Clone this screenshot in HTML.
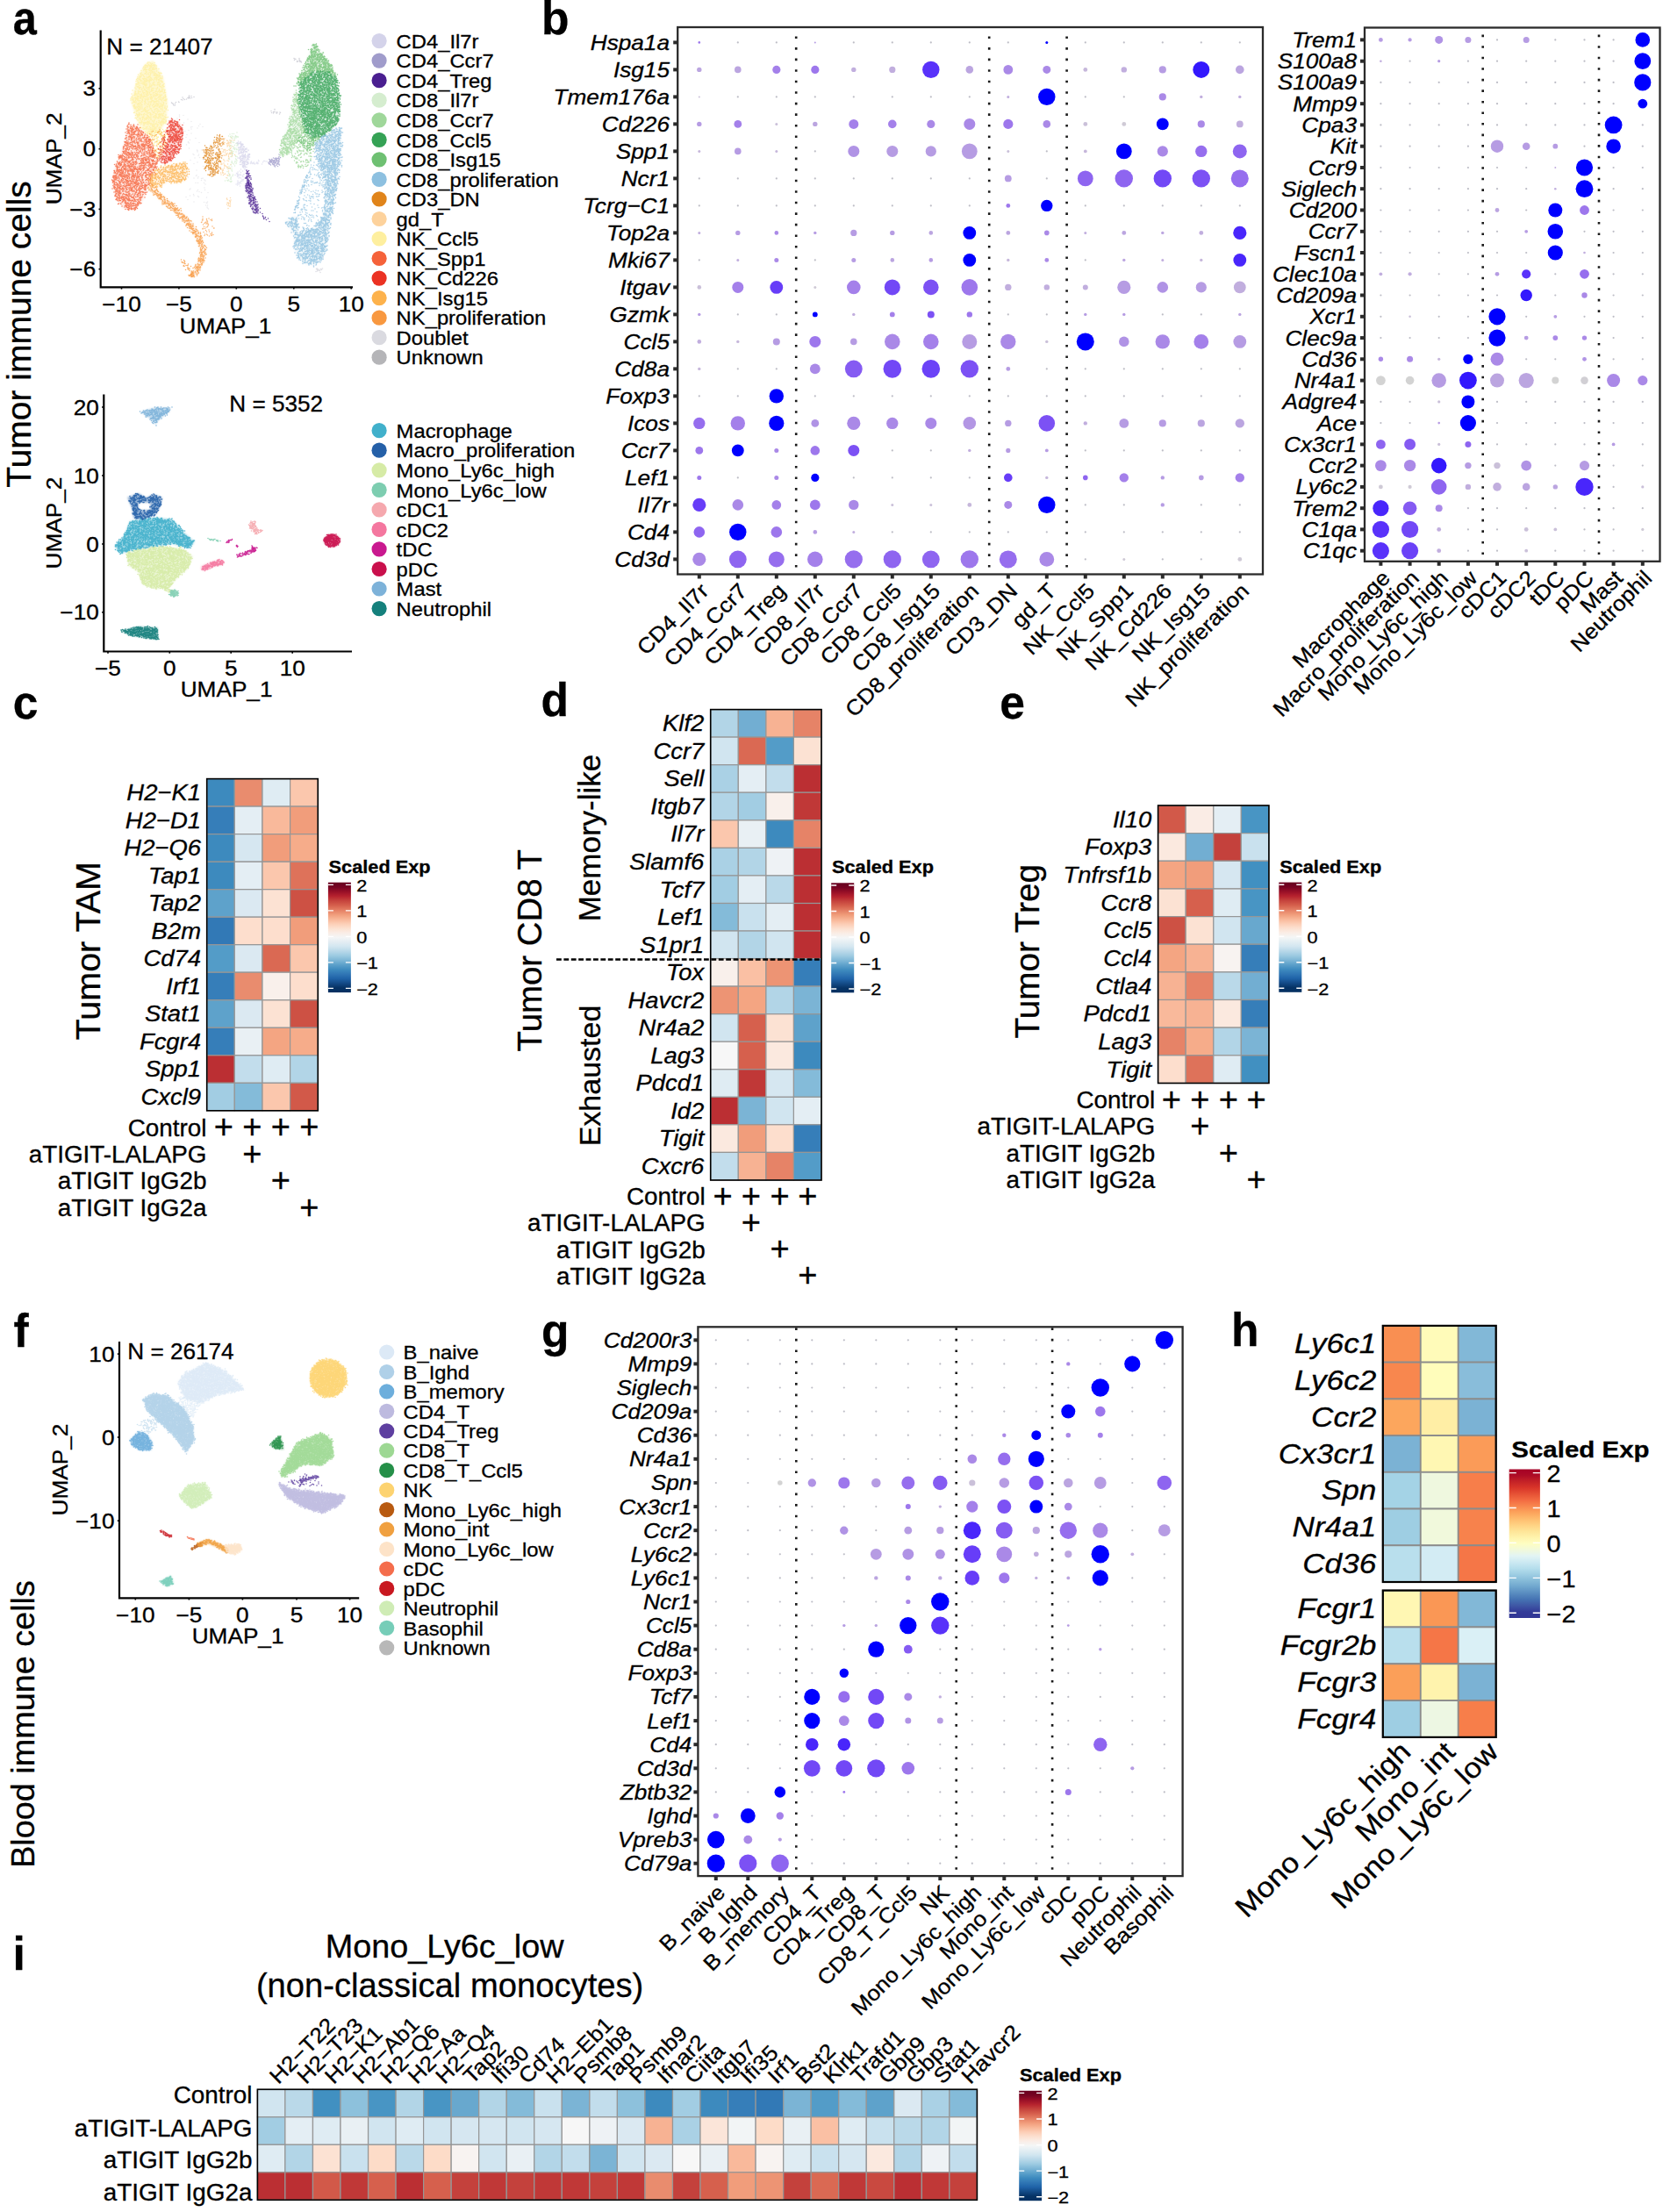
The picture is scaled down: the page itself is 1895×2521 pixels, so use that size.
<!DOCTYPE html>
<html><head><meta charset="utf-8"><title>Figure</title>
<style>html,body{margin:0;padding:0;background:#fff}svg{display:block}text{font-family:"Liberation Sans", sans-serif;fill:#000;stroke:#000;stroke-width:.3px}</style></head>
<body>
<svg width="1895" height="2521" viewBox="0 0 1895 2521">
<rect width="1895" height="2521" fill="#fff"/>
<text transform="translate(14.7 39) scale(0.9 1)" font-size="54" font-weight="bold">a</text>
<text transform="translate(617 38.5) scale(0.955 1)" font-size="54" font-weight="bold">b</text>
<text transform="translate(14.8 818.6) scale(0.955 1)" font-size="54" font-weight="bold">c</text>
<text transform="translate(616.6 816.3) scale(0.955 1)" font-size="54" font-weight="bold">d</text>
<text transform="translate(1139.3 818.7) scale(0.955 1)" font-size="54" font-weight="bold">e</text>
<text transform="translate(15.5 1534.5) scale(0.955 1)" font-size="54" font-weight="bold">f</text>
<text transform="translate(617 1534.7) scale(0.955 1)" font-size="54" font-weight="bold">g</text>
<text transform="translate(1403 1533.5) scale(0.955 1)" font-size="54" font-weight="bold">h</text>
<text transform="translate(14.5 2245) scale(0.955 1)" font-size="54" font-weight="bold">i</text>
<text transform="translate(34.5 381) rotate(-90)" font-size="39" text-anchor="middle">Tumor immune cells</text>
<text transform="translate(38.8 1965) rotate(-90)" font-size="37.8" text-anchor="middle">Blood immune cells</text>
<path d="M114.7 34.5V327.4H402" fill="none" stroke="#000" stroke-width="2.2"/><line x1="138.5" y1="327.4" x2="138.5" y2="329.6" stroke="#000" stroke-width="1.6"/><text transform="translate(138.5 354.9) scale(1.11 1)" font-size="23.6" text-anchor="middle">−10</text><line x1="203.9" y1="327.4" x2="203.9" y2="329.6" stroke="#000" stroke-width="1.6"/><text transform="translate(203.9 354.9) scale(1.11 1)" font-size="23.6" text-anchor="middle">−5</text><line x1="269.3" y1="327.4" x2="269.3" y2="329.6" stroke="#000" stroke-width="1.6"/><text transform="translate(269.3 354.9) scale(1.11 1)" font-size="23.6" text-anchor="middle">0</text><line x1="334.8" y1="327.4" x2="334.8" y2="329.6" stroke="#000" stroke-width="1.6"/><text transform="translate(334.8 354.9) scale(1.11 1)" font-size="23.6" text-anchor="middle">5</text><line x1="400.2" y1="327.4" x2="400.2" y2="329.6" stroke="#000" stroke-width="1.6"/><text transform="translate(400.2 354.9) scale(1.11 1)" font-size="23.6" text-anchor="middle">10</text><line x1="112.5" y1="100.8" x2="114.7" y2="100.8" stroke="#000" stroke-width="1.6"/><text transform="translate(109.2 109.3) scale(1.11 1)" font-size="23.6" text-anchor="end">3</text><line x1="112.5" y1="169.7" x2="114.7" y2="169.7" stroke="#000" stroke-width="1.6"/><text transform="translate(109.2 178.2) scale(1.11 1)" font-size="23.6" text-anchor="end">0</text><line x1="112.5" y1="238.4" x2="114.7" y2="238.4" stroke="#000" stroke-width="1.6"/><text transform="translate(109.2 246.9) scale(1.11 1)" font-size="23.6" text-anchor="end">−3</text><line x1="112.5" y1="306.7" x2="114.7" y2="306.7" stroke="#000" stroke-width="1.6"/><text transform="translate(109.2 315.2) scale(1.11 1)" font-size="23.6" text-anchor="end">−6</text><text transform="translate(256.9 380) scale(1.11 1)" font-size="23.6" text-anchor="middle">UMAP_1</text><text transform="translate(70 180.9) rotate(-90) scale(1.11 1)" font-size="23.6" text-anchor="middle">UMAP_2</text><text transform="translate(121.3 62.2) scale(1.025 1)" font-size="25.5">N = 21407</text>
<path d="M118.3 449.6V742.5H401" fill="none" stroke="#000" stroke-width="2.2"/><line x1="123" y1="742.5" x2="123" y2="744.7" stroke="#000" stroke-width="1.6"/><text transform="translate(123 770) scale(1.11 1)" font-size="23.6" text-anchor="middle">−5</text><line x1="193.3" y1="742.5" x2="193.3" y2="744.7" stroke="#000" stroke-width="1.6"/><text transform="translate(193.3 770) scale(1.11 1)" font-size="23.6" text-anchor="middle">0</text><line x1="263.2" y1="742.5" x2="263.2" y2="744.7" stroke="#000" stroke-width="1.6"/><text transform="translate(263.2 770) scale(1.11 1)" font-size="23.6" text-anchor="middle">5</text><line x1="333.2" y1="742.5" x2="333.2" y2="744.7" stroke="#000" stroke-width="1.6"/><text transform="translate(333.2 770) scale(1.11 1)" font-size="23.6" text-anchor="middle">10</text><line x1="116.1" y1="464" x2="118.3" y2="464" stroke="#000" stroke-width="1.6"/><text transform="translate(112.8 472.5) scale(1.11 1)" font-size="23.6" text-anchor="end">20</text><line x1="116.1" y1="542" x2="118.3" y2="542" stroke="#000" stroke-width="1.6"/><text transform="translate(112.8 550.5) scale(1.11 1)" font-size="23.6" text-anchor="end">10</text><line x1="116.1" y1="620" x2="118.3" y2="620" stroke="#000" stroke-width="1.6"/><text transform="translate(112.8 628.5) scale(1.11 1)" font-size="23.6" text-anchor="end">0</text><line x1="116.1" y1="697.8" x2="118.3" y2="697.8" stroke="#000" stroke-width="1.6"/><text transform="translate(112.8 706.3) scale(1.11 1)" font-size="23.6" text-anchor="end">−10</text><text transform="translate(258.1 794) scale(1.11 1)" font-size="23.6" text-anchor="middle">UMAP_1</text><text transform="translate(70 596) rotate(-90) scale(1.11 1)" font-size="23.6" text-anchor="middle">UMAP_2</text><text transform="translate(261.3 469.2) scale(1.025 1)" font-size="25.5">N = 5352</text>
<path d="M136 1528.9V1821.3H409.2" fill="none" stroke="#000" stroke-width="2.2"/><line x1="154.3" y1="1821.3" x2="154.3" y2="1823.5" stroke="#000" stroke-width="1.6"/><text transform="translate(154.3 1848.8) scale(1.11 1)" font-size="23.6" text-anchor="middle">−10</text><line x1="215.4" y1="1821.3" x2="215.4" y2="1823.5" stroke="#000" stroke-width="1.6"/><text transform="translate(215.4 1848.8) scale(1.11 1)" font-size="23.6" text-anchor="middle">−5</text><line x1="276.4" y1="1821.3" x2="276.4" y2="1823.5" stroke="#000" stroke-width="1.6"/><text transform="translate(276.4 1848.8) scale(1.11 1)" font-size="23.6" text-anchor="middle">0</text><line x1="338" y1="1821.3" x2="338" y2="1823.5" stroke="#000" stroke-width="1.6"/><text transform="translate(338 1848.8) scale(1.11 1)" font-size="23.6" text-anchor="middle">5</text><line x1="398.6" y1="1821.3" x2="398.6" y2="1823.5" stroke="#000" stroke-width="1.6"/><text transform="translate(398.6 1848.8) scale(1.11 1)" font-size="23.6" text-anchor="middle">10</text><line x1="133.8" y1="1543.1" x2="136" y2="1543.1" stroke="#000" stroke-width="1.6"/><text transform="translate(130.5 1551.6) scale(1.11 1)" font-size="23.6" text-anchor="end">10</text><line x1="133.8" y1="1638" x2="136" y2="1638" stroke="#000" stroke-width="1.6"/><text transform="translate(130.5 1646.5) scale(1.11 1)" font-size="23.6" text-anchor="end">0</text><line x1="133.8" y1="1733.2" x2="136" y2="1733.2" stroke="#000" stroke-width="1.6"/><text transform="translate(130.5 1741.7) scale(1.11 1)" font-size="23.6" text-anchor="end">−10</text><text transform="translate(271.1 1873) scale(1.11 1)" font-size="23.6" text-anchor="middle">UMAP_1</text><text transform="translate(77 1675.1) rotate(-90) scale(1.11 1)" font-size="23.6" text-anchor="middle">UMAP_2</text><text transform="translate(145.3 1548.5) scale(1.025 1)" font-size="25.5">N = 26174</text>
<defs><filter id="sblur" x="-5%" y="-5%" width="110%" height="110%"><feGaussianBlur stdDeviation="1.3"/></filter></defs><g filter="url(#sblur)"><path d="M149.2 115.8L156.8 138.6L168.2 153.8L180.8 151.3L189.7 138.6L190.9 115.8L185.9 88L174.5 69L165.6 72.8L156.8 87.9Z" fill="#FEEFA0" fill-opacity="0.5" fill-rule="evenodd"/><path d="M127.7 207L131.5 224.7L140.3 237.3L153 239.9L163.1 227.2L170.7 208.3L175.8 189.2L174.5 171.5L168.2 153.8L156.8 143.7L145.4 141.1L144.1 154L139 171.6L131.5 189.2Z" fill="#F5623A" fill-opacity="0.15" fill-rule="evenodd"/><path d="M182.1 179.1L185.9 186.7L193.5 184.2L202.3 174L207.4 161.4L208.7 148.7L203.6 138.6L193.5 136.1L191 146.2L192.1 156.7L188.4 168.9Z" fill="#EB3223" fill-opacity="0.15" fill-rule="evenodd"/><path d="M169.4 201.9L172 212L180.8 214.6L190.9 207.2L202.3 209.5L211.2 205.7L215 195.6L211.2 184.2L201 186.7L185.9 189.2L175.8 195.6Z" fill="#FDB24C" fill-opacity="0.15" fill-rule="evenodd"/><path d="M183.6 229.5L198.9 242.3L213.7 257.2L223.4 271.7L228.1 285.7L225.8 297L219.9 307.6L216.2 312.6L216.4 314.5L217.3 315.8L219.1 316.6L220.7 316.3L221.7 315.6L225.3 311.4L232 299.4L234.7 286.1L234.6 284.4L229.4 268.9L218.8 253L203.4 237.5L188.1 224.8L174 210.7L172.3 210L170.1 210.6L168.7 212.6L169.2 215.1Z" fill="#F89840" fill-opacity="0.15" fill-rule="evenodd"/><path d="M283.5 227.6L288.6 241.4L290.8 243L293.5 242.6L294.8 241L295 238.7L290.2 225.6L286.2 210.8L284.8 208.9L282.6 208.2L280.1 209.4L279.3 212Z" fill="#4A1F90" fill-opacity="0.15" fill-rule="evenodd"/><path d="M336.4 100.5L341.9 93.7L358.2 81.6L374.1 81.6L383.8 88.3L377 74.7L367.6 61.2L358.1 49L355.4 54.5L349.9 68.1L341.8 84.2Z" fill="#6EC072" fill-opacity="0.15" fill-rule="evenodd"/><path d="M339.1 114.1L343.2 133.1L347.2 149.4L355.4 157.5L366.2 156.1L377.1 148L385.2 138.5L387.2 124.9L386.6 106L383.9 89.7L374.4 81.5L358.1 81.5L341.8 93.7Z" fill="#35A255" fill-opacity="0.15" fill-rule="evenodd"/><path d="M318.7 172.4L321.5 179.2L331 173.8L339 160.3L347.2 149.4L343.2 133L336.4 100.5L332.3 124.9L328.3 145.1L321.5 160.2Z" fill="#9FD79A" fill-opacity="0.15" fill-rule="evenodd"/><path d="M335 268.7L335 280.9L339.1 293.2L348.6 301.3L358 302.6L366.2 295.8L371.6 285L377.1 246.9L385.2 206.3L387.9 186L389.3 165.7L388.6 145.3L377.1 148L366.2 156.1L358.1 165.6L363.5 185.9L370.3 206.4L371.6 226.7L367.5 247L358 260.4L343.2 263.3Z" fill="#8DC0E0" fill-opacity="0.15" fill-rule="evenodd"/><path d="M324.2 253.8L331 260.7L336.4 270.1L340.4 260.6L336.4 245.7Z" fill="#8DC0E0" fill-opacity="0.15" fill-rule="evenodd"/></g><g fill="none" stroke-linecap="round" stroke-linejoin="round" transform="scale(.5)"><path d="M301 235zm1-6zm-4-1zm4-1zm-1-1zm-3-1zm5-2zm-4-1zm2-1zm1-3zm-2-4zm2-8zm9-25zm-1 4zm0 6zm0 2zm0 3zm-2 4zm2 3zm-2 5zm1 1zm-1 2zm0 1zm-1 2zm1 0zm2 0zm-4 3zm2 0zm1 5zm-2 1zm3 0zm-6 3zm5 0zm1 0zm1 0zm-2 3zm-4 1zm1 1zm4 1zm-6 1zm1 0zm2 0zm3 2zm-3 4zm-1 1zm-2 1zm3 1zm-2 1zm4 1zm-3 1zm0 1zm3 0zm1 0zm-3 1zm1 0zm2 1zm1 6zm-4 2zm-2 1zm6 2zm-2 4zm1 5zm-2 1zm3 2zm8 15zm-1-4zm-1-3zm-3-5zm0-1zm5-1zm0-2zm-1-1zm-5-2zm1 0zm0-1zm2-2zm-3-1zm5 0zm0-1zm-6-1zm2 0zm2 0zm2 0zm0-1zm-1-1zm0-2zm-3-4zm-2-2zm3 0zm3 0zm-1-2zm-1-1zm-1-1zm-2-2zm5 0zm-6-2zm4 0zm-1-1zm3 0zm0-2zm-5-1zm2-1zm3-1zm-4-1zm2 0zm-1-1zm4-1zm0-1zm-3-3zm-2-1zm5 0zm-4-1zm-3-2zm1 0zm2-1zm-3-1zm7 0zm-5-2zm2-1zm-3-1zm2-1zm1 0zm-4-1zm7-3zm-7-1zm3 0zm1-1zm-1-2zm3-2zm-3-1zm0-1zm3-4zm-1-1zm0-1zm1 0zm-1-2zm-4-1zm2 0zm-1-1zm4-2zm-5-3zm3 0zm-4-1zm3-2zm3 0zm-3-1zm-1-1zm0-3zm-2-2zm6-1zm-2-1zm-3-1zm1-1zm5 0zm-1-2zm-4-1zm5 0zm-1-2zm-3-3zm12-17zm-1 3zm1 4zm-5 1zm0 5zm-2 1zm0 2zm1 1zm3 0zm2 1zm1 1zm-5 1zm-1 2zm4 4zm2 1zm0 1zm-7 1zm1 2zm1 0zm-2 1zm4 0zm3 2zm-3 2zm-2 1zm4 0zm0 1zm1 0zm-1 1zm1 5zm-7 2zm1 0zm6 0zm-3 3zm-1 1zm0 2zm3 2zm-1 1zm-5 1zm5 1zm2 1zm0 2zm-4 1zm-1 2zm1 0zm-3 1zm3 0zm-3 1zm3 0zm4 1zm-7 1zm1 0zm1 0zm3 0zm-5 2zm1 0zm5 1zm-4 1zm3 2zm-1 1zm1 0zm0 2zm-2 2zm1 2zm-3 2zm1 3zm2 1zm-2 1zm-1 4zm3 0zm-4 3zm4 1zm-4 1zm6 4zm1 0zm-3 1zm-2 1zm-2 5zm3 1zm4 0zm-4 1zm3 4zm-2 1zm1 1zm2 0zm-2 1zm-5 1zm0 1zm5 1zm0 1zm-3 2zm1 2zm1 1zm-4 1zm2 0zm5 1zm-5 2zm5 0zm-6 8zm5 1zm-6 1zm3 0zm3 2zm1 1zm8 8zm-4-2zm-2-7zm4 0zm-3-1zm4-1zm-1-2zm-5-4zm1-3zm6 0zm-5-2zm2 0zm1-1zm-5-1zm3 0zm4 0zm0-1zm-6-4zm4-1zm-1-1zm1 0zm0-1zm-4-1zm1 0zm5 0zm0-1zm-2-1zm-5-4zm0-2zm7 0zm-3-1zm-4-1zm1-1zm6-1zm0-2zm-4-1zm2-1zm-2-2zm4 0zm-6-1zm2 0zm-3-1zm4 0zm-4-1zm3 0zm-2-2zm1 0zm5-1zm-4-1zm3-3zm-4-4zm5-1zm-5-2zm2-1zm-1-2zm-2-1zm2-1zm0-2zm4-1zm-4-1zm3 0zm-4-1zm-2-4zm5 0zm-5-1zm1 0zm3 0zm-2-1zm-1-1zm6 0zm-2-2zm1 0zm-6-1zm4-1zm-4-2zm7 0zm-7-1zm2 0zm5 0zm-2-2zm1 0zm0-1zm-2-2zm3 0zm-6-1zm2 0zm-2-1zm1 0zm-2-3zm5 0zm-1-3zm-1-3zm2 0zm1 0zm-4-1zm-1-1zm2 0zm1 0zm3-1zm-7-1zm2 0zm3 0zm-3-2zm-1-2zm2 0zm4 0zm-3-2zm2 0zm-5-1zm2 0zm-2-1zm5 0zm-6-1zm4-1zm3 0zm-3-1zm3 0zm-7-1zm2 0zm2 0zm2-3zm-6-1zm1 0zm5-5zm-4-2zm2-1zm1-1zm2-2zm-3-1zm0-3zm-2-1zm4 0zm1 0zm-3-1zm-3-1zm2-2zm-1-2zm3 0zm-5-1zm3-2zm-1-1zm3 0zm1 0zm-3-1zm6-6zm3 0zm-4 2zm7 0zm-7 1zm3 2zm1 2zm3 0zm-7 1zm1 0zm4 0zm-5 1zm5 0zm2 0zm-7 1zm7 0zm-7 1zm5 2zm1 1zm-2 1zm-1 2zm1 1zm2 0zm1 0zm-2 1zm2 3zm-3 1zm-3 3zm6 0zm-4 1zm4 0zm0 1zm-3 3zm2 0zm-4 2zm3 0zm1 0zm-3 1zm-2 1zm6 0zm-3 3zm2 0zm1 2zm-7 1zm5 0zm2 0zm-5 1zm1 0zm1 2zm1 0zm-1 2zm2 3zm-1 3zm1 2zm-1 1zm0 1zm-5 1zm3 0zm-3 1zm4 1zm-3 2zm3 1zm0 2zm-4 3zm6 0zm-4 1zm3 1zm-5 2zm1 0zm-1 1zm5 0zm2 1zm-5 1zm0 1zm5 0zm-7 2zm6 2zm-4 2zm5 0zm-7 1zm7 1zm-4 1zm-2 2zm1 4zm4 0zm0 1zm-3 3zm4 1zm-5 1zm0 1zm4 1zm-1 1zm0 1zm-4 1zm4 1zm2 3zm-1 1zm-3 3zm-3 1zm0 2zm4 3zm1 0zm-3 1zm5 0zm-1 3zm-5 2zm1 2zm-2 1zm3 0zm-1 1zm2 0zm0 1zm2 1zm-6 1zm3 2zm4 0zm-6 4zm4 0zm-3 1zm1 2zm1 0zm-3 1zm4 1zm-3 1zm0 2zm5 0zm-7 5zm5 0zm2 2zm-5 3zm4 0zm0 1zm-3 4zm3 0zm1 2zm-6 1zm4 1zm-4 2zm4 1zm1 1zm-2 4zm6-8zm-2-1zm1 0zm2 0zm0-2zm3 0zm-2-3zm-4-1zm2 0zm3 0zm-5-1zm2 0zm1 0zm2-1zm1 0zm-4-2zm2-3zm2 0zm-3-2zm4 0zm-4-1zm2-1zm-3-2zm3-1zm-5-1zm6-3zm1 0zm-4-2zm0-1zm4 0zm-6-3zm-1-4zm5-1zm-5-1zm6-1zm-6-1zm0-3zm4 0zm-4-1zm5-3zm1 0zm-2-3zm-2-2zm-1-4zm4-4zm2 0zm0-1zm-4-2zm2-2zm0-1zm-5-1zm5 0zm-4-4zm6 0zm-7-1zm6 0zm-4-1zm5 0zm-5-1zm4 0zm-4-1zm2 0zm-2-1zm-2-2zm0-2zm1 0zm2 0zm0-2zm-2-1zm6 0zm-6-2zm4 0zm0-1zm-3-3zm5 0zm-2-3zm0-1zm-4-3zm0-1zm1 0zm2 0zm1-2zm-4-1zm1 0zm0-2zm1-1zm1 0zm3 0zm-7-3zm1-2zm0-2zm3 0zm1-1zm1 0zm0-2zm-2-1zm2-2zm-5-5zm5 0zm-3-2zm-1-1zm-1-2zm5-7zm-6-4zm4-1zm3 0zm-5-2zm2-1zm-3-2zm1-1zm4-1zm1 0zm-4-1zm2 0zm-2-2zm3 0zm-6-2zm5 0zm-3-2zm-1-1zm0-1zm6 0zm-3-1zm3 0zm0-1zm-6-1zm6 0zm-4-2zm5-2zm2 5zm0 1zm0 1zm3 0zm-5 3zm4 1zm0 1zm0 1zm-3 1zm3 0zm1 0zm0 5zm-5 2zm0 3zm3 0zm-3 2zm4 0zm-3 1zm5 0zm-1 1zm-5 1zm2 0zm4 1zm-2 1zm0 2zm-2 1zm2 0zm2 0zm-6 1zm4 0zm1 0zm-5 1zm6 0zm0 1zm-6 1zm4 0zm1 3zm-5 3zm7 2zm-6 4zm6 0zm-1 1zm-5 1zm6 4zm0 2zm-3 1zm1 2zm-3 4zm2 0zm0 1zm3 1zm-7 1zm3 2zm2 1zm1 0zm0 1zm-2 1zm-4 1zm7 0zm-6 1zm4 0zm-2 1zm-1 5zm-1 1zm4 0zm-4 1zm3 1zm1 3zm2 0zm-4 1zm2 0zm-4 1zm2 0zm2 3zm-5 1zm4 0zm3 0zm-3 2zm3 1zm-6 1zm5 0zm1 0zm-4 1zm-2 1zm0 1zm5 0zm-2 4zm2 1zm-6 1zm2 0zm-1 4zm4 0zm-5 3zm7 1zm-5 2zm2 1zm1 0zm-1 2zm-2 1zm-1 1zm2 2zm2 0zm0 1zm-5 1zm1 0zm6 1zm-4 1zm-3 3zm0 1zm5 4zm-3 4zm2 0zm-4 1zm6 0zm-6 3zm6 1zm1 1zm-7 2zm4 0zm-4 1zm2 1zm2 0zm-3 1zm-1 1zm0 2zm1 0zm2 1zm2 0zm1 0zm-3 2zm3 2zm-4 1zm2 0zm-2 5zm6-5zm2 0zm0-10zm5 0zm-2-1zm-1-1zm-4-5zm0-1zm7 0zm-2-2zm-1-2zm-3-1zm4 0zm2-1zm0-1zm-4-1zm-1-1zm0-5zm5 0zm-6-1zm0-1zm1-1zm4 0zm1 0zm-3-1zm-2-1zm0-1zm3-1zm0-1zm-4-1zm2 0zm0-1zm3 0zm-3-1zm-3-5zm5 0zm-4-1zm2 0zm-3-1zm0-2zm6-2zm1 0zm-4-3zm-1-1zm3 0zm-2-2zm2 0zm1 0zm-6-2zm7 0zm-6-1zm5-2zm-4-1zm5-1zm-5-3zm-2-2zm2-3zm4 0zm1-1zm-3-1zm-4-2zm2-1zm4 0zm-3-1zm3 0zm-4-1zm2-2zm2 0zm1-1zm-3-1zm-4-1zm4 0zm0-4zm0-1zm3-1zm-6-1zm4 0zm-2-2zm0-2zm0-1zm4-5zm-2-1zm1 0zm-3-1zm-1-3zm2 0zm1-2zm-4-2zm1 0zm-1-1zm2 0zm-1-4zm3 0zm-4-2zm0-1zm2 0zm1-2zm2-1zm-1-1zm-4-1zm2-2zm-3-1zm5 0zm-5-1zm4 0zm-4-1zm3-1zm0-3zm3 0zm0-1zm-5-1zm1 0zm0-8zm6 10zm2 7zm0 4zm-2 1zm0 5zm0 1zm1 1zm-1 1zm3 0zm3 4zm-2 2zm-2 2zm2 1zm2 1zm-2 1zm-3 2zm3 3zm-3 1zm6 1zm-5 1zm-2 2zm7 0zm-5 1zm5 2zm-2 1zm-4 4zm4 5zm-3 2zm3 1zm-1 1zm-1 1zm-3 2zm6 1zm-5 1zm3 3zm1 1zm-1 3zm1 0zm-4 2zm2 0zm-1 1zm2 0zm-1 1zm-2 2zm1 1zm0 2zm5 0zm-5 3zm0 2zm0 2zm4 1zm1 0zm-2 4zm-5 1zm4 0zm-4 3zm3 0zm-1 2zm2 0zm3 2zm-3 3zm0 1zm0 1zm2 0zm-4 1zm4 0zm1 0zm-3 2zm-3 1zm0 2zm1 0zm2 0zm-2 1zm4 0zm-6 2zm4 0zm2 0zm-6 1zm4 1zm-3 2zm-1 3zm10-5zm-2-2zm2-2zm1-1zm-2-1zm2-2zm-3-1zm1-4zm3-1zm-2-1zm5 0zm-7-1zm2-4zm-2-8zm7-3zm-4-1zm-1-1zm1-1zm0-1zm-3-1zm0-1zm5-1zm-5-2zm5 0zm-2-6zm-1-6zm-1-1zm-1-1zm3 0zm-1-2zm2 0zm-4-4zm2-1zm-2-1zm1-2zm-1-1zm1-1zm0-5zm-1-6z" stroke="#FEEFA0" stroke-width="3" stroke-opacity="0.8"/><path d="M343 307zm-1 9zm8 31zm0-9zm1-6zm-1-3zm1-3zm-5-7zm4-5zm1-2zm-7-3zm2 0zm5 0zm-7-1zm3-1zm1-1zm6-5zm1 1zm-3 2zm1 3zm0 2zm4 2zm-5 1zm6 0zm-2 3zm2 0zm-5 2zm5 0zm1 3zm-2 1zm-5 1zm7 0zm0 1zm-1 1zm-4 1zm4 3zm1 0zm-6 4zm6 1zm0 4zm-1 3zm0 1zm-2 3zm0 1zm-3 7zm3 1zm3 1zm-5 1zm5 1zm0 3zm-2 2zm4-2zm1-3zm2 0zm1-6zm-5-2zm2 0zm3-3zm-5-5zm4-8zm1-1zm-5-2zm1-2zm1-1zm4 0zm-1-3zm-2-2zm-3-1zm0-7zm1 0zm0-1zm6 0zm0-2zm-4-3zm3-1zm-5-2zm2 0zm4-1zm-7-1zm0-2zm7 0zm-1-1zm0-1zm-2-1zm7-2zm3 4zm-5 2zm-1 1zm1 2zm-1 1zm6 1zm-4 3zm-2 1zm5 0zm2 3zm-4 1zm1 0zm-1 2zm4 0zm-7 1zm2 0zm0 2zm4 0zm-6 1zm6 4zm1 0zm-6 3zm6 1zm-1 2zm1 0zm-3 1zm-4 1zm4 2zm-3 3zm1 0zm0 5zm1 0zm-2 3zm1 0zm6-13zm1-6zm2-2zm4-10zm-7-4zm1-1zm3-3zm-2-10zm1-1z" stroke="#FEEFA0" stroke-width="3" stroke-opacity="0.9"/><path d="M341 305zm0 7zm10 30zm-1-3zm-3-12zm-1-5zm-1-2zm4-1zm2-1zm-4-1zm-1-5zm2-3zm-4-3zm2-6zm3-1zm10 3zm-2 5zm-2 1zm-2 2zm3 13zm1 9zm-2 10zm-3 2zm4 2zm10 10zm0-7zm-6-1zm3-7zm2-2zm-4-10zm2-3zm2-1zm1-19zm-1-2zm-5-1zm0-2zm3-1zm-1-1zm2 0zm0-4zm10 5zm-5 2zm-1 6zm4 1zm3 1zm-3 1zm3 7zm-3 1zm1 6zm-4 11zm4 3zm-3 2zm-2 1zm1 10zm8-19zm1-8zm3-19zm3-8z" stroke="#FDB24C" stroke-width="3" stroke-opacity="0.8"/><path d="M255 410zm6-35zm-1 14zm1 0zm0 2zm2 2zm-3 1zm2 0zm-2 6zm3 0zm-5 1zm1 0zm3 0zm0 1zm-3 1zm-2 1zm4 0zm-2 1zm4 0zm-3 2zm3 0zm-3 1zm3 0zm-1 1zm-4 2zm-1 1zm1 0zm3 0zm-1 1zm-3 1zm3 0zm-1 1zm-2 1zm5 0zm-1 2zm-1 1zm1 0zm-1 1zm1 1zm1 1zm-4 1zm3 2zm-2 1zm2 1zm2 0zm-1 1zm-2 1zm2 0zm-6 1zm5 0zm2 3zm0 4zm-3 1zm3 6zm-1 2zm0 1zm7 18zm2-1zm-1-6zm-3-1zm-3-2zm3 0zm4-1zm-6-1zm3-1zm3-1zm-4-1zm1 0zm3 0zm-5-2zm-2-1zm0-1zm5 0zm1-2zm0-1zm-5-1zm1 0zm4 0zm-4-1zm-2-1zm5-1zm-2-2zm-2-1zm3 0zm3 0zm-6-1zm5 0zm-2-1zm-3-2zm2 0zm3-2zm-4-1zm1 0zm0-1zm4-1zm-2-1zm-2-2zm2 0zm-3-2zm5 0zm-7-1zm3 0zm2-1zm-2-1zm-1-2zm-1-1zm6-3zm0-1zm-3-1zm-4-1zm1-2zm2-1zm0-1zm4 0zm-5-1zm1 0zm4 0zm-7-2zm6 0zm-4-1zm4 0zm-5-3zm6 0zm-4-2zm-3-2zm3-1zm2 0zm1-2zm1-1zm-6-1zm2 0zm1 0zm-1-1zm2-1zm1 0zm-3-1zm-1-1zm2-1zm-1-2zm1-1zm-2-1zm3 0zm-3-1zm1 0zm1 0zm-4-1zm0-1zm4 0zm-3-2zm5-1zm-5-1zm6 0zm-2-1zm1 0zm1-2zm-3-1zm-1-2zm4-6zm-1-4zm0-5zm9-1zm-4 2zm-2 1zm4 0zm-5 1zm4 0zm1 0zm2 0zm-6 1zm1 0zm-2 1zm4 1zm2 0zm-6 1zm2 0zm5 0zm-1 1zm0 3zm0 1zm0 3zm-4 1zm5 0zm-6 1zm5 0zm-5 1zm4 0zm-3 2zm2 0zm-4 1zm3 1zm1 0zm1 0zm-2 1zm-2 1zm1 0zm2 0zm-2 1zm5 2zm-7 1zm7 0zm-2 2zm0 1zm-4 2zm4 0zm-5 1zm2 0zm4 0zm-3 1zm1 0zm-1 1zm3 0zm-6 1zm6 1zm-5 1zm4 0zm2 0zm-4 1zm4 1zm-3 1zm-3 1zm5 0zm-6 1zm2 0zm-1 1zm3 0zm-4 1zm3 1zm3 0zm-4 1zm3 0zm-2 1zm1 0zm2 2zm1 2zm0 1zm-7 1zm5 1zm-1 2zm1 0zm2 1zm-3 1zm-3 1zm-1 1zm1 0zm3 0zm-3 2zm1 0zm-2 1zm2 2zm2 2zm-3 2zm3 0zm-1 1zm1 0zm-3 1zm0 2zm6 0zm0 1zm-7 1zm1 0zm2 0zm2 1zm-1 1zm-3 2zm0 1zm-1 1zm2 0zm5 0zm-7 3zm1 0zm-1 1zm2 0zm2 0zm-4 1zm2 1zm5 2zm-7 1zm1 2zm0 1zm4 0zm2 0zm-2 1zm2 1zm-4 1zm-3 1zm1 0zm1 0zm3 0zm1 2zm-6 2zm1 1zm2 0zm4 3zm-1 1zm-3 3zm1 1zm2 5zm8 7zm-2-5zm3-2zm-2-1zm1-1zm1-4zm-2-1zm2-2zm-3-1zm-4-1zm0-1zm6 0zm1 0zm-5-1zm2-1zm-4-1zm1 0zm2 0zm2-1zm-3-1zm1 0zm3-1zm-5-1zm5 0zm1-1zm-4-1zm-2-1zm4 0zm2-3zm-5-2zm3 0zm-3-1zm-1-1zm6-3zm0-1zm-5-1zm-2-1zm6 0zm-6-1zm0-3zm1 0zm2 0zm3-2zm-5-1zm5-1zm-2-2zm-4-1zm6 0zm-4-1zm5 0zm-3-3zm-4-3zm2 0zm-2-2zm5 0zm-2-1zm4-3zm-6-1zm5 0zm-5-1zm4 0zm-4-2zm3-1zm1-2zm1 0zm-4-1zm-2-1zm4 0zm1 0zm1 0zm-6-1zm0-1zm2 0zm4 0zm-2-2zm-4-2zm1 0zm4 0zm-4-2zm4-1zm-4-2zm6 0zm0-2zm-6-1zm4-1zm-2-1zm4 0zm-3-1zm0-1zm1 0zm-4-1zm1 0zm3 0zm1 0zm1-2zm0-1zm-7-1zm2 0zm1 0zm1-1zm2 0zm1 0zm-5-2zm1 0zm3-1zm-2-1zm-1-2zm-1-2zm4 0zm0-2zm1 0zm-3-1zm-2-1zm5 0zm-6-2zm4 0zm-5-1zm1 0zm1 0zm1 0zm0-1zm4 0zm-4-1zm3-2zm-1-1zm-2-1zm-3-2zm1 0zm4-4zm-2-1zm4 0zm-5-1zm-1-1zm6 0zm-3-1zm-4-2zm2 0zm5 0zm-3-1zm3 0zm0-1zm0-2zm-6-1zm4-1zm-4-1zm0-1zm2-2zm-2-1zm2 0zm3-2zm1 0zm-2-1zm-1-1zm1-1zm0-4zm1-1zm-2-1zm3 0zm-2-7zm2 0zm0-7zm-1-7zm8-22zm-1 3zm1 0zm-3 3zm-1 2zm1 2zm2 0zm-5 4zm3 0zm3 2zm-2 1zm2 0zm-1 1zm-3 1zm3 1zm-1 2zm1 0zm2 0zm-3 1zm-2 1zm4 0zm1 1zm-7 4zm7 1zm-1 1zm-1 1zm1 0zm1 0zm-7 1zm0 2zm5 2zm2 0zm-6 3zm3 2zm-4 2zm2 1zm2 1zm2 0zm-6 1zm1 0zm2 0zm-1 2zm3 1zm-2 1zm-3 1zm2 0zm-1 1zm5 1zm0 1zm-4 1zm1 0zm-3 2zm2 1zm5 0zm-5 1zm1 0zm3 1zm-6 1zm5 0zm-5 3zm3 2zm2 0zm-3 1zm3 0zm1 0zm-3 1zm1 0zm1 1zm1 0zm-6 1zm7 0zm-7 1zm1 0zm-1 1zm1 0zm3 0zm3 0zm-7 1zm3 0zm2 2zm-4 2zm4 0zm2 0zm-3 2zm2 0zm-6 2zm2 1zm-2 1zm1 1zm1 0zm-1 1zm0 1zm5 0zm-3 1zm2 0zm2 0zm-3 1zm1 0zm0 1zm1 0zm1 1zm-5 1zm2 2zm0 2zm1 1zm-3 1zm5 0zm-4 1zm2 0zm1 1zm1 0zm0 1zm-1 2zm1 0zm-5 1zm0 3zm4 0zm0 1zm-3 1zm1 1zm1 0zm1 0zm-3 1zm0 3zm1 0zm0 1zm3 1zm-2 1zm1 0zm-5 1zm5 0zm-4 1zm-2 1zm3 0zm3 1zm-5 1zm4 0zm1 0zm-4 1zm4 0zm-3 2zm4 0zm-6 1zm2 1zm4 0zm-1 1zm-6 1zm1 2zm2 0zm-1 1zm5 0zm-5 1zm3 0zm-5 1zm3 0zm1 0zm1 0zm-5 1zm4 0zm-4 1zm4 0zm-1 1zm-3 1zm1 1zm4 0zm-1 2zm-3 1zm5 0zm1 0zm-6 1zm1 0zm3 0zm2 0zm-7 1zm2 3zm4 1zm0 1zm-5 1zm5 0zm-6 1zm1 0zm1 1zm-1 1zm6 0zm-1 3zm-1 1zm1 0zm-4 1zm1 0zm3 0zm-4 1zm4 2zm-1 1zm1 0zm-6 1zm1 0zm5 0zm-5 1zm-1 1zm3 0zm-1 1zm4 0zm0 1zm-4 1zm3 0zm0 2zm-5 1zm6 0zm-5 1zm0 1zm1 0zm4 0zm-4 1zm2 0zm2 0zm-4 1zm3 0zm2 1zm-3 1zm3 0zm-1 1zm-3 4zm-2 1zm1 0zm3 0zm-5 2zm4 0zm-4 1zm7 1zm-6 1zm2 0zm2 0zm1 0zm0 2zm-6 1zm1 0zm6 0zm-2 1zm1 0zm-5 1zm2 0zm3 0zm1 2zm-2 1zm-2 1zm2 0zm1 1zm-1 1zm6-2zm2 0zm-3-1zm1 0zm2-1zm-3-1zm1-2zm-1-2zm4 0zm-1-1zm1 0zm-5-1zm3-1zm-4-3zm2 0zm3 0zm1-1zm-4-1zm0-1zm2-3zm1 0zm-5-1zm2 0zm5 0zm-2-1zm-5-2zm6-3zm-2-1zm1 0zm0-1zm-2-1zm-2-1zm1 0zm-2-1zm4-2zm-4-2zm7 0zm-1-5zm0-1zm-4-1zm4 0zm-2-1zm-2-1zm2-1zm2 0zm-4-2zm1 0zm1 0zm-2-1zm2 0zm-4-1zm1 0zm2 0zm4 0zm-1-1zm-4-2zm0-1zm0-1zm0-1zm5 0zm-7-2zm6-1zm-6-1zm2 0zm2 0zm1 0zm-1-1zm-2-3zm3 0zm2 0zm-6-1zm1 0zm1 0zm3-1zm-5-1zm6-1zm-3-1zm3-1zm-3-1zm0-1zm0-1zm-1-1zm1 0zm0-1zm3 0zm0-1zm-2-1zm2-2zm-7-1zm4 0zm3 0zm0-3zm-2-1zm2-1zm-3-2zm3 0zm-6-1zm3 0zm2 0zm-5-1zm1 0zm2 0zm-3-1zm4 0zm1-1zm-4-1zm2 0zm2 0zm-5-1zm2 0zm-2-1zm2-3zm-3-1zm3 0zm4 0zm-5-1zm4 0zm-2-1zm-4-2zm4 0zm1 0zm0-1zm-4-1zm6 0zm-5-1zm1 0zm-3-3zm5 0zm1-1zm-5-2zm2-2zm3 0zm-1-1zm2-2zm-2-2zm-3-1zm5 0zm-3-2zm-1-1zm-3-2zm3 0zm3 0zm-5-2zm3 0zm-3-1zm4 0zm-5-1zm0-1zm7 0zm-4-1zm2 0zm1-1zm-3-3zm4-4zm-3-2zm3 0zm0-1zm-4-1zm-3-1zm2-2zm5 0zm-3-1zm2 0zm-1-2zm-3-1zm-2-1zm6 0zm-5-3zm3 0zm0-1zm1 0zm2-2zm-4-2zm1 0zm-1-2zm2-1zm-2-1zm0-1zm3 0zm-5-2zm3 0zm2 0zm-4-2zm-1-1zm2 0zm3-2zm-3-1zm1 0zm3 0zm-7-1zm4-1zm1-2zm-2-2zm3-1zm-6-2zm3 0zm2 0zm-1-1zm1-1zm1 0zm-1-1zm-2-1zm3 0zm-5-1zm2 0zm2-1zm2 0zm-6-2zm2-1zm1 0zm-2-4zm7-1zm-1 2zm0 2zm1 0zm1 0zm5 1zm0 2zm-3 1zm1 1zm2 1zm-6 1zm-1 1zm6 0zm-3 3zm2 0zm-1 1zm-4 1zm1 0zm3 0zm-3 1zm2 0zm-3 2zm2 1zm-1 1zm2 0zm3 1zm-6 4zm1 1zm2 0zm-1 3zm5 0zm-1 3zm-4 1zm5 1zm-5 2zm1 0zm-3 2zm2 0zm5 0zm-3 2zm0 1zm-4 5zm5 0zm-5 1zm1 0zm2 0zm2 0zm-4 1zm1 0zm2 0zm1 0zm-5 1zm5 0zm1 3zm-3 1zm2 0zm-1 1zm3 3zm-4 4zm4 0zm-2 3zm-2 2zm3 0zm-6 1zm0 1zm3 0zm4 1zm-6 2zm6 0zm-4 2zm2 1zm2 3zm-7 1zm7 3zm-2 1zm-5 1zm2 0zm3 0zm1 1zm-5 1zm4 0zm-3 2zm4 1zm-6 1zm5 0zm-5 1zm1 0zm3 3zm-2 1zm-2 1zm5 1zm-5 1zm3 0zm1 1zm2 0zm-5 1zm2 0zm4 0zm-1 1zm-3 1zm-3 1zm1 1zm-1 1zm2 1zm-2 4zm5 0zm0 2zm-4 1zm-1 1zm3 0zm1 1zm2 0zm-5 1zm0 1zm3 0zm-4 2zm3 0zm4 0zm-5 2zm5 2zm-5 1zm0 1zm4 0zm1 0zm-1 2zm0 1zm-5 1zm4 0zm-1 1zm3 0zm-6 1zm1 0zm1 1zm1 0zm1 0zm-3 2zm3 0zm2 1zm-1 1zm1 0zm-4 2zm2 0zm-2 1zm-3 1zm2 1zm1 0zm4 0zm-4 2zm4 0zm-3 2zm1 1zm2 1zm-5 2zm-1 1zm6 0zm-5 1zm5 0zm-5 1zm4 0zm-1 2zm2 0zm-3 2zm0 1zm0 1zm-2 2zm0 1zm-1 2zm-1 1zm5 0zm1 0zm-5 2zm0 2zm1 0zm0 2zm2 0zm-1 3zm2 0zm-4 1zm5 0zm-6 4zm1 0zm-1 1zm4 0zm-3 2zm4 1zm2 0zm-6 2zm3 0zm1 3zm2 0zm0 1zm-5 1zm1 0zm2 0zm-5 2zm2 0zm3 1zm-2 2zm6-4zm-1-5zm3-2zm-3-1zm2 0zm-2-1zm3-1zm1 0zm-3-2zm3 0zm2-1zm-4-1zm5 0zm-1-1zm-2-1zm-2-3zm1 0zm4 0zm-7-1zm4-1zm2-3zm1 0zm0-2zm-6-1zm2 0zm0-2zm4-1zm-7-1zm1 0zm1 0zm-1-1zm2-1zm0-1zm2 0zm-2-1zm3-1zm0-1zm1-2zm-2-1zm1 0zm-5-1zm2-2zm3 0zm-2-2zm1 0zm0-2zm1-1zm-5-2zm5-1zm-6-2zm3 0zm-3-1zm2 0zm-2-1zm1 0zm3 0zm-1-2zm3 0zm-6-1zm3-1zm-2-3zm1-2zm3 0zm-5-1zm5-1zm0-2zm-5-1zm1 0zm2-2zm1 0zm1 0zm-5-1zm1 0zm1-1zm1 0zm3 0zm-3-1zm4 0zm-5-1zm-1-2zm4-1zm1 0zm-5-1zm0-2zm2 0zm0-1zm2-1zm-5-1zm2 0zm3 0zm-3-2zm0-1zm-2-1zm6 0zm1 0zm-1-1zm-4-1zm2 0zm2 0zm1 0zm-2-2zm-4-2zm4-1zm1-1zm0-1zm-1-5zm2 0zm-7-1zm0-1zm5-8zm-3-1zm3 0zm1 0zm-4-1zm-1-3zm1 0zm1-2zm-1-1zm-2-2zm0-1zm2-2zm2 0zm1-2zm-3-1zm4-2zm-3-3zm-3-2zm1 0zm-1-2zm5 0zm-1-1zm3 0zm-7-2zm1 0zm6 0zm-4-1zm1 0zm3-1zm-3-1zm-2-1zm3 0zm-4-3zm3 0zm-3-2zm1 0zm-2-1zm0-1zm2 0zm2 0zm2-4zm-4-2zm3 0zm-1-3zm2 0zm-4-3zm5 0zm-5-1zm1 0zm4-1zm-7-2zm1 0zm1 0zm4 0zm-2-1zm1 0zm-3-2zm3 0zm-1-1zm-1-3zm1-1zm2-1zm-6-1zm5-1zm1 0zm-4-1zm2 0zm0-2zm-4-2zm2 0zm-2-1zm1 0zm6 0zm-6-1zm-1-1zm2-5zm8 14zm1 2zm-3 1zm5 0zm1 0zm1 1zm0 1zm-6 1zm1 0zm2 1zm-2 1zm2 0zm-2 1zm3 0zm-1 1zm-4 1zm4 0zm1 5zm2 0zm0 1zm-5 1zm-1 1zm0 1zm1 1zm-1 1zm-1 2zm3 0zm1 1zm0 5zm2 0zm1 0zm-5 1zm1 0zm4 0zm-2 1zm-2 1zm2 1zm1 0zm-3 1zm3 2zm-4 2zm1 1zm1 0zm-4 2zm4 0zm0 1zm1 0zm1 0zm-6 2zm5 1zm-5 2zm1 0zm2 3zm1 0zm0 4zm3 1zm-4 1zm-2 1zm1 5zm3 0zm1 0zm-3 1zm3 1zm-3 1zm4 0zm-6 1zm4 0zm1 0zm1 0zm-6 1zm4 0zm2 1zm-5 1zm1 1zm3 0zm-5 2zm1 0zm3 0zm1 0zm-5 1zm5 1zm1 0zm-4 1zm-2 3zm1 0zm4 0zm-2 1zm3 0zm-6 2zm0 1zm6 0zm0 1zm-7 1zm5 0zm-1 1zm3 0zm-7 1zm1 1zm1 0zm-1 1zm6 0zm-6 1zm5 1zm-3 3zm-2 3zm6 0zm-7 3zm4 0zm2 0zm-2 1zm2 0zm-6 1zm3 2zm1 0zm-1 3zm1 0zm0 1zm0 2zm2 1zm-6 1zm5 1zm1 0zm-2 1zm-4 1zm1 2zm1 0zm5 0zm-1 1zm-3 1zm1 2zm-3 1zm3 0zm0 3zm2 0zm-6 1zm1 0zm2 1zm2 2zm0 1zm-5 1zm3 0zm-1 1zm-2 2zm0 5zm3 0zm2 0zm2 1zm-7 1zm6 0zm-6 1zm0 3zm6 0zm-1 1zm-5 1zm4 3zm-4 1zm1 1zm2 0zm-3 3zm0 2zm1 1zm1 7zm-2 1zm10-14zm2-7zm-2-3zm0-1zm1 0zm1 0zm3-1zm-5-5zm2 0zm-1-1zm1 0zm-2-1zm-2-1zm3 0zm1-1zm-4-1zm4 0zm-2-2zm2-1zm-3-1zm1 0zm3 0zm-3-1zm2 0zm3 0zm-5-1zm1 0zm2 0zm1 0zm-4-1zm2 0zm-2-1zm-2-4zm5 0zm-1-5zm1-2zm2 0zm0-4zm-3-1zm0-2zm1 0zm-2-1zm1-2zm1 0zm1-1zm1 0zm-7-3zm5 0zm-5-1zm3 0zm-1-1zm3 0zm-2-3zm3-1zm1 0zm-6-4zm-1-1zm5-2zm-4-1zm1 0zm0-1zm-1-3zm6 0zm-4-1zm0-1zm-1-1zm1 0zm1 0zm-2-3zm3 0zm2 0zm-7-1zm6-3zm-3-1zm1 0zm1 0zm-2-1zm3 0zm-1-1zm2 0zm-5-1zm2 0zm1 0zm-1-2zm-4-1zm4 0zm-4-1zm2 0zm3-3zm-3-2zm-2-3zm1 0zm1 0zm-2-1zm6 0zm-6-2zm2-2zm3 0zm1 0zm1 0zm-5-4zm-1-2zm-1-1zm1 0zm3-1zm-3-2zm-1-2zm3 0zm-3-1zm2 0zm-1-2zm1 0zm5 0zm-7-1zm3 0zm1 0zm2 0zm-6-1zm3 0zm4-1zm-3-2zm3-1zm-7-1zm0-1zm4 0zm2 0zm-2-1zm3 0zm-3-2zm-3-1zm2 0zm3 0zm-1-1zm1 0zm-1-1zm-1-1zm3-1zm-6-1zm1-1zm4 0zm-5-1zm0-2zm1-1zm5-1zm-4-2zm5 3zm2 3zm-2 1zm1 1zm2 3zm3 0zm-3 2zm0 1zm3 1zm0 1zm-6 1zm3 0zm1 3zm-4 1zm3 0zm2 3zm-5 2zm1 0zm2 1zm1 1zm-2 1zm3 0zm-5 1zm3 0zm4 0zm-2 1zm-3 2zm5 1zm-4 1zm-1 2zm1 0zm3 0zm0 1zm-1 2zm-3 1zm3 0zm1 2zm-6 1zm5 0zm-3 1zm3 0zm1 0zm0 3zm-2 2zm-4 1zm6 0zm1 0zm-4 2zm-3 1zm0 1zm3 1zm3 0zm-4 1zm2 2zm1 1zm-2 2zm-3 1zm2 0zm-2 1zm3 0zm2 0zm-5 1zm2 0zm4 1zm-1 1zm-1 1zm0 1zm3 0zm-4 1zm3 1zm-3 1zm0 1zm3 2zm1 0zm-2 1zm-1 2zm-3 1zm3 0zm-4 1zm1 0zm0 1zm2 0zm0 1zm-3 1zm5 1zm2 1zm-5 2zm1 1zm3 2zm1 0zm-3 1zm-4 1zm1 0zm-1 1zm7 0zm-3 1zm1 0zm1 0zm-2 2zm3 2zm-4 2zm-2 1zm6 0zm0 1zm-3 1zm2 0zm-2 1zm-3 1zm6 0zm-4 3zm-1 2zm4 1zm-2 2zm-3 1zm2 0zm1 1zm7-19zm-1-2zm-2-3zm2-2zm-2-7zm5-2zm-5-4zm2-1zm4 0zm-6-2zm0-1zm2 0zm0-1zm2-1zm-4-1zm5-1zm-2-1zm2-1zm-1-3zm-2-3zm2 0zm2 0zm-5-2zm4 0zm1-5zm-4-1zm2 0zm-2-1zm0-1zm-1-1zm3 0zm0-1zm2 0zm-6-1zm5 0zm-3-1zm-1-3zm4-1zm-1-1zm-2-1zm1-1zm0-2zm1 0zm-2-1zm1-2zm-3-7zm4-2zm-2-3zm0-3zm6 25zm0 4zm2 44z" stroke="#F5623A" stroke-width="3" stroke-opacity="0.8"/><path d="M340 317zm1 2zm2 0zm-5 1zm4 3zm-1 2zm2 4zm-1 1zm-3 1zm4 81zm4-1zm2-14zm-2-4zm4 0zm-6-1zm4-3zm1-1zm-2-2zm3 0zm-3-6zm1-6zm1-1zm1-6zm-4-1zm1 0zm1-9zm2-2zm-1-2zm-2-4zm-1-3zm1 0zm-1-3zm1 0zm0-4zm0-1zm-4-1zm5 0zm-5-1zm2-1zm3-1zm5 9zm-2 3zm0 5zm1 1zm1 0zm1 0zm0 2zm-3 1zm0 2zm1 1zm1 0zm4 1zm-1 1zm1 0zm-5 1zm5 0zm0 1zm1 1zm0 2zm-3 1zm3 2zm-6 1zm5 0zm-2 1zm0 1zm2 0zm-1 1zm-4 1zm1 0zm4 0zm-3 1zm1 0zm1 0zm-4 2zm1 2zm-1 1zm2 1zm3 0zm-6 1zm2 1zm-2 1zm4 0zm1 1zm-3 11zm6-28zm3-1zm-3-2zm2-3z" stroke="#F5623A" stroke-width="3" stroke-opacity="0.8"/><path d="M367 370zm0-3zm-3-4zm2-2zm-4-11zm13-11zm-3 4zm1 2zm1 0zm1 0zm-3 2zm1 1zm-4 3zm3 4zm-3 2zm1 0zm4 0zm-6 1zm5 0zm-4 1zm1 2zm0 1zm1 0zm3 0zm-5 1zm5 0zm1 0zm0 1zm-5 1zm5 1zm0 3zm-1 1zm1 0zm-5 1zm4 0zm2 2zm1-1zm3-1zm-3-1zm-1-1zm4 0zm2 0zm-2-2zm-1-1zm-2-1zm6-1zm-4-2zm4 0zm-4-1zm-2-1zm3 0zm3-2zm-7-1zm3-1zm1 0zm0-2zm1 0zm-2-3zm-2-1zm3 0zm-4-2zm2-1zm3-1zm-1-1zm2 0zm-1-1zm-3-2zm2 0zm3-1zm-6-1zm-1-1zm2 0zm2-1zm2-1zm-1-1zm-4-1zm6 0zm-2-2zm-1-1zm2-3zm-1-1zm0-1zm-2-1zm4-2zm-1-5zm1-16zm-2-4zm2 0zm-1-1zm0-1zm-1-5zm1-1zm0-8zm9-13zm-1 5zm1 0zm-5 1zm3 0zm-2 1zm3 0zm-1 1zm2 0zm-6 2zm1 0zm1 0zm2 3zm1 0zm-1 1zm-2 2zm2 0zm-4 2zm6 0zm-5 1zm2 1zm2 1zm1 0zm-1 1zm-1 1zm-1 3zm1 0zm1 0zm-3 2zm1 0zm3 0zm-4 2zm1 0zm-1 2zm0 1zm0 3zm-3 1zm6 0zm-1 1zm-2 2zm1 0zm-3 1zm2 0zm2 0zm2 1zm-6 1zm3 1zm1 1zm1 0zm1 0zm-3 1zm1 0zm-4 1zm5 1zm-2 1zm-1 1zm4 0zm-4 1zm-1 1zm1 0zm2 0zm-3 1zm1 0zm0 2zm-3 4zm0 1zm6 0zm1 0zm-7 1zm0 2zm5 0zm-1 1zm2 3zm-6 3zm2 0zm1 0zm2 0zm-3 3zm4 2zm1 0zm-2 1zm2 0zm-7 1zm1 0zm1 0zm0 1zm1 1zm-2 1zm2 0zm1 0zm-1 2zm3 0zm-4 1zm3 3zm1 0zm-5 2zm1 0zm2 0zm-4 2zm2 0zm4 0zm-6 1zm2 1zm3 0zm-5 1zm3 0zm0 1zm2 0zm-5 1zm5 0zm-3 1zm3 0zm1 0zm1 0zm2-4zm1-1zm-2-1zm6-1zm-3-1zm0-1zm1-1zm-1-1zm0-1zm1 0zm-2-1zm3-2zm-3-1zm-1-1zm1 0zm5 0zm-3-2zm-4-1zm7 0zm-7-1zm5 0zm-5-1zm2-1zm2 0zm1 0zm2-1zm-5-1zm3-1zm-1-1zm2 0zm-6-1zm0-1zm0-3zm1 0zm5 0zm-2-1zm-2-1zm3 0zm-5-1zm5-4zm1 0zm-5-2zm3-1zm-3-1zm1 0zm0-1zm3-1zm1 0zm-6-2zm1 0zm3-1zm2 0zm0-1zm1 0zm-6-1zm6 0zm-7-1zm4 0zm-2-1zm-2-2zm3 0zm3 0zm-5-1zm5 0zm0-1zm-2-1zm-1-1zm1 0zm3 0zm0-1zm-3-2zm3-1zm-7-1zm1 0zm2 0zm-3-3zm7 0zm-2-2zm-5-1zm3 0zm3 0zm-1-1zm1 0zm1 0zm-5-1zm1 0zm1 0zm2 0zm-5-1zm1 0zm-1-1zm3 0zm0-3zm1 0zm0-1zm-3-1zm1 0zm4-1zm-1-1zm-6-1zm2 0zm0-3zm5 0zm-1-1zm-5-2zm3 0zm-4-1zm5 0zm-5-1zm6 0zm-6-1zm0-1zm6 0zm-5-3zm8 5zm2 1zm2 0zm0 2zm-3 1zm-2 1zm5 1zm-5 1zm2 0zm4 0zm-3 1zm-3 1zm3 0zm1 1zm1 0zm0 1zm0 1zm2 0zm-7 4zm1 1zm-1 1zm4 3zm-3 1zm6 0zm-6 1zm3 0zm-3 1zm4 0zm2 0zm-4 1zm3 0zm1 0zm-1 1zm-4 1zm1 1zm-3 2zm7 0zm-5 1zm1 0zm1 0zm3 1zm-7 1zm3 0zm-2 1zm5 0zm-6 2zm3 0zm1 0zm1 0zm-3 2zm3 0zm2 0zm-4 1zm1 0zm-4 2zm2 0zm3 0zm1 0zm-6 2zm3 0zm1 0zm1 0zm-4 1zm-1 1zm2 2zm4 1zm0 3zm1 0zm-1 1zm-6 2zm7 1zm-6 1zm-1 1zm1 0zm-1 1zm3 0zm-3 1zm5 0zm-5 1zm2 0zm1 0zm2 3zm2 0zm-6 1zm-1 4zm3 0zm3 0zm-6 2zm5 0zm-4 1zm6 1zm-4 2zm5-4zm0-5zm1-1zm0-2zm3 0zm-1-4zm2-2zm-4-1zm-1-1zm1 0zm1 0zm1-2zm1 0zm-4-5zm3 0zm2 0zm0-1zm-5-2zm6-1zm-4-1zm2 0zm1 0zm0-1zm-4-1zm2 0zm4 0zm-7-1zm3-1zm-1-2zm1-1zm1 0zm2 0zm-5-1zm6-1zm0-1zm-7-2zm2-1zm2-1zm3 0zm-3-1zm1-2zm2 0zm-5-1zm-1-2zm5 0zm0-1zm-5-2zm2 0zm3 0zm-1-1zm0-1zm2 0zm-4-1zm-3-1zm7 0zm-2-1zm2 0zm-3-1zm-1-1zm-3-1zm0-1zm1-1zm0-13zm7 12zm0 11zm1 5zm-1 2zm1 2zm-1 4zm0 7z" stroke="#EB3223" stroke-width="3" stroke-opacity="0.8"/><path d="M364 358zm-2-3zm4-2zm-1-1zm-2-4zm3-1zm-1-5zm2-1zm-6-1zm0-1zm4-4zm0-1zm1-10zm9-17zm0 5zm-3 1zm1 2zm-3 1zm3 0zm-4 1zm6 0zm-3 3zm3 0zm0 1zm-6 1zm4 1zm0 1zm0 1zm-1 1zm-1 3zm1 0zm1 0zm2 3zm-5 1zm3 4zm-1 1zm-4 6zm2 3zm9-12zm-1-4zm-1-6zm-1-4zm6-4zm-6-4zm6-8zm-4-3zm3-2zm1 0zm-3-1zm1 0zm-1-1zm3 0zm2 0zm0 9zm1 4zm-1 10z" stroke="#EB3223" stroke-width="3" stroke-opacity="0.8"/><path d="M336 399zm5 3zm1 8zm-4 1zm4 2zm1 0zm0 2zm0 2zm6 10zm-4-3zm2-1zm1 0zm3 0zm-2-1zm-4-2zm1 0zm3-1zm-1-1zm1 0zm-5-2zm4 0zm-3-1zm4 0zm-2-2zm0-2zm3 0zm-6-1zm3 0zm-2-1zm1-1zm0-1zm-1-1zm3 0zm2-1zm-4-1zm1 0zm-2-2zm6-1zm-3-1zm-3-1zm2 0zm-1-1zm2-1zm0-2zm7-8zm0 1zm3 0zm-6 1zm7 0zm-6 3zm4 4zm2 0zm-4 1zm-2 1zm3 0zm1 0zm-2 1zm0 1zm-3 1zm3 2zm1 0zm-2 1zm1 0zm4 0zm-6 1zm2 0zm-2 1zm-1 1zm1 0zm2 0zm1 1zm1 1zm0 1zm-2 4zm-2 2zm0 1zm3 1zm3 0zm-7 1zm1 1zm1 0zm1 0zm1 0zm3 0zm-7 1zm5 3zm-2 1zm3 0zm-3 1zm3 1zm-1 1zm8-3zm0-2zm-1-2zm-2-2zm0-1zm5-1zm-1-1zm-1-1zm-4-2zm5 0zm1 0zm-2-2zm-2-3zm-2-2zm-1-1zm3 0zm2 0zm0-1zm-5-1zm1-1zm-1-1zm1 0zm6-1zm0-1zm-2-1zm-2-3zm0-1zm3 0zm-4-1zm-1-1zm1 0zm3-1zm0-1zm2-2zm-7-1zm2 0zm1 0zm-1-1zm-1-2zm5-2zm1-1zm0-3zm6 3zm-1 1zm1 0zm-3 4zm3 0zm-5 1zm1 0zm4 3zm2 1zm-3 1zm-2 1zm1 0zm0 1zm-3 1zm0 2zm2 0zm1 0zm3 0zm1 2zm-1 1zm-2 1zm-1 1zm2 0zm0 1zm-2 3zm-3 2zm5 0zm-4 2zm3 0zm-2 1zm4 0zm0 1zm-2 1zm-3 3zm3 0zm1 0zm2 0zm-6 1zm4 0zm-4 3zm-1 3zm0 1zm0 3zm11-14zm2-1zm-3-1zm0-1zm3-2zm-4-1zm3-1zm1 0zm-5-2zm0-1zm6 0zm-4-1zm-1-3zm5-2zm-1-4zm-4-1zm6-1zm-7-1zm3 0zm3 0zm-3-1zm-2-2zm-1-1zm2-1zm-1-3zm5 0zm-3-1zm1-1zm3-2zm-7-2zm9 1zm5 1zm-6 2zm4 0zm2 0zm-6 1zm7 0zm-3 2zm2 1zm-4 2zm4 0zm-2 2zm-4 3zm4 0zm-1 1zm2 0zm1 0zm-6 1zm2 0zm0 1zm4 1zm-4 3zm1 1zm4 2zm-7 1zm3 3zm2 0zm2 0zm-4 1zm4 0zm-5 2zm4 0zm1 0zm-7 1zm4 3zm-4 1zm6 1zm-3 1zm4 0zm-1 3zm8-1zm0-2zm0-1zm-5-1zm2 0zm2-1zm-3-2zm1 0zm-3-5zm4 0zm-4-1zm7 0zm-4-1zm4 0zm-6-1zm3-1zm2 0zm-6-3zm5 0zm1 0zm-6-1zm4 0zm1 0zm-3-2zm2 0zm1 0zm1 0zm-5-1zm1 0zm-2-3zm3-1zm2-1zm-4-1zm6 0zm-2-1zm-3-1zm2 0zm-3-1zm1-1zm5 0zm-6-3zm4 0zm-5-2zm2 0zm5 0zm-7-3zm4-3zm5 1zm2 0zm-2 2zm1 0zm1 0zm-2 2zm1 0zm2 0zm3 0zm-5 1zm4 0zm-6 3zm6 0zm0 1zm-1 1zm1 0zm-6 2zm2 0zm0 2zm1 3zm-2 2zm3 0zm2 0zm-6 1zm6 1zm-3 1zm-2 1zm2 0zm4 1zm-5 3zm1 0zm2 0zm1 0zm0 2zm1 0zm0 2zm-7 1zm6 0zm-5 1zm1 0zm4 0zm-3 1zm3 0zm0 1zm0 2zm-4 1zm4 0zm-5 1zm5 0zm1 0zm-3 1zm-1 1zm0 2zm9-1zm-4-2zm2 0zm3-1zm-5-1zm2 0zm4 0zm-1-1zm1-1zm1 0zm-6-1zm3 0zm1 0zm-3-4zm0-1zm4-1zm-5-1zm5-1zm-2-1zm-4-2zm2-1zm5 0zm-4-1zm-1-1zm2 0zm2-2zm-2-1zm0-1zm3-3zm-6-2zm1-2zm1 0zm2 0zm-2-1zm3-1zm-3-1zm1-1zm-4-2zm6-1zm-1-2zm1 0zm-5-1zm4 0zm-3-1zm0-1zm8-2zm4 0zm-4 3zm-2 1zm5 0zm1 0zm0 1zm0 2zm1 0zm-5 1zm5 0zm-4 1zm3 0zm-6 1zm2 0zm-2 1zm6 0zm-5 2zm2 2zm-2 1zm4 0zm-4 3zm-1 1zm1 1zm0 1zm1 1zm2 0zm1 0zm-5 1zm1 0zm5 0zm1 0zm-5 3zm1 3zm2 0zm-3 4zm5 0zm-7 1zm1 1zm6 0zm-7 2zm3 0zm1 1zm1 0zm1 0zm-1 2zm3-3zm2-7zm-2-1zm3-3zm4 0zm-5-5zm0-1zm5 0zm-6-5zm5 0zm-3-2zm-3-1zm2 0zm1-1zm-3-3zm2-6z" stroke="#FDB24C" stroke-width="3" stroke-opacity="0.8"/><path d="M342 418zm0 5zm1 1zm-5 3zm-1 2zm3 2zm0 3zm10 11zm0-3zm-2-4zm-4-2zm7 0zm-3-1zm-4-2zm3 0zm-1-2zm-1-2zm-1-1zm3-2zm1-2zm-1-3zm-2-2zm9 8zm-2 1zm5 3zm-1 2zm2 0zm1 1zm-6 1zm1 0zm5 1zm-7 1zm1 0zm-1 1zm1 0zm1 0zm0 1zm1 1zm1 0zm1 1zm2 0zm-6 2zm1 0zm3 1zm1 2zm9 8zm-5-1zm1 0zm2 0zm2 0zm-4-1zm1 0zm2 0zm1 0zm0-1zm-7-1zm4 0zm1 0zm2-2zm-7-1zm6 0zm-4-2zm2 0zm2 0zm1 0zm-7-1zm4 0zm-2-1zm4 0zm-1-3zm-4-3zm7 6zm0 3zm0 1zm5 1zm-5 1zm1 0zm3 0zm3 1zm0 1zm-1 3zm-6 1zm7 0zm-4 2zm0 1zm-1 2zm4 0zm0 1zm1 0zm-1 1zm-4 1zm3 2zm1 0zm-4 1zm13 8zm-1-2zm-2-1zm-1-1zm-1-5zm5 0zm-7-2zm4 0zm2 0zm-5-2zm-1-1zm1 0zm5 0zm1-2zm-7-1zm5 0zm-5-2zm5-2zm5 7zm5 1zm-6 3zm3 0zm1 0zm-3 1zm5 0zm-4 1zm-2 1zm-1 2zm4 0zm1 2zm-1 2zm3 0zm-4 1zm-1 1zm2 0zm1 4zm10 6zm-2-3zm-1-2zm2 0zm-6-1zm5 0zm2-1zm-3-1zm1 0zm-4-2zm3 0zm3 0zm0-1zm0-1zm-4-2zm-2-2zm4 0zm-4-2zm1 0zm-2-1zm3-1zm3-1zm-5-1zm-1-1zm10 7zm3 5zm-3 1zm2 0zm-4 1zm2 0zm2 0zm-4 2zm1 0zm1 0zm-2 1zm1 0zm5 0zm-1 1zm2 0zm-6 2zm1 3zm1 0zm2 0zm0 1zm-3 1zm5 1zm-1 1zm-4 2zm3 0zm2 1zm0 2zm-1 1zm3 3zm2-1zm4 0zm-5-1zm3-1zm2-2zm-5-5zm2 0zm2 0zm-6-1zm6 0zm-6-1zm1-1zm4-5zm-5-1zm1-1zm3-3zm4 13zm3 2zm1 1zm-3 1zm2 0zm-2 1zm4 0zm-2 1zm2 0zm-3 1zm-1 1zm0 1zm4 1zm2 0zm-7 2zm0 1zm3 0zm1 2zm-4 1zm7 0zm-3 2zm1 1zm10 122zm-1-2zm1-107zm-4-1zm-3-4zm7 0zm-7-1zm6 0zm1 0zm-3-1zm-3-1zm3 0zm1 0zm-4-1zm1-1zm3 0zm1 0zm-3-1zm4 0zm0-3zm-5-2zm1 0zm-3-1zm4 0zm2 0zm-4-1zm4 0zm1 0zm-2-2zm0-2zm-4-1zm-1-1zm1 0zm1-2zm8 9zm2 1zm-1 6zm-3 1zm2 1zm0 2zm2 0zm3 0zm0 2zm-7 1zm2 0zm1 0zm2 1zm-2 1zm0 1zm-1 1zm2 0zm2 0zm1 0zm-1 2zm1 1zm-7 2zm4 3zm3 0zm0 3zm-1 89zm-2 2zm3 1zm-4 1zm2 0zm-2 2zm-1 2zm5 0zm-1 1zm-2 1zm6 0zm1 0zm-2-2zm0-2zm6-3zm-6-2zm1 0zm4-1zm-1-2zm-4-1zm4-6zm-5-1zm3-2zm4 0zm-1-2zm-1-1zm1 0zm0-3zm0-62zm-1-1zm1 0zm-1-1zm2-2zm-2-3zm2 0zm-7-1zm1-2zm2 0zm2-1zm-4-1zm3-1zm3 0zm-3-1zm1 0zm-4-2zm2 0zm3-3zm-5-1zm6-4zm-7-1zm0-2zm0-4zm8 13zm0 3zm3 0zm1 4zm1 0zm-1 2zm1 0zm-5 1zm0 2zm2 2zm1 1zm1 0zm-4 1zm6 1zm-4 3zm5 1zm-6 2zm4 1zm2 0zm-5 1zm4 0zm-6 1zm5 0zm-3 1zm2 0zm-2 1zm3 0zm2 0zm0 1zm-1 1zm-2 1zm0 1zm2 1zm1 0zm0 4zm-2 1zm2 16zm-2 11zm-1 2zm3 0zm-3 2zm1 1zm1 2zm-2 1zm-1 5zm0 2zm2 1zm1 0zm1 0zm-5 3zm1 0zm2 1zm-4 1zm6 0zm-6 1zm2 0zm4 0zm-7 1zm4 0zm-3 1zm1 2zm3 0zm0 1zm-5 1zm2 0zm1 1zm-2 1zm2 1zm0 3zm2 0zm-3 3zm-1 3zm7-12zm0-4zm1-3zm-1-1zm1 0zm2-4zm1 0zm-4-1zm5-1zm-2-1zm1-1zm1-1zm-4-1zm0-1zm0-2zm1 0zm2 0zm2 0zm-2-1zm-4-1zm6 0zm-5-1zm1-1zm3 0zm1 0zm-5-1zm3 0zm3 0zm-5-1zm1 0zm4-2zm-6-1zm6 0zm-4-2zm2 0zm-4-1zm6-1zm-6-1zm3 0zm-1-1zm2 0zm-3-1zm1 0zm1 0zm-1-1zm1 0zm1-2zm-5-1zm3 0zm3 0zm-5-3zm3 0zm-2-1zm-1-2zm2 0zm-2-1zm4-1zm-4-2zm5 0zm1-2zm-4-1zm2-1zm-2-3zm1 0zm1-2zm-5-1zm2-1zm5-1zm-5-1zm1 0zm-1-2zm1 0zm2 0zm1 0zm-5-2zm4 0zm-4-2zm1-1zm0-2zm0-1zm3 0zm-4-1zm-1-2zm2 0zm1-1zm-2-1zm0-4zm0-3zm8 29zm2 1zm2 2zm-5 1zm7 2zm-4 2zm2 2zm-2 1zm-1 2zm-2 1zm1 0zm-1 1zm1 0zm3 1zm-2 2zm1 2zm2 0zm1 0zm0 1zm-4 3zm-2 2zm4 3zm-4 2zm0 3zm0 1zm2 0zm-2 4z" stroke="#F89840" stroke-width="3" stroke-opacity="0.8"/><path d="M414 597zm-1-5zm6 1zm2 2zm0 2zm-5 1zm1 0zm-1 1zm4 0zm0 1zm1 1zm1 0zm-3 4zm-1 1zm2 1zm3 8zm6-1zm-1-1zm2 0zm-2-1zm2 0zm-2-3zm-4-4zm3 0zm1 0zm1-3zm6 5zm-3 5zm0 4zm0 1zm5 1zm-1 2zm3 0zm0 1zm-2 3zm-1 1zm-1 1zm2 0zm-4 1zm4 2zm1 2zm2-4zm2 0zm-2-3z" stroke="#F89840" stroke-width="3" stroke-opacity="0.8"/><path d="M462 522zm0-1zm1 0zm0-9zm-4-5zm1-1zm1-4zm1 0zm0-3zm0-5zm9 5zm0 3zm-1 4zm-2 1zm-2 2zm4 1zm-5 7zm5 1zm-3 3zm2 4zm2 3zm-7 1zm3 5zm4 0zm-5 3zm11 1zm-4-2zm4-8zm-1-4zm-3-7zm1-3zm1-2zm-1-2zm-2-1zm1-3zm0-2zm3-6zm7 2zm-3 1zm3 2zm1 13zm3 4zm-4 10zm0 2zm-3 1zm6 2zm-5 1zm2 0zm-1 1zm6-17z" stroke="#F89840" stroke-width="3" stroke-opacity="0.7"/><path d="M463 359zm0-17zm4-10zm3 4zm0 1zm-1 4zm-2 1zm1 0zm3 0zm0 2zm-1 1zm-5 1zm5 1zm-2 1zm0 1zm2 1zm1 0zm0 3zm-4 1zm3 0zm-2 1zm2 0zm-4 1zm4 1zm-5 2zm-1 3zm4 1zm3 2zm-2 1zm1 0zm1 1zm-4 2zm2 0zm-2 1zm2 0zm2 7zm0 1zm-1 1zm-2 2zm0 1zm1 0zm0 1zm-1 1zm-2 1zm3 4zm10 11zm-2-1zm-3-1zm5-1zm-3-10zm3-2zm-3-1zm-1-2zm3 0zm1 0zm-4-2zm-3-1zm0-1zm3-1zm1 0zm1 0zm0-1zm-5-4zm3 0zm1 0zm2 0zm-3-1zm-2-1zm1 0zm2 0zm0-1zm-1-1zm3 0zm-3-2zm1 0zm3-1zm-6-1zm1 0zm-1-2zm4 0zm0-1zm1 0zm-5-2zm1 0zm1 0zm1-4zm2 0zm-1-1zm0-2zm-3-1zm3-1zm-5-2zm3-1zm4-1zm-7-2zm5-1zm1 0zm-3-1zm-3-1zm2 0zm4-2zm-1-1zm-5-1zm15-12zm0 2zm-7 5zm2 2zm1 0zm-3 1zm2 1zm3 1zm-3 2zm-1 3zm5 0zm-2 1zm2 0zm-4 3zm5 2zm-2 1zm-5 1zm2 1zm3 3zm-4 2zm0 2zm4 2zm-3 1zm1 0zm2 0zm2 0zm-2 1zm-4 2zm0 1zm4 0zm-4 1zm-1 4zm0 2zm5 0zm-5 1zm7 1zm-7 2zm2 2zm5 1zm-6 1zm0 3zm2 0zm3 0zm-3 1zm-3 1zm6 0zm-3 1zm-2 1zm4 0zm1 1zm0 1zm-2 1zm1 0zm-5 1zm5 1zm1 0zm1 0zm-7 1zm5 0zm-1 1zm-3 2zm3 0zm1 1zm2 0zm-1 1zm0 3zm-3 1zm5-4zm2 0zm0-3zm4-1zm0-1zm-4-1zm1 0zm-1-2zm0-2zm-2-1zm4-1zm1 0zm-1-2zm3 0zm-3-1zm1-1zm-2-1zm3-2zm-2-1zm1 0zm-4-1zm5 0zm-5-2zm2-1zm1-1zm3-1zm0-1zm-6-1zm4 0zm0-2zm1-3zm1 0zm0-3zm-4-1zm0-1zm2 0zm-3-1zm1 0zm4-3zm-1-3zm-3-1zm1-2zm1-2zm0-11zm1 0zm-6-2zm0-1zm3-2zm-3-2zm3-4zm0-1zm-3-1zm2 0zm3 0zm2 0zm-7-4zm6 0zm-1-2zm1-1zm0-1zm1-2zm-6-1zm5 0zm1-5zm6-1zm-1 2zm1 1zm-1 2zm2 3zm-4 1zm1 0zm4 0zm-4 3zm2 0zm-1 1zm2 0zm-6 1zm4 2zm-1 1zm-3 1zm6 2zm-5 1zm3 0zm1 0zm1 1zm-1 1zm1 0zm-6 2zm1 3zm1 5zm1 0zm1 0zm-2 1zm1 2zm3 2zm-2 1zm-4 2zm6 0zm1 1zm-7 2zm4 0zm-4 1zm5 0zm1 0zm-6 1zm3 0zm3 0zm-5 3zm2 0zm2 1zm-4 1zm1 0zm2 0zm1 1zm-3 1zm1 0zm-1 3zm2 3zm2 1zm-4 1zm2 0zm3 0zm-5 1zm5 0zm-6 5zm0 4zm0 1zm1 3zm4 0zm1 3zm-5 3zm0 2zm-2 1zm1 3zm0 1zm8-35zm1-5zm-2-22zm4-4zm1-2zm-3-1zm2-2zm-2-7zm3 0zm1 0zm-4-6zm1 0z" stroke="#E0841A" stroke-width="3" stroke-opacity="0.8"/><path d="M502 352zm1 42zm6 5zm-5-1zm3-4zm2 0zm-2-2zm0-3zm2-1zm-1-1zm-4-1zm4 0zm3-3zm0-7zm-7-1zm2-1zm-2-2zm6 0zm-1-8zm1 0zm0-10zm-5-4zm3-4zm1 0zm1-3zm0-2zm-4-2zm1-8zm4-2zm-1-3zm0-1zm0-4zm-6-3zm5-2zm3 0zm5 4zm2 1zm-7 4zm7 1zm-2 1zm1 3zm1 2zm-1 2zm-5 7zm5 2zm-4 1zm-1 4zm5 1zm-2 2zm1 1zm-5 2zm3 0zm3 12zm-6 1zm7 7zm-6 3zm-1 2zm4 0zm3 2zm-2 1zm-4 14zm-1 1zm6 2zm1 1zm-3 5zm7-8zm-2-7zm-1-5zm5-1zm-3-1zm2 0zm2-8zm-5-8zm0-5zm1-2zm-1-3zm0-3zm1-3zm3 0zm1 0zm-3-2zm1 0zm3-1zm-3-5zm3 0zm-5-2zm3-2zm1-2zm-2-4zm1-1zm-3-1zm0-3zm-1-1zm5-1zm-2-1zm-3-1zm5-2zm-2-2zm3-6zm1 6zm5 0zm-3 14zm-1 12zm0 3zm0 3zm6 1zm-6 2zm-1 2z" stroke="#FDD29C" stroke-width="3" stroke-opacity="0.8"/><path d="M517 452zm0 1zm1 2zm0 7zm-1 4zm3 9zm3-5zm2 0zm-5-1zm1-3zm4 0zm-4-2zm-1-1zm2 0zm-2-1zm5 0zm-1-3zm1 0zm-2-2zm3-1zm-1-5z" stroke="#FDD29C" stroke-width="3" stroke-opacity="0.8"/><path d="M518 391zm0 15zm0 5zm-5 1zm6 0zm7 3zm1-1zm-3-1zm3 0zm-7-1zm1-2zm4-2zm2 0zm-1-3zm1-1zm-5-3zm2 0zm-2-1zm2 0zm0-2zm-3-3zm0-1zm-1-10zm4 0zm-2-5zm4-3zm-3-13zm-1-1zm4-5zm-1-8zm0-1zm1-5zm-3-3zm0-5zm3-4zm0-8zm1-1zm-3-3zm2-6zm-1-2zm-4-1zm3-4zm5-1zm4 0zm-5 5zm3 1zm-2 3zm5 0zm1 1zm-5 1zm5 3zm-5 5zm3 1zm2 6zm-7 2zm5 2zm0 3zm2 0zm-3 1zm3 2zm-7 2zm0 2zm4 0zm-3 4zm2 0zm-2 2zm1 0zm-1 4zm-1 13zm1 0zm6 2zm-7 1zm2 1zm3 2zm2 4zm-7 2zm0 5zm0 3zm1 2zm2 8zm-1 3zm-2 12zm10-40zm1-3zm-3-2zm0-1zm4-1zm-1-2zm-2-2zm0-5zm3 0zm-3-2zm1-9zm1-5zm1 0zm3-1zm-5-2zm2-6zm1-2zm1-2zm-4-1zm3-1zm-3-12zm3-2zm2 0zm-7-1zm2 0zm2 0zm-3-2zm3-7z" stroke="#D5EDCF" stroke-width="3" stroke-opacity="0.8"/><path d="M391 234zm5 6zm3 0zm-4-2zm-1-2zm5 0zm-7-1zm15-3zm-6 1zm7 0zm5-6zm3-5zm2 3zm3 2zm-5 1zm9-2zm4-2zm-1-1zm1 0zm1-1zm1-2zm0-2zm5 1zm-4 3zm0 1zm5 0zm-4 1zm9-3z" stroke="#C9C9D2" stroke-width="3" stroke-opacity="0.8"/><path d="M404 270zm11 21zm-6-25zm0-4zm9 1zm1 17zm3 19zm6 156zm-4-6zm5-45zm2-66zm-6-8zm6-4zm-2-1zm0-2zm-5-10zm2-6zm4-10zm-2-25zm8 5zm2 12zm-3 1zm1 4zm0 10zm-3 15zm1 46zm0 65zm-2 2zm1 14zm9 14zm0-14zm-1-3zm5-26zm-4-11zm5-5zm-5-28zm2-13zm-2-7zm-2-2zm6-36zm7-28zm-3 5zm4 33zm-5 17zm1 1zm0 1zm0 2zm3 6zm-1 3zm3 4zm-5 11zm-2 18zm0 11zm4 4zm-1 3zm0 11zm0 16zm-2 3zm5 1zm-3 10zm2 2zm6-10zm0-28zm0-4zm3 0zm0-1zm1-27zm0-16zm-4-21zm3-53zm-6-6zm8 66zm1 14zm1 47zm2 2zm-3 5zm3 3zm-2 8zm1 5zm4 17zm-6 11zm5 1zm-1 6zm6 8zm-2-2zm-1-2zm1-4zm-1-5zm1-3zm1-21z" stroke="#D8D8DE" stroke-width="3" stroke-opacity="0.5"/><path d="M542 360zm1-24zm0-6zm-3-4zm1 0zm2 0zm0-4zm4 2zm2 0zm-4 3zm3 0zm0 1zm2 0zm-1 2zm2 1zm-1 1zm-1 1zm1 1zm-2 1zm2 0zm-5 1zm4 0zm-2 2zm0 2zm1 0zm3 0zm-6 2zm3 0zm3 0zm-7 1zm5 2zm-5 1zm6 0zm-1 1zm1 1zm-4 1zm1 0zm3 0zm-6 1zm0 1zm7 4zm-4 1zm3 0zm-2 1zm0 1zm0 1zm-3 1zm2 0zm4 1zm-4 1zm2 1zm0 2zm1 0zm-2 1zm2 1zm-2 2zm-1 1zm0 5zm3 0zm8 11zm0-1zm-3-3zm-1-1zm1 0zm3 0zm1 0zm-6-1zm0-1zm2 0zm2-1zm2 0zm-4-1zm-2-1zm3-1zm1 0zm1-1zm-2-1zm2 0zm-6-1zm2 0zm2 0zm-4-1zm1-1zm5 0zm-5-1zm1 0zm1 0zm2 0zm2 0zm-5-1zm2 0zm1 0zm1 0zm1 0zm-5-2zm-2-1zm6-1zm-5-2zm2 0zm3 0zm-5-1zm1-2zm4 0zm-4-1zm1 0zm-2-1zm1 0zm2 0zm1 0zm2 0zm-5-2zm1 0zm2-1zm2 0zm-7-2zm2 0zm5 0zm0-1zm-5-3zm1 0zm-3-1zm4-1zm3 0zm-4-1zm2-2zm-4-1zm1 0zm5-1zm-3-1zm-2-1zm5 0zm-7-1zm2-3zm2 0zm1 0zm-2-1zm-3-3zm1 0zm-1-1zm2-1zm-2-1zm10 10zm-2 2zm2 0zm4 2zm0 1zm-6 2zm1 0zm-1 1zm1 0zm2 0zm3 5zm0 1zm-1 2zm2 0zm-3 1zm-4 1zm5 0zm-1 1zm1 0zm0 1zm1 0zm1 0zm-7 1zm4 1zm0 1zm2 1zm-3 1zm4 1zm-5 1zm1 0zm-1 1zm0 3zm2 0zm1 1zm1 0zm-3 1zm3 2zm-2 1zm-3 1zm1 0zm1 0zm-1 6zm6-23zm1 0zm0-5zm0-1zm0-1z" stroke="#D4D3EA" stroke-width="3" stroke-opacity="0.8"/><path d="M541 422zm-3-2zm3 0zm0-3zm2-1zm-1-3zm0-1zm-1-9zm0-1zm0-2zm-5-1zm7 0zm-2-1zm1-1zm-2-1zm-1-1zm2 0zm1-1zm0-2zm7-6zm-3 4zm3 3zm-1 4zm-3 1zm3 0zm-4 2zm5 0zm-5 2zm2 3zm-2 1zm5 0zm0 7zm2 0zm-4 2zm0 1zm-2 1zm4 1zm-5 2zm1 0zm2 4zm7-12zm-2-2zm0-1zm3 0zm-1-6zm-1-1zm1-3zm2-2zm-3-7z" stroke="#D4D3EA" stroke-width="3" stroke-opacity="0.6"/><path d="M571 373zm4 0zm-1-1zm-2-1zm-1-1zm2 0zm0-2zm6 2zm-2 1zm-1 1zm2 1zm2 0zm1 1zm5-1zm2 0zm-4-1zm1-1zm2 0zm-2-1zm3 0zm2-3zm-1-2zm10 5zm-2 4zm9-6zm-5-1zm2 0zm6 1zm4 6zm3-5z" stroke="#D4D3EA" stroke-width="3" stroke-opacity="0.6"/><path d="M559 406zm3-18zm0 1zm5 0zm-4 2zm2 0zm-2 1zm1 1zm-3 2zm2 0zm2 0zm-2 1zm4 1zm-1 1zm1 1zm-4 1zm4 0zm0 1zm-3 1zm-2 1zm3 0zm1 0zm-5 1zm3 0zm-3 2zm2 0zm0 1zm0 1zm3 0zm-1 1zm0 1zm2 1zm-4 1zm3 0zm-1 2zm1 1zm-1 1zm1 0zm1 1zm-1 1zm1 2zm-1 2zm4 4zm0-2zm-1-1zm3-3zm-1-1zm0-2zm0-1zm-3-2zm0-2zm4-3zm0-3zm-3-1zm0-4zm2 0zm-3-6z" stroke="#4A1F90" stroke-width="3" stroke-opacity="0.8"/><path d="M563 416zm3 0zm-3 1zm1 0zm0 1zm-3 1zm4 0zm1 0zm-5 1zm3 1zm3 0zm-7 2zm1 0zm2 0zm2 0zm1 0zm-6 2zm4 1zm-2 1zm2 0zm-4 1zm6 0zm1 0zm-1 1zm-5 1zm1 0zm0 2zm2 1zm0 1zm1 0zm-5 1zm3 0zm0 1zm-1 1zm5 0zm-1 1zm-1 2zm1 0zm1 5zm0 3zm-1 1zm-2 1zm3 14zm8 13zm-1-2zm-3-4zm1-2zm-1-1zm2-2zm2 0zm-5-1zm-1-2zm1 0zm-2-1zm2-1zm2-1zm1-1zm-2-1zm-3-1zm5 0zm-1-1zm-3-2zm1 0zm1 0zm1 0zm-4-1zm4 0zm-3-1zm0-2zm6 0zm-7-2zm3 0zm2 0zm-4-1zm2 0zm-3-1zm3-1zm1-1zm-1-1zm2 0zm-3-1zm-1-1zm-1-1zm0-2zm3 0zm3 0zm-4-1zm2 0zm-4-1zm4 0zm2 0zm-6-1zm3 0zm1 0zm3-1zm-2-1zm-2-1zm2 0zm-5-1zm4 0zm-3-1zm2 0zm-3-1zm5-2zm-5-1zm1-2zm2 0zm2 0zm-4-4zm4 0zm-3-2zm6 11zm0 2zm0 9zm0 5zm1 0zm2 4zm2 0zm-3 1zm1 0zm-3 1zm1 1zm3 0zm-3 1zm1 0zm3 0zm-4 1zm5 0zm1 1zm-6 1zm2 0zm-3 1zm1 0zm2 0zm-1 1zm4 1zm-5 2zm5 0zm-3 1zm1 0zm-1 1zm-2 1zm0 1zm5 0zm-1 2zm-1 1zm3 0zm-3 1zm2 2zm-6 1zm7 0zm-6 3zm6 1zm-3 1zm2 0zm-6 1zm7 0zm-2 1zm1 0zm1 0zm-5 3zm-1 1zm2 2zm2 0zm2 1zm1-2zm2 0zm-2-1zm2 0zm-2-1zm1-1zm1-3zm1 0zm2 0zm-4-2zm-1-1zm1 0zm2-1zm-3-1zm4-1zm-4-1zm2-2zm-2-2zm2 0zm2-1zm-2-6zm7 15zm0 9z" stroke="#4A1F90" stroke-width="3" stroke-opacity="0.8"/><path d="M588 486zm0-5zm10 6zm1 5zm0 1zm8 8zm-6-2zm3-1zm-3-2zm4-1zm-5-1zm11 4zm3 7z" stroke="#4A1F90" stroke-width="3" stroke-opacity="0.8"/><path d="M614 363zm1 2zm0 2zm-1 2zm-2 2zm1 2zm2 1zm2 2zm5-1zm1 0zm-2-2zm1-1zm1-1zm-7-1zm2 0zm1 0zm1 0zm-2-2zm1 0zm4 0zm-6-1zm1 0zm1 0zm1 0zm-3-1zm2 0zm3 0zm1 0zm-7-1zm4 0zm-1-2zm1 0zm3-3zm6 0zm-3 1zm2 1zm2 0zm-1 1zm2 1zm-6 1zm2 0zm3 0zm-5 1zm6 0zm-6 1zm4 1zm1 0zm-4 1zm2 0zm-3 1zm4 0zm-2 1zm0 2zm4 0zm-6 1zm6 1zm-6 1zm0 1zm4 0zm-4 1zm2 2zm6-1zm4-3zm-3-2zm2 0zm-2-1zm-1-2zm1 0zm1-2zm1 0zm-3-2zm3-1zm-1-1zm1-1zm1-2zm-5-1zm1 0zm2 0zm0-1zm4-1zm-3-2zm0-5z" stroke="#A09CCB" stroke-width="3" stroke-opacity="0.8"/><path d="M671 137zm-1-4zm2 1zm2 1zm3 4zm2 1zm-2 1zm10 1zm-3-1zm-1-1zm3 0zm-2-1zm-2-1zm1-1zm-1-2zm0-2z" stroke="#C9C9D2" stroke-width="3" stroke-opacity="0.8"/><path d="M623 258zm-4-1zm4-1zm0-1zm-5-2zm8-4zm0 1zm-1 5zm1 0zm4 1zm1 0zm-1 2zm1 0zm6 2zm2-3zm-7-1zm6 0z" stroke="#C9C9D2" stroke-width="3" stroke-opacity="0.8"/><path d="M670 196zm7-18zm2 1zm0 2zm0 5zm-2 3zm0 2zm-3 5zm6-2zm2-5zm-1-2zm5 0zm-5-1zm-1-1zm5-2zm2-1zm-5-1zm3 0zm2 0zm-7-1zm6-1zm1-1zm-6-1zm2 0zm2 0zm0-1zm-2-1zm3 0zm-3-1zm0-1zm2 0zm1 0zm-2-3zm1 0zm2 0zm0-1zm-5-1zm5 0zm8-23zm-3 4zm1 4zm-3 1zm4 2zm0 1zm-2 2zm1 0zm-5 2zm0 4zm6 0zm-6 1zm4 0zm-1 1zm2 0zm0 1zm-2 1zm4 0zm-7 1zm3 0zm4 0zm-6 1zm5 0zm-3 1zm4 1zm-3 1zm2 0zm-6 2zm5 0zm1 0zm1 0zm-5 1zm1 0zm-2 1zm3 0zm3 0zm-7 3zm2 0zm6-1zm5-6zm1 0zm-6-1zm3 0zm-3-1zm2 0zm4-2zm-5-1zm4 0zm-5-1zm1 0zm1 0zm1 0zm3 0zm-6-2zm2 0zm-2-1zm0-2zm3 0zm1 0zm1 0zm0-1zm-5-1zm6-1zm-2-3zm-1-1zm1-1zm-4-2zm2 0zm5 0zm-5-2zm4 0zm-6-1zm1-2zm1-1zm1 0zm3 0zm-2-1zm2 0zm-2-1zm-3-2zm0-2zm5 0zm-3-3zm3 0zm-2-1zm0-1zm2-1zm-1-2zm1 0zm-1-1zm2-19zm7-2zm1 1zm-3 1zm2 2zm1 0zm-2 1zm-1 2zm1 0zm2 1zm-2 1zm2 0zm-2 2zm1 0zm1 2zm-2 2zm2 0zm-6 1zm4 1zm1 0zm-6 1zm3 0zm-1 1zm1 0zm1 0zm-2 1zm3 0zm2 0zm-7 1zm7 0zm-7 1zm6 0zm-4 1zm-2 1zm6 0zm-3 1zm0 1zm4 0zm0 1zm-4 1zm0 1zm2 0zm-1 1zm1 0zm2 1zm-3 2zm1 0zm-5 1zm5 0zm2 0zm-7 1zm4 0zm-4 1zm4 0zm-3 1zm0 1zm2 1zm1 0zm-4 1zm5 0zm2 0zm-7 1zm1 0zm3 0zm3 0zm-1 2zm-6 1zm3 0zm1 0zm2 0zm1 1zm-3 1zm1 0zm-3 1zm1 0zm-3 1zm2 0zm2 0zm1 0zm-4 2zm5 0zm1 0zm-7 1zm1 0zm2 0zm-2 1zm-1 1zm0 1zm4 0zm-4 1zm1 0zm5 1zm-5 1zm2 0zm-2 4zm3 1zm4-9zm0-1zm0-1zm2-1zm3 0zm-5-1zm5 0zm-3-2zm0-1zm-1-1zm1 0zm2 0zm-2-1zm3-1zm-5-1zm1 0zm3 0zm-4-2zm4 0zm2 0zm-4-2zm1 0zm3 0zm1 0zm-7-1zm3 0zm-1-1zm5 0zm-5-1zm3 0zm-4-1zm4 0zm1 0zm-4-1zm2 0zm-2-1zm-2-1zm1 0zm4 0zm2 0zm0-1zm-1-1zm-5-1zm2-1zm-3-2zm6 0zm-4-1zm4 0zm-4-1zm3 0zm-2-3zm-3-1zm1 0zm1 0zm4 0zm-4-1zm2 0zm2 0zm1 0zm-5-1zm1 0zm3 0zm-6-1zm4-1zm2 0zm1 0zm-6-2zm4 0zm-1-1zm1 0zm1 0zm-4-1zm3 0zm2-1zm-5-2zm5 0zm-7-1zm4 0zm2 0zm-6-1zm3 0zm2 0zm-1-2zm-4-2zm6-1zm0-1zm-2-1zm2 0zm-3-1zm2-1zm0-1zm2 0zm-3-2zm-4-1zm0-1zm3 0zm1 0zm-1-1zm2 0zm-3-1zm7-1zm-1 1zm0 3zm2 1zm1 1zm1 0zm-4 1zm3 0zm-3 1zm1 0zm1 4zm3 0zm-4 1zm4 0zm-4 1zm1 0zm-2 1zm4 0zm-4 1zm0 1zm7 0zm0 1zm-6 2zm3 2zm3 1zm-5 1zm-1 1zm2 0zm2 0zm2 0zm-4 1zm1 0zm1 1zm-1 1zm-1 2zm3 0zm1 0zm-6 2zm1 0zm3 0zm-5 1zm0 1zm4 0zm-1 1zm2 0zm-4 1zm1 0zm0 1zm1 0zm3 0zm-4 1zm4 1zm-6 2zm5 0zm1 0zm-1 1zm-5 1zm0 1zm3 0zm4 1zm-5 1zm-1 2zm-1 1zm2 1zm4 0zm-6 1zm1 0zm5 0zm-5 3zm2 0zm1 0zm-3 1zm2 0zm-3 1zm3 0zm3 0zm0 1zm-2 1zm-2 1zm1 0zm-2 1zm4 0zm-1 1zm2 0zm-1 1zm2 1zm-6 6zm8-4zm2-3zm-2-1zm1-1zm4-1zm-6-1zm2-1zm-2-1zm7 0zm-6-1zm5-1zm1 0zm-6-1zm2 0zm2 0zm-5-1zm3 0zm-3-2zm1 0zm1 0zm2 0zm-4-2zm4 0zm1-1zm-3-1zm5-2zm-6-2zm1 0zm3-1zm-5-1zm6-1zm-5-1zm-1-1zm7 0zm-7-1zm3 0zm1 0zm-2-1zm1 0zm2 0zm-5-1zm4 0zm-3-1zm1 0zm-1-1zm4 0zm0-1zm-4-1zm2 0zm2 0zm2 0zm-6-1zm6 0zm-6-1zm1 0zm1-1zm3 0zm-1-1zm-1-1zm1 0zm-3-1zm2 0zm3 0zm-7-1zm1 0zm4 0zm-4-1zm2 0zm-3-8zm8 6zm1 0zm2 8zm-3 1zm4 0zm-3 1zm1 0zm-2 1zm2 1zm0 1zm1 0zm2 0zm-5 2zm2 0zm2 0zm2 0zm-5 1zm5 0zm-5 1zm3 1zm1 0zm1 0zm-2 1zm-4 2zm2 0zm2 0zm3 1zm-2 1zm-4 1zm2 0zm2 0zm1 0zm-5 2zm3 0zm3 1zm-5 1zm3 0zm2 0zm-1 1zm1 1zm-5 1zm1 0zm-2 1zm4 0zm2 0zm-4 1zm0 1zm3 0zm1 0zm-6 1zm3 0zm2 0zm-1 1zm-1 1zm1 1zm1 0zm-3 1zm2 0zm-2 1zm1 0zm3 0zm-7 1zm4 0zm-4 1zm7 0zm-7 1zm4 0zm9 2zm-2-2zm4 0zm-2-2zm-3-2zm3 0zm-5-1zm2 0zm1 0zm2 0zm1 0zm1 0zm-4-1zm4 0zm-6-1zm6 0zm-3-1zm0-1zm1 0zm0-1zm-2-1zm-3-1zm6 0zm-6-1zm5 0zm-1-1zm3 0zm-1-1zm1 0zm-4-1zm2-1zm-5-1zm6 0zm-3-1zm1 0zm-3-1zm2 0zm1-3zm-4-1zm2 0zm3-1zm-5-2zm1-2zm9 13zm2 1zm-4 1zm5 0zm-2 1zm-3 1zm2 0zm1 0zm3 2zm-6 2zm4 1zm2 1zm-4 1zm1 0zm-1 1zm1 0zm-3 1zm5 0zm-1 1zm3 0zm-5 1zm3 0zm-4 1zm3 0zm3 0zm-1 1zm-6 1zm1 0zm5 0zm1 0zm-2 1zm-5 1zm5 0zm-4 1zm5 2zm1 1zm7 5zm0-1zm-5-2zm4 0zm-2-4zm1 0zm-3-1zm3-2zm-4-1zm9 5z" stroke="#6EC072" stroke-width="3" stroke-opacity="0.8"/><path d="M679 216zm-2 12zm1 0zm-1 2zm2 4zm-1 1zm7 32zm1 0zm-1-2zm1-1zm0-2zm1 0zm-4-2zm-1-4zm1 0zm4-1zm0-2zm-4-1zm2-2zm2 0zm0-1zm-5-1zm1 0zm2 0zm-2-1zm0-1zm0-1zm-2-1zm2 0zm3 0zm1 0zm-2-1zm1-1zm1 0zm-6-2zm6-1zm-7-2zm4 0zm2 0zm-4-1zm2 0zm-2-1zm4-2zm-6-1zm3 0zm2 0zm-2-1zm4-1zm-1-1zm-6-2zm1 0zm3 0zm-2-1zm2 0zm-2-1zm1 0zm2 0zm-4-2zm6 0zm-5-2zm3 0zm-4-3zm1 0zm1 0zm2 0zm-3-2zm1 0zm1 0zm1 0zm-4-1zm4 0zm1 0zm-1-1zm1 0zm1 0zm0-1zm-2-1zm-2-2zm-1-1zm1 0zm3-1zm-2-1zm2 0zm-1-1zm2-1zm-5-3zm4-1zm-1-1zm-1-1zm2 0zm1-1zm-5-3zm5 0zm-5-1zm3-1zm2 0zm-3-1zm2 0zm-1-1zm0-1zm2 0zm-6-1zm4 0zm2 0zm-1-1zm0-1zm0-1zm9-8zm0 1zm-2 2zm-1 1zm3 0zm-1 2zm-6 1zm4 0zm2 1zm-3 1zm4 1zm-3 1zm-2 1zm4 0zm-5 1zm3 0zm-2 1zm1 1zm4 0zm-7 1zm4 0zm3 0zm-4 1zm1 1zm1 0zm-5 1zm1 0zm2 0zm-3 1zm3 0zm1 0zm2 0zm-6 1zm4 0zm-1 1zm3 0zm1 0zm-4 1zm3 0zm1 0zm-6 1zm4 0zm1 0zm1 0zm-3 1zm-1 1zm3 0zm0 1zm1 1zm-7 1zm3 0zm2 1zm-1 1zm3 1zm-6 1zm1 0zm2 0zm-4 1zm3 0zm-1 1zm0 1zm3 0zm-4 1zm4 0zm2 0zm-4 1zm-3 3zm3 0zm-3 1zm1 0zm-1 1zm1 0zm2 0zm4 0zm-5 1zm5 0zm-4 2zm2 0zm1 0zm1 0zm-6 1zm0 1zm5 0zm-6 1zm5 0zm-1 1zm0 1zm1 0zm2 0zm-3 1zm2 0zm-2 1zm1 0zm-3 2zm4 0zm1 0zm-6 1zm3 1zm-1 1zm4 0zm-6 1zm2 0zm3 0zm-2 2zm-4 1zm2 0zm-2 1zm2 0zm0 1zm1 0zm2 1zm2 0zm-4 1zm4 0zm-5 1zm3 0zm-3 1zm5 0zm-5 1zm-1 1zm3 0zm-2 1zm-1 1zm2 1zm2 0zm1 0zm1 0zm-3 1zm3 0zm-3 1zm1 0zm2 0zm-7 2zm1 1zm4 0zm-1 1zm2 1zm-3 1zm3 0zm-6 1zm4 3zm-4 1zm3 0zm1 0zm1 0zm-5 3zm5 1zm-3 1zm3 1zm-4 1zm2 0zm3 0zm-2 1zm-3 1zm3 0zm-1 1zm1 0zm2 0zm-4 1zm3 0zm1 0zm-4 1zm4 0zm1 0zm-3 1zm1 0zm1 1zm-5 1zm6 0zm-1 1zm-1 1zm2 0zm-3 1zm-2 1zm4 0zm-5 3zm5 1zm0 1zm1 0zm-4 1zm1 2zm1 0zm0 1zm2 2zm0 1zm-1 1zm0 1zm0 1zm6 6zm-3-1zm2 0zm3 0zm-4-1zm2 0zm3 0zm-7-1zm4 0zm1 0zm2 0zm-3-1zm2 0zm0-1zm1 0zm0-1zm-7-1zm6 0zm-2-1zm2 0zm1 0zm-5-1zm4 0zm-2-1zm3 0zm-5-1zm2 0zm1 0zm2-2zm-5-1zm1-1zm-2-1zm-1-1zm2 0zm3 0zm-5-1zm2 0zm2 0zm1 0zm2 0zm-2-1zm1 0zm-1-1zm-2-1zm2 0zm0-1zm1 0zm0-1zm1 0zm-5-1zm-2-1zm3 0zm-2-1zm5 0zm-5-1zm1 0zm1 0zm-3-1zm5-1zm1 0zm-5-1zm4 0zm2 0zm-4-1zm-3-1zm2 0zm-1-1zm4 0zm-4-1zm3 0zm-4-1zm1-1zm4 0zm-2-1zm4 0zm-2-1zm1-1zm1 0zm-2-1zm-2-1zm3 0zm-5-1zm1 0zm1 0zm2 0zm1 0zm-6-1zm7 0zm0-1zm-7-1zm1 0zm6 0zm-7-1zm5 0zm-5-2zm5 0zm-4-1zm4 0zm1 0zm1 0zm-4-1zm2 0zm-5-1zm2 0zm0-1zm2 0zm1 0zm-5-1zm5-2zm-5-1zm4 0zm3 0zm-6-1zm1-1zm3 0zm-4-1zm1 0zm5 0zm-6-1zm3 0zm3 0zm-4-1zm1 0zm1 0zm-5-1zm2 0zm5 0zm-5-2zm1-1zm1 0zm3 0zm-5-1zm1 0zm1 0zm-2-1zm3 0zm-5-1zm4 0zm-3-1zm4 0zm2 0zm-5-1zm2 0zm1 0zm-3-1zm3 0zm-3-2zm3 0zm1 0zm-1-2zm-4-1zm1 0zm5 0zm-2-1zm2 0zm-6-1zm2 0zm3 0zm0-1zm1 0zm-5-1zm2 0zm3 0zm-7-2zm1 0zm2 0zm0-1zm2 0zm2 0zm-6-1zm0-1zm2 0zm2-1zm-2-1zm1 0zm2 0zm-5-1zm1-2zm5 0zm-4-1zm1-1zm2 0zm-4-1zm-2-1zm1-1zm1 0zm-2-1zm3 0zm1 0zm-2-1zm1 0zm1 0zm1 0zm2 0zm-2-1zm0-1zm-2-1zm2 0zm-1-2zm-1-1zm2-1zm-3-1zm1-1zm1 0zm3 0zm-1-1zm1 0zm-3-2zm1 0zm2 0zm0-2zm-7-1zm1 0zm2 0zm-2-3zm3 0zm-3-1zm6 0zm-5-1zm5 0zm-6-1zm1 0zm4 0zm-6-1zm7 0zm-2-1zm-5-1zm1 0zm1-1zm3 0zm1 0zm-6-1zm6 0zm-6-1zm6 0zm-6-1zm7 0zm-7-1zm1 0zm2 0zm4 0zm-6-1zm1 0zm3 0zm1 0zm1 0zm-3-1zm3 0zm-1-3zm8-9zm0 3zm-2 1zm2 0zm-3 1zm4 0zm-1 1zm-1 1zm2 0zm-5 1zm3 0zm-5 3zm1 1zm3 3zm2 0zm-6 1zm3 0zm1 0zm-4 1zm1 0zm1 0zm1 0zm1 0zm-4 1zm2 0zm0 1zm1 0zm1 0zm1 0zm-4 1zm6 0zm-6 1zm6 0zm0 1zm-7 2zm0 1zm1 0zm0 1zm3 0zm2 1zm-2 1zm0 1zm1 1zm-4 1zm2 0zm2 0zm-5 1zm4 0zm1 0zm-2 2zm4 0zm-6 2zm2 0zm-3 1zm1 0zm3 1zm-4 1zm4 0zm-4 1zm3 0zm1 0zm2 0zm-1 1zm-4 1zm2 0zm-2 1zm1 0zm-2 2zm1 0zm2 0zm2 0zm-5 1zm4 0zm3 0zm-7 1zm0 1zm4 2zm1 0zm2 0zm-4 1zm3 0zm-2 1zm3 0zm-6 1zm4 0zm2 0zm-7 1zm2 2zm-1 1zm1 0zm1 0zm-2 1zm-1 1zm1 0zm1 0zm-1 1zm2 0zm2 0zm-2 1zm4 0zm0 1zm-7 1zm1 2zm4 0zm1 0zm-6 1zm2 0zm4 0zm-6 1zm5 1zm1 0zm-5 1zm1 0zm3 0zm1 0zm-4 1zm-2 1zm2 0zm4 0zm-2 1zm-3 1zm2 3zm4 0zm-6 1zm3 0zm-3 1zm3 0zm2 0zm-4 2zm1 0zm4 1zm-6 1zm5 0zm-5 1zm2 0zm1 0zm-4 1zm7 0zm-5 1zm1 0zm3 0zm-6 4zm2 0zm1 0zm3 0zm-6 1zm2 1zm2 0zm-3 1zm2 0zm3 0zm1 0zm-1 1zm0 1zm-2 1zm1 0zm-4 1zm1 0zm1 0zm4 0zm-1 1zm-4 1zm3 1zm-5 1zm1 0zm3 0zm3 0zm-7 1zm0 1zm4 0zm3 0zm-7 2zm5 0zm2 0zm-5 1zm1 0zm3 0zm-5 1zm3 0zm-4 1zm2 0zm1 0zm1 0zm2 0zm1 0zm-4 1zm1 0zm1 0zm2 0zm-2 1zm-5 1zm1 2zm3 0zm-4 1zm3 0zm1 0zm0 1zm1 0zm-2 1zm4 0zm-3 2zm1 0zm-5 1zm1 0zm2 0zm1 0zm2 0zm1 1zm-6 1zm1 0zm1 0zm1 0zm2 0zm-4 1zm-1 1zm2 0zm2 0zm-1 1zm2 0zm-6 1zm1 0zm5 0zm-6 1zm6 0zm1 0zm-4 1zm1 0zm0 1zm2 0zm1 0zm-2 1zm0 1zm-3 1zm2 0zm1 0zm-3 1zm2 1zm2 0zm-6 2zm4 0zm1 0zm2 0zm-1 3zm-3 2zm2 0zm-5 1zm0 1zm2 1zm3 0zm1 1zm-6 2zm6 1zm-2 4zm3 0zm-1 2zm3 1zm0-3zm1 0zm1 0zm1 0zm2 0zm-1-1zm-5-1zm4 0zm1 0zm2 0zm-4-1zm2 0zm-2-1zm2 0zm1 0zm-5-1zm1-2zm4 0zm-4-1zm3 0zm2 0zm-1-1zm-6-1zm3-1zm1 0zm3 0zm-7-1zm1 0zm1 0zm4 0zm1 0zm-3-1zm-4-1zm4 0zm-4-1zm5 0zm2 0zm-2-1zm1 0zm-2-1zm1 0zm-1-1zm0-1zm-3-1zm2 0zm4 0zm-3-1zm1 0zm2 0zm-5-1zm1 0zm4 0zm-1-2zm-5-1zm4-1zm-3-1zm1 0zm4 0zm-7-1zm1-3zm2 0zm-1-1zm2 0zm-2-1zm2 0zm-3-2zm3 0zm1 0zm2 0zm-4-1zm-1-1zm1 0zm1 0zm3 0zm-7-2zm6 0zm1 0zm-4-1zm-3-1zm1 0zm1 0zm1 0zm3 0zm-6-2zm2 0zm2 0zm2 0zm-4-1zm-2-1zm3 0zm1 0zm-2-1zm3 0zm1 0zm-5-1zm4 0zm-3-1zm2 0zm0-1zm1 0zm2-1zm-5-1zm-1-1zm2 0zm1 0zm2 0zm-2-1zm2 0zm0-1zm-3-1zm2 0zm1 0zm1 0zm-6-1zm1 0zm2 0zm3-1zm-7-1zm1 0zm1 0zm2 0zm3 0zm-5-1zm-1-1zm2 0zm3 0zm-3-1zm2 0zm1 0zm-3-1zm1 0zm2 0zm-3-1zm-2-1zm5 0zm1 0zm-7-1zm2 0zm3 0zm-3-1zm-1-1zm1 0zm3 0zm1 0zm-4-1zm2 0zm-2-3zm-1-1zm3 0zm2 0zm1 0zm-4-1zm2-1zm-1-1zm-2-1zm1 0zm4 0zm-7-1zm1 0zm6-1zm0-1zm-4-1zm2-1zm-1-2zm1 0zm1 0zm-5-1zm2 0zm1-1zm2 0zm-2-1zm1 0zm-4-2zm5 0zm-1-1zm-5-1zm2-1zm3 0zm2 0zm-7-1zm6 0zm-1-1zm-2-1zm1 0zm1-1zm1 0zm-4-1zm-2-1zm1 0zm1 0zm2 0zm-2-1zm4 0zm-2-1zm2 0zm-3-2zm-3-1zm6 0zm-6-1zm1-1zm-1-1zm5 0zm1 0zm1 0zm-1-1zm1-1zm-3-1zm2 0zm1 0zm-4-1zm1 0zm2 0zm-3-1zm1 0zm0-2zm3 0zm-3-1zm1 0zm-4-1zm2 0zm-3-1zm2-1zm-2-1zm3 0zm4-1zm-4-1zm1 0zm1 0zm1 0zm-5-1zm0-1zm0-1zm3 0zm2-1zm-6-2zm4 0zm3 0zm-6-1zm1 0zm5 0zm-6-1zm1 0zm4 0zm-6-1zm4 0zm1-1zm1 0zm-5-1zm1-1zm-1-1zm5 0zm-2-1zm-4-1zm3 0zm0-1zm2 0zm-5-1zm2 0zm1 0zm2 0zm-3-1zm3 0zm-5-2zm3 0zm1 0zm3 0zm-7-1zm5 0zm1 0zm-4-1zm3-1zm2 0zm0-1zm-1-1zm-1-1zm2 0zm-5-1zm4 0zm-5-3zm1-1zm1 0zm9-2zm-2 1zm4 1zm-5 1zm1 0zm3 0zm-1 1zm2 2zm1 0zm-5 1zm4 0zm1 0zm-7 1zm3 1zm2 0zm1 0zm1 0zm-3 1zm0 1zm3 0zm-4 1zm2 0zm1 0zm-2 2zm-3 1zm5 0zm-6 1zm1 0zm6 0zm-6 2zm5 0zm-4 1zm-2 1zm5 0zm-5 1zm1 0zm4 0zm-5 1zm2 0zm4 0zm1 0zm-1 1zm-4 1zm3 0zm0 1zm-2 1zm2 0zm1 0zm-2 1zm2 0zm-1 2zm-3 1zm3 0zm-5 1zm2 0zm3 0zm-3 1zm3 0zm-4 1zm0 1zm1 0zm1 0zm3 0zm-2 1zm2 0zm-5 1zm3 0zm-4 2zm4 0zm-2 1zm5 0zm-4 1zm2 0zm1 0zm1 0zm-5 1zm1 0zm3 0zm-6 1zm3 0zm4 0zm-3 1zm3 0zm-4 1zm4 0zm-5 1zm0 1zm2 0zm-4 1zm0 1zm4 0zm3 0zm-6 1zm1 0zm2 1zm-2 1zm3 0zm0 1zm-3 1zm3 1zm2 0zm-7 1zm2 1zm-2 1zm7 0zm-5 1zm2 0zm3 1zm-6 2zm6 0zm-4 1zm-1 1zm2 0zm1 0zm-2 1zm2 2zm1 0zm1 0zm-5 1zm5 0zm-6 1zm1 0zm-2 1zm7 0zm-6 1zm1 0zm4 0zm1 0zm-6 2zm6 0zm-3 2zm-1 3zm-3 1zm1 0zm4 0zm0 1zm-5 2zm1 0zm4 0zm-4 1zm1 0zm2 0zm-4 1zm0 1zm3 0zm-1 1zm1 0zm1 0zm2 0zm-5 1zm0 1zm0 1zm3 0zm2 0zm1 0zm-6 1zm2 0zm4 1zm-7 1zm4 0zm2 0zm-5 1zm4 0zm2 0zm-7 1zm2 0zm1 0zm2 0zm2 0zm-6 1zm1 0zm-2 1zm2 0zm3 2zm-4 1zm3 0zm1 0zm1 0zm-4 1zm0 1zm2 0zm3 0zm-6 2zm6 1zm-7 1zm4 0zm-4 2zm2 0zm-2 1zm1 2zm3 0zm2 0zm1 0zm-4 1zm1 0zm2 0zm1 1zm-4 1zm2 1zm-5 1zm4 0zm-2 2zm0 1zm1 0zm0 1zm1 0zm2 0zm-6 1zm1 0zm2 2zm3 0zm-5 1zm5 0zm1 0zm-7 1zm2 0zm2 0zm0 1zm1 0zm1 0zm1 0zm-4 1zm1 0zm3 0zm-7 1zm1 0zm2 0zm3 1zm-4 1zm1 0zm2 0zm-5 1zm1 0zm5 0zm-5 1zm5 0zm-6 1zm1 0zm4 0zm1 0zm-3 1zm1 0zm2 0zm-2 1zm-4 1zm5 0zm-3 1zm3 0zm-5 2zm4 0zm-2 1zm3 0zm2 0zm-2 1zm2 0zm-5 1zm1 0zm1 0zm0 1zm3 0zm-5 1zm4 0zm-6 1zm4 0zm3 0zm-2 1zm-5 2zm4 0zm2 0zm-6 1zm0 1zm1 0zm4 0zm2 0zm-6 2zm3 0zm5 0zm1 0zm1 0zm-3-1zm4 0zm2-2zm-1-1zm-2-1zm2 0zm1 0zm1 0zm-7-1zm3 0zm2 0zm-2-1zm1 0zm2 0zm-4-1zm1 0zm-3-2zm2 0zm4 0zm1 0zm-6-2zm-1-1zm0-1zm6 0zm-5-1zm4-1zm-3-1zm-1-1zm1 0zm3 0zm-4-1zm3 0zm3 0zm-6-1zm6 0zm-6-2zm4-1zm-3-1zm-1-1zm6 0zm-6-1zm1-1zm-2-2zm5-1zm-2-2zm1 0zm-2-1zm2 0zm2 0zm-5-1zm3 0zm1 0zm-4-1zm4-1zm2 0zm-6-1zm6 0zm-7-1zm3 0zm-3-1zm3 0zm2-2zm1 0zm-4-1zm1 0zm1 0zm-4-1zm4 0zm-3-2zm3 0zm1 0zm-4-1zm1 0zm2 0zm3 0zm-1-1zm1 0zm-7-1zm7-1zm-2-1zm-4-1zm3 0zm2 0zm-1-1zm-3-1zm1-1zm1 0zm2 0zm-6-1zm7 0zm-2-1zm-3-1zm2 0zm3 0zm-4-2zm2 0zm1 0zm-5-2zm1 0zm2 0zm3 0zm-6-1zm5-1zm-6-1zm1 0zm-1-2zm4 0zm3 0zm-1-1zm-4-1zm1-1zm3 0zm-5-1zm1 0zm1 0zm4 0zm-5-1zm4 0zm-5-1zm5-1zm-2-1zm1 0zm-3-1zm-1-2zm5 0zm1 0zm-3-1zm-3-1zm3 0zm2 0zm-6-1zm6 0zm-2-1zm-1-1zm-1-1zm1 0zm3 0zm-6-1zm6-1zm1 0zm-5-1zm4 0zm-5-1zm1 0zm4-1zm-1-1zm-5-1zm1 0zm3 0zm3-1zm-7-3zm1 0zm2 0zm1 0zm-4-1zm4 0zm3 0zm-7-1zm3 0zm2 0zm-4-1zm2-1zm-3-2zm1 0zm5 0zm-6-1zm1 0zm6 0zm-7-1zm0-1zm1 0zm-1-1zm2 0zm1 0zm2 0zm-4-1zm2 0zm4 0zm-7-1zm1 0zm1-1zm2 0zm1 0zm2 0zm-1-2zm1 0zm-4-1zm2-1zm-4-1zm2 0zm-2-1zm3 0zm-1-1zm1 0zm-4-1zm2-1zm3 0zm2 0zm-5-1zm1 0zm-3-2zm7 0zm0-1zm-7-1zm1-1zm5 0zm-4-1zm1 0zm-3-1zm1 0zm0-1zm1 0zm3 0zm-3-1zm-2-1zm1-2zm-1-1zm4 0zm2 0zm-4-1zm1 0zm3 0zm1 0zm-3-1zm-1-1zm1 0zm3 0zm-6-1zm4 0zm-5-2zm1 0zm1 0zm3 0zm-1-1zm1 0zm-3-1zm3 0zm-3-1zm1 0zm1-1zm1 0zm-4-1zm-1-1zm1 0zm-1-1zm1 0zm4 0zm1 0zm-4-1zm4 0zm-5-1zm0-1zm2-2zm2 0zm-3-1zm5 0zm-4-1zm7 0zm5 2zm-3 1zm2 0zm-6 1zm7 0zm-5 1zm-1 1zm4 0zm-2 1zm3 0zm-3 1zm2 0zm1 0zm-3 1zm2 0zm-5 1zm6 0zm-3 1zm1 1zm-2 1zm2 0zm-2 1zm2 0zm-3 1zm5 0zm1 0zm-1 1zm1 2zm-7 1zm5 0zm1 0zm-1 1zm-1 1zm0 1zm1 0zm-2 1zm3 0zm-4 1zm3 0zm1 0zm-2 1zm3 0zm-7 1zm6 0zm-1 1zm-5 2zm0 1zm3 0zm3 0zm-4 1zm1 0zm-1 1zm3 0zm-2 1zm-2 1zm6 0zm-7 2zm2 0zm2 1zm3 0zm-7 1zm4 0zm2 0zm1 0zm-7 1zm3 0zm1 0zm-1 1zm-1 2zm3 0zm-5 1zm4 0zm-1 1zm1 1zm1 1zm-5 1zm7 1zm-1 1zm-6 1zm1 0zm1 0zm2 0zm1 0zm1 0zm0 1zm-3 1zm2 0zm-3 2zm0 1zm2 0zm-4 1zm4 0zm-2 1zm1 0zm1 0zm-2 1zm5 1zm-7 1zm4 2zm-4 1zm5 0zm-3 1zm4 0zm-2 2zm0 1zm-4 1zm2 0zm1 1zm2 0zm0 1zm1 0zm-6 1zm0 1zm5 0zm-3 1zm3 0zm-5 1zm7 0zm-7 1zm4 0zm-3 1zm-1 1zm1 0zm3 0zm1 0zm1 0zm-6 1zm1 0zm4 0zm-2 1zm3 0zm1 0zm-7 2zm1 0zm1 0zm0 1zm5 0zm-2 1zm2 0zm-4 1zm4 0zm-5 1zm4 0zm-2 1zm3 0zm-5 1zm2 0zm1 0zm1 0zm-5 1zm2 0zm-2 1zm1 0zm4 0zm-2 1zm-4 1zm5 0zm-3 1zm1 0zm2 1zm-5 1zm5 0zm-3 1zm3 0zm-2 1zm1 0zm-3 1zm1 1zm4 0zm-6 1zm3 0zm2 0zm2 0zm-7 1zm1 0zm1 0zm1 0zm1 0zm-4 1zm5 0zm-5 1zm1 0zm4 0zm1 0zm-2 1zm2 0zm-3 1zm4 0zm-5 2zm1 0zm2 0zm-1 1zm-2 1zm-1 2zm1 0zm-2 1zm2 0zm1 1zm0 1zm3 0zm-6 1zm2 0zm3 0zm-5 1zm7 0zm-6 1zm2 0zm3 0zm-6 1zm4 0zm-4 1zm5 1zm0 1zm-3 2zm5 0zm-6 1zm6 0zm-3 1zm2 0zm-6 1zm4 0zm-4 1zm2 2zm3 0zm-2 1zm3 0zm-2 1zm1 0zm1 0zm-3 1zm4 0zm-7 1zm2 0zm-2 2zm2 0zm3 0zm-4 1zm4 0zm-5 2zm1 0zm6 0zm-5 1zm2 0zm-4 1zm1 0zm4 0zm-3 1zm-2 1zm1 1zm2 0zm1 0zm1 0zm-4 1zm1 0zm2 0zm-4 1zm5 0zm-2 2zm0 1zm3 0zm-5 2zm1 0zm6-10zm1 0zm5-2zm-5-1zm1 0zm1-1zm0-1zm2 0zm2 0zm-7-1zm4 0zm-4-1zm7 0zm-2-1zm1-1zm-3-1zm2-1zm1 0zm-6-1zm3-1zm3 0zm-5-1zm2 0zm2 0zm1 0zm-5-2zm2 0zm2 0zm-4-1zm1 0zm4 0zm1 0zm-4-1zm-2-1zm5 0zm-4-1zm3 0zm2 0zm-7-1zm1 0zm6 0zm-1-1zm-2-1zm1 0zm2 0zm-7-1zm2-1zm1 0zm-3-2zm3 0zm-1-1zm0-1zm1 0zm-1-1zm1 0zm1 0zm1 0zm-4-1zm1 0zm-2-1zm7 0zm-4-1zm4 0zm-6-1zm1 0zm1 0zm4 0zm-3-1zm2 0zm-2-1zm3 0zm0-1zm-5-1zm1 0zm1 0zm2 0zm-3-1zm2 0zm1 0zm1-1zm-5-1zm1-1zm2 0zm-5-1zm1 0zm4 0zm-2-1zm-3-1zm3 0zm4 0zm-6-2zm2 0zm1 0zm3-1zm-3-1zm3 0zm-5-1zm3 0zm1 0zm-4-1zm2 0zm-2-1zm-2-2zm1 0zm-1-1zm5-1zm2 0zm-4-1zm1 0zm1 0zm2 0zm-7-2zm0-1zm3 0zm1 0zm1 0zm-4-1zm2 0zm0-1zm3-1zm1 0zm0-2zm-6-1zm3 0zm-1-1zm0-1zm1 0zm3 0zm-1-1zm-6-1zm1 0zm4-1zm-5-1zm2 0zm2 0zm2 0zm-4-1zm2-1zm1 0zm-4-2zm2 0zm4 0zm-2-1zm1 0zm-6-1zm4 0zm-4-2zm2 0zm1 0zm1 0zm3 0zm-7-1zm3 0zm-1-1zm3 0zm-3-1zm2 0zm2 0zm1 0zm-2-1zm-5-1zm0-1zm1 0zm1 0zm5 0zm-7-1zm5 0zm1 0zm-1-1zm-1-1zm3 0zm-4-1zm1 0zm1-1zm-2-1zm4 0zm-1-1zm1 0zm-6-1zm3 0zm-2-1zm3 0zm2 0zm-7-1zm2 0zm1 0zm2-1zm1 0zm-5-1zm1 0zm1 0zm1 0zm2 0zm-6-1zm1 0zm2-1zm3 0zm-1-1zm1-1zm1 0zm-7-1zm2 0zm3-1zm1-1zm-4-1zm4 0zm-5-1zm4 0zm-3-1zm4 0zm1 0zm-7-1zm5 0zm-1-1zm3 0zm-1-1zm-5-1zm3 0zm-2-1zm2 0zm1 0zm1 0zm1 0zm-5-1zm1 0zm1 0zm-1-1zm0-1zm1 0zm1-1zm-4-1zm2 0zm4 0zm-4-1zm-1-1zm1 0zm1 0zm-4-1zm7 0zm-7-1zm1 0zm3-1zm3 0zm-3-1zm-3-1zm-1-1zm1 0zm2 0zm1-1zm-2-1zm4 0zm-4-1zm1-1zm2 0zm1 0zm-5-1zm1 0zm-2-1zm1 0zm1 0zm-2-1zm3 0zm-3-1zm6-1zm1 0zm-4-1zm-1-1zm3 0zm2 0zm-5-2zm9 7zm-2 1zm0 1zm0 1zm1 0zm1 0zm-2 1zm3 0zm-2 1zm1 0zm-1 1zm3 0zm-3 1zm2 0zm3 0zm-3 1zm-2 1zm1 0zm3 0zm-2 1zm-4 1zm2 0zm1 0zm-1 1zm0 1zm1 0zm1 0zm0 1zm-4 1zm4 0zm2 0zm-5 2zm5 0zm1 0zm-5 1zm5 0zm-3 1zm3 0zm-7 2zm1 0zm4 0zm-1 1zm1 0zm1 0zm-4 1zm4 0zm1 0zm-3 1zm3 0zm-3 1zm-2 1zm0 1zm3 1zm1 0zm1 0zm-1 2zm0 1zm-5 1zm6 0zm-7 1zm6 0zm1 0zm-2 1zm-5 1zm4 1zm0 1zm3 0zm-2 1zm1 0zm-5 1zm1 0zm3 0zm-5 1zm0 2zm0 1zm3 0zm-3 1zm2 0zm1 0zm4 0zm-2 1zm2 0zm-2 1zm1 0zm-6 1zm3 0zm2 0zm-3 1zm2 0zm0 1zm2 0zm-4 3zm2 1zm1 0zm-4 1zm1 0zm1 0zm-3 1zm4 0zm1 0zm1 0zm0 1zm0 1zm0 1zm1 0zm-2 1zm1 0zm-1 1zm-5 1zm1 0zm2 0zm1 0zm2 0zm1 0zm-4 1zm1 0zm3 0zm-4 1zm4 0zm-7 1zm6 0zm1 0zm-5 1zm-2 1zm5 0zm1 0zm-1 1zm-1 2zm-3 1zm1 0zm4 0zm0 1zm-5 1zm3 0zm-2 2zm5 0zm0 1zm-2 1zm-3 1zm2 0zm-3 1zm1 0zm2 0zm-2 1zm-2 2zm0 2zm0 1zm7 2zm-5 1zm2 0zm1 0zm1 1zm1 0zm-6 1zm2 0zm1 0zm1 1zm-2 1zm1 0zm-3 1zm1 1zm3 0zm-3 1zm1 1zm-2 1zm1 1zm1 0zm-2 1zm5 0zm1 0zm-1 2zm-3 1zm3 0zm-2 1zm-4 1zm1 0zm0 1zm3 0zm-4 1zm1 0zm2 0zm2 0zm2 0zm-4 1zm1 0zm3 0zm-7 1zm2 0zm3 0zm-4 1zm5 0zm-4 1zm2 0zm-4 1zm5 0zm2 0zm-7 1zm2 0zm5 0zm-6 1zm5 0zm1 0zm-6 1zm3 0zm-4 1zm1 1zm5 1zm-6 1zm1 0zm4 0zm-1 1zm1 2zm-3 1zm1 0zm-1 1zm1 0zm1 1zm-4 1zm2 2zm-2 2zm2 0zm6-8zm0-2zm5-1zm-5-1zm1 0zm2 0zm0-1zm2 0zm-1-1zm2 0zm1 0zm-4-1zm3 0zm-4-2zm-1-1zm3-1zm-2-1zm0-1zm1 0zm3 0zm-5-1zm5 0zm1 0zm-2-2zm2-1zm-4-1zm1 0zm1-1zm-1-1zm2 0zm1 0zm-7-1zm5 0zm-4-1zm3 0zm1 0zm1 0zm-5-1zm4 0zm1 0zm-5-1zm1-1zm1 0zm3 0zm-5-1zm2-1zm-1-1zm1-1zm-1-2zm1 0zm1 0zm-1-2zm2 0zm-5-1zm2 0zm3-1zm-3-1zm1 0zm2 0zm2-1zm-5-1zm-1-1zm4 0zm-5-1zm4 0zm3 0zm-7-1zm2 0zm4 0zm1 0zm-6-1zm2-1zm1 0zm-4-2zm3 0zm-2-1zm1 0zm4 0zm-4-1zm-1-1zm6 0zm-7-2zm2 0zm2 0zm2 0zm-1-1zm2-1zm-2-1zm2 0zm-7-1zm3 0zm1 0zm-2-1zm0-1zm4 0zm-6-1zm4 0zm-2-2zm-1-1zm1 0zm1 0zm-2-1zm3 0zm1 0zm2 0zm-5-2zm2 0zm1 0zm-3-1zm3-1zm-5-1zm1 0zm2 0zm3-1zm-6-3zm1-2zm2 0zm2 0zm-5-2zm2 0zm1-1zm-2-1zm3 0zm0-2zm2 0zm0-1zm-4-1zm1 0zm3 0zm-5-1zm6 0zm-3-2zm3 0zm-5-1zm1 0zm3 0zm-4-1zm4-1zm-4-1zm1 0zm4 0zm-6-1zm2 0zm3 0zm-3-1zm-3-1zm6 0zm-2-2zm1 0zm-2-1zm1 0zm1 0zm1 0zm-1-3zm-5-1zm2 0zm2 0zm-1-2zm1-1zm-4-1zm6 0zm-6-1zm1-1zm4 0zm1 0zm-5-1zm3 0zm1 0zm1 0zm-4-1zm1-1zm2 0zm1 0zm1 0zm-6-1zm5 0zm-4-1zm3 0zm-5-1zm1 0zm1 0zm2 0zm3-1zm-3-2zm-2-1zm2 0zm-1-2zm0-2zm6 11zm1 1zm-2 3zm0 1zm1 1zm4 0zm-5 5zm2 1zm2 1zm-4 4zm2 1zm-1 1zm1 1zm1 0zm1 2zm0 1zm-1 1zm-3 1zm3 0zm-3 1zm0 3zm5 0zm-3 1zm3 0zm-5 1zm2 0zm2 1zm-3 1zm4 1zm-4 1zm1 0zm4 0zm1 0zm-6 1zm6 0zm-7 2zm0 1zm2 0zm1 0zm-3 1zm6 0zm-5 1zm1 0zm-1 1zm1 0zm1 0zm-1 1zm5 0zm-7 1zm1 0zm1 0zm-1 1zm1 0zm0 1zm-2 1zm4 0zm3 3zm-7 1zm1 0zm3 0zm0 1zm1 1zm-3 1zm0 2zm3 0zm-5 2zm5 0zm-3 1zm4 1zm-6 1zm4 0zm-3 1zm2 0zm1 0zm2 0zm-5 1zm-1 2zm1 0zm1 1zm4 0zm-2 1zm-4 1zm3 0zm1 0zm-4 1zm3 1zm2 0zm2 0zm-6 1zm4 0zm1 0zm1 0zm-5 1zm3 0zm-2 3zm3 2zm0 2zm-4 1zm0 2zm4 0zm-5 2zm1 2zm-1 1zm3 1zm-4 1zm2 1zm-2 1zm2 0zm2 0zm-3 3zm1 0zm-2 3zm9-42zm0-20z" stroke="#35A255" stroke-width="3" stroke-opacity="0.8"/><path d="M638 354zm0-7zm1-1zm-1-4zm-1-1zm2-10zm6-20zm0 4zm1 0zm0 2zm-3 2zm1 0zm-3 1zm6 0zm0 2zm-5 1zm1 0zm0 1zm4 0zm-5 1zm5 0zm-4 1zm1 0zm2 0zm-5 1zm6 1zm-7 3zm2 2zm5 3zm-2 1zm-3 2zm3 1zm1 0zm-2 2zm-2 2zm-2 2zm5 0zm1 0zm-4 2zm1 0zm-3 1zm3 0zm1 1zm-4 1zm3 1zm3 0zm-3 2zm3 0zm-1 3zm8-5zm2 0zm-2-1zm0-1zm-3-1zm3 0zm1 0zm-6-1zm1 0zm4 0zm2 0zm-7-1zm0-1zm5 0zm1 0zm0-1zm1 0zm-2-1zm-2-1zm2 0zm-3-1zm5 0zm-5-1zm0-1zm3 0zm2 0zm-5-1zm1 0zm-3-1zm4-1zm3 0zm-3-1zm1 0zm2 0zm-1-1zm-1-1zm-2-1zm0-1zm-3-1zm0-1zm2 0zm0-1zm1 0zm4 0zm-7-1zm6 0zm-4-2zm2-2zm-4-1zm6-4zm-6-2zm3 0zm-2-1zm5 0zm-1-1zm-3-1zm5 0zm-6-1zm6 0zm-7-3zm1 0zm1 0zm3 0zm-2-1zm1-1zm-2-1zm1 0zm2-1zm1-3zm1 0zm-1-1zm1 0zm6-36zm-1 4zm-1 1zm4 1zm0 2zm-1 1zm-1 1zm2 0zm-4 3zm1 0zm2 1zm1 2zm-2 1zm-5 1zm6 1zm1 0zm-2 1zm-2 1zm1 1zm0 1zm-2 1zm2 3zm2 0zm1 0zm-2 1zm1 0zm-3 1zm2 1zm-5 1zm1 0zm1 0zm4 0zm-1 1zm-5 1zm1 0zm2 0zm2 0zm2 0zm-6 1zm6 1zm-2 1zm2 2zm-7 1zm0 1zm2 0zm1 0zm1 0zm0 2zm3 1zm-5 1zm3 0zm0 1zm2 0zm-2 2zm-2 1zm2 0zm2 0zm-2 1zm2 0zm-6 1zm-1 3zm4 0zm0 3zm-4 1zm3 0zm2 1zm2 0zm-1 2zm1 0zm-3 1zm-3 2zm3 1zm2 0zm-2 3zm0 1zm-4 2zm2 0zm-2 1zm3 0zm-2 1zm3 0zm2 0zm1 1zm-2 1zm2 0zm-7 1zm6 1zm-5 2zm1 1zm-1 2zm3 0zm-2 3zm6-3zm1-3zm-1-2zm4-3zm0-2zm3-1zm-6-1zm-1-3zm6-1zm-5-1zm4 0zm-5-1zm6 0zm-4-1zm2 0zm-1-1zm4 0zm-1-1zm-2-1zm-2-1zm1 0zm-1-1zm5 0zm-6-1zm-1-1zm6 0zm-5-1zm1 0zm1 0zm-2-2zm6 0zm-4-3zm4-3zm-1-1zm-2-1zm2 0zm0-1zm1 0zm-7-2zm0-1zm2-1zm1-1zm1 0zm-4-1zm0-1zm2 0zm2 0zm2-1zm-4-1zm1 0zm1 0zm-1-1zm2 0zm2-2zm-7-1zm1-1zm4 0zm2 0zm-5-1zm3-1zm2-1zm-3-4zm-3-3zm6 0zm-4-1zm-3-1zm4-2zm2-2zm-5-1zm5 0zm-3-1zm1-1zm0-1zm2 0zm-6-1zm0-1zm4 0zm1 0zm-2-3zm1 0zm-1-2zm-2-1zm5-1zm-5-1zm6-2zm-3-2zm3-1zm0-1zm-3-2zm2 0zm-2-1zm2-1zm1-1zm0-1zm-2-1zm-3-1zm3 0zm1-1zm-3-1zm-2-1zm4 0zm-5-2zm7-3zm-4-1zm-3-1zm1-1zm5 0zm0-3zm0-4zm-2-2zm0-3zm1-1zm1 0zm1-2zm-3-3zm3-5zm-1-2zm5-9zm0 5zm2 2zm-4 2zm2 0zm-3 3zm4 0zm0 2zm-1 1zm-1 3zm1 0zm4 0zm-3 1zm-2 1zm-1 1zm3 1zm-4 1zm1 3zm2 0zm4 0zm-2 2zm2 0zm-1 1zm-1 1zm-4 2zm0 1zm1 2zm4 2zm-1 1zm2 3zm-3 1zm-1 3zm-2 1zm3 0zm3 0zm-7 1zm1 0zm-1 2zm4 1zm0 1zm-3 1zm1 0zm3 4zm1 0zm0 1zm-5 3zm2 0zm-1 1zm0 2zm5 0zm-2 1zm-1 1zm1 0zm2 0zm-2 1zm-5 2zm1 0zm1 0zm3 1zm-1 1zm1 0zm-4 1zm1 1zm2 1zm-3 3zm1 0zm4 0zm1 2zm-1 1zm-4 3zm0 1zm-2 2zm6 1zm-3 1zm3 2zm-5 1zm5 0zm-4 1zm4 1zm-6 1zm3 1zm3 0zm-3 1zm-2 2zm2 0zm1 0zm1 0zm-5 2zm1 0zm2 0zm3 2zm0 1zm-4 1zm1 0zm1 0zm-2 1zm4 0zm-4 2zm1 1zm-3 1zm2 1zm2 1zm-1 1zm2 0zm-2 1zm3 0zm-5 2zm2 0zm-3 1zm6 0zm-5 2zm1 2zm0 1zm2 0zm-4 6zm8-14zm2-3zm-2-2zm1 0zm1-3zm1 0zm1-1zm3 0zm-7-1zm1 0zm1-1zm4 0zm-4-2zm0-1zm5-1zm-7-2zm7-1zm-5-1zm-1-1zm3-2zm2 0zm-1-2zm2 0zm-3-3zm0-2zm2 0zm-6-1zm7 0zm-3-2zm-3-1zm2 0zm2-2zm-4-2zm1 0zm-1-1zm1 0zm4-1zm0-2zm-4-2zm1 0zm-3-3zm3-1zm-3-1zm3-2zm-3-2zm5 0zm2 0zm-6-1zm-1-4zm4-2zm-1-1zm1 0zm-4-1zm4 0zm-3-2zm0-3zm2-2zm-1-3zm-2-3zm0-6zm11 35zm-3 1zm0 4zm0 8zm1 1zm0 1zm3 0zm-4 2zm4 1zm1 0zm-5 1zm2 0zm4 0zm-1 3zm-2 1zm-3 1zm4 0zm0 1zm1 0zm-2 2zm1 0zm-4 1zm4 1zm-4 2zm0 1z" stroke="#9FD79A" stroke-width="3" stroke-opacity="0.8"/><path d="M671 366zm-6-7zm5-1zm-3-2zm4 0zm-5-2zm-1-4zm10-16zm3 1zm0 3zm-1 6zm1 1zm1 1zm-1 2zm-5 2zm1 8zm3 2zm-4 1zm2 1zm3 0zm-1 7zm-2 1zm3 1zm-3 1zm4 7zm1 3zm5 0zm-4-1zm4 0zm1 0zm-2-2zm2 0zm-5-1zm-1-2zm5-7zm1 0zm0-1zm1 0zm-5-3zm3-6zm2-1zm-7-3zm1-2zm1 0zm3-1zm0-2zm2-1zm-3-4zm3-1zm-4-1zm1 0zm-3-1zm-1-5zm3-2zm2 0zm-1-2zm-3-3zm3-2zm1-4zm1 0zm9-13zm-6 1zm4 0zm-3 2zm-1 1zm3 4zm3 1zm-6 8zm0 3zm6 0zm-5 3zm5 2zm-3 1zm0 5zm-2 2zm2 1zm2 5zm-1 3zm-2 14zm1 2zm-4 7zm1 1zm2 2zm0 4zm5-4zm3 0zm2-2zm1-1zm-6-1zm2-4zm3-1zm1 0zm0-2zm-5-1zm1-2zm3 0zm-4-1zm2 0zm0-13zm1 0zm-3-2zm1 0zm4-3zm-2-2zm-1-1zm-3-8zm5-7zm0-2zm2 0zm-5-3zm3-5zm-5-2zm4-4zm1-2zm7 3zm2 4zm-6 1zm7 1zm0 2zm-6 1zm1 1zm3 0zm1 3zm-6 1zm4 0zm-3 3zm3 0zm0 3zm-1 2zm0 1zm3 4zm-5 2zm1 1zm1 5zm2 1zm-3 1zm-2 6zm3 0zm1 0zm2 1zm-2 5zm0 2zm-1 1zm1 0zm-4 4zm0 1zm10-25zm1-6zm-1-6zm5-4zm-4-2zm1-5zm-2-1zm3 0zm2 0zm-5-3zm0-3zm1 0zm5-1zm2 1zm-2 4zm3 0zm-2 7z" stroke="#9FD79A" stroke-width="3" stroke-opacity="0.8"/><path d="M679 321zm-1 1zm-1 2zm10 3zm0-1zm-2-1zm-2-2zm4 0zm-6-2zm1 0zm1-1zm4 0zm-2-1zm2-1zm-7-3zm2-2zm1 0zm2-1zm8-12zm2 0zm-4 3zm3 0zm1 4zm0 1zm-3 3zm0 1zm-4 1zm0 2zm4 2zm0 2zm0 1zm-1 1zm3 1zm-6 1zm3 1zm3 0zm-4 1zm5 1zm-4 1zm2 0zm-2 3zm1 2zm2 0zm-1 4zm8 6zm-1-1zm-1-1zm-3-1zm6 0zm-1-2zm2 0zm-4-2zm1-2zm2 0zm-3-1zm2-1zm1 0zm-1-5zm1-3zm-5-1zm3-2zm-4-1zm6-4zm1 0zm-4-3zm-3-2zm7 0zm-3-2zm-4-1zm5-2zm-4-4zm4-1zm6 12zm-2 1zm2 1zm1 0zm-2 3zm4 2zm0 1zm-4 2zm4 0zm-6 5zm2 0zm1 0zm2 3zm-4 1zm1 0zm1 4zm-2 1zm1 2zm3 3zm-3 1zm6-10zm1-1zm3-1zm-4-1zm2-2zm-1-2zm1-1zm1 0zm0-4zm4 0zm-6-1zm1 0zm5 0zm-4-1zm4-3zm-3-1zm10-1zm1 0zm-3 3zm3 0zm-2 1zm-2 6zm5-4zm1-7z" stroke="#6EC072" stroke-width="3" stroke-opacity="0.8"/><path d="M670 566zm1-3zm-3-1zm2-2zm1-5zm0-13zm-2-4zm5-6zm1 2zm3 0zm-6 1zm4 0zm3 2zm-7 4zm1 0zm3 1zm2 0zm-1 1zm0 1zm-1 2zm2 0zm1 0zm-4 1zm1 1zm-2 1zm4 0zm-3 1zm4 0zm-3 1zm2 0zm-6 1zm1 0zm-1 1zm0 1zm3 0zm-3 2zm3 1zm1 1zm-4 1zm3 0zm4 0zm-5 2zm5 1zm-1 2zm-5 4zm1 0zm1 0zm3 0zm-6 8zm7 0zm-1 1zm-2 5zm3 0zm0 5zm-2 1zm8 5zm-3-1zm0-2zm0-2zm1 0zm-3-1zm0-2zm1 0zm0-1zm4-1zm2 0zm-6-1zm6 0zm-5-3zm3 0zm1 0zm-6-1zm1-5zm2 0zm2-1zm2-1zm-4-1zm4 0zm0-1zm-3-1zm-3-1zm4 0zm0-2zm1-4zm-1-1zm-3-1zm4 0zm0-1zm-5-1zm5 0zm-6-1zm6 0zm1 0zm-5-1zm0-1zm5 0zm-5-1zm3-1zm1 0zm-6-2zm2 0zm1-1zm1 0zm3-1zm-7-1zm2 0zm-1-1zm3 0zm3-1zm-6-3zm-1-2zm7 0zm-6-2zm2 0zm4 0zm-4-2zm2 0zm-5-1zm4 0zm0-1zm1-1zm1 0zm-2-1zm0-3zm1-1zm7-7zm0 4zm1 0zm-5 1zm4 0zm-2 1zm0 1zm-1 2zm0 1zm-1 1zm0 1zm6 0zm0 1zm1 1zm-6 1zm1 0zm2 0zm-2 1zm4 0zm-2 1zm-3 1zm6 0zm-6 1zm3 0zm0 1zm-4 1zm2 0zm3 0zm1 0zm1 0zm-4 1zm1 0zm2 0zm-6 1zm2 0zm2 0zm1 1zm-4 3zm2 0zm1 0zm3 0zm-2 1zm-5 1zm2 0zm5 1zm-5 1zm4 1zm-5 1zm-1 1zm4 0zm3 0zm-6 1zm-1 1zm2 0zm2 0zm-2 1zm-1 1zm5 0zm1 0zm-1 1zm-1 1zm1 0zm-1 1zm-5 2zm6 0zm-4 1zm3 0zm-5 1zm2 0zm1 0zm0 1zm3 1zm-5 1zm6 0zm-6 3zm6 1zm-2 3zm-2 1zm0 1zm4 0zm-1 1zm-5 2zm1 0zm2 1zm3 2zm-6 1zm1 2zm1 0zm3 0zm-2 1zm1 1zm-3 1zm2 0zm3 2zm0 1zm-5 1zm5 2zm-5 1zm3 2zm1 0zm-4 2zm13 0zm-7-2zm0-1zm3 0zm2 0zm1-3zm-6-3zm0-2zm0-1zm2 0zm3 0zm0-1zm-2-1zm-2-1zm1 0zm2 0zm2 0zm-5-1zm1 0zm5 0zm-5-3zm-1-1zm3-1zm-4-1zm2 0zm2-1zm3 0zm-5-1zm3 0zm0-1zm-4-3zm1 0zm3 0zm2 0zm-5-1zm5 0zm-3-1zm0-1zm2 0zm0-1zm-4-2zm4 0zm-1-1zm-2-1zm3 0zm-4-2zm4 0zm-1-1zm1 0zm-6-1zm3 0zm1 0zm-3-1zm2 0zm1 0zm-4-1zm1 0zm1 0zm2 0zm1 0zm2 0zm-6-1zm4-1zm-4-1zm0-1zm3-1zm1 0zm2 0zm-7-1zm3 0zm2-1zm-3-2zm5 0zm-5-1zm1 0zm3 0zm-3-2zm1 0zm2-1zm-6-1zm6-4zm1 0zm-7-1zm2 0zm-2-1zm2 0zm2 0zm2 0zm1 0zm-7-1zm3-1zm4 0zm-2-1zm-2-1zm4 0zm0-1zm-6-1zm-1-2zm2 0zm2 0zm-3-1zm2-1zm3 0zm1 0zm-6-2zm4 0zm2 0zm-5-2zm2-3zm3 0zm-5-1zm11 0zm0 3zm1 0zm-6 1zm2 0zm1 0zm3 0zm-6 1zm3 0zm2 0zm1 0zm-4 1zm2 0zm-4 1zm1 0zm3 1zm1 0zm-4 1zm-1 2zm1 0zm1 0zm-2 1zm5 1zm-3 1zm5 0zm-5 1zm1 0zm2 0zm2 0zm-3 2zm2 1zm-6 1zm2 0zm3 1zm-5 1zm6 0zm0 3zm-6 1zm4 0zm3 0zm-7 1zm3 0zm-2 1zm0 2zm3 0zm-4 1zm0 2zm2 0zm2 0zm0 1zm3 0zm-2 1zm-1 1zm-3 1zm2 0zm-3 1zm4 1zm3 0zm0 1zm-2 1zm-4 2zm5 0zm-2 3zm-3 1zm5 0zm-5 3zm1 0zm4 0zm1 0zm-6 1zm3 0zm-4 1zm5 0zm1 1zm-6 1zm6 0zm1 0zm-6 1zm4 1zm2 0zm-3 2zm2 0zm1 0zm-4 1zm-2 1zm1 1zm0 1zm5 0zm-7 1zm0 2zm4 0zm3 0zm-4 3zm-1 1zm5 1zm-3 1zm2 0zm1 1zm-7 1zm1 0zm6 0zm-4 1zm2 0zm2 2zm-3 1zm-1 1zm1 0zm-2 1zm1 0zm-2 1zm1 0zm3 0zm-2 1zm2 1zm-5 1zm0 1zm11 4zm0-2zm0-5zm0-2zm0-2zm2-1zm-2-1zm-2-1zm2 0zm3-1zm-4-1zm3 0zm-2-1zm2 0zm1 0zm-2-1zm-3-3zm4 0zm1-1zm-6-1zm0-1zm1 0zm1 0zm2 0zm2 0zm1 0zm-5-1zm1 0zm3 0zm-6-3zm3-1zm-3-1zm1-1zm1 0zm3-1zm-5-1zm2 0zm4 0zm-1-1zm-5-1zm2 0zm-2-2zm2 0zm3-1zm-5-2zm2 0zm5 0zm-5-2zm3 0zm2 0zm-3-1zm-2-1zm3-1zm-4-1zm1 0zm3-2zm2 0zm-6-1zm4 0zm1-1zm-1-1zm-2-1zm-3-1zm4-2zm0-1zm3 0zm-5-1zm5 0zm-6-2zm6 0zm-5-1zm5 0zm-7-1zm0-1zm0-2zm3-1zm1-1zm2 0zm1 0zm-7-2zm2-1zm2 0zm2 0zm-5-1zm6 0zm-3-1zm1 0zm0-2zm0-1zm-3-1zm2-1zm2 0zm-6-1zm4 0zm3 0zm-6-1zm3 0zm0-1zm2-1zm1 0zm-5-1zm3 0zm2 0zm-2-1zm2 0zm-6-1zm3 0zm-3-1zm-1-1zm1 0zm2 0zm1 0zm3 0zm-1-8zm1-169zm-2-6zm2-3zm-1-8zm0-4zm8-5zm-4 2zm5 2zm-6 2zm3 0zm-4 1zm4 1zm-1 1zm-1 1zm-1 1zm5 0zm1 1zm-7 1zm3 0zm-3 3zm5 0zm2 0zm-7 1zm0 1zm1 0zm2 0zm1 0zm0 1zm3 0zm0 1zm-6 2zm6 0zm-5 1zm-1 1zm3 0zm3 1zm-4 5zm2 2zm-1 2zm-3 1zm0 2zm5 1zm1 0zm-4 2zm3 3zm1 0zm-1 3zm1 3zm-2 133zm2 4zm-5 3zm5 0zm-7 1zm4 0zm-1 2zm0 1zm3 0zm-6 1zm2 0zm4 0zm1 1zm-7 1zm7 0zm-1 3zm-4 2zm2 1zm-4 1zm2 0zm1 0zm3 0zm-2 1zm-4 1zm7 0zm-4 1zm0 1zm-3 1zm1 0zm1 0zm0 1zm5 0zm-6 1zm2 0zm4 0zm-1 1zm1 0zm-4 1zm3 0zm1 1zm-2 1zm2 1zm-4 1zm3 1zm-5 1zm0 1zm1 0zm0 1zm3 0zm1 1zm-4 1zm1 1zm4 0zm0 1zm-7 2zm3 0zm-2 3zm2 0zm-2 3zm4 0zm-3 1zm5 1zm-5 1zm0 1zm5 0zm-7 3zm1 0zm-1 1zm5 0zm-2 2zm2 0zm0 1zm1 0zm-1 1zm-5 1zm2 0zm3 0zm2 1zm-7 1zm2 0zm1 0zm1 0zm-3 1zm1 0zm-2 1zm2 0zm2 1zm-4 1zm2 0zm2 0zm3 0zm-5 3zm3 0zm1 0zm-1 2zm-1 1zm2 0zm-4 1zm3 0zm-4 1zm2 0zm4 0zm-7 1zm3 0zm-3 3zm3 1zm4 0zm-6 1zm6 1zm-6 1zm1 0zm0 2zm3 0zm-4 1zm2 1zm-1 1zm-2 2zm4 2zm-4 1zm5 0zm-4 1zm1 0zm1 0zm1 0zm-4 1zm1 3zm-1 2zm10-6zm-2-2zm4-2zm-3-2zm3 0zm-3-1zm-1-1zm5 0zm-5-1zm1 0zm0-1zm3 0zm1 0zm-1-1zm-4-1zm2 0zm1 0zm1 0zm-1-2zm4-1zm-3-1zm-3-1zm3-1zm-4-1zm3 0zm3-1zm-6-2zm6-2zm-3-1zm1 0zm-1-1zm2 0zm2 0zm-1-1zm1 0zm-1-1zm1-1zm-2-1zm-2-1zm3 0zm-3-1zm2-1zm2 0zm-4-1zm1-2zm3 0zm-6-1zm6 0zm-3-1zm1 0zm-1-1zm3-1zm-4-1zm2 0zm-2-1zm-3-1zm7 0zm-6-1zm-1-1zm0-1zm3-1zm1 0zm-3-1zm3 0zm1-1zm1 0zm-6-2zm4-1zm3-1zm-7-1zm5 0zm-3-1zm4 0zm1 0zm-7-1zm7 0zm-5-1zm-2-1zm4 0zm2-1zm-6-3zm2-2zm-2-1zm3 0zm4-1zm-2-2zm-3-1zm1 0zm-3-1zm1 0zm1 0zm1 0zm-2-1zm3 0zm3-2zm-3-2zm-2-2zm4-1zm-5-1zm6 0zm-3-1zm0-1zm-4-2zm1-1zm4 0zm-4-1zm2 0zm0-1zm-3-1zm1-1zm5 0zm-3-1zm3 0zm0-1zm-6-1zm3 0zm2 0zm-3-1zm1 0zm-1-1zm2-1zm2 0zm-2-1zm0-1zm1-1zm2-2zm-3-1zm1-2zm2 0zm-2-97zm-1-10zm2-1zm1 0zm-4-1zm4 0zm-2-3zm0-3zm-3-1zm1 0zm2 0zm1 0zm-5-2zm1 0zm5 0zm-5-1zm3 0zm1-1zm1 0zm-3-2zm-4-1zm3 0zm3-1zm-4-2zm3 0zm-1-3zm3 0zm-6-1zm2 0zm-3-2zm2 0zm3 0zm-3-1zm4-1zm-6-1zm1 0zm4 0zm1 0zm-2-1zm1 0zm0-1zm1-1zm1 0zm0-1zm-6-1zm1-1zm-2-1zm3 0zm1 0zm-4-3zm4-1zm-2-2zm3 0zm2-1zm0-2zm-7-2zm3-1zm2 0zm1 0zm-3-1zm-2-1zm-1-1zm2-2zm1 0zm-2-3zm1-1zm0-1zm1 0zm-2-1zm2 0zm0-1zm3-1zm-4-1zm-1-1zm2 0zm1 0zm2-1zm-4-1zm4 0zm-4-1zm2 0zm1 0zm-1-1zm-4-1zm2-1zm5 0zm-5-3zm3-1zm0-3zm1 0zm-2-1zm2-2zm8-4zm1 1zm-5 1zm3 0zm-1 1zm2 0zm1 0zm-7 1zm1 0zm0 3zm-1 3zm3 0zm4 0zm-6 1zm0 1zm3 3zm3 1zm0 1zm-1 1zm0 2zm-3 1zm-1 1zm1 1zm2 0zm1 0zm-6 1zm3 1zm0 1zm-1 1zm3 0zm-1 1zm1 0zm1 2zm-6 2zm4 1zm-3 1zm1 0zm5 0zm-7 1zm4 1zm2 1zm1 1zm-4 1zm4 0zm0 3zm-3 1zm-3 1zm5 0zm0 1zm-6 2zm0 1zm1 1zm4 0zm-4 1zm1 0zm1 0zm0 1zm1 0zm2 2zm-1 1zm2 0zm-2 1zm2 2zm-2 1zm-2 1zm3 2zm-4 1zm3 0zm1 0zm-4 2zm5 0zm-7 1zm2 2zm1 0zm-3 1zm2 0zm1 0zm4 1zm-3 1zm-1 1zm1 1zm1 0zm2 0zm-6 1zm4 0zm-5 1zm2 0zm0 1zm3 0zm-3 1zm4 0zm-5 1zm3 0zm-3 1zm3 0zm-3 2zm4 3zm-4 2zm3 0zm2 0zm-2 3zm-3 1zm4 1zm-3 1zm0 1zm4 0zm1 0zm0 1zm0 1zm-2 1zm-2 1zm1 0zm-3 1zm1 0zm2 0zm2 0zm1 5zm-2 1zm1 6zm0 2zm0 2zm-1 1zm1 1zm0 2zm-2 6zm2 6zm-1 2zm0 3zm0 2zm2 0zm0 1zm0 1zm0 11zm-1 2zm-1 2zm2 2zm-1 2zm-2 3zm0 1zm0 2zm-1 1zm2 2zm-2 1zm1 0zm2 0zm-2 3zm1 2zm0 3zm-3 4zm3 0zm-4 1zm3 0zm-3 1zm3 0zm3 0zm-5 1zm3 0zm-3 1zm3 0zm2 1zm-3 3zm-3 2zm4 0zm-5 1zm1 0zm2 0zm3 0zm-4 1zm-1 1zm5 0zm-3 1zm-3 1zm3 0zm1 0zm3 0zm-4 1zm2 0zm-4 1zm3 0zm3 1zm-2 1zm2 2zm-7 1zm6 0zm1 1zm-6 1zm4 0zm2 0zm-5 1zm4 0zm-3 2zm2 0zm-1 1zm2 0zm-5 1zm2 1zm3 0zm-6 1zm2 0zm5 0zm-6 1zm1 0zm4 0zm-6 1zm6 1zm-4 1zm1 1zm1 1zm2 0zm-5 1zm1 0zm2 1zm1 0zm-3 1zm2 0zm1 1zm-5 2zm1 0zm4 0zm1 0zm-6 1zm2 0zm5 1zm-3 1zm1 0zm-3 2zm5 0zm0 1zm-5 1zm3 0zm-5 1zm1 0zm1 0zm1 0zm0 2zm1 0zm1 2zm1 0zm1 1zm-3 2zm1 0zm1 1zm0 1zm-6 1zm5 0zm1 0zm1 1zm-2 1zm2 1zm0 2zm-2 1zm-5 2zm4 0zm-4 2zm1 0zm-1 1zm2 1zm1 2zm2 0zm1 0zm-3 1zm3 1zm-4 1zm3 0zm-4 2zm0 1zm3 1zm-4 2zm2 0zm-1 1zm6 0zm-6 2zm2 0zm3 0zm-2 4zm-1 3zm-3 1zm0 3zm0 2zm0 4zm0 1zm10-21zm-1-2zm-1-7zm2-1zm-2-9zm1 0zm1-2zm0-3zm2 0zm-3-2zm0-2zm2 0zm3-3zm-6-1zm6-1zm-6-2zm0-2zm3-1zm1-1zm1 0zm0-1zm1-1zm-3-3zm-3-2zm4-2zm3-1zm-5-1zm2 0zm1-4zm-2-1zm-1-1zm2 0zm-4-2zm0-1zm3 0zm-2-2zm1 0zm1 0zm1-2zm2 0zm1-1zm-3-3zm3 0zm-2-1zm1 0zm1 0zm-6-1zm2 0zm-1-1zm-2-1zm1-3zm4 0zm1-1zm-4-1zm2 0zm1-1zm-5-1zm5 0zm-5-1zm4 0zm-4-1zm6 0zm1 0zm-7-2zm7 0zm-1-3zm-5-2zm5 0zm-5-1zm3 0zm-4-1zm7 0zm-5-1zm1 0zm-3-2zm3-2zm1 0zm1 0zm-1-1zm3 0zm-6-4zm1-1zm2-3zm-1-2zm2 0zm-1-1zm2 0zm0-1zm-4-2zm5 0zm-5-1zm1 0zm-3-1zm0-2zm4-2zm2 0zm0-2zm0-2zm1-1zm0-1zm-4-1zm3 0zm-3-1zm3 0zm-4-1zm1 0zm4-1zm-5-1zm5-1zm-6-1zm4 0zm2 0zm-4-1zm-1-1zm1-3zm2-1zm1-1zm-4-1zm0-1zm1 0zm1-1zm1 0zm-2-1zm0-1zm2 0zm1 0zm-6-1zm6 0zm-5-1zm6 0zm-6-1zm4 0zm-4-1zm6-2zm-3-1zm2 0zm1 0zm-4-1zm3 0zm-4-1zm2 0zm1-1zm-1-1zm2 0zm-4-1zm1 0zm1 0zm-3-1zm1 0zm1-1zm-1-1zm4 0zm-2-1zm2 0zm-5-1zm3 0zm-4-1zm1 0zm6 0zm-3-1zm-2-1zm1 0zm2 0zm0-3zm-1-1zm2 0zm1 0zm-4-2zm1 0zm-1-1zm2-1zm-2-1zm-3-1zm3 0zm1 0zm3-2zm-6-1zm2 0zm2 0zm1 0zm1 0zm-1-3zm-4-1zm4 0zm-5-1zm5 0zm-3-1zm2 0zm2 0zm-4-1zm0-2zm3 0zm-4-1zm4 0zm-3-1zm3-1zm1 0zm-5-1zm3-1zm-3-1zm1 0zm1 0zm2 0zm-2-1zm-4-1zm2 0zm-2-1zm3-1zm1 0zm2-1zm-5-1zm1-1zm4-1zm-4-1zm1 0zm3 0zm1 0zm-4-1zm4-1zm-6-1zm2 0zm0-1zm2 0zm2 0zm-1-1zm1 0zm-5-3zm-2-1zm3-1zm-1-2zm0-1zm2 0zm1 0zm-5-1zm6 0zm-2-1zm-4-1zm2 0zm5-1zm-1-1zm-5-1zm1 0zm3 0zm-5-1zm7-1zm-7-1zm2 0zm1 0zm3 0zm1 0zm-2-1zm-1-1zm-4-1zm1 0zm4 0zm-4-2zm2-1zm1 0zm-1-2zm1 0zm1 0zm-3-1zm4 0zm-4-2zm1 0zm-3-1zm3 0zm-3-2zm7 0zm-6-1zm5 0zm-5-1zm5 0zm-4-1zm0-1zm5-1zm-2-1zm-4-1zm6 0zm-7-1zm3-1zm2-2zm1 0zm-4-1zm1 0zm3 0zm-3-1zm-2-1zm1 0zm1 0zm1 0zm1 0zm-4-1zm1 0zm-2-1zm4 0zm3 0zm-6-1zm5 0zm1-1zm-3-1zm3 0zm-2-1zm1 0zm-6-1zm1 0zm5 0zm-4-2zm-1-1zm3 0zm-4-2zm2 0zm1 0zm4-1zm-3-1zm2-4zm7-8zm0 1zm1 0zm-3 3zm2 1zm-1 4zm3 0zm-7 1zm6 0zm-6 1zm3 0zm1 0zm-3 1zm3 0zm1 2zm-2 1zm3 0zm-5 1zm5 1zm-4 1zm2 2zm-4 1zm4 0zm3 0zm-3 2zm3 0zm-6 1zm5 0zm-3 1zm-1 1zm2 1zm-4 1zm4 3zm2 0zm-4 1zm1 0zm2 0zm-1 1zm2 0zm1 0zm-5 2zm1 0zm-1 1zm1 1zm3 0zm-3 1zm3 1zm-6 2zm5 1zm2 0zm-7 1zm3 3zm3 0zm0 1zm1 0zm-6 1zm-1 1zm2 0zm-2 1zm1 0zm3 1zm-2 2zm4 0zm-2 1zm2 3zm1 0zm-5 1zm0 2zm-2 1zm7 0zm-3 1zm1 0zm-5 2zm2 1zm1 0zm1 1zm3 0zm-5 1zm-2 1zm2 0zm3 0zm1 0zm-5 1zm3 0zm1 0zm1 0zm-5 2zm4 0zm2 1zm-2 1zm2 0zm-1 1zm1 0zm-7 1zm5 0zm2 0zm-1 2zm1 1zm-2 1zm2 0zm-7 1zm1 0zm2 0zm1 0zm-4 1zm3 0zm0 1zm0 1zm1 0zm2 0zm-4 1zm4 0zm-5 1zm1 0zm1 0zm1 0zm-4 1zm2 1zm1 0zm2 0zm2 0zm-3 2zm2 0zm1 0zm-7 1zm3 0zm2 0zm-5 3zm3 0zm-2 2zm5 0zm-6 1zm2 2zm2 2zm1 2zm-1 1zm-3 1zm3 0zm1 0zm1 1zm0 1zm-3 1zm1 0zm-2 1zm-2 1zm1 0zm1 1zm0 1zm1 0zm2 0zm0 1zm-2 1zm1 0zm1 0zm1 0zm-2 1zm3 1zm-7 1zm3 0zm3 0zm1 0zm-2 1zm1 0zm1 0zm0 1zm-6 2zm4 0zm-4 2zm1 1zm-1 2zm1 0zm0 1zm-1 1zm2 0zm4 2zm-2 1zm-1 1zm1 0zm2 1zm-1 1zm1 0zm-7 1zm1 2zm3 0zm1 0zm2 0zm-4 1zm3 1zm-5 1zm1 1zm1 0zm1 1zm2 0zm-6 1zm2 1zm2 1zm0 1zm1 0zm0 1zm-5 2zm7 1zm-3 1zm3 0zm-6 1zm5 0zm-6 2zm0 1zm7 0zm-5 3zm5 0zm-4 1zm4 0zm-2 1zm-3 2zm3 0zm1 0zm-1 2zm-4 1zm2 0zm1 0zm3 0zm-2 2zm2 0zm-6 1zm3 1zm3 1zm-6 1zm5 4zm-6 1zm0 1zm1 0zm1 0zm2 0zm1 1zm-5 1zm2 0zm-1 1zm2 0zm2 0zm-5 1zm2 1zm3 1zm1 0zm-6 1zm2 2zm4 0zm-2 1zm0 1zm2 0zm-1 1zm-5 2zm7 0zm-6 1zm0 2zm0 1zm1 5zm0 3zm0 10zm-1 2zm1 1zm-1 7zm8-44zm-1-11zm2-1zm3-1zm-5-6zm1-1zm-1-2zm5-2zm-2-4zm0-1zm-3-1zm3 0zm-2-1zm2 0zm2-1zm-5-3zm0-1zm0-1zm1 0zm1-1zm0-2zm4 0zm-4-1zm3 0zm-4-1zm6 0zm-2-1zm-5-1zm1 0zm2-1zm4 0zm-5-3zm3 0zm-2-3zm2 0zm2 0zm-2-1zm-4-1zm6 0zm-7-1zm2 0zm-1-1zm2 0zm1 0zm2-1zm-2-1zm-2-1zm1 0zm0-1zm-2-1zm-1-1zm1 0zm2-2zm-1-1zm4 0zm-4-1zm1 0zm2 0zm-5-1zm6 0zm-2-1zm1 0zm-1-1zm-1-2zm2 0zm-4-2zm1 0zm-1-1zm1 0zm3 0zm0-3zm1 0zm-3-1zm1-1zm-2-2zm1 0zm2 0zm1 0zm-5-2zm3 0zm2 0zm-3-1zm3 0zm-4-1zm1 0zm-2-1zm0-1zm4 0zm-2-1zm1-1zm1 0zm-3-2zm2 0zm-3-1zm5 0zm-2-1zm-2-1zm2-1zm-4-1zm1-1zm0-1zm1 0zm1 0zm2 0zm-4-2zm1 0zm-2-1zm4 0zm2 0zm-4-1zm-2-2zm4 0zm-4-1zm1-1zm2-1zm3 0zm-3-1zm-3-1zm1 0zm1 0zm-1-1zm3 0zm1 0zm1-1zm-6-2zm2 0zm2 0zm-4-1zm3-3zm-1-1zm4 0zm-1-1zm2 0zm-7-1zm3 0zm1 0zm-1-1zm1 0zm2-1zm-6-1zm5 0zm-3-1zm2 0zm3 0zm-6-1zm3 0zm0-1zm-2-1zm-1-1zm2-1zm3 0zm-4-1zm1-1zm1-1zm2 0zm-3-1zm1 0zm-4-1zm2 0zm1-1zm4 0zm-6-1zm3 0zm-3-1zm0-1zm3 0zm-2-2zm-2-1zm5 0zm-4-1zm0-1zm4 0zm-3-1zm4-1zm-1-3zm-5-1zm1 0zm2-2zm-1-1zm1 0zm-2-1zm2 0zm1 0zm-3-1zm2 0zm1 0zm1 0zm-3-1zm3 0zm-5-1zm1 0zm6 0zm-5-1zm1 0zm3-1zm-1-2zm-4-1zm2-1zm0-1zm1 0zm-4-1zm6 0zm-2-2zm1 0zm1 0zm-2-1zm1-1zm2 0zm-3-2zm0-2zm-1-1zm-3-1zm5-1zm-3-1zm5 0zm0-1zm-6-2zm-1-1zm1 0zm2 0zm3-3zm0-1zm7-1zm1 3zm-6 1zm5 1zm2 0zm-2 1zm1 1zm-5 1zm4 0zm-3 1zm1 1zm1 0zm1 0zm0 2zm-1 1zm2 0zm-3 1zm3 0zm1 0zm-7 1zm1 0zm4 0zm-4 1zm3 1zm2 0zm-3 1zm4 1zm-7 1zm3 0zm2 2zm-2 1zm4 0zm-6 2zm2 0zm2 0zm-1 1zm-1 1zm0 1zm0 1zm2 0zm1 0zm-4 2zm1 1zm-1 3zm2 0zm1 0zm-2 1zm1 0zm1 0zm2 1zm-7 2zm4 0zm-2 1zm-2 1zm2 0zm1 2zm-3 2zm1 1zm0 1zm2 0zm0 1zm3 0zm-5 1zm1 0zm-1 1zm3 0zm2 0zm-3 1zm-3 1zm1 1zm2 0zm3 0zm-6 1zm4 0zm-1 1zm2 0zm-2 1zm-1 2zm2 0zm2 0zm-1 1zm2 0zm-7 2zm4 1zm-1 1zm1 0zm2 1zm-6 3zm0 1zm6 0zm-3 1zm0 1zm2 0zm-2 2zm-1 1zm-1 1zm5 1zm-5 1zm1 1zm1 1zm3 0zm-4 2zm2 1zm-2 1zm5 1zm-3 1zm-3 1zm5 0zm-4 2zm1 1zm-3 1zm1 0zm-1 2zm0 3zm3 1zm1 1zm1 1zm1 0zm-5 1zm4 4zm-5 1zm1 0zm0 1zm0 1zm-1 2zm6 5zm-3 3zm0 1zm-3 1zm5 0zm-5 2zm1 4zm-1 1zm1 3zm1 1zm-2 10zm11-49zm0-3zm-3-5zm0-1zm3-5zm-1-7zm2-1zm-3-5zm-1-1zm0-9zm0-1zm0-3zm4-5zm-4-1zm2 0zm3-2zm-3-3zm-1-1zm-1-2zm5 0zm-5-10zm1-6zm-1-3zm0-2zm2-2zm3 0zm-4-2zm-1-1zm2-6zm-2-1zm3 0z" stroke="#8DC0E0" stroke-width="3" stroke-opacity="0.8"/><path d="M679 492zm8 7zm-6-1zm0-7zm-1-1zm4 0zm2-1zm-2-5zm2-6zm8-39zm0 7zm-3 7zm1 1zm1 2zm1 10zm1 1zm-3 1zm0 4zm2 1zm-6 3zm5 0zm-4 1zm-1 2zm1 4zm-1 11zm3 1zm3 2zm-2 2zm2 2zm-1 8zm-3 9zm2 1zm0 1zm1 3zm10 1zm-2-5zm-2-5zm1-1zm-4-4zm1 0zm6-5zm0-10zm-4-1zm0-2zm-3-2zm4-3zm-3-1zm-1-5zm3-1zm-3-2zm4-8zm-1-11zm-2-1zm1-7zm3-6zm-4-9zm3-5zm-1-6zm4-3zm-4-4zm2-5zm-2-13zm4-5zm5-27zm1 9zm0 5zm-2 3zm-1 4zm0 3zm-1 1zm2 2zm2 3zm-2 1zm-1 5zm-2 2zm5 7zm0 3zm1 6zm-6 3zm0 10zm5 3zm-4 9zm4 2zm2 1zm-5 1zm1 3zm1 0zm-4 4zm3 1zm1 0zm0 6zm3 8zm-1 8zm-5 9zm6 1zm-4 1zm1 0zm3 4zm-5 2zm-2 4zm5 0zm0 1zm1 3zm-6 10zm7 6zm1-1zm4-5zm-1-19zm-1-4zm0-12zm4-4zm-2-11zm-2-13zm-2-4zm2 0zm-1-5zm5-4zm-4-3zm2-19zm2 0zm-6-1zm1-3zm-1-6zm5-9zm-5-11zm4-1zm1-1zm-4-2zm0-1zm2-5zm1-7zm0-13zm2 0zm-1-9zm4 9zm1 3zm-2 3zm3 0zm2 5zm0 5zm0 2zm-4 1zm2 1zm2 2zm2 2zm-7 6zm4 1zm3 5zm-2 2zm-1 3zm-3 2zm5 0zm0 3zm-3 12zm-3 1zm2 1zm5 1zm-7 16zm5 1zm-5 7zm3 0zm4 1zm0 4zm-6 1zm3 0zm0 7zm2 2zm-2 11zm2 5zm-4 10zm-1 8zm2 2zm-2 14zm4 1zm8-11zm-2-2zm4-13zm0-3zm-2-5zm-5-31zm6-4zm0-5zm-6-11zm6 0zm0-3zm-4-1zm0-4zm3-4zm-3-1zm5-3zm-6-1zm1-1zm-2-1zm2 0zm-2-1zm0-4zm3-2zm3-2zm-6-11zm4 0zm9 18zm-5 2zm0 1zm2 6zm-2 4zm2 6zm0 3zm0 1zm-2 1zm6 1zm-2 1zm0 2zm-4 7zm4 6zm1 4zm1 0zm-3 2zm-1 2zm2 1zm2 4zm-2 2zm3 6zm-7 9zm8-23z" stroke="#8DC0E0" stroke-width="3" stroke-opacity="0.7"/><path d="M670 485zm1-7zm6-20zm2 1zm-2 4zm1 0zm-2 5zm3 0zm-4 1zm2 0zm1 0zm-2 1zm-3 1zm2 1zm-2 2zm5 0zm-6 3zm1 1zm0 6zm0 1zm7-12zm1-8zm-1-1zm1-2zm-1-5zm1 0zm1-1zm0-1zm1-4zm-2-3zm3-6zm3-1zm-3-2zm3 0zm-1-2zm-2-3zm3-1zm7-24zm-1 3zm0 3zm0 2zm1 4zm-4 1zm3 1zm2 0zm-6 1zm2 1zm2 0zm-2 1zm-2 1zm4 0zm-5 1zm2 3zm5 0zm-7 1zm0 4zm1 0zm7-21zm2-2zm-1-2zm5 0zm-2-5zm-3-1zm2 0zm-2-2zm4-1zm-2-1zm2-1z" stroke="#8DC0E0" stroke-width="3" stroke-opacity="0.8"/><path d="M655 512zm-3-2zm-1-1zm0-2zm1 0zm2-1zm4-9zm2 1zm3 0zm0 2zm-4 6zm2 0zm0 1zm0 1zm-3 1zm-1 1zm6 0zm-5 1zm3 2zm0 1zm-5 1zm2 2zm6 13zm5-2zm0-3zm2 0zm-5-2zm2 0zm-2-2zm3-1zm1-2zm-6-1zm7 0zm-2-1zm-4-1zm1 0zm-2-1zm3-2zm4 0zm-7-2zm3 0zm-3-1zm2 0zm4 0zm-6-2zm2 0zm-2-2zm1 0zm0-1zm4-2zm-3-1zm-1-1zm4-1zm-4-1zm1 0zm2-1zm-2-1zm10 0zm-2 3zm2 0zm-4 2zm1 0zm4 1zm-3 1zm1 0zm-2 1zm4 1zm-1 1zm-3 1zm1 1zm-2 1zm3 1zm-3 1zm2 0zm1 0zm1 0zm1 0zm-2 1zm2 1zm1 0zm-4 1zm1 0zm-2 2zm3 0zm2 0zm-5 1zm2 0zm-1 1zm2 0zm0 2zm0 1zm3 3zm-5 1zm1 4zm-2 1zm5 0zm-5 2zm0 2zm8-15zm0-1zm1 0zm-2-7zm0-1z" stroke="#8DC0E0" stroke-width="3" stroke-opacity="0.8"/><path d="M722 612zm-1 1zm3 0zm-1 2zm3 0zm-1 1zm-2 2zm-3 1zm10 2zm-2-4zm1 0zm4-2zm-3-1zm2-1zm3-1z" stroke="#C9C9D2" stroke-width="3" stroke-opacity="0.6"/></g><g filter="url(#sblur)"><path d="M160.6 469.2L171.6 477.5L177 483.9L180.9 478.4L192.7 469.2L194.3 465L177 464.6Z" fill="#7DB2D9" fill-opacity="0.5" fill-rule="evenodd"/><path d="M145.2 567L150.4 578.9L152.3 590.5L163.5 592.4L177.4 586.6L183.1 575.7L184.7 567L175 563.2L167.4 566.9L166.2 567.1L157.7 562.2ZM171.2 572.8L171.2 581.4L157.7 581.4L157.7 572.8Z" fill="#2560A8" fill-opacity="0.5" fill-rule="evenodd"/><path d="M130.8 622.8L136.9 630.9L150.5 627L195.9 619.4L215.8 625.1L221.6 617.4L210 607.3L196.2 592L177 590.1L148.1 593.9L142.3 609.3Z" fill="#41B0CB" fill-opacity="0.5" fill-rule="evenodd"/><path d="M144.6 629.5L146.2 644.3L157.7 651.8L162 665.5L177.4 671.3L192.7 669.4L204.3 655.9L213.9 648.2L219.7 634.3L207.7 624.7L177 622.8Z" fill="#D6EBA6" fill-opacity="0.5" fill-rule="evenodd"/><path d="M243.2 645.8L253.4 643.6L254.8 641.9L254.6 639.7L253.4 638.5L252 638.2L241.5 640.2L230.4 644.9L229.3 646.1L228.9 647.7L230 649.7L232.1 650.3Z" fill="#F4779F" fill-opacity="0.5" fill-rule="evenodd"/><path d="M387.5 616.1L387 618.3L384.8 621.2L381.1 623L378.2 623.4L375.4 623L371.7 621.2L369.5 618.3L369 616.1L369.5 613.8L371.7 610.9L375.4 609.1L378.2 608.8L381.1 609.1L384.8 610.9L387 613.8Z" fill="#C9104C" fill-opacity="0.5" fill-rule="evenodd"/><path d="M137.5 719L148.1 724L165.4 727.1L180 729L179.3 715.2L157.7 714.2Z" fill="#15807C" fill-opacity="0.5" fill-rule="evenodd"/></g><g fill="none" stroke-linecap="round" stroke-linejoin="round" transform="scale(.5)"><path d="M319 938zm8-2zm-1 3zm-2 1zm3 0zm-3 1zm-2 1zm10 8zm2 0zm0-3zm-2-1zm-3-2zm3 0zm2-1zm1 0zm-5-2zm-1-1zm3 0zm-2-3zm2-1zm2-1zm1 0zm1-1zm6 1zm-3 1zm2 1zm-5 1zm6 0zm0 2zm-4 1zm4 0zm-5 1zm1 0zm2 2zm-3 1zm1 0zm5 0zm-6 2zm4 0zm-4 1zm6 7zm-1 1zm7 9zm-2-2zm3-2zm-1-1zm1 0zm-5-1zm6 0zm-5-4zm4 0zm-6-1zm5 0zm-5-1zm3-1zm4 0zm-3-1zm3 0zm-1-2zm-1-1zm0-1zm-1-1zm-4-1zm3 0zm-1-1zm0-1zm1 0zm-1-1zm-2-1zm3 0zm-3-1zm4 0zm0-1zm-3-1zm3 0zm3 0zm-6-3zm2 0zm2 0zm1 0zm-2-2zm-2-1zm7-4zm5 1zm-1 1zm-1 2zm-2 1zm2 0zm-4 2zm1 0zm4 1zm-5 1zm4 0zm1 1zm-3 1zm5 0zm-7 1zm3 1zm2 0zm1 0zm-4 1zm4 0zm-5 1zm2 0zm1 0zm3 0zm-4 1zm-3 1zm2 0zm5 0zm-5 1zm5 0zm-2 1zm2 0zm0 1zm-3 1zm3 0zm-5 1zm-1 4zm2 0zm0 1zm1 0zm1 0zm2 0zm-4 1zm3 0zm1 0zm-5 2zm1 0zm1 0zm0 1zm1 1zm1 2zm-5 1zm3 0zm0 7zm4-14zm1 0zm2-1zm-3-1zm1 0zm-1-1zm2 0zm1-2zm2 0zm1 0zm-5-1zm4 0zm1-1zm-3-1zm1 0zm-3-1zm2 0zm0-1zm3 0zm1 0zm-2-2zm2 0zm-4-1zm1 0zm1 0zm2-2zm-6-2zm3 0zm-3-4zm0-1zm3 0zm-3-1zm6 0zm-7-1zm6 0zm-5-1zm3 0zm-4-2zm0-1zm7 0zm6 2zm-3 1zm-1 1zm2 0zm-2 2zm1 0zm0 2zm3 0zm-3 1zm4 0zm-2 1zm-3 2zm4 0zm0 1zm1 0zm1 1zm-6 1zm2 0zm2 0zm-5 1zm5 0zm2 0zm-1 1zm-6 1zm2 0zm0 1zm1 0zm-3 7zm9-6zm4-2zm-1-3zm-1-1zm1 0zm-3-1zm4-1zm-3-1zm1 0zm1 0zm3 0zm-7-2zm6 0zm-5-1zm5 0zm-3-1zm1 0zm1-2zm2 0zm-3-1zm2 0zm0-1zm-6-1zm3 0zm4-2zm3 2zm1 4zm-1 1zm-2 2zm1 1zm7-10z" stroke="#7DB2D9" stroke-width="3.2" stroke-opacity="0.9"/><path d="M294 1141zm0 1zm9 30zm-1-2zm1-7zm-1-3zm1-2zm-2-4zm2-3zm-4-2zm1 0zm2-1zm-5-2zm6 0zm-6-2zm-1-1zm2 0zm1-1zm-3-1zm7 0zm-1-2zm-3-1zm3-1zm1-1zm-6-1zm2 0zm3-1zm1-1zm-7-2zm13-6zm-1 3zm-3 1zm5 0zm1 0zm-6 1zm1 0zm5 0zm-3 1zm-1 1zm-1 1zm5 1zm-6 2zm2 0zm-1 1zm0 1zm2 0zm0 1zm2 0zm-5 1zm1 1zm2 0zm-4 1zm1 1zm1 1zm-1 1zm1 0zm2 1zm3 2zm-3 1zm1 1zm1 1zm1 0zm-6 1zm3 0zm1 1zm-3 1zm4 0zm-5 2zm0 2zm3 0zm-4 2zm3 0zm3 0zm-5 2zm6 0zm-2 1zm-4 1zm5 0zm-5 1zm5 0zm-3 1zm3 0zm-1 1zm1 0zm-2 1zm-3 1zm1 0zm2 0zm1 0zm2 0zm-6 2zm2 0zm3 0zm-6 1zm2 0zm4 0zm-2 1zm-1 1zm1 1zm2 1zm0 1zm1 1zm-2 1zm2 0zm-3 1zm0 1zm3 1zm1 0zm3-1zm-1-1zm3-2zm-4-1zm2 0zm2 0zm1 0zm-6-4zm2 0zm4 0zm1-1zm-2-1zm-5-1zm7-1zm-5-4zm-2-1zm5-2zm-3-1zm1 0zm4 0zm-3-1zm-2-1zm1 0zm-1-1zm-1-1zm0-3zm-1-1zm1-3zm-1-2zm6-1zm-1-3zm2 0zm-5-1zm1 0zm3 0zm-1-1zm1 0zm1 0zm-2-4zm-4-1zm4 0zm1-1zm1 0zm-4-1zm3 0zm1-1zm0-2zm0-1zm-3-2zm-4-2zm1 0zm3 0zm-3-1zm1 0zm-2-1zm9 4zm-1 2zm2 0zm1 0zm4 0zm-5 1zm-1 1zm3 0zm2 0zm-6 1zm2 0zm4 0zm-3 1zm1 0zm3 0zm-7 1zm0 1zm4 1zm2 2zm1 0zm-5 1zm1 0zm-3 1zm2 0zm0 1zm1 0zm-3 1zm1 0zm5 1zm-4 18zm5 1zm-7 1zm0 1zm0 2zm2 2zm0 1zm1 1zm3 2zm1 0zm-1 1zm-6 1zm1 0zm-1 1zm2 1zm2 0zm-1 1zm-3 1zm0 1zm1 0zm1 0zm1 0zm1 0zm2 1zm-3 1zm4 0zm-3 1zm2 0zm-1 1zm6-2zm-1-1zm1-1zm-1-1zm2 0zm-2-2zm4 0zm-6-1zm2 0zm-1-1zm4-3zm1 0zm-1-1zm0-1zm1 0zm-5-1zm2-1zm-2-3zm0-3zm-1-18zm2-4zm2 0zm0-1zm-4-1zm4 0zm-1-2zm4-1zm-7-1zm3 0zm-2-3zm14-1zm-2 2zm-2 1zm-3 1zm7 0zm0 3zm-4 1zm3 1zm-3 1zm2 0zm2 0zm0 1zm-1 2zm-3 1zm1 1zm2 9zm0 1zm-2 7zm2 0zm-5 1zm6 1zm-3 1zm2 0zm-6 1zm1 0zm4 0zm1 0zm-6 1zm2 0zm1 0zm3 0zm1 0zm-1 1zm-4 1zm2 0zm3 0zm-7 2zm1 1zm0 1zm5 0zm-1 1zm2 0zm-6 2zm3 0zm-3 1zm1 0zm2 1zm5-3zm6 0zm-6-1zm1 0zm5 0zm-7-1zm3 0zm-2-1zm2 0zm-2-1zm1 0zm-1-1zm1 0zm2 0zm0-1zm2-2zm1 0zm-6-1zm1 0zm1 0zm-2-1zm4 0zm-3-1zm1 0zm-1-2zm4 0zm-2-3zm3 0zm-4-1zm2 0zm0-1zm1 0zm1-1zm-5-1zm5-1zm-6-1zm2-2zm2-1zm2-3zm-4-4zm1 0zm2 0zm-4-3zm4 0zm-2-2zm-3-1zm2 0zm4 0zm-6-1zm2-1zm1 0zm1 0zm1-1zm1 0zm-6-1zm2 0zm2 0zm1-2zm1-1zm-4-2zm-1-1zm4-2zm2 2zm3 2zm1 0zm1 0zm-2 1zm1 1zm1 0zm-2 3zm1 0zm1 0zm1 0zm-6 3zm2 0zm4 0zm-4 1zm3 0zm1 0zm-6 1zm3 0zm3 0zm-3 2zm4 1zm-3 1zm-2 3zm0 1zm-2 1zm3 0zm2 0zm2 1zm-4 1zm-2 1zm3 0zm3 1zm-5 1zm-2 4zm5 0zm-4 1zm1 0zm4 0zm1 0zm-1 1zm-5 1zm4 0zm2 0zm-5 2zm-1 2zm6 0zm-6 1zm4 0zm-5 1zm2 0zm2 0zm1 0zm-4 1zm4 1zm-4 4zm0 1zm8-11zm0-5zm2-3zm-1-1zm2 0zm-3-1zm4 0zm-2-1zm0-1zm4 0zm-3-2zm1 0zm2 0zm-5-1zm-2-1zm6 0zm0-1zm-5-1zm0-1zm5 0zm1 0zm-3-3zm-4-1zm4-1zm-4-2zm1-3zm4 0zm-1-1zm2 0zm-2-1zm4 6zm1 0z" stroke="#2560A8" stroke-width="3.2" stroke-opacity="0.9"/><path d="M263 1242zm0 3zm0 8zm7 4zm0-1zm-2-1zm2 0zm-2-1zm1-4zm0-3zm-5-1zm7 0zm-2-1zm1 0zm-5-1zm3 0zm1 0zm-1-1zm1 0zm1 0zm-5-1zm4 0zm1 0zm1 0zm-5-1zm3-2zm0-2zm-3-1zm5-1zm-1-1zm1-4zm7-4zm-4 4zm1 0zm4 1zm-1 2zm-1 1zm-2 2zm0 1zm1 0zm-4 1zm1 0zm-1 1zm4 0zm-1 1zm2 1zm-3 1zm-1 1zm0 1zm3 0zm-4 1zm4 1zm2 0zm-6 1zm3 0zm-3 1zm6 1zm0 1zm-6 1zm5 1zm1 0zm-2 1zm1 0zm-5 1zm4 0zm-4 1zm2 0zm4 0zm-3 1zm4 1zm-2 1zm1 0zm1 0zm-7 1zm7 0zm-3 2zm3 0zm-5 2zm12-6zm-4-1zm-2-1zm5 0zm1 0zm1 0zm-3-1zm3 0zm-7-1zm0-2zm3 0zm2 0zm1 0zm-1-1zm-5-1zm5 0zm1-1zm1 0zm-1-4zm-5-1zm6 0zm-4-1zm3 0zm-4-1zm1 0zm0-1zm-2-1zm4 0zm-3-1zm1 0zm3 0zm-5-1zm3 0zm2 0zm1 0zm-5-1zm0-1zm2 0zm1 0zm1 0zm-5-1zm3 0zm0-1zm1 0zm1 0zm-5-1zm2-1zm2-1zm-5-1zm4 0zm3 0zm0-1zm-3-1zm-2-1zm3 0zm-3-2zm2-1zm1 0zm-2-3zm1 0zm1 0zm-1-1zm2-1zm-3-1zm2-3zm10-21zm-2 4zm-1 3zm0 3zm-1 1zm1 0zm3 1zm-4 1zm1 2zm-3 1zm2 0zm1 0zm2 0zm-5 1zm1 0zm5 0zm0 1zm-6 1zm4 0zm-5 1zm2 0zm1 1zm2 0zm2 0zm-5 1zm1 0zm1 0zm-4 1zm1 0zm2 0zm2 0zm1 0zm-5 1zm4 0zm-5 1zm2 0zm-2 1zm3 0zm1 0zm-4 1zm5 2zm-1 1zm3 1zm-4 1zm1 0zm2 0zm-6 1zm4 0zm2 1zm-6 1zm1 0zm-1 1zm1 0zm6 0zm-7 1zm2 0zm3 0zm-1 1zm3 0zm-4 1zm3 1zm-4 2zm-1 1zm2 0zm1 0zm0 1zm1 0zm1 1zm-4 2zm3 0zm2 1zm-2 2zm2 0zm-3 1zm3 0zm-6 1zm4 1zm2 0zm-3 1zm-2 1zm2 0zm2 0zm-2 1zm-1 1zm2 0zm2 0zm-2 1zm-4 1zm3 1zm1 0zm2 0zm-7 1zm1 0zm-1 1zm1 0zm2 0zm4 0zm-6 1zm2 0zm1 0zm-4 1zm1 0zm-1 1zm6 2zm7-5zm-1-3zm0-1zm-4-1zm5 0zm-3-1zm5-1zm0-1zm-6-1zm3 0zm2 0zm-5-1zm6 0zm-1-1zm-6-1zm2-1zm1 0zm2 0zm-4-1zm6 0zm-2-1zm-5-1zm6 0zm1 0zm-1-2zm1 0zm-2-1zm1 0zm-6-1zm1 0zm5 0zm-2-2zm1 0zm0-1zm2 0zm-4-1zm4 0zm-1-1zm-4-1zm1-1zm1 0zm2 0zm-3-3zm3 0zm-4-1zm3 0zm0-1zm1-1zm1 0zm-6-2zm-1-1zm3 0zm-2-1zm-1-1zm1-1zm5 0zm-6-1zm4-1zm2-1zm1-1zm0-1zm-7-2zm1 0zm6 0zm-6-2zm2 0zm1-1zm-1-1zm4 0zm-6-1zm1 0zm2 0zm3 0zm-7-2zm5 0zm-5-1zm7 0zm-1-2zm-4-1zm1 0zm1 0zm0-1zm1 0zm2-1zm-7-1zm6 0zm0-1zm-5-2zm5 0zm-3-1zm-3-1zm6 0zm-1-1zm2-2zm6-1zm-2 2zm-1 1zm-2 1zm2 0zm4 0zm-4 2zm1 1zm3 0zm-3 1zm-3 3zm1 0zm4 1zm2 0zm-4 1zm1 0zm1 0zm0 1zm-5 1zm1 1zm4 0zm2 0zm-3 1zm-3 1zm4 1zm2 0zm-7 1zm2 0zm3 0zm0 4zm1 0zm-3 2zm3 0zm0 1zm1 1zm-1 1zm-4 1zm1 0zm-2 1zm4 0zm0 1zm-2 1zm3 0zm-5 1zm1 0zm1 0zm1 0zm-3 1zm3 0zm-3 1zm5 0zm-5 1zm1 0zm4 0zm-4 1zm4 0zm-6 1zm1 0zm1 0zm5 1zm-6 2zm4 1zm-5 1zm6 0zm-1 1zm-3 1zm5 1zm-7 2zm7 0zm-3 1zm1 0zm1 0zm1 0zm-4 1zm2 0zm0 1zm-2 1zm2 0zm-4 1zm0 1zm2 1zm3 0zm-4 1zm2 1zm1 0zm1 0zm-2 1zm-3 1zm1 0zm1 0zm2 0zm-2 1zm-3 1zm0 1zm1 1zm3 0zm3 0zm-7 1zm1 0zm3 0zm2 0zm0 1zm0 1zm-6 3zm10-4zm-2-1zm5 0zm-3-1zm4-1zm1 0zm-5-1zm4-1zm-2-1zm3 0zm-1-1zm-2-3zm-4-2zm5-1zm-2-1zm2 0zm1 0zm-1-1zm1-2zm1-1zm-7-2zm5 0zm-4-1zm2-1zm-2-1zm4-1zm-2-2zm3 0zm-3-2zm-2-1zm1 0zm3-1zm-5-1zm1-1zm4 0zm-4-1zm2 0zm0-1zm0-1zm1 0zm3 0zm-3-1zm2-1zm0-1zm-5-1zm1 0zm2 0zm-1-1zm-2-1zm4 0zm-3-1zm2 0zm1 0zm-4-2zm2 0zm3 0zm-4-1zm2 0zm1 0zm1 0zm-6-1zm4-1zm2 0zm-4-2zm0-1zm1 0zm0-1zm3 0zm-4-1zm-2-1zm4 0zm3 0zm0-3zm-3-1zm-2-1zm1 0zm1 0zm1 0zm2-1zm-6-1zm5 0zm-5-1zm4 0zm0-1zm2 0zm-2-1zm2 0zm-7-1zm6 0zm1 0zm-7-1zm6 0zm3-5zm-1 2zm3 2zm0 2zm2 0zm2 0zm-6 1zm1 0zm3 0zm-2 1zm3 0zm1 0zm-6 2zm-1 1zm2 0zm5 1zm-7 2zm3 0zm2 1zm2 0zm-5 1zm5 0zm-2 1zm1 0zm-4 1zm1 0zm4 2zm-3 1zm-2 3zm1 1zm-1 1zm1 1zm3 0zm1 0zm-4 2zm4 0zm-5 1zm2 0zm2 0zm-4 1zm1 0zm-3 1zm4 0zm-2 1zm3 0zm0 1zm-4 1zm1 0zm1 1zm4 0zm-6 1zm4 0zm2 0zm-2 1zm2 1zm-7 1zm4 0zm-3 2zm2 0zm1 0zm-4 1zm1 0zm6 0zm-2 1zm-4 1zm5 0zm1 0zm-5 1zm4 0zm1 1zm-5 1zm4 1zm-6 1zm6 0zm1 0zm-2 1zm-4 3zm4 0zm-2 1zm4 1zm-6 1zm1 0zm0 1zm4 0zm-6 1zm6 0zm0 1zm-3 1zm-1 1zm3 0zm1 0zm-2 1zm1 1zm1 0zm-5 1zm2 0zm-1 2zm-2 1zm1 0zm0 2zm7-3zm3 0zm2 0zm1-2zm0-5zm-6-1zm1 0zm4 0zm1 0zm1 0zm-7-1zm2 0zm1-1zm4 0zm-4-1zm2-1zm-2-3zm0-2zm0-1zm1 0zm-2-1zm1-1zm4 0zm-5-1zm4 0zm-1-1zm-2-1zm0-1zm1 0zm-4-1zm1 0zm4 0zm-5-1zm4 0zm1 0zm-5-1zm1 0zm4 0zm-3-1zm1 0zm1 0zm-2-1zm1 0zm4 0zm-4-1zm3 0zm-4-1zm4 0zm-2-1zm1 0zm-1-3zm-4-1zm3 0zm1 0zm2 0zm0-1zm1 0zm-7-2zm2 0zm4 0zm-6-1zm7-1zm-7-1zm4 0zm1-1zm-5-1zm4 0zm1 0zm1 0zm-5-1zm1 0zm-2-2zm2-1zm3 0zm-5-1zm4 0zm-4-2zm1 0zm2 0zm1 0zm1 0zm-5-1zm1-1zm6 0zm-7-1zm5 0zm1 0zm-6-1zm3 0zm-3-1zm1 0zm2-1zm1 0zm0-1zm-2-1zm2 0zm2-1zm-3-1zm3 0zm1 0zm-6-1zm3 0zm-3-1zm0-1zm1 0zm2-2zm7-2zm4 0zm-3 1zm-1 1zm4 0zm-5 1zm2 0zm-4 1zm2 1zm0 2zm5 0zm-1 1zm-6 1zm6 0zm-6 1zm2 1zm1 1zm4 0zm-4 2zm3 0zm-6 1zm3 1zm3 0zm-5 2zm1 1zm3 0zm0 1zm1 1zm-6 1zm7 0zm-4 1zm-2 1zm2 0zm1 1zm1 1zm-3 2zm4 0zm1 0zm-4 1zm2 0zm1 1zm-6 1zm3 0zm-3 1zm7 0zm-4 1zm-2 1zm1 2zm5 0zm-6 2zm4 0zm2 0zm-6 1zm-1 3zm2 0zm4 1zm-6 1zm3 0zm-2 1zm5 1zm-2 1zm-1 1zm2 0zm-3 1zm0 2zm-1 1zm4 1zm-4 1zm0 1zm4 0zm-5 1zm6 0zm-3 2zm-1 1zm4 0zm-6 1zm3 0zm2 0zm-4 1zm4 0zm2 0zm-5 1zm1 0zm2 0zm1 0zm1 0zm-3 2zm0 1zm-3 2zm14-1zm-2-1zm0-1zm0-1zm2 0zm-6-1zm4 0zm2 0zm-7-1zm2-1zm1 0zm0-2zm1 0zm-3-1zm2 0zm1 0zm-2-1zm1 0zm0-1zm-3-1zm1 0zm3 0zm1 0zm1 0zm-5-1zm5 0zm-4-1zm4 0zm-3-1zm3 0zm1 0zm-5-1zm4 0zm0-1zm-6-1zm2 0zm1 0zm3 0zm1 0zm-5-2zm1 0zm1 0zm-4-1zm4 0zm1 0zm-4-1zm2-1zm1 0zm-4-1zm4 0zm-4-1zm4 0zm0-1zm-4-2zm6 0zm-1-1zm-3-1zm1 0zm2 0zm-5-1zm1 0zm2 0zm4 0zm-7-1zm6 0zm-6-1zm6 0zm1-1zm-6-1zm3 0zm1-1zm-4-1zm1 0zm4-1zm-5-2zm1 0zm3 0zm2 0zm-5-1zm2 0zm-4-1zm1 0zm1 0zm1 0zm-3-1zm1 0zm3 0zm1 0zm1 0zm-4-2zm1 0zm2 0zm-3-1zm1 0zm3-1zm1 0zm-7-4zm1 0zm1 0zm1 0zm4 0zm-4-1zm3 0zm-5-2zm1 0zm-2-2zm2 0zm1 0zm-1-3zm3-1zm1 0zm1 0zm-2-1zm-1-2zm1-2zm2-1zm7-2zm-5 3zm1 0zm1 0zm3 0zm1 0zm-5 2zm3 0zm2 0zm-3 1zm2 0zm-6 1zm5 0zm1 0zm-6 1zm5 0zm1 0zm1 1zm-3 1zm2 0zm-1 1zm1 0zm-6 1zm1 0zm-1 1zm5 1zm1 0zm-5 1zm5 0zm-5 1zm1 0zm3 0zm-5 1zm7 0zm-6 2zm-1 1zm6 0zm-2 2zm1 0zm2 0zm-7 1zm3 0zm1 0zm1 0zm1 1zm-4 1zm4 0zm1 1zm-2 1zm1 1zm1 0zm-4 1zm3 0zm-4 1zm1 0zm0 1zm-3 1zm3 0zm3 0zm-1 1zm-5 1zm7 0zm-6 2zm5 0zm-2 1zm2 0zm-5 3zm5 0zm1 1zm-7 1zm4 1zm-4 1zm1 0zm3 1zm2 0zm-2 1zm2 0zm1 0zm-4 1zm3 0zm-5 1zm1 0zm2 0zm3 0zm-6 1zm2 0zm1 1zm-3 1zm3 0zm3 0zm-6 1zm0 1zm3 0zm3 1zm-5 2zm1 0zm-1 1zm1 0zm0 1zm1 1zm-3 1zm5 0zm-2 1zm2 1zm0 2zm-2 1zm1 0zm2 1zm8 1zm0-4zm-2-1zm-3-1zm1 0zm-1-1zm1-1zm4 0zm-2-1zm1 0zm-6-1zm2 0zm4 0zm-2-1zm-3-1zm0-1zm3 0zm2 0zm-4-1zm4 0zm-5-1zm2 0zm0-1zm0-1zm4 0zm0-1zm-7-1zm3 0zm4 0zm-1-1zm1 0zm-6-1zm2 0zm0-2zm0-1zm4 0zm-4-1zm3 0zm-6-1zm1 0zm6 0zm-6-1zm4 0zm1 0zm-4-1zm2 0zm3 0zm-1-3zm1 0zm-5-1zm-2-1zm5 0zm2 0zm-4-2zm4 0zm-3-1zm1-1zm1 0zm-4-1zm5-1zm-6-1zm1 0zm4 0zm-6-2zm5 0zm-5-1zm5 0zm1 0zm-1-1zm-2-1zm2 0zm-2-1zm1 0zm-2-1zm1 0zm1 0zm3 0zm-7-2zm2-1zm-2-3zm0-1zm3 0zm1 0zm1-1zm-4-1zm1 0zm2 0zm1 0zm1 0zm1 0zm-4-1zm0-1zm1 0zm1 0zm-5-1zm1 0zm5 0zm-2-1zm-4-1zm5 0zm-4-1zm2 0zm-2-1zm5 0zm-6-2zm7 0zm2 0zm0 3zm0 1zm-1 1zm1 0zm2 0zm4 0zm-4 1zm3 0zm-5 1zm1 0zm5 0zm-6 1zm3 0zm3 0zm-7 1zm5 0zm2 0zm-7 2zm2 0zm1 0zm2 1zm-5 1zm0 2zm1 0zm1 0zm5 3zm-3 1zm1 1zm-5 1zm1 0zm4 1zm2 0zm-2 2zm2 1zm-4 1zm0 2zm4 0zm-5 1zm1 0zm-3 1zm4 0zm-1 2zm-3 1zm6 0zm-5 2zm1 0zm2 0zm-4 2zm0 1zm3 0zm4 0zm-2 1zm1 0zm1 0zm-7 1zm0 5zm6 0zm-6 1zm1 0zm1 0zm5 0zm-6 1zm2 0zm-3 1zm3 0zm4 0zm-2 2zm-5 1zm4 0zm-4 1zm2 0zm3 1zm-5 1zm5 0zm-5 2zm4 0zm3 0zm-7 2zm5 2zm1 0zm0 1zm-3 3zm7-2zm-1-2zm1 0zm2 0zm-4-1zm1 0zm-1-1zm1 0zm-1-1zm4 0zm1-2zm1 0zm-5-1zm0-1zm3 0zm1 0zm1 0zm-6-1zm2 0zm4-1zm1 0zm-7-1zm4-1zm2-1zm-2-1zm-4-1zm2 0zm2-1zm-3-1zm1-1zm-1-1zm2 0zm-1-1zm-1-1zm1 0zm2 0zm3 0zm-6-1zm4 0zm2-1zm-1-1zm-4-1zm5-2zm-6-1zm6 0zm-4-2zm4 0zm-6-1zm3-1zm-3-1zm-1-2zm5 0zm-2-1zm1 0zm1-1zm2 0zm-4-1zm3-1zm-3-1zm3 0zm1 0zm-7-1zm4 0zm-3-1zm1 0zm2-1zm-3-1zm2 0zm2 0zm-4-1zm0-1zm1 0zm-2-1zm6 0zm-5-1zm5 0zm1 0zm-6-2zm1-1zm1 0zm-2-2zm3 0zm3-1zm-5-1zm5 0zm-2-1zm2 0zm-7-1zm7 0zm-1-1zm4-2zm-1 2zm5 0zm-6 2zm2 1zm0 1zm3 1zm0 1zm-5 1zm4 2zm-4 1zm4 0zm2 0zm-5 1zm4 0zm-5 1zm3 0zm-1 1zm1 0zm-2 1zm0 2zm2 0zm-3 1zm3 0zm2 0zm-4 1zm6 0zm-7 1zm1 0zm2 0zm4 0zm-6 1zm2 0zm4 1zm-7 1zm7 0zm-6 1zm1 0zm1 0zm1 0zm-2 1zm1 0zm3 0zm-6 1zm5 0zm-1 1zm2 1zm-3 1zm1 0zm2 0zm-6 1zm2 1zm2 0zm-4 1zm1 2zm2 1zm1 0zm2 0zm-5 2zm-1 1zm1 0zm1 1zm3 0zm2 0zm-6 2zm5 0zm-3 1zm2 0zm-1 1zm3 0zm-5 1zm2 0zm1 1zm2 1zm-7 1zm5 0zm-4 1zm4 0zm2 1zm-4 2zm4 0zm-4 2zm2 1zm0 1zm-4 1zm0 1zm1 0zm3 1zm6-2zm3 0zm-1-2zm-4-1zm4 0zm-4-1zm6 0zm-5-1zm1 0zm4 0zm-6-1zm1 0zm4-1zm-5-1zm1 0zm1 0zm1 0zm-4-1zm1 0zm1 0zm-1-1zm5-1zm-4-1zm1 0zm3-1zm1 0zm-1-1zm-5-1zm4 0zm1-1zm-2-1zm-2-1zm0-1zm2-1zm3 0zm-5-2zm5-1zm-3-1zm-4-2zm7 0zm-7-1zm4 0zm-1-1zm1 0zm1 0zm-5-1zm4-1zm3 0zm-6-1zm4-1zm2 0zm-6-1zm2-1zm3 0zm-6-1zm2 0zm3 0zm-4-1zm0-1zm5 0zm1 0zm-6-1zm5-1zm1 0zm-6-1zm6-1zm-6-2zm2-1zm-3-1zm0-2zm1 0zm5 0zm-2-2zm1-1zm-3-1zm2 0zm-3-1zm-1-5zm8 11zm1 2zm0 2zm-1 1zm1 0zm6 0zm-6 1zm1 0zm-2 2zm2 1zm1 1zm4 1zm-1 1zm-1 1zm-1 1zm2 0zm-4 1zm-1 1zm4 0zm2 0zm-6 1zm3 3zm3 0zm-5 1zm3 0zm1 0zm-6 1zm5 0zm-4 1zm4 0zm-1 1zm-2 1zm-2 1zm1 0zm1 0zm0 1zm-2 1zm5 0zm-4 1zm2 0zm-3 1zm1 0zm5 0zm-2 1zm-3 1zm0 1zm-1 2zm1 0zm3 0zm1 1zm-4 1zm1 0zm2 2zm3 0zm-6 1zm1 0zm1 0zm-3 1zm4 0zm2 0zm-4 1zm-1 1zm6 0zm-6 1zm2 0zm4 0zm-4 1zm2 0zm-2 1zm1 0zm2 0zm-3 1zm2 0zm1 0zm1 1zm0 3zm1 1zm1 0zm2-2zm1 0zm3 0zm-2-1zm-4-1zm2-1zm3 0zm1 0zm-5-1zm3 0zm2 0zm-7-1zm2 0zm-2-1zm7 0zm-7-1zm2 0zm1 0zm3 0zm-1-1zm-3-1zm1 0zm-3-1zm5 0zm-3-2zm2 0zm-2-2zm1 0zm1 0zm3 0zm-6-1zm-1-2zm1-2zm2-1zm1 0zm1 0zm2 0zm-5-1zm5 0zm-5-1zm-2-3zm3 0zm0-2zm0-1zm1 0zm2 0zm-2-1zm3 0zm-4-1zm-3-1zm1 0zm1-2zm2 0zm1-1zm2-1zm-6-1zm0-1zm2 0zm2-1zm-2-3zm0-1zm-2-2zm-1-1zm0-1zm9 12zm4 1zm-4 1zm-1 1zm0 3zm0 2zm4 1zm-3 1zm2 0zm-2 1zm3 0zm3 1zm-6 1zm1 0zm4 0zm-4 2zm1 0zm0 1zm1 0zm-3 1zm2 0zm2 0zm2 0zm-4 1zm-2 1zm4 1zm1 0zm-5 1zm1 0zm1 1zm-3 1zm6 0zm-6 1zm1 0zm-1 2zm4 0zm3 0zm-1 3zm-1 1zm2 0zm-5 1zm-1 1zm2 3zm1 0zm2 0zm-6 1zm1 0zm4 1zm2 0zm-2 3zm5 0zm2-1zm2 0zm-3-1zm4 0zm-7-1zm0-1zm4 0zm-3-1zm5 0zm-6-1zm3 0zm1 0zm3 0zm-7-1zm4 0zm-3-1zm1 0zm4 0zm-3-1zm2 0zm-5-1zm2 0zm3 0zm-2-1zm-2-2zm5 0zm-3-1zm-1-2zm3 0zm2 0zm-5-1zm1 0zm1 0zm-1-3zm2 0zm-3-1zm3 0zm-2-1zm4 0zm-6-1zm2 0zm1 0zm1 0zm0-1zm1 0zm1 0zm-4-1zm-2-1zm-1-2zm9 5zm0 4zm-1 2zm1 0zm2 1zm4 0zm-4 2zm2 0zm2 1zm-5 1zm3 0zm-5 1zm3 0zm2 0zm-5 1zm2 0zm4 1zm-3 1zm-3 1zm1 0zm2 1zm1 2zm-2 4zm7-15zm0-1zm0-1zm2 0z" stroke="#41B0CB" stroke-width="3.2" stroke-opacity="0.9"/><path d="M293 1258zm1 0zm-3 2zm3 1zm0 1zm-6 1zm4 1zm-3 1zm4 0zm-1 1zm-2 1zm1 0zm4 0zm-2 1zm-2 1zm4 0zm-6 2zm4 0zm-1 3zm3 1zm-1 1zm-2 1zm1 1zm-2 1zm2 1zm1 6zm1 0zm-3 3zm10 5zm1-1zm0-1zm-4-2zm0-2zm3 0zm1 0zm-6-1zm2 0zm1 0zm3-1zm-3-2zm2-1zm1 0zm-2-1zm1-1zm-5-1zm0-1zm-1-2zm3 0zm3 0zm1 0zm-7-1zm3 0zm-3-1zm7-1zm-3-1zm-2-1zm5 0zm-4-2zm-3-1zm2 0zm4 0zm-6-1zm5 0zm-4-1zm6 0zm-7-1zm5 0zm-4-1zm5 0zm-5-1zm2 0zm-3-1zm2 0zm2-1zm3 0zm-6-1zm5 0zm-6-2zm13-4zm-5 1zm1 0zm1 0zm1 3zm3 0zm1 0zm-3 2zm1 0zm1 0zm-6 1zm1 1zm1 0zm4 0zm-6 1zm7 1zm-6 1zm3 0zm-4 1zm1 0zm2 0zm3 1zm-1 1zm2 0zm-6 1zm5 1zm-3 3zm2 0zm-5 6zm1 0zm1 1zm3 0zm-5 1zm4 0zm3 2zm0 1zm-7 2zm6 0zm-6 2zm2 0zm2 0zm2 0zm-5 1zm1 0zm-2 1zm4 0zm3 0zm-2 1zm1 1zm-5 1zm1 0zm-2 1zm7 0zm-1 1zm-1 3zm10 14zm0-1zm-1-2zm-4-1zm5-5zm-4-1zm1-1zm0-2zm1 0zm1 0zm-4-1zm2 0zm2 0zm-2-1zm0-1zm3 0zm-4-3zm0-1zm1 0zm-3-1zm-1-1zm3-1zm3 0zm1-2zm0-1zm-5-1zm3 0zm-2-1zm-1-1zm3 0zm-3-1zm0-1zm5 0zm-3-1zm2 0zm1 0zm-7-1zm4 0zm-4-1zm1 0zm5 0zm-4-1zm3 0zm2 0zm-7-1zm3 0zm-3-1zm1 0zm3 0zm-2-1zm4 0zm-6-1zm7-1zm-2-1zm-4-1zm2 0zm-2-1zm3 0zm-3-1zm1 0zm1 0zm-3-1zm1-1zm1 0zm2 0zm1 0zm0-1zm-5-1zm6 0zm-2-1zm1 0zm-4-2zm2 0zm2 0zm-3-2zm5 0zm-6-3zm2 0zm2 0zm-1-1zm-4-1zm5 0zm-4-1zm4 0zm1 0zm-4-3zm12 1zm-6 1zm7 0zm-1 2zm-4 1zm3 1zm2 0zm-3 1zm0 2zm-1 1zm2 0zm-1 2zm-2 1zm1 1zm3 0zm-5 2zm1 0zm-2 2zm2 0zm2 3zm1 2zm0 1zm1 0zm-4 1zm1 0zm-2 1zm1 0zm4 0zm0 1zm1 0zm-2 2zm-5 2zm3 0zm2 2zm-3 1zm1 0zm2 0zm-2 1zm2 0zm1 0zm1 0zm-1 1zm-3 3zm-1 3zm1 1zm3 3zm-4 1zm4 0zm1 0zm-7 2zm1 0zm5 0zm-6 1zm5 0zm1 2zm0 1zm1 0zm-3 1zm3 1zm-5 1zm-1 3zm2 0zm4 0zm-4 2zm1 1zm2 0zm-6 2zm6 0zm-3 1zm1 0zm1 0zm1 0zm-4 1zm-2 1zm4 1zm1 0zm0 1zm-4 1zm4 0zm-2 1zm3 1zm-1 1zm0 1zm-1 1zm3 1zm-3 1zm1 2zm2 1zm8 7zm-2-3zm-1-1zm3 0zm-7-2zm2-1zm1 0zm2 0zm0-1zm-3-1zm-1-1zm6 0zm-5-3zm3-1zm-5-1zm1-1zm6-1zm-6-1zm4-1zm-5-1zm3 0zm2 0zm1 0zm-6-1zm1-1zm2 0zm-2-1zm5 0zm-3-1zm2 0zm-2-4zm3-1zm-3-1zm-3-1zm0-1zm6 0zm1 0zm-2-1zm2 0zm-2-2zm2 0zm-3-1zm2 0zm1 0zm-2-1zm-5-3zm2 0zm-2-1zm2 0zm5 0zm-5-2zm2 0zm2 0zm1 0zm-3-1zm-4-1zm4 0zm1-1zm1-2zm-5-2zm1 0zm4 0zm1 0zm-4-1zm4 0zm-5-1zm2 0zm0-1zm-4-2zm6 0zm-6-1zm3 0zm4 0zm-2-1zm2-1zm-5-1zm0-1zm4 0zm-2-1zm1 0zm2-1zm-5-1zm3 0zm-4-3zm2 0zm-3-1zm2 0zm-2-1zm3 0zm2 0zm-4-2zm1-1zm1 0zm3 0zm1-1zm-3-1zm-1-1zm3 0zm1 0zm-7-3zm1 0zm6 0zm-6-1zm1 0zm2 0zm-3-1zm1-1zm3-1zm0-1zm-3-1zm0-2zm13-3zm-2 1zm2 0zm-3 1zm1 1zm2 0zm-5 1zm1 0zm2 0zm-3 1zm3 0zm-5 1zm4 0zm-1 1zm3 0zm-3 1zm3 0zm-4 2zm-1 1zm6 1zm-5 2zm5 0zm-7 1zm1 0zm0 1zm1 0zm-1 1zm1 0zm-2 1zm3 0zm1 1zm2 0zm-6 1zm1 0zm-1 1zm2 0zm1 0zm1 0zm-3 2zm2 0zm1 0zm1 0zm2 0zm-4 1zm-1 1zm5 0zm-7 3zm4 1zm2 1zm-1 1zm1 0zm-6 1zm6 0zm-4 1zm-2 1zm3 0zm2 0zm-5 2zm1 1zm3 1zm2 2zm-1 3zm1 1zm-4 1zm3 0zm-5 1zm1 0zm1 0zm1 0zm-2 1zm6 1zm-5 1zm2 0zm-1 1zm4 0zm-6 1zm1 1zm3 0zm0 1zm-2 1zm2 1zm0 1zm-4 1zm1 0zm5 0zm-3 1zm1 0zm0 1zm2 0zm-7 1zm6 0zm-2 1zm1 0zm1 0zm-2 1zm-4 1zm3 0zm3 0zm-3 2zm2 0zm-4 1zm1 1zm2 0zm0 1zm2 0zm1 0zm-5 1zm2 0zm1 0zm-5 1zm4 0zm1 0zm-4 1zm6 2zm-5 2zm3 0zm1 0zm-1 1zm1 1zm-6 1zm7 0zm-5 1zm1 3zm-1 1zm0 2zm4 0zm-4 2zm4 1zm3 2zm3 0zm2 0zm-6-2zm1 0zm-1-1zm0-1zm2 0zm5 0zm-5-2zm3 0zm-5-1zm2 0zm0-1zm-1-1zm4 0zm1 0zm-3-1zm-2-1zm2 0zm-3-1zm1-1zm1 0zm-2-1zm4 0zm1-1zm-4-1zm3 0zm1 0zm1 0zm-6-1zm1 0zm-1-1zm0-1zm4 0zm1 0zm-3-1zm3 0zm-3-1zm-2-1zm0-1zm1 0zm4 0zm-1-2zm2 0zm-3-1zm2 0zm-5-2zm1 0zm0-1zm2 0zm1 0zm-1-1zm1-1zm-1-1zm3 0zm1 0zm-3-1zm-3-2zm6-1zm0-1zm-6-1zm2 0zm1 0zm2 0zm-4-1zm3 0zm-2-1zm1 0zm-1-1zm2 0zm-5-1zm2 0zm2 0zm2 0zm1 0zm-7-2zm6 0zm-6-1zm1 0zm3 0zm1 0zm2 0zm-1-1zm-2-2zm2-2zm-1-1zm-5-2zm3 0zm4-1zm-5-1zm-1-2zm5 0zm-1-1zm-5-1zm5 0zm0-1zm1 0zm-2-1zm2 0zm1 0zm-5-1zm3-1zm2-2zm-7-1zm4-1zm3 0zm-5-1zm2 0zm-4-1zm4 0zm-3-1zm5 0zm-6-1zm3 0zm4 0zm-7-1zm3 0zm1 0zm-1-1zm3 0zm1 0zm-7-2zm1 0zm0-1zm1 0zm5 0zm-4-1zm2 0zm-4-1zm-1-1zm3 0zm1 0zm-4-1zm6 0zm1 0zm-7-1zm2 0zm1 0zm3 0zm-4-1zm1 0zm3 0zm-2-1zm3 0zm-6-1zm4-3zm-5-1zm5 0zm0-1zm1 0zm0-1zm-2-1zm2 0zm-4-2zm5 0zm1 0zm0 2zm4 0zm-4 2zm4 0zm-3 1zm0 1zm2 1zm4 1zm-7 2zm3 0zm-3 1zm4 2zm3 0zm-7 1zm1 0zm3 0zm0 1zm3 3zm-4 1zm-1 1zm1 1zm3 0zm-2 3zm1 0zm-2 1zm3 0zm-3 1zm-3 1zm5 0zm-2 1zm-3 1zm4 1zm0 3zm-1 1zm1 0zm0 1zm2 0zm-6 1zm3 0zm0 4zm-3 1zm2 0zm0 1zm4 0zm-6 1zm5 1zm1 0zm-4 1zm2 0zm-3 1zm3 0zm2 0zm0 1zm-2 2zm1 0zm-4 1zm4 0zm2 0zm-1 1zm-3 2zm-3 2zm1 0zm1 2zm5 0zm-1 1zm1 4zm-1 1zm-1 1zm-3 1zm1 0zm3 0zm-6 2zm4 0zm-3 1zm6 1zm-7 1zm4 1zm-3 1zm3 0zm3 0zm-5 1zm0 1zm2 1zm2 0zm1 0zm-7 2zm4 0zm-3 1zm6 0zm-6 1zm4 0zm-1 2zm1 0zm2 0zm-7 1zm3 0zm3 1zm-6 1zm7 0zm-6 1zm3 0zm-4 1zm2 0zm1 0zm2 0zm0 1zm1 0zm-6 2zm6 0zm-6 1zm5 0zm2 0zm-3 1zm1 0zm-3 2zm2 1zm0 2zm9-2zm-4-2zm3-2zm3 0zm-2-1zm1 0zm1 0zm-5-1zm4 0zm-3-1zm3-1zm-1-2zm2 0zm-6-2zm4-1zm1 0zm1-1zm-2-1zm2 0zm-7-2zm5-1zm-3-2zm1 0zm0-1zm1-1zm2 0zm0-1zm-6-1zm1 0zm4 0zm-2-1zm3 0zm1 0zm0-1zm0-1zm-6-2zm4 0zm-2-3zm1-1zm-2-2zm3 0zm2 0zm-6-1zm1 0zm4 0zm-2-2zm1 0zm-1-1zm2 0zm-5-1zm5-1zm-4-1zm2 0zm-2-2zm-2-1zm7-1zm-5-1zm2 0zm2 0zm-2-1zm-3-1zm6 0zm-7-1zm2 0zm-2-1zm4 0zm-4-1zm5 0zm-5-1zm3 0zm-2-1zm1 0zm0-2zm1 0zm2 0zm-2-1zm1 0zm2 0zm-5-1zm5-1zm1 0zm-7-1zm7 0zm-7-1zm7 0zm-7-1zm3 0zm2 0zm-4-2zm-1-2zm5 0zm-5-1zm1 0zm1-1zm1 0zm1 0zm1-1zm-2-1zm4-1zm-4-1zm2 0zm-4-2zm5 0zm1 0zm-4-1zm-3-1zm3 0zm1 0zm-3-1zm1 0zm4 0zm-3-1zm2-1zm2 0zm-3-1zm-2-1zm4-1zm-2-1zm-2-1zm3 0zm1 0zm-6-1zm1 0zm1 0zm-2-2zm4 0zm0-1zm2 0zm-3-1zm3 0zm-5-1zm6 0zm-4-1zm-1-2zm1-1zm3-1zm6-1zm-4 2zm3 0zm1 1zm2 0zm-3 1zm3 2zm1 0zm-7 1zm5 0zm-4 2zm4 0zm1 2zm-1 1zm-3 1zm2 1zm-4 2zm6 0zm-6 3zm1 2zm3 0zm-3 1zm5 0zm-5 1zm1 1zm1 0zm2 0zm-5 1zm1 1zm2 1zm0 1zm-1 1zm2 0zm0 1zm0 1zm2 0zm-6 1zm1 0zm-1 2zm3 1zm-2 1zm2 0zm-3 2zm3 0zm2 0zm2 1zm-4 1zm1 1zm0 1zm3 0zm-6 1zm1 0zm5 1zm-7 1zm1 0zm0 1zm1 0zm5 1zm-4 1zm-3 1zm7 0zm-6 1zm1 0zm1 0zm2 0zm2 0zm-5 3zm-2 1zm1 1zm3 0zm-4 1zm2 0zm-2 2zm2 0zm1 0zm3 0zm-6 2zm1 0zm3 0zm-1 1zm2 0zm1 0zm-1 1zm1 0zm-3 1zm2 0zm2 0zm-5 3zm1 0zm1 1zm1 0zm-2 1zm-3 1zm2 0zm5 1zm-5 1zm2 0zm2 0zm-3 1zm1 0zm1 0zm2 1zm-7 2zm3 0zm1 0zm3 0zm-1 2zm1 0zm-2 2zm-5 1zm2 0zm1 0zm1 0zm1 0zm2 0zm-5 2zm1 0zm-3 1zm4 5zm3 0zm-2 1zm-4 1zm-1 1zm5 0zm1 1zm-3 5zm6-1zm3 0zm-4-2zm2 0zm3 0zm-5-2zm2-1zm1 0zm0-3zm2 0zm1 0zm-4-1zm3 0zm-3-1zm1 0zm2 0zm-5-1zm7 0zm-7-1zm1-2zm2-2zm4 0zm-6-1zm0-1zm1 0zm3 0zm1-1zm0-1zm-1-1zm-4-2zm3-3zm2 0zm-6-2zm3-2zm2-2zm2-1zm-1-1zm-5-1zm2 0zm-3-1zm2 0zm-2-1zm4 0zm2 0zm-5-1zm2 0zm4 0zm0-1zm-7-1zm7 0zm-1-3zm-5-1zm1 0zm4 0zm-3-1zm2-1zm2 0zm-4-1zm2 0zm-5-1zm7 0zm-5-2zm5-1zm-2-1zm-5-1zm0-1zm3 0zm-2-1zm1 0zm3 0zm-5-1zm5 0zm2 0zm-2-2zm-1-2zm2 0zm-6-1zm2 0zm3 0zm-3-1zm0-1zm-1-1zm2-1zm0-1zm-2-1zm-1-1zm7 0zm-3-1zm2-1zm-1-1zm-4-1zm-1-1zm4-1zm-1-3zm1 0zm-3-1zm4 0zm-2-1zm-2-1zm6 0zm-6-1zm5 0zm-4-1zm5 0zm0-1zm0-1zm-2-1zm-5-1zm0-1zm2-1zm-2-1zm2-1zm5 0zm-2-1zm-2-1zm3 0zm1 0zm-3-1zm-3-1zm4-1zm6-1zm2 3zm1 0zm-5 1zm2 0zm-1 1zm0 2zm2 0zm1 0zm-5 1zm0 1zm2 0zm2 1zm3 0zm-6 1zm3 0zm2 0zm1 0zm-3 1zm3 0zm-6 1zm3 0zm1 0zm-5 1zm2 0zm-1 2zm3 0zm-2 2zm-1 1zm2 0zm1 0zm-2 1zm3 0zm2 1zm-2 1zm1 0zm-3 1zm2 0zm-1 1zm3 0zm-5 1zm3 0zm-1 1zm-2 1zm2 0zm3 0zm-6 1zm3 0zm3 0zm-5 2zm4 1zm-6 1zm4 0zm2 0zm0 4zm-4 1zm2 0zm0 1zm-1 1zm-2 1zm5 0zm-1 3zm-5 1zm6 0zm1 0zm-7 1zm2 0zm2 0zm-2 1zm-2 1zm0 1zm3 0zm-1 1zm1 0zm2 1zm-5 1zm2 0zm5 0zm-2 1zm-2 1zm-3 1zm1 0zm5 1zm-2 1zm1 0zm-5 1zm2 0zm4 0zm-4 1zm3 0zm-4 1zm1 0zm-2 1zm1 0zm0 2zm5 0zm1 3zm-7 1zm2 0zm1 0zm4 0zm-6 1zm1 0zm3 2zm0 2zm2 0zm-4 1zm3 0zm-1 1zm2 0zm-6 1zm1 1zm1 0zm1 1zm-2 2zm5 0zm-6 1zm4 0zm-2 1zm3 0zm-5 1zm2 0zm-2 1zm0 1zm1 2zm2 0zm1 1zm2 0zm-7 2zm2 0zm2 0zm3 0zm-5 1zm2 0zm-4 1zm4 1zm-3 2zm1 0zm-2 1zm8-8zm0-2zm2 0zm4-6zm-3-1zm2 0zm1 0zm-5-1zm-1-1zm6 0zm-5-1zm3 0zm1 0zm-2-1zm3 0zm-4-1zm4-1zm0-1zm-5-2zm4 0zm1 0zm1-2zm-7-1zm1-1zm2 0zm2 0zm-4-1zm1-2zm4 0zm-3-1zm3 0zm-6-2zm1 0zm4 0zm2 0zm-7-1zm4-1zm3 0zm-1-2zm-4-1zm4 0zm1 0zm-3-1zm-3-1zm-1-1zm2-3zm1 0zm2 0zm-4-1zm4-1zm-4-1zm5 0zm1-1zm-4-1zm3 0zm-4-1zm4 0zm-2-1zm-1-1zm1 0zm-2-1zm0-2zm1 0zm2-1zm1 0zm1 0zm-7-1zm3 0zm3 0zm-4-1zm1-1zm-1-1zm2 0zm-4-1zm5 0zm-4-2zm2 0zm-1-1zm2 0zm2 0zm-5-1zm2-1zm2-1zm-3-1zm4 0zm-5-1zm1 0zm3 0zm-3-2zm4-1zm-2-1zm-2-1zm0-1zm2 0zm-3-1zm2 0zm-2-1zm1 0zm2 0zm2 0zm-6-1zm1 0zm5 0zm-6-1zm5 0zm-2-1zm3 0zm-6-3zm2-2zm2 0zm-4-1zm1 0zm2 0zm1 0zm5 1zm-1 1zm1 1zm2 1zm1 0zm-2 1zm3 0zm2 0zm-7 1zm4 0zm-1 2zm2 0zm2 0zm-7 1zm0 1zm7 0zm-6 1zm4 0zm-5 1zm3 0zm1 0zm0 1zm3 0zm-4 2zm2 0zm0 1zm1 1zm-5 2zm3 1zm1 0zm-3 1zm1 0zm-3 1zm3 0zm4 0zm-6 1zm-1 1zm0 1zm6 0zm-1 1zm-2 1zm2 0zm-1 1zm-3 1zm1 0zm2 0zm3 0zm-2 1zm1 0zm-1 2zm-2 2zm1 0zm2 1zm-5 1zm1 0zm3 2zm-2 1zm1 0zm2 0zm-6 1zm0 3zm1 0zm-1 1zm4 0zm2 0zm-5 1zm6 0zm-7 1zm4 1zm-3 1zm3 0zm3 0zm-3 1zm2 0zm-1 2zm1 0zm1 0zm-7 1zm3 0zm-1 1zm4 0zm-5 1zm6 0zm-5 1zm1 0zm2 0zm-3 3zm1 0zm1 0zm-2 1zm5 0zm-6 2zm1 0zm5 0zm0 1zm-4 1zm-2 1zm4 0zm1 1zm-5 1zm1 0zm5 0zm-7 1zm15-7zm-6-1zm2 0zm-2-3zm6-1zm-3-1zm2-2zm-3-1zm1 0zm0-2zm1-1zm-1-2zm1 0zm-4-1zm1 0zm5 0zm-6-1zm5-1zm1 0zm-3-1zm2 0zm-3-1zm2 0zm-5-1zm4 0zm1-1zm-1-2zm2 0zm1 0zm-6-1zm1 0zm3 0zm-2-3zm1 0zm3-1zm-3-1zm3-1zm-1-2zm-2-1zm-3-1zm1 0zm1-1zm3 0zm1 0zm-5-1zm2 0zm2 0zm-2-1zm2 0zm-1-1zm1 0zm-1-1zm-1-1zm-1-1zm1-2zm2 0zm-6-1zm1 0zm1 0zm1-1zm4 0zm-7-2zm4 0zm1 0zm-4-1zm5 0zm-6-1zm7-1zm-5-1zm1 0zm2 0zm-2-1zm3 0zm1 0zm-1-1zm1 0zm-7-1zm3 0zm1 0zm-1-1zm2 0zm2 0zm-6-1zm-1-1zm1 0zm4 0zm-5-2zm2-2zm0-2zm2 0zm7 7zm-2 1zm4 1zm2 0zm-3 1zm3 0zm-4 1zm-3 2zm6 0zm1 1zm-7 1zm1 1zm4 0zm2 0zm-1 2zm-4 1zm4 0zm-1 1zm2 0zm-4 1zm2 2zm-2 2zm1 1zm1 0zm-5 1zm1 0zm0 1zm4 0zm1 0zm-2 1zm1 0zm-2 2zm1 1zm-4 1zm2 0zm-2 1zm4 0zm1 0zm1 0zm-4 1zm1 0zm2 1zm1 0zm-6 1zm3 0zm1 0zm2 0zm-5 1zm5 0zm1 0zm-7 1zm0 1zm4 0zm1 0zm-2 1zm1 0zm-3 1zm0 1zm5 0zm1 0zm-5 1zm5 0zm-7 1zm2 1zm1 0zm4 0zm-7 1zm2 0zm4 0zm-1 1zm2 0zm-4 1zm1 0zm-2 1zm4 0zm-4 1zm1 0zm1 1zm2 0zm-2 2zm-2 1zm2 2zm4-8zm0-1zm5 0zm-4-1zm1-1zm1 0zm2-1zm0-1zm0-1zm-4-1zm1 0zm3 0zm-3-1zm3 0zm2 0zm-3-2zm2 0zm-5-2zm3-1zm0-1zm3 0zm-6-1zm0-1zm4 0zm-4-1zm0-1zm-1-1zm7 0zm-2-1zm1 0zm-1-1zm-1-2zm1-1zm0-1zm-4-1zm3 0zm2 0zm0-1zm-5-1zm-1-1zm4-2zm3-1zm-3-2zm-4-1zm1-1zm3 0zm-4-4zm10 8zm-1 6zm1 0zm2 0zm-2 2zm4 1zm-6 1zm3 0zm-3 3zm1 1zm-1 3zm2 0zm1 0zm-3 4zm1 0zm-1 2z" stroke="#D6EBA6" stroke-width="3.2" stroke-opacity="0.9"/><path d="M367 1337zm1-2zm1 2zm2 0zm-2 2zm3 0zm-4 1zm2 0zm4 0zm1 5zm5 2zm1 0zm-4-1zm-1-1zm2 0zm-2-2zm1 0zm4 0zm-5-1zm4 0zm-4-1zm2 0zm4 0zm-5-2zm7 4zm1 0zm0 1zm2 0zm-2 1zm3 0zm-4 1zm1 0zm1 1zm2 0zm-1 1zm-2 1zm-1 1zm8 2zm1-7z" stroke="#D6EBA6" stroke-width="3.2" stroke-opacity="0.9"/><path d="M390 1345zm1 2zm-2 1zm1 1zm-2 1zm2 0zm-1 1zm1 0zm1 0zm0 2zm-2 1zm-4 1zm2 0zm1 0zm2 0zm-1 2zm1 0zm-1 1zm2 0zm5 3zm0-1zm-1-1zm1 0zm1 0zm2 0zm-3-1zm1 0zm2 0zm-6-1zm4 0zm2 0zm-6-1zm1 0zm1 0zm1 0zm2 0zm-5-1zm1 0zm1 0zm3 0zm-6-1zm1 0zm2 0zm4 0zm-7-1zm3 0zm2 0zm2 0zm-6-1zm3 0zm1 0zm-2-1zm-2-1zm2 0zm3 0zm-5-1zm2 0zm1 0zm-3-1zm1 0zm1 0zm-1-1zm4 0zm-6-1zm4 0zm2 0zm-1-1zm1-1zm3 2zm-1 1zm6 0zm-5 1zm1 0zm2 1zm-1 1zm-3 1zm5 0zm-4 1zm3 0zm3 0zm-2 1zm-2 1zm1 0zm1 0zm-5 2zm1 0zm1 0zm-1 1zm5 0zm-2 1z" stroke="#7DCDB0" stroke-width="3.2" stroke-opacity="0.9"/><path d="M567 1196zm6 14zm-1-5zm1 0zm1 0zm-5-1zm3 0zm2 0zm-1-1zm-2-1zm-1-1zm4 0zm-4-1zm2 0zm2 0zm-5-1zm5 0zm1 0zm-6-1zm1 0zm0-1zm4 0zm-3-1zm3 0zm1 0zm-5-3zm4 0zm-3-2zm2 0zm2 0zm-3-1zm0-2zm8 0zm-4 1zm4 0zm2 0zm0 2zm-6 2zm2 0zm1 0zm2 0zm-5 2zm2 0zm2 0zm-4 1zm1 0zm0 1zm2 0zm2 0zm-4 1zm1 0zm1 0zm-2 1zm5 0zm1 0zm-1 1zm1 0zm-7 1zm5 0zm-4 1zm2 0zm1 0zm-2 1zm-2 2zm1 0zm5 0zm-6 1zm5 0zm2 0zm-4 1zm2 0zm-1 1zm3 0zm-5 1zm1 0zm1 0zm2 0zm-3 1zm3 0zm-4 1zm1 0zm2 0zm1 0zm-4 1zm2 0zm1 0zm2 2zm-1 2zm-1 1zm3 0zm2 0zm-2-1zm1-1zm4 0zm1-1zm-5-1zm4 0zm-2-2zm1 0zm0-1zm-4-1zm2 0zm0-1zm3 0zm-1-1zm-4-1zm2-2zm-2-2zm9 6zm2 0zm-3 1zm2 0zm4 0zm-3 1zm1 1zm-2 1zm-1 1z" stroke="#F5A8AE" stroke-width="3.2" stroke-opacity="0.9"/><path d="M463 1299zm-3-1zm3 0zm-2-1zm2 0zm-1-1zm0-1zm0-3zm1 0zm-1-1zm7-3zm2 0zm-5 1zm0 1zm-1 1zm1 0zm3 0zm-4 1zm2 0zm2 0zm2 0zm-3 1zm1 1zm-5 2zm2 0zm5 0zm-6 1zm2 0zm2 0zm-1 1zm2 0zm-3 3zm6-3zm1-1zm-2-1zm6 0zm-5-2zm-1-1zm2 0zm1 0zm0-1zm2 0zm-3-1zm2 0zm-3-1zm1 0zm1 0zm1 0zm3 0zm-6-1zm4 0zm1 0zm1 0zm-4-1zm-2-3zm6-1zm6-3zm1 0zm1 0zm-7 1zm5 0zm1 0zm-3 1zm1 0zm3 0zm-6 1zm2 0zm2 0zm1 0zm-5 1zm3 0zm3 0zm-2 1zm-4 1zm2 0zm3 0zm-2 1zm3 0zm0 1zm-7 2zm3 0zm1 0zm1 0zm-1 2zm-2 1zm7-4zm-1-1zm1 0zm1 0zm1 0zm0-1zm1 0zm3 0zm-6-1zm2 0zm1 0zm1 0zm2 0zm-7-1zm4-1zm-4-1zm3 0zm3 0zm1 0zm-7-1zm2 0zm2 0zm3 0zm-6-1zm2 0zm1 0zm-3-2zm5 0zm1-3zm5-2zm-3 1zm-1 1zm3 1zm4 1zm-6 1zm4 0zm2 0zm-7 1zm6 0zm1 0zm0 1zm-2 1zm0 1zm-3 1zm5 0zm-4 1zm1 0zm-4 1zm4 0zm3 0zm-5 1zm-2 2zm11-2zm-1-1zm1-1zm-2-2zm1 0zm1 0zm0-1zm3 0zm0-2zm-4-1zm3 0zm-2-1zm-1-1zm1 0zm-2-1z" stroke="#F4779F" stroke-width="3.2" stroke-opacity="0.9"/><path d="M541 1270zm2-1zm-1-2zm-2-2zm0-1zm7-3zm3 1zm-4 1zm-2 1zm1 1zm1 0zm1 1zm0 1zm1 0zm1 0zm-4 1zm3 0zm1 0zm1 0zm2-1zm2-1zm5-1zm-5-1zm3 0zm1 0zm1 0zm-6-1zm3 0zm2 0zm1 0zm-3-1zm1 0zm1 0zm-5-2zm5 0zm1-1zm0-2zm7-2zm-2 1zm-1 1zm1 0zm1 0zm-5 1zm0 1zm2 0zm2 0zm-2 1zm-1 1zm1 1zm2 0zm1 1zm2 0zm-6 1zm-1 1zm8-2zm4-2zm0-1zm-4-2zm4 0zm2 0zm1 0zm-3-1zm1 0zm1 0zm-6-1zm2 0zm4 0zm1 0zm-6-1zm3 0zm1 0zm1 0zm-4-1zm4-1zm0-1zm7-4zm-5 1zm6 0zm-6 1zm2 0zm2 1zm1 0zm1 0zm-6 2zm1 0zm3 0zm1 0zm2 1zm0 1zm-6 1zm3 0zm0 1zm-2 1zm8-9zm-1-1z" stroke="#C9198F" stroke-width="3.2" stroke-opacity="0.9"/><path d="M574 1249zm1-2zm0-2zm-1-1zm2 3zm1 1zm0 1zm1 0zm1 0zm-2 2zm0 2zm4 1zm-3 1zm3 1zm-1 1z" stroke="#C9198F" stroke-width="3.2" stroke-opacity="0.9"/><path d="M518 1234zm-1 1zm0 1zm-1 1zm4 0zm2-1zm0-1zm-2-1zm1-2zm1 0zm1 0zm-2-1zm3 0zm1 0zm1 0zm3-2zm-1 2z" stroke="#C9198F" stroke-width="3.2" stroke-opacity="0.9"/><path d="M541 1247zm0-1zm-2-1zm2 0zm1 0zm-3-1zm1 0zm-1-1zm1 0z" stroke="#C9198F" stroke-width="3.2" stroke-opacity="0.9"/><path d="M479 1231zm-2-2zm1 0zm-4-2zm8 2zm0 1zm1 0zm1 0zm3 0zm-7 1zm6 1zm9 1zm-2-1zm1-1zm-6-2zm2 0zm7 3zm5 1zm-5 1z" stroke="#7DCDB0" stroke-width="3.2" stroke-opacity="0.9"/><path d="M743 1224zm0 1zm-3 1zm1 0zm1 0zm1 0zm-3 1zm1 0zm1 0zm-3 1zm1 0zm-1 1zm2 0zm-3 1zm5 0zm-5 1zm2 0zm2 0zm1 0zm-3 1zm2 0zm-4 1zm2 0zm1 0zm1 0zm0 1zm-2 1zm2 1zm1 0zm-2 1zm1 0zm1 0zm-1 1zm-1 1zm1 2zm7 6zm2-1zm-3-1zm3 0zm-3-1zm2 0zm-6-1zm4 0zm1 0zm2 0zm-7-1zm1 0zm1 0zm1 0zm2 0zm-2-1zm1 0zm-2-1zm3 0zm-2-1zm-2-1zm1 0zm1 0zm-3-1zm3 0zm4 0zm-6-1zm1 0zm5 0zm-6-1zm2 0zm-1-1zm2 0zm1 0zm-5-1zm7 0zm-6-1zm1 0zm3 0zm1 0zm1 0zm-3-1zm2 0zm-6-1zm4 0zm-2-1zm1 0zm3 0zm1 0zm-4-1zm1 0zm2 0zm1 0zm-7-1zm2 0zm4 0zm1 0zm-6-1zm3 0zm2 0zm1-1zm-7-1zm1 0zm2 0zm1 0zm1-1zm2 0zm-4-1zm3 0zm-2-1zm2 0zm-1-1zm1 0zm-5-1zm2 0zm2 0zm1 0zm4-1zm2 0zm1 0zm-3 1zm1 0zm1 0zm-4 1zm2 1zm1 0zm3 0zm-6 1zm3 0zm3 0zm1 0zm-4 1zm1 0zm-3 1zm4 0zm-3 1zm2 0zm-4 1zm1 0zm2 0zm-1 1zm1 0zm1 0zm1 0zm1 0zm-4 1zm1 0zm2 0zm1 0zm-3 1zm3 0zm-5 1zm1 0zm5 0zm-7 1zm7 0zm-7 1zm2 1zm1 0zm2 0zm0 1zm-5 1zm2 0zm4 0zm-6 1zm4 0zm3 0zm-3 1zm-1 1zm3 0zm1 0zm-7 1zm2 0zm-1 1zm5 0zm-6 1zm1 0zm6 0zm-5 1zm3 0zm-3 1zm4 0zm-1 1zm-3 1zm1 0zm-2 1zm1 0zm5 0zm-6 1zm9-1zm1-1zm-3-1zm3 0zm-2-1zm4 0zm1 0zm1 0zm-6-1zm2 0zm-1-1zm4 0zm-6-1zm1 0zm2 0zm1 0zm2 0zm1 0zm-6-1zm2 0zm1 0zm1 0zm-5-1zm5 0zm-3-1zm4 0zm-5-1zm2 0zm1 0zm2 0zm-5-1zm-1-1zm1 0zm1 0zm1 0zm3 0zm1 0zm-6-2zm4 0zm2 0zm-3-1zm1 0zm-3-1zm1 0zm4-1zm-7-1zm1 0zm-1-1zm5 0zm1 0zm-5-1zm2 0zm2 0zm-5-1zm6 0zm1 0zm-1-2zm1 0zm-5-1zm1 0zm2 0zm2 0zm-7-1zm1 0zm1 0zm2 0zm-4-1zm1 0zm-1-1zm3 0zm-3-1zm6 0zm3 5zm-1 1zm3 1zm-3 1zm0 1zm1 0zm2 0zm2 0zm-5 1zm1 0zm3 0zm3 0zm-6 1zm2 0zm0 1zm0 1zm3 0zm-6 2zm2 0zm4 0zm-6 1zm5 0zm1 0zm1 0zm-6 1zm0 1zm5 0zm-3 1zm1 0zm-2 1zm2 0zm-4 1zm1 1zm1 0zm1 2z" stroke="#C9104C" stroke-width="3.2" stroke-opacity="0.9"/><path d="M279 1435zm-3 1zm1 2zm1 3zm7 2zm1-2zm1 0zm0-1zm-4-1zm2 0zm-4-1zm2 0zm1 0zm1 0zm-2-1zm2 0zm1 0zm1 0zm-5-1zm4-2zm8 0zm-3 1zm3 0zm-1 1zm2 1zm-6 2zm3 0zm1 0zm-3 1zm-2 1zm0 1zm2 0zm1 0zm1 0zm1 1zm-1 1zm-1 1zm4 2zm-2 1zm9 2zm1 0zm-2-1zm-4-1zm1 0zm3 0zm1 0zm-5-2zm1 0zm2 0zm3 0zm-6-2zm2 0zm-2-1zm4 0zm1 0zm1 0zm-6-1zm3 0zm1 0zm-5-1zm4 0zm2 0zm1 0zm-1-1zm-6-1zm1 0zm1 0zm1 0zm3 0zm0-2zm1 0zm-7-1zm6 0zm-5-1zm1 0zm1 0zm3 0zm-4-1zm1-1zm0-1zm4 0zm0-1zm8-2zm-7 1zm4 0zm3 0zm-3 1zm-1 1zm-1 1zm0 1zm4 0zm1 0zm-6 1zm1 0zm4 0zm-6 1zm3 0zm1 0zm2 0zm-5 1zm2 0zm-2 1zm0 2zm3 0zm2 0zm-5 1zm1 0zm0 1zm1 0zm4 0zm-6 1zm4 0zm-5 1zm1 0zm2 0zm1 1zm2 2zm0 1zm1 0zm-3 1zm-2 1zm11 2zm0-1zm2 0zm-7-1zm1 0zm3 0zm2 0zm-4-1zm2-1zm-4-1zm1 0zm2 0zm1 0zm1 0zm-3-1zm1 0zm4-1zm-7-2zm1 0zm4 0zm-2-1zm1-1zm-4-2zm2 0zm2 0zm2 0zm1-1zm-2-1zm-4-1zm-1-1zm3 0zm1 0zm3 0zm-6-1zm2 0zm4 0zm-5-1zm2 0zm1-1zm2 0zm-6-1zm3 0zm-3-1zm4 0zm-3-1zm3 0zm4 0zm0 1zm-1 1zm2 0zm3 0zm-3 1zm2 0zm-4 1zm3 0zm1 0zm-4 1zm3 0zm1 0zm1 0zm-3 1zm1 0zm4 2zm-4 1zm1 0zm3 0zm-3 1zm2 0zm1 0zm-6 1zm2 0zm-3 1zm1 0zm1 2zm1 1zm3 0zm1 0zm-7 1zm4 0zm-3 1zm4 0zm-5 1zm2 0zm3 0zm2 0zm-5 1zm1 0zm2 0zm2 0zm-1 2zm-3 3zm9 2zm2 0zm-6-1zm5-1zm-5-1zm4 0zm-4-1zm1 0zm-1-1zm2 0zm3 0zm-1-1zm1 0zm0-1zm2 0zm-7-1zm3 0zm2 0zm-1-1zm1 0zm-4-1zm1 0zm1 0zm0-1zm-3-1zm3 0zm3 0zm-2-1zm2 0zm-4-1zm4 0zm-6-3zm2 0zm5 0zm-3-1zm1 0zm-4-1zm2 0zm2 0zm1 0zm-5-1zm1 0zm-1-1zm1 0zm3 0zm0-1zm-4-1zm3 0zm-2-3zm3 0zm4-2zm-1 1zm5 1zm-5 2zm1 0zm6 0zm-5 1zm-2 1zm0 1zm1 0zm1 0zm1 0zm1 0zm1 0zm-4 1zm3 0zm-3 1zm0 1zm1 0zm4 0zm1 0zm-1 1zm1 1zm-3 1zm-2 1zm-2 1zm5 0zm-5 1zm1 0zm2 0zm2 0zm1 0zm-1 1zm0 1zm-5 1zm4 0zm-2 1zm2 0zm3 0zm-3 1zm1 0zm2 0zm-7 1zm3 0zm1 0zm3 0zm-7 2zm3 0zm1 0zm-4 1zm1 1zm1 0zm1 0zm2 0zm0 1zm2 0zm-1 2zm3 0zm5 0zm-5-1zm3 0zm-4-1zm1 0zm6 0zm-7-1zm2 0zm3 0zm-5-2zm4 0zm0-1zm-4-1zm1 0zm4 0zm-5-2zm4 0zm-2-1zm-2-1zm4 0zm1 0zm2 0zm-6-1zm1-1zm1 0zm1-1zm-1-1zm3 0zm-3-1zm1 0zm1 0zm-3-1zm1 0zm-3-1zm2 0zm2 0zm-4-1zm5 0zm2 0zm-4-1zm2 0zm-2-1zm1 0zm1 0zm1 0zm1-1zm-4-1zm-1-1zm2 0zm-2-1zm7-2zm1 3zm2 0zm-1 1zm2 0zm-4 1zm-1 1zm1 0zm1 0zm4 0zm1 1zm-1 1zm-6 1zm1 0zm1 0zm2 0zm2 0zm1 0zm-1 1zm-5 1zm2 0zm3 0zm-2 1zm-2 1zm5 0zm-7 1zm1 1zm0 1zm2 1zm3 0zm-4 1zm5 1zm-7 2zm2 0zm2 0zm1 0zm-4 1zm3 0zm1 0zm-5 1zm1 0zm3 1zm1 0zm1 0zm-5 1zm-1 1zm2 0zm-1 1zm2 1zm1 0zm2 0zm4 0zm-2-1zm0-1zm0-3zm0-5z" stroke="#15807C" stroke-width="3.2" stroke-opacity="0.9"/></g><g filter="url(#sblur)"><path d="M202.4 1575.4L210.1 1593.1L229.3 1598.9L244.8 1590.8L277.8 1583.1L256.2 1562L235.1 1553.3L210.1 1565.8Z" fill="#DCE9F6" fill-opacity="0.6" fill-rule="evenodd"/><path d="M162.9 1594.7L169.7 1610.1L186.9 1625.4L202.2 1640.7L212 1655.7L221 1640.8L220.1 1625.5L210.4 1606.2L190.8 1590.8L173.5 1588.9Z" fill="#AFD0E8" fill-opacity="0.6" fill-rule="evenodd"/><path d="M148.5 1640.8L150.4 1647.8L160 1652.8L172 1652.8L173.9 1644.7L167.7 1635.1L158.1 1631.2Z" fill="#6DAEDC" fill-opacity="0.6" fill-rule="evenodd"/><path d="M394.8 1570.6L394.5 1574L392.5 1580.5L388.7 1586L383.4 1590L377.2 1592.1L374 1592.4L370.7 1592.1L364.6 1590L359.3 1586L355.5 1580.5L353.5 1574L353.2 1570.6L354.2 1563.9L357.2 1557.8L359.3 1555.2L364.6 1551.2L370.7 1549.1L374 1548.9L377.2 1549.1L383.4 1551.2L388.7 1555.2L392.5 1560.7L393.8 1563.9Z" fill="#FDD370" fill-opacity="0.6" fill-rule="evenodd"/><path d="M308.2 1645.7L312 1650.5L323.2 1652L321.6 1644.6L318.8 1636Z" fill="#258F48" fill-opacity="0.6" fill-rule="evenodd"/><path d="M319.4 1677.4L321.7 1684.1L346.6 1668.3L365.9 1670.1L379.8 1660.1L377.8 1640.8L365.9 1633.2L339 1644.7L329.3 1660.1Z" fill="#9DD893" fill-opacity="0.6" fill-rule="evenodd"/><path d="M316.9 1689.9L327.4 1706.7L346.7 1718.2L367.8 1724L387.5 1714.3L393.2 1704.3L360.2 1700.9L331.6 1697.1Z" fill="#BDBADF" fill-opacity="0.6" fill-rule="evenodd"/><path d="M204.3 1704.3L210.1 1712.4L219.7 1719.2L233.1 1712.4L241.2 1706.3L233.1 1689.9L213.9 1692.8Z" fill="#CFECB5" fill-opacity="0.6" fill-rule="evenodd"/><path d="M237 1759.3L247.4 1763.4L257.3 1769.2L259.2 1769.1L260.5 1767.7L260.5 1766L259.7 1764.9L249.8 1759L237.4 1754.2L226.3 1757.9L225.2 1758.9L224.9 1760.3L225.7 1762L227.5 1762.6Z" fill="#F0A040" fill-opacity="0.6" fill-rule="evenodd"/><path d="M256.2 1761.1L258.2 1768.8L267.7 1771.7L275.9 1766.9L273.6 1760.1Z" fill="#FDE3C8" fill-opacity="0.6" fill-rule="evenodd"/><path d="M182.2 1802.5L190.8 1808.2L197.7 1804.4L194.7 1795.7Z" fill="#76CDB8" fill-opacity="0.6" fill-rule="evenodd"/></g><g fill="none" stroke-linecap="round" stroke-linejoin="round" transform="scale(.5)"><path d="M406 3154zm1 2zm6 19zm2 0zm-3-1zm2 0zm1 0zm0-2zm-6-6zm5 0zm0-1zm-1-1zm-3-1zm1 0zm-2-2zm2 0zm0-1zm-1-1zm2 0zm-1-1zm3 0zm-4-1zm2 0zm2 0zm-4-1zm-2-1zm4-1zm2 0zm0-2zm-2-1zm2 0zm-6-1zm7 0zm-7-1zm7 0zm-1-1zm-4-1zm5 0zm-2-1zm1 0zm-3-1zm3 0zm1 0zm0-2zm0-2zm-1-1zm1-1zm-1-1zm0-1zm0-1zm9-9zm-1 1zm1 0zm0 3zm-2 2zm2 0zm-1 1zm1 1zm-7 1zm5 0zm1 0zm1 0zm-1 1zm1 0zm-3 1zm1 0zm1 0zm-3 1zm3 0zm1 0zm-5 1zm3 0zm-4 1zm1 0zm1 0zm1 3zm-1 1zm1 0zm0 1zm-2 1zm1 0zm1 0zm3 0zm-6 1zm1 0zm4 0zm-6 1zm2 0zm1 1zm-2 1zm2 0zm-1 1zm3 0zm1 0zm-3 1zm-2 3zm2 0zm2 0zm-4 1zm3 0zm-4 1zm6 0zm-6 1zm1 0zm3 0zm1 0zm1 0zm-5 1zm3 0zm2 0zm-6 1zm5 0zm1 0zm1 0zm-7 2zm1 0zm1 0zm0 1zm4 0zm1 1zm-5 1zm1 0zm-3 2zm7 1zm-6 1zm1 0zm1 0zm-1 2zm1 0zm1 0zm3 0zm-3 1zm-1 1zm3 0zm1 1zm-5 1zm4 0zm-1 1zm-2 1zm1 0zm0 1zm2 0zm1 0zm-2 1zm2 0zm0 3zm0 1zm-3 1zm1 0zm-3 2zm9 4zm1-3zm-3-1zm4-1zm-3-1zm0-1zm4 0zm-5-1zm3 0zm1 0zm-5-1zm3 0zm-2-1zm5-1zm-5-1zm2 0zm1 0zm-4-1zm5 0zm-2-1zm1 0zm3 0zm-6-2zm1 0zm1 0zm2 0zm1 0zm1 0zm-6-1zm-1-1zm6 0zm1 0zm-3-1zm-2-1zm5 0zm-7-2zm5 0zm-4-1zm2 0zm2 0zm1 0zm-5-1zm4 0zm-5-1zm1 0zm1-1zm1 0zm1 0zm1 0zm1 0zm-5-2zm4 0zm-4-1zm3 0zm-4-1zm2 0zm2 0zm-2-1zm1 0zm1 0zm2-1zm-5-2zm1 0zm2 0zm2 0zm1 0zm-5-1zm4 0zm-3-1zm2 0zm2 0zm-5-1zm1 0zm-2-1zm1 0zm1 0zm-1-1zm-2-1zm7 0zm-7-1zm2-1zm3 0zm-3-1zm1 0zm-3-1zm3 0zm3 0zm1 0zm-3-1zm-1-1zm0-1zm2 0zm1 0zm-3-1zm1 0zm2 0zm-4-1zm1 0zm4 0zm-7-1zm1 0zm0-1zm1 0zm4 0zm-3-1zm1 0zm1-1zm-5-1zm3 0zm3 0zm1 0zm-4-1zm1 0zm3 0zm-7-1zm6-2zm1 0zm-7-1zm3 0zm3 0zm-2-2zm-2-1zm-1-3zm1-1zm11-1zm-5 1zm7 0zm-2 1zm1 0zm-6 1zm2 0zm0 1zm1 0zm1 0zm2 0zm1 0zm-7 1zm1 0zm1 0zm4 0zm1 0zm-3 1zm1 0zm2 0zm-6 1zm6 0zm-7 1zm7 0zm-7 1zm2 1zm5 0zm-7 1zm1 0zm6 0zm-5 1zm2 0zm1 0zm0 1zm1 1zm-5 1zm3 0zm1 0zm1 0zm1 0zm-5 1zm1 0zm1 0zm1 0zm-4 1zm4 0zm1 0zm0 1zm1 0zm-1 1zm0 1zm1 0zm-7 1zm0 1zm3 0zm-2 1zm3 0zm1 0zm-5 1zm4 0zm1 0zm1 0zm-4 1zm3 0zm1 0zm-6 1zm4 0zm0 1zm3 1zm-5 1zm2 0zm-4 1zm3 0zm2 0zm1 0zm-4 1zm4 0zm-4 1zm1 0zm2 0zm-4 1zm-1 1zm1 0zm2 0zm2 0zm2 0zm0 1zm-7 1zm1 0zm1 0zm3 0zm-5 1zm1 0zm3 0zm1 0zm-4 1zm5 1zm-1 1zm-2 1zm1 0zm1 0zm-3 1zm1 2zm2 0zm-2 1zm-3 1zm7 0zm-4 1zm1 0zm-4 1zm2 0zm2 0zm1 0zm1 0zm1 0zm-4 1zm2 0zm-4 1zm3 0zm-3 1zm6 0zm0 1zm-3 1zm-4 2zm2 0zm2 0zm1 0zm-3 1zm2 0zm3 0zm-3 1zm1 0zm1 0zm-4 1zm1 0zm2 0zm-5 1zm1 0zm1 0zm3 0zm1 0zm1 1zm-6 1zm2 0zm1 0zm2 0zm-6 1zm1 0zm4 0zm1 0zm-6 1zm1 0zm2 1zm1 0zm-4 1zm2 0zm5 0zm-2 1zm1 0zm1 0zm-4 2zm-1 1zm10 2zm0-2zm-2-1zm2 0zm-4-1zm6 0zm-1-1zm-5-1zm1 0zm2 0zm4 0zm0-1zm-7-1zm2 0zm2 0zm-3-1zm4 0zm-5-1zm3 0zm1 0zm-4-1zm5 0zm1 0zm1 0zm-4-2zm3 0zm-4-1zm1 0zm2-1zm1 0zm-4-1zm3 0zm1 0zm1 0zm-7-1zm5 0zm2 0zm-7-1zm1 0zm3 0zm1 0zm2 0zm-5-1zm1 0zm4 0zm-6-1zm5-1zm-3-1zm3 0zm1 0zm-4-1zm-2-1zm4 0zm1 0zm-5-1zm4 0zm0-2zm0-1zm1 0zm-4-1zm1 0zm3 0zm-5-1zm2-1zm3 0zm-4-1zm1 0zm-1-1zm4-1zm1 0zm-5-1zm2 0zm-3-1zm1 0zm2 0zm2 0zm-6-1zm3 0zm2 0zm-5-1zm1-1zm5 0zm-5-1zm3 0zm1 0zm2-2zm-6-1zm4 0zm1 0zm1 0zm-7-1zm4 0zm3 0zm-5-1zm-1-1zm4 0zm1 0zm-6-1zm2 0zm2 0zm1 0zm-5-1zm1 0zm2 0zm2 0zm2 0zm-5-1zm1 0zm2 0zm1 0zm-2-1zm3 0zm-7-1zm2-1zm0-1zm1 0zm2 0zm1 0zm1 0zm-7-1zm2 0zm1 0zm1 0zm-3-1zm5 0zm-5-1zm-1-1zm3 0zm4 0zm-5-1zm3 0zm2 0zm-5-1zm4 0zm-6-1zm1 0zm6-1zm-7-1zm3 0zm-1-1zm4 0zm-6-1zm3 0zm1-1zm3 0zm-4-1zm1 0zm-3-1zm2 0zm1 0zm-1-1zm2 0zm-3-1zm1 0zm3 0zm-6-1zm0-1zm1 0zm1 0zm2 0zm-3-1zm0-2zm5 0zm0-1zm1 0zm7-6zm-1 1zm-3 1zm5 0zm-1 1zm1 0zm0 1zm-7 1zm5 0zm-5 1zm2 0zm1 0zm2 0zm-2 1zm3 0zm-4 1zm3 0zm-5 1zm6 0zm-6 1zm2 0zm4 0zm1 0zm-7 1zm2 0zm1 0zm4 0zm-1 2zm-6 1zm6 0zm-1 1zm2 0zm-4 1zm-3 1zm1 0zm2 0zm2 0zm-5 1zm3 0zm2 0zm1 0zm-4 1zm1 0zm2 0zm-4 1zm5 0zm1 0zm-7 1zm7 0zm-6 2zm2 0zm4 0zm-1 1zm-5 1zm4 0zm2 0zm-2 1zm2 0zm-6 1zm1 0zm3 0zm-2 1zm1 0zm2 0zm-5 1zm1 0zm3 0zm-3 1zm1 0zm2 0zm-5 1zm3 0zm-2 1zm3 0zm-2 1zm3 1zm2 0zm-6 1zm1 0zm2 0zm-3 1zm3 0zm-2 1zm4 0zm-6 1zm2 0zm2 0zm2 1zm-1 1zm1 0zm-4 2zm1 0zm1 0zm1 0zm1 0zm-4 1zm1 1zm1 0zm3 0zm-6 1zm2 0zm-1 1zm3 0zm1 0zm-6 1zm3 0zm2 0zm-4 1zm6 0zm-6 1zm2 0zm3 0zm1 0zm-7 1zm5 0zm-4 1zm3 0zm-2 1zm2 0zm-4 1zm4 0zm1 0zm-4 1zm1 0zm-2 1zm3 0zm1 0zm3 0zm-5 1zm4 0zm1 0zm-4 2zm4 0zm-2 1zm-4 1zm-1 1zm1 0zm5 0zm-5 1zm1 1zm1 0zm3 0zm1 0zm-6 1zm2 0zm1 1zm3 0zm-7 1zm6 0zm-3 1zm4 0zm-6 1zm6 0zm-1 1zm-5 1zm3 0zm1 0zm2 0zm-7 1zm5 0zm2 0zm-7 1zm1 0zm3 0zm2 0zm1 0zm-2 1zm-5 1zm3 0zm1 0zm-3 1zm2 0zm-1 1zm4 0zm-4 1zm1 0zm4 0zm-2 2zm2 0zm-2 1zm1 0zm1 0zm-7 1zm2 0zm4 0zm1 0zm-3 1zm3 0zm-4 2zm9 0zm-4-3zm5 0zm1 0zm1 0zm-5-1zm-1-1zm5 0zm1 0zm-6-1zm3 0zm0-1zm-3-2zm3 0zm-3-2zm-1-1zm4 0zm0-1zm-1-1zm4 0zm-3-1zm3 0zm-6-1zm3 0zm2 0zm-6-1zm1 0zm2 0zm4 0zm-7-1zm5-1zm1 0zm-4-1zm-1-1zm1 0zm3 0zm-5-1zm1 0zm2 0zm3 0zm-5-1zm2 0zm2 0zm-2-1zm0-1zm3 0zm-6-1zm2 0zm4 0zm-6-1zm4 0zm2 0zm1 0zm-2-1zm2 0zm-6-1zm3 0zm-4-1zm4 0zm-1-1zm3 0zm-6-1zm1 0zm3 0zm2 0zm1 0zm-7-1zm6 0zm-5-1zm3 0zm3 0zm-6-1zm-1-2zm6 0zm1 0zm-7-1zm1 0zm1 0zm-2-1zm2 0zm4 0zm1 0zm-5-1zm1 0zm1 0zm3 0zm-3-1zm2 0zm1 0zm-2-1zm-4-1zm2 0zm4 0zm-6-1zm2 0zm-1-1zm1 0zm1 0zm-4-1zm1 0zm0-1zm-1-1zm3 0zm1 0zm2 0zm-3-2zm3 0zm-5-2zm1 0zm1 0zm1 0zm-4-1zm3 0zm2 0zm-4-1zm2 0zm2 0zm2-1zm-3-1zm3 0zm-5-1zm3 0zm-1-2zm1 0zm-4-2zm6 0zm-5-1zm1 0zm-3-1zm2 0zm2 0zm1 0zm2 0zm-4-1zm1 0zm2 0zm1 0zm-7-1zm1 0zm5 0zm-5-1zm1 0zm0-2zm1 0zm2 0zm1 0zm-5-1zm1 0zm1 0zm1 0zm1 0zm-5-1zm4 0zm2 0zm-2-1zm1 0zm1 0zm-6-1zm3 0zm1 0zm3 0zm-1-1zm-4-1zm5 0zm-2-1zm-5-1zm3 0zm4 0zm-6-1zm2 0zm1-1zm2 0zm1 0zm-5-1zm3 0zm1 0zm-2-1zm-2-1zm3 0zm2 0zm-7-1zm5 0zm-5-1zm2 0zm1 0zm2 0zm-2-1zm1-1zm3 0zm-3-1zm3 0zm0-5zm6-1zm1 1zm1 0zm-3 1zm1 0zm-3 1zm5 0zm-5 1zm1 0zm-3 1zm4 0zm3 1zm-4 1zm1 1zm3 0zm0 1zm0 2zm-6 1zm4 0zm2 0zm-3 1zm1 0zm2 0zm-3 1zm2 0zm-6 1zm5 0zm-4 2zm2 0zm-3 1zm4 0zm3 0zm-4 1zm3 0zm-4 1zm2 0zm1 0zm-1 1zm1 0zm1 0zm1 1zm-3 1zm1 0zm2 0zm-3 1zm0 1zm-2 1zm2 0zm-2 1zm4 0zm-6 1zm5 0zm-1 2zm2 0zm-3 1zm1 0zm-3 1zm2 0zm-1 1zm-2 2zm5 0zm-5 2zm2 0zm3 0zm1 0zm-4 1zm2 0zm1 0zm-1 1zm2 0zm-5 1zm1 0zm2 0zm3 1zm-4 1zm2 0zm2 0zm-6 1zm2 0zm1 0zm1 1zm1 0zm-6 2zm3 0zm2 0zm-3 1zm-1 1zm2 0zm1 0zm2 0zm1 0zm-7 1zm2 1zm2 0zm-4 1zm1 0zm1 0zm1 0zm3 0zm-3 1zm2 1zm2 0zm-7 2zm6 0zm-2 1zm1 0zm1 0zm-1 1zm2 0zm-6 1zm1 0zm-2 1zm2 1zm5 0zm-1 1zm-5 1zm1 0zm1 0zm1 0zm-4 1zm3 0zm2 0zm-4 1zm5 0zm-4 1zm4 0zm-6 1zm4 0zm3 0zm-7 1zm4 0zm2 0zm-5 1zm5 0zm-3 1zm1 0zm1 0zm-4 2zm5 0zm1 0zm-6 1zm6 0zm-7 1zm3 0zm4 0zm-4 1zm1 0zm3 0zm-6 1zm1 0zm4 0zm-6 1zm6 0zm1 0zm-7 2zm3 0zm2 0zm1 0zm-6 1zm0 1zm5 1zm-2 1zm1 0zm2 0zm-3 1zm2 0zm0 1zm1 0zm0 2zm-3 1zm-3 2zm0 3zm10-6zm2 0zm1-3zm-2-2zm-2-1zm2 0zm3 0zm-5-1zm4 0zm-4-1zm1 0zm1 0zm0-1zm4 0zm-3-1zm1 0zm1 0zm1 0zm-6-1zm-1-1zm3 0zm-3-1zm3 0zm1-1zm1 0zm-3-1zm-1-1zm3 0zm1 0zm1 0zm-6-2zm2 0zm1 0zm-1-1zm1-1zm2 0zm-3-1zm3 0zm2 0zm-6-1zm3 0zm-4-1zm3 0zm-1-1zm5 0zm-4-1zm-2-1zm4 0zm2 0zm-6-1zm5 0zm-6-1zm3 0zm1-1zm-1-2zm3 0zm-5-1zm2 0zm-2-1zm2 0zm1 0zm2 0zm-5-1zm2 0zm1 0zm-4-1zm1 0zm3 0zm1 0zm2 0zm-7-1zm1 0zm3 0zm-3-2zm4 0zm-4-1zm2-1zm3 0zm-6-1zm4 0zm-3-1zm1 0zm-1-2zm6 0zm-6-1zm3 0zm2 0zm-4-1zm1 0zm2 0zm-4-1zm1 0zm4 0zm-6-1zm5 0zm2 0zm-4-1zm1 0zm1 0zm-5-1zm1-1zm1-1zm3 0zm1 0zm-1-1zm1 0zm-6-1zm5 0zm2 0zm-7-1zm1 0zm0-1zm3 0zm3 0zm-1-1zm1 0zm-5-1zm1 0zm3 0zm-4-1zm1 0zm3 0zm1 0zm-6-1zm1 0zm2 0zm1 0zm2 0zm-7-1zm1 0zm1 0zm1 0zm2 0zm1 0zm1 0zm-1-1zm-4-1zm5-1zm-3-1zm-2-1zm2 0zm2 0zm1 0zm-7-1zm5 0zm1 0zm1 0zm-7-1zm2 0zm2-1zm1 0zm-1-1zm3 0zm-2-2zm1 0zm-4-1zm5 0zm-6-1zm1 0zm3 0zm1 0zm-6-1zm3-1zm4 0zm0-1zm-6-1zm1 0zm0-1zm1 0zm1 0zm-4-1zm1 0zm6 0zm-6-1zm3 0zm1 0zm-3-1zm2 0zm-4-2zm1 0zm1-1zm8 2zm0 1zm0 1zm1 1zm4 0zm-7 2zm3 0zm1 0zm1 0zm-2 1zm-3 1zm2 0zm4 1zm-1 1zm2 0zm-6 1zm3 0zm2 0zm-5 1zm-1 1zm1 0zm2 0zm1 0zm-2 2zm2 0zm-1 1zm2 0zm-5 1zm7 0zm-5 1zm2 0zm2 0zm-6 1zm1 1zm3 0zm3 0zm-7 1zm3 0zm4 0zm-4 2zm4 0zm-6 1zm5 0zm-2 1zm1 0zm-4 1zm2 0zm1 0zm3 1zm0 1zm-7 1zm2 0zm3 0zm1 0zm-5 1zm2 0zm1 0zm3 0zm-7 1zm1 0zm2 0zm4 0zm-3 1zm1 0zm-1 1zm1 0zm-2 1zm4 1zm-6 1zm6 0zm-4 1zm1 0zm1 0zm1 0zm-6 1zm2 0zm1 0zm-2 1zm1 0zm1 0zm-1 1zm2 0zm2 0zm1 0zm-7 1zm4 0zm2 0zm-5 1zm1 0zm-2 1zm2 0zm4 1zm-6 1zm3 2zm-1 1zm3 0zm-5 1zm3 0zm4 0zm-6 1zm2 0zm2 0zm-5 1zm1 0zm2 0zm3 0zm1 0zm-7 1zm4 0zm-3 1zm1 0zm0 1zm1 0zm2 0zm-4 1zm1 0zm2 2zm2 0zm-4 1zm2 0zm1 0zm2 0zm-7 1zm2 0zm4 0zm-6 1zm4 0zm1 0zm1 0zm-5 1zm3 0zm3 1zm-3 1zm-3 1zm4 0zm2 0zm-3 1zm1 0zm-4 2zm3 0zm1 0zm1 0zm-6 1zm3 0zm3 0zm-4 1zm4 0zm-4 1zm3 0zm1 0zm-4 1zm5 0zm-7 1zm2 0zm5 0zm-5 1zm-2 1zm3 0zm2 0zm-5 1zm1 0zm1 0zm2 1zm-3 1zm3 1zm5-3zm-1-2zm4 0zm-2-1zm1 0zm2 0zm-3-2zm2 0zm-2-1zm0-1zm1 0zm4-1zm-4-1zm-1-1zm1 0zm1 0zm0-1zm1 0zm1 0zm1 0zm-3-1zm1 0zm2 0zm-6-1zm1 0zm1 0zm0-1zm1 0zm2 0zm1 0zm-7-3zm7 0zm-7-1zm5 0zm-3-1zm2 0zm-2-1zm1 0zm2-1zm-5-1zm7 0zm-7-1zm4-1zm1 0zm2 0zm-5-1zm4 0zm1 0zm-7-1zm1 0zm6 0zm-7-1zm2 0zm2 0zm1 0zm-4-1zm5 0zm-5-1zm-1-1zm3 0zm2 0zm-4-1zm5 0zm1 0zm-1-1zm1 0zm-4-1zm3 0zm-5-1zm6 0zm-7-1zm1 0zm-1-1zm2 0zm2 0zm2 0zm-5-1zm1 0zm1 0zm1 0zm3 0zm-7-1zm5 0zm1 0zm-3-1zm4 0zm-7-1zm7 0zm-4-1zm4 0zm-7-1zm5 0zm1 0zm1 0zm0-1zm-4-1zm4 0zm-7-2zm3 0zm3 0zm-2-1zm1 0zm-1-1zm-4-1zm6 0zm-6-1zm5 0zm2 0zm-7-1zm6 0zm-2-1zm-2-1zm1 0zm3 0zm-6-1zm1 0zm1 0zm1 0zm-2-1zm-1-1zm6 0zm-5-1zm2 0zm3 0zm-6-1zm2 0zm5 0zm-5-1zm3 0zm-4-1zm-1-1zm4 0zm-4-1zm3 0zm1 0zm3 0zm-7-1zm5 0zm-4-1zm1 0zm5 0zm-7-1zm1 0zm1 0zm1 0zm1 0zm1 0zm1 0zm1 0zm-6-3zm1 0zm1 0zm-1-1zm7 2zm3 2zm1 0zm1 0zm-2 1zm-1 1zm1 0zm1 0zm-5 1zm3 0zm1 1zm1 0zm1 0zm1 0zm-5 1zm4 0zm-3 1zm3 1zm-5 1zm5 0zm1 0zm-4 1zm1 0zm2 0zm-6 1zm3 0zm0 1zm3 0zm-4 1zm4 0zm-5 1zm3 0zm-4 1zm4 0zm3 0zm0 1zm-7 1zm2 0zm3 1zm-5 2zm5 0zm-2 2zm2 0zm2 0zm-5 1zm1 0zm4 0zm-6 1zm2 0zm2 0zm-3 1zm2 0zm3 0zm-4 1zm1 0zm-2 1zm2 0zm-3 1zm2 0zm2 1zm2 0zm-7 1zm4 2zm-4 1zm3 1zm3 0zm-4 1zm1 0zm3 1zm1 0zm-7 2zm1 0zm2 0zm1 0zm2 0zm-5 1zm2 0zm1 0zm-4 1zm3 1zm2 0zm1 0zm-3 1zm1 0zm1 0zm-1 1zm3 0zm-4 1zm3 0zm-4 1zm0 1zm2 0zm1 0zm-4 1zm1 0zm2 0zm3 0zm-1 1zm1 0zm-3 1zm-4 1zm1 0zm2 0zm1 0zm-3 1zm1 0zm2 0zm3 0zm-4 1zm4 1zm-6 1zm1 0zm2 0zm-3 2zm1 0zm3 0zm-3 1zm5 0zm-7 1zm7 0zm-3 1zm2 0zm-3 4zm2 0zm3-2zm4-1zm1 0zm2-2zm-7-1zm2 0zm-1-1zm1-1zm1 0zm2 0zm-5-1zm7-1zm-1-2zm-5-1zm3 0zm3 0zm-7-1zm3 0zm-3-1zm7 0zm-6-1zm2 0zm2 0zm-4-1zm2 0zm-3-1zm3 0zm1 0zm0-1zm1 0zm-5-1zm3 0zm3 0zm1 0zm-7-1zm2 0zm-2-2zm3 0zm-2-1zm2 0zm2 0zm2 0zm-6-1zm1 0zm2 0zm1-1zm0-1zm-2-1zm1 0zm1 0zm-5-1zm6-1zm-3-2zm2 0zm-4-1zm1 0zm2 0zm2-1zm1 0zm-7-1zm7 0zm-6-1zm6 0zm-4-1zm-2-1zm3 0zm2 0zm-6-1zm2 0zm3 0zm2 0zm-4-1zm-2-1zm1 0zm2 0zm-3-1zm2 0zm1 0zm2-2zm1-1zm-6-1zm1 0zm1 0zm4 0zm-7-1zm6 0zm1 0zm-3-1zm-4-1zm4 0zm1 0zm-4-1zm2 0zm4 0zm-7-1zm0-2zm2-1zm5 0zm-5-2zm-2-1zm3 0zm6-3zm0 5zm2 0zm-2 1zm1 0zm3 0zm-4 4zm2 0zm1 0zm-4 1zm1 0zm3 0zm-4 3zm4 0zm-4 1zm2 0zm2 0zm-4 1zm2 0zm3 0zm2 0zm-6 1zm6 0zm0 1zm-3 2zm1 0zm-2 1zm2 2zm1 0zm1 0zm-6 1zm2 0zm2 0zm1 1zm-6 1zm2 1zm2 0zm1 0zm-2 1zm2 0zm-4 1zm4 0zm-3 1zm4 0zm-5 1zm2 0zm1 0zm2 0zm-1 1zm2 0zm-7 1zm4 0zm-3 1zm2 0zm-3 1zm1 0zm1 0zm0 1zm1 0zm3 0zm-4 1zm4 0zm1 0zm-6 1zm1 0zm1 0zm-3 1zm1 0zm3 0zm1 0zm-1 1zm2 0zm-5 1zm0 2zm2 0zm-2 1zm1 0zm1 0zm0 1zm-3 3zm3 2zm3 0zm-5 1zm3 0zm1 0zm-5 1zm7 0zm-6 1zm3 0zm0 1zm-3 2zm1 0zm-2 2zm14-2zm-6-1zm0-4zm3-1zm-1-1zm5 0zm-2-1zm1 0zm1 0zm-7-1zm3 0zm1 0zm1-1zm1 0zm1 0zm-5-1zm-2-1zm4 0zm1 0zm-3-1zm4 0zm1 0zm-7-1zm7 0zm-1-1zm1 0zm0-1zm-4-1zm2 0zm1 0zm-5-1zm3 0zm1-1zm1 0zm-4-1zm4 0zm-6-1zm7 0zm-7-1zm3 0zm1-1zm-2-1zm2 0zm-3-1zm3 0zm2 0zm-6-1zm4-1zm2 0zm-2-2zm2 0zm-6-1zm2 0zm4 0zm-1-1zm-5-1zm5 0zm-4-1zm1 0zm2 0zm2 0zm-3-1zm2 0zm1 0zm-6-1zm0-1zm3 0zm1 0zm1 0zm0-1zm1 0zm-3-1zm-1-1zm3 0zm1-1zm-2-1zm-3-1zm0-1zm10 2zm0 1zm-2 2zm0 2zm-1 3zm6 1zm-6 1zm1 0zm1 0zm4 0zm0 2zm-5 1zm2 0zm2 0zm-3 1zm3 0zm2 0zm-3 1zm3 0zm-3 1zm2 0zm-2 1zm2 0zm-5 1zm2 0zm2 1zm1 0zm1 0zm-5 1zm3 0zm-2 1zm2 0zm2 0zm-3 1zm3 0zm-7 3zm3 0zm3 1zm-4 1zm2 0zm1 0zm-1 1zm1 0zm1 0zm1 0zm-7 1zm1 0zm1 1zm2 0zm1 0zm-5 1zm2 0zm2 0zm2 0zm-3 1zm1 0zm3 0zm-6 1zm1 0zm2 0zm2 0zm-3 1zm2 0zm-4 1zm2 0zm2 0zm-5 1zm5 1zm-5 1zm1 0zm0 1zm6 0zm1-2zm1-1zm2-1zm0-1zm2 0zm0-1zm2 0zm-7-1zm4 0zm1 0zm1 0zm-6-1zm1 0zm0-1zm3 0zm0-3zm-2-1zm0-1zm2 0zm-3-1zm2 0zm1 0zm2 0zm1 0zm-6-1zm2 0zm1 0zm3 0zm-5-1zm3 0zm1 0zm-3-1zm3 0zm-5-1zm4 0zm-5-1zm2 0zm1 0zm-3-1zm3 0zm2-1zm1 0zm-4-1zm2 0zm-4-1zm5-5zm-4-1zm11 10zm-4 1zm0 3zm1 0zm3 0zm-4 1zm5 0zm2 0zm-7 2zm3 0zm1 0zm-4 1zm0 2zm1 0zm2 0zm1 0zm2 0zm-5 1zm1 0zm5 0zm-2 1zm-3 1zm2 1zm-3 1zm6 0zm-7 2zm11-3zm-3-1zm1-1zm1-1zm-1-1zm-1-6z" stroke="#DCE9F6" stroke-width="3.2" stroke-opacity="0.85"/><path d="M414 3210zm1-1zm-1-3zm-2-4zm2-1zm1-4zm-7-1zm7 0zm-2-1zm-3-3zm1-1zm2-1zm-2-1zm3-1zm1 0zm-5-1zm5 0zm-7-1zm4-2zm6 1zm-2 2zm5 0zm-4 1zm1 0zm3 4zm0 1zm1 0zm-5 1zm1 1zm-2 2zm7 0zm-7 1zm1 0zm1 0zm5 2zm-5 1zm-1 3zm5 0zm-5 1zm5 1zm-3 2zm3 0zm-6 1zm5 0zm2 0zm0 8zm7 12zm-1-1zm-3-3zm4 0zm0-1zm-4-2zm0-1zm4-2zm-3-1zm-3-2zm4 0zm-4-2zm3 0zm-1-1zm3 0zm-4-3zm2 0zm0-1zm3-1zm-6-1zm6-2zm-6-1zm1 0zm5-1zm-3-1zm4 0zm-4-3zm1-3zm-1-2zm2-2zm-5-2zm4 0zm-2-1zm5 0zm-7-1zm3-1zm7 3zm0 1zm2 2zm-4 1zm7 1zm-1 1zm-5 2zm3 0zm2 0zm-3 1zm2 1zm-2 2zm1 0zm-4 1zm3 0zm-1 2zm4 1zm-3 1zm-2 3zm5 0zm-2 1zm-3 1zm2 0zm3 0zm0 1zm1 2zm-5 2zm2 0zm3 1zm-5 2zm-2 1zm3 0zm3 1zm-3 2zm3 1zm-4 2zm2 0zm2 0zm-2 1zm-3 1zm0 7zm7-6zm1-2zm1-3zm-2-3zm2-2zm1 0zm2-1zm1 0zm-6-2zm2-2zm0-1zm1 0zm0-1zm3 0zm-5-1zm3 0zm-2-2zm3 0zm0-1zm-1-1zm-4-1zm3-2zm3 0zm-2-1zm-4-2zm3 0zm0-1zm0-1zm3-2zm-4-3zm4-1zm8 1zm0 2zm-5 1zm1 0zm-2 1zm3 0zm0 2zm-3 2zm1 0zm5 0zm1 0zm-1 1zm-6 1zm5 0zm-2 1zm-1 7zm6-11zm0-4z" stroke="#DCE9F6" stroke-width="3.2" stroke-opacity="0.7"/><path d="M327 3189zm0 1zm-2 1zm2 0zm-1 2zm8 21zm1 0zm-1-1zm-1-2zm2-2zm-2-1zm-3-1zm5 0zm0-1zm-3-1zm1-1zm1 0zm1 0zm-3-1zm2 0zm-1-1zm-2-1zm4 0zm-2-1zm1 0zm-2-1zm0-1zm1 0zm1 0zm-1-1zm0-1zm-3-1zm1 0zm2 0zm-5-1zm2 0zm1 0zm1 0zm3 0zm-5-1zm2 0zm2 0zm1 0zm-2-1zm2 0zm-6-1zm4 0zm-2-1zm3 0zm-3-2zm2 0zm1 0zm0-1zm-1-1zm-1-2zm8-4zm3 0zm-5 2zm-1 1zm2 1zm1 0zm1 0zm2 0zm-4 1zm1 0zm1 0zm2 0zm-5 1zm-2 1zm1 1zm2 0zm1 0zm2 0zm-6 1zm2 0zm-1 1zm5 0zm1 0zm-7 2zm1 0zm5 0zm1 0zm-5 1zm1 0zm2 0zm-4 1zm3 0zm1 0zm-4 1zm1 0zm2 0zm1 0zm1 0zm-6 1zm1 0zm3 0zm3 0zm-6 1zm1 0zm2 0zm1 0zm-5 1zm1 0zm3 0zm1 0zm1 0zm1 0zm-6 1zm6 0zm-7 1zm2 0zm3 0zm-5 1zm0 1zm2 0zm-2 1zm1 0zm1 0zm2 1zm1 0zm1 1zm1 0zm-7 1zm4 0zm2 1zm1 0zm-7 1zm3 0zm3 0zm1 0zm-6 1zm3 0zm2 0zm1 0zm-7 1zm1 0zm4 0zm1 0zm1 0zm-4 1zm2 0zm1 0zm-1 1zm-5 1zm2 0zm1 0zm1 2zm2 0zm1 0zm-7 1zm0 1zm2 0zm2 0zm1 0zm1 1zm1 0zm0 1zm-2 1zm2 0zm-2 1zm1 8zm9-1zm-4-1zm4 0zm-3-1zm-3-1zm4 0zm2 0zm-5-1zm-2-1zm1 0zm4 0zm-4-1zm1 0zm1 0zm3 0zm-5-1zm2 0zm2 0zm-4-1zm4 0zm-1-1zm1 0zm1 0zm1 0zm-6-1zm5 0zm1 0zm-5-1zm2 0zm2 0zm-4-1zm2 0zm1 0zm1 0zm-6-1zm3 0zm1 0zm1 0zm-3-1zm3 0zm-5-1zm3 0zm1 0zm-2-1zm2 0zm-3-1zm2 0zm1 0zm-3-1zm4 0zm1 0zm-1-1zm-1-1zm-4-1zm1 0zm3 0zm1 0zm1 0zm1 0zm-7-1zm0-1zm3 0zm2 0zm1 0zm-3-1zm2 0zm-5-1zm7 0zm-6-1zm1 0zm2 0zm2 0zm-4-1zm1 0zm1 0zm-4-1zm2 0zm1 0zm3 0zm1 0zm-7-1zm1 0zm3 0zm3 0zm-4-1zm3 0zm-3-1zm1 0zm3 0zm-5-1zm-1-1zm1 0zm5 0zm-5-1zm1 0zm2 0zm1 0zm-3-1zm2 0zm1 0zm1 0zm-4-1zm3 0zm-5-1zm4 0zm-4-1zm2 0zm3 0zm1 0zm-2-1zm1 0zm1 0zm-7-1zm4 0zm-4-1zm1 0zm5 0zm-6-1zm1 0zm4 0zm2 0zm-7-1zm2 0zm2 0zm-4-1zm7 0zm-6-1zm3 0zm2 0zm-5-1zm3 0zm-4-1zm3 0zm3 0zm1 0zm-2-1zm-5-1zm3-1zm2-2zm2 0zm6-1zm-1 2zm2 0zm-6 1zm4 0zm1 0zm1 1zm-6 1zm2 0zm2 0zm-4 1zm3 0zm2 0zm2 0zm-7 1zm4 0zm-3 1zm5 0zm-3 1zm2 1zm1 0zm1 0zm-7 1zm1 0zm2 0zm4 0zm-7 2zm2 0zm1 0zm3 0zm-5 1zm2 0zm2 0zm1 0zm-5 1zm1 0zm1 0zm1 0zm2 0zm-3 1zm2 0zm1 1zm-6 1zm1 0zm3 0zm1 0zm-2 1zm2 0zm-3 1zm1 0zm3 0zm-6 1zm1 0zm2 0zm3 0zm-5 1zm1 0zm2 0zm2 0zm1 0zm-6 1zm5 0zm-6 1zm2 0zm2 0zm3 0zm-5 1zm1 0zm2 0zm-4 1zm1 0zm1 0zm2 0zm-5 1zm0 1zm1 0zm2 0zm-3 1zm1 0zm-1 1zm1 0zm1 0zm2 0zm-2 1zm3 0zm2 0zm-7 1zm1 1zm3 0zm1 0zm1 0zm-6 2zm1 0zm4 0zm-5 2zm2 0zm4 0zm-6 1zm7 0zm-5 1zm3 0zm1 0zm-4 1zm1 0zm2 0zm1 0zm1 0zm0 1zm-1 1zm-5 1zm4 0zm-4 1zm1 0zm1 0zm1 0zm1 0zm-2 1zm1 0zm1 0zm-3 1zm4 0zm1 0zm-6 1zm4 0zm-5 1zm2 0zm3 0zm-5 1zm1 0zm0 1zm3 0zm3 0zm-4 1zm1 0zm2 0zm1 0zm-7 1zm2 1zm3 0zm-4 1zm3 0zm-1 1zm1 0zm2 0zm-4 1zm2 0zm3 0zm-5 1zm5 0zm-1 2zm-4 1zm5 0zm-3 2zm3 0zm-1 1zm0 3zm9 3zm-1-1zm-5-1zm6 0zm-4-1zm2 0zm-3-1zm1 0zm2 0zm2 0zm-3-1zm-4-1zm2 0zm1 0zm-3-1zm5 0zm2 0zm-7-1zm1 0zm4 0zm-3-1zm2 0zm1 0zm-5-1zm1 0zm2 0zm2 0zm1 0zm-4-1zm1 0zm-2-1zm1 0zm-1-1zm1 0zm4 0zm1 0zm-6-1zm6 0zm-6-1zm1 0zm2 0zm2 0zm1 0zm-4-1zm2 0zm1 0zm1 0zm-7-1zm5 0zm1 0zm0-1zm-3-1zm1 0zm3 0zm-7-1zm2 0zm-1-1zm1 0zm3 0zm1 0zm-5-1zm4 0zm2 0zm-6-1zm1 0zm1 0zm1 0zm1 0zm1 0zm-5-1zm1 0zm2 0zm1 0zm-5-1zm1 0zm2 0zm-1-1zm1 0zm2 0zm-5-1zm2 0zm1 0zm1 0zm-2-1zm5 0zm-7-2zm4 0zm-4-1zm1 0zm5 0zm-3-1zm3 0zm-6-1zm2 0zm3 0zm-4-1zm1-1zm1 0zm1 0zm2 0zm-5-1zm-1-1zm2 0zm1 0zm3 0zm-4-1zm2 0zm1 0zm2 0zm-6-1zm2 0zm4 0zm-3-1zm-3-1zm1 0zm3 0zm1 0zm-3-1zm2 0zm-3-1zm4 0zm1 0zm-7-2zm3 0zm-3-1zm3 0zm1 0zm1 0zm-5-1zm0-1zm2 0zm-2-1zm1 0zm2 0zm2 0zm0-1zm-2-1zm2-1zm-5-1zm4 0zm-3-1zm4 0zm2 0zm-7-1zm1 0zm2 0zm2 0zm-4-1zm5 0zm1 0zm-5-1zm1 0zm2 0zm2 0zm-7-1zm2 0zm5 0zm-6-1zm1 0zm3 0zm1 0zm1 0zm-7-1zm1 0zm2 0zm1 0zm2 0zm-4-1zm5 0zm-5-1zm1 0zm4 0zm-3-1zm1 0zm1 0zm-6-1zm1-1zm3 0zm-2-1zm10 1zm-2 1zm2 0zm1 1zm1 0zm1 0zm-7 1zm2 0zm3 0zm1 0zm-3 1zm3 0zm-4 1zm2 0zm1 0zm-2 1zm1 0zm2 0zm-6 1zm4 0zm1 0zm1 0zm-5 1zm2 0zm1 0zm1 0zm1 0zm1 0zm-7 1zm4 0zm1 0zm1 0zm-6 1zm2 0zm4 0zm1 0zm-6 1zm2 1zm1 0zm1 0zm2 0zm-6 1zm1 0zm1 0zm3 0zm1 0zm-5 1zm1 0zm3 0zm1 0zm-7 1zm1 0zm2 0zm1 0zm-2 1zm2 0zm1 0zm-5 1zm6 0zm1 0zm-7 1zm3 0zm2 0zm2 0zm-6 1zm1 0zm3 0zm-5 1zm1 0zm2 0zm3 0zm1 0zm-6 1zm2 0zm0 1zm3 0zm-6 1zm2 0zm2 0zm1 0zm1 0zm-6 1zm1 0zm4 0zm1 0zm-4 1zm2 0zm0 1zm1 0zm1 0zm-6 1zm1 0zm1 0zm1 0zm1 0zm1 0zm-5 1zm2 0zm2 0zm1 0zm2 0zm-6 1zm4 0zm2 0zm-5 1zm1 0zm4 0zm-6 1zm1 0zm1 0zm2 0zm-5 1zm4 0zm1 0zm1 0zm1 0zm-6 1zm2 0zm1 0zm2 0zm1 0zm-7 1zm2 0zm1 0zm1 0zm-4 1zm3 0zm-1 1zm1 0zm3 0zm1 0zm-3 1zm1 0zm2 0zm-7 1zm2 0zm3 0zm-1 1zm2 0zm-4 1zm1 0zm-1 1zm1 0zm1 0zm-2 1zm4 0zm-5 1zm2 0zm1 0zm1 0zm-5 1zm4 0zm-3 1zm2 0zm3 0zm1 0zm-7 1zm3 0zm3 0zm-4 1zm2 0zm1 0zm2 0zm-7 1zm1 0zm2 0zm2 1zm0 1zm2 0zm-4 1zm2 0zm1 0zm-6 1zm1 0zm1 0zm5 0zm-7 1zm3 0zm2 0zm-4 1zm1 0zm-2 1zm3 0zm1 0zm2 0zm1 0zm-6 1zm2 0zm2 0zm-3 2zm1 0zm1 0zm3 0zm-7 1zm3 0zm1 0zm1 0zm2 0zm-7 1zm2 0zm-1 1zm1 0zm1 0zm-2 1zm6 0zm-7 1zm1 0zm1 0zm1 0zm4 0zm-6 1zm3 0zm2 0zm-5 1zm2 0zm-1 1zm2 0zm1 0zm1 0zm-3 1zm1 0zm-4 1zm6 1zm0 1zm0 1zm1 0zm-2 1zm2 1zm0 2zm8 12zm-1-5zm0-3zm-1-1zm1 0zm-2-1zm3-1zm-4-1zm3 0zm-6-1zm3 0zm4 0zm0-1zm-2-1zm1 0zm1 0zm-7-1zm3 0zm1 0zm1-1zm1 0zm1 0zm-3-1zm1 0zm-4-1zm1 0zm1 0zm2 0zm2 0zm-7-1zm1 0zm3 0zm3 0zm-7-1zm3 0zm2 0zm2 0zm-6-1zm4 0zm-5-1zm3 0zm2 0zm1 0zm-5-1zm3 0zm1 0zm2 0zm-6-1zm2 0zm2 0zm-5-1zm2 0zm1 0zm3 0zm1 0zm-7-1zm2 0zm1 0zm-1-1zm3 0zm2 0zm-7-1zm2 0zm1 0zm2 0zm1 0zm-2-1zm2 0zm-2-1zm1 0zm2 0zm-7-1zm1 0zm2 0zm2 0zm-3-1zm1 0zm4 0zm-5-1zm2 0zm1 0zm1-1zm-4-1zm2 0zm1 0zm1 0zm1 0zm-7-1zm2 0zm2 0zm3 0zm-2-1zm-2-1zm-3-1zm1 0zm2 0zm4 0zm-6-1zm1 0zm2 0zm-3-1zm6 0zm-1-1zm1 0zm-4-1zm1 0zm1 0zm-4-1zm2 0zm3 0zm-6-1zm2 0zm1 0zm2 0zm-3-1zm1 0zm-3-1zm2 0zm4 0zm-5-1zm2 0zm1 0zm1 0zm2 0zm-1-1zm1 0zm-4-1zm1 0zm1 0zm1 0zm1 0zm-7-1zm1 0zm1 0zm1 0zm2 0zm-3-1zm5 0zm-6-1zm3 0zm-4-1zm3 0zm1 0zm3 0zm-7-1zm2 0zm3 0zm-3-1zm2 0zm-1-1zm4 0zm-7-1zm3 0zm1 0zm1 0zm2 0zm-7-1zm4 0zm2 0zm1 0zm-6-1zm1 0zm5 0zm-7-1zm2 0zm1 0zm1 0zm2 0zm1 0zm-6-1zm3 0zm-4-1zm1 0zm4 0zm1 0zm1 0zm-4-2zm-1-1zm4 0zm-1-1zm-3-1zm1 0zm3 0zm1 0zm-1-1zm1 0zm-7-1zm1 0zm2 0zm4 0zm-6-1zm1 0zm1 0zm1 0zm2 0zm-1-1zm1 0zm-3-1zm3 0zm1 0zm0-1zm-7-1zm1 0zm5 0zm-6-1zm1 0zm1 0zm1 0zm-2-1zm2 0zm4 0zm-1-1zm-6-1zm2 0zm2 0zm2 0zm1 0zm-6-1zm2 0zm2 0zm1 0zm-6-1zm2 0zm3 0zm1 0zm-5-1zm-1-1zm4 0zm1 0zm-4-1zm5 0zm0-2zm-6-2zm2-1zm6 5zm1 0zm-1 4zm1 0zm4 0zm-5 1zm1 0zm0 1zm1 0zm1 0zm-2 1zm3 0zm-3 1zm1 1zm3 0zm1 0zm1 0zm-4 1zm-3 1zm1 0zm5 0zm-6 1zm3 0zm3 1zm1 0zm-4 1zm1 0zm2 0zm-2 1zm3 0zm0 1zm-7 1zm2 0zm2 0zm1 0zm-5 1zm2 0zm4 0zm-4 1zm2 0zm3 0zm-7 1zm1 0zm2 0zm1 0zm2 0zm1 0zm-5 1zm5 0zm-7 1zm1 0zm4 0zm1 0zm-6 1zm3 0zm2 0zm-5 1zm2 0zm1 0zm3 0zm-5 1zm2 0zm-2 1zm2 0zm3 0zm-5 1zm3 0zm2 0zm-3 1zm1 0zm-1 1zm2 0zm2 0zm-7 1zm3 0zm1 0zm-3 1zm5 0zm-5 1zm1 1zm3 0zm-2 1zm-3 1zm1 0zm1 0zm-2 1zm5 0zm-3 1zm2 0zm2 0zm1 0zm-1 1zm-3 1zm2 0zm1 0zm-6 1zm2 0zm2 0zm3 0zm-7 1zm2 0zm2 0zm2 0zm-4 1zm2 0zm2 0zm0 1zm-4 1zm2 0zm1 0zm-5 1zm3 0zm2 1zm1 0zm-4 1zm5 0zm-6 1zm-1 1zm3 0zm1 0zm3 0zm-6 1zm3 0zm2 0zm-6 1zm1 0zm2 0zm1 0zm-4 1zm2 0zm2 0zm2 0zm1 0zm-5 1zm1 0zm4 0zm-6 1zm1 1zm2 0zm2 0zm-6 1zm3 0zm1 0zm1 0zm2 0zm-7 1zm1 0zm3 0zm2 0zm-5 1zm3 0zm1 0zm-4 2zm4 0zm-1 1zm-4 1zm5 0zm-4 1zm4 0zm-5 1zm4 0zm-3 1zm1 0zm2 0zm-4 1zm3 0zm1 1zm1 0zm1 0zm-5 1zm3 0zm2 0zm1 0zm-7 1zm3 0zm1 0zm1 0zm2 0zm-7 1zm2 0zm4 0zm1 0zm-6 1zm6 0zm-5 1zm3 0zm2 0zm-6 1zm4 0zm2 0zm-7 1zm1 0zm2 0zm-3 1zm5 0zm2 0zm-3 1zm2 0zm-3 1zm1 0zm-4 1zm3 0zm1 0zm1 0zm2 0zm-2 1zm2 0zm-6 1zm1 0zm4 0zm1 0zm-5 1zm2 0zm1 0zm2 0zm-4 1zm1 0zm1 0zm2 0zm-4 1zm1 0zm2 0zm-4 1zm4 0zm0 2zm6 9zm1-1zm-1-2zm0-1zm-2-1zm2 0zm2 0zm0-1zm-4-1zm1 0zm1 0zm3 0zm-2-1zm-2-1zm1 0zm1 0zm2 0zm-5-1zm1-1zm2 0zm2 0zm-6-1zm3 0zm1 0zm2 0zm-3-1zm2 0zm-6-1zm1 0zm3 0zm-4-1zm4 0zm1 0zm-1-1zm1-1zm-5-1zm1 0zm2 0zm3 0zm1 0zm-7-1zm2 0zm2 0zm1 0zm1 0zm0-1zm1 0zm-7-1zm5 0zm2 0zm-4-1zm1 0zm2 0zm-6-1zm2 0zm1 0zm-2-1zm1 0zm2 0zm2 0zm-3-1zm1 0zm3 0zm-3-1zm3 0zm-7-1zm1 0zm3 0zm1 0zm1 0zm1 0zm-3-1zm1 0zm-5-1zm2 0zm2 0zm1 0zm1 0zm-6-1zm2 0zm2 0zm1 0zm1 0zm-6-1zm2 0zm1 0zm3 0zm-6-1zm1 0zm6 0zm-7-1zm5 0zm1 0zm-4-1zm3 0zm-5-1zm1 0zm1 0zm5 0zm-7-1zm2 0zm3 0zm-3-1zm2 0zm-3-1zm1 0zm2 0zm2 0zm-3-1zm2 0zm-5-1zm2 0zm-1-1zm4 0zm2 0zm-7-1zm1 0zm4 0zm2 0zm-7-1zm1 0zm5 0zm-6-1zm1 0zm5 0zm1 0zm-7-1zm1 0zm3 0zm2 0zm1 0zm-5-1zm3 0zm-5-1zm4 0zm-3-1zm4 0zm-4-1zm2 0zm2 0zm-3-1zm2 0zm1 0zm2 0zm-2-1zm-5-1zm2 0zm1 0zm0-1zm2 0zm-2-1zm3 0zm-6-1zm3 0zm-3-1zm2 0zm-1-1zm4 0zm1 0zm-4-1zm2 0zm1 0zm-3-1zm3 0zm1 0zm-5-1zm6 0zm-6-1zm3 0zm-3-1zm1 0zm-2-1zm7 0zm-7-1zm1 0zm2 0zm1 0zm-4-1zm1 0zm1 0zm-2-1zm2 0zm1 0zm1 0zm1 0zm-5-1zm2 0zm4 0zm-5-1zm2 0zm-2-1zm0-1zm5 0zm-6-1zm6 0zm1 0zm-7-1zm3 0zm3 0zm1 0zm-7-1zm3 0zm1 0zm3 0zm-6-1zm1 0zm5 0zm-3-1zm2 0zm-6-1zm3 0zm2 0zm-2-1zm-2-1zm3 0zm1 0zm-3-1zm2 0zm2 0zm-4-1zm1 0zm4 0zm-7-1zm0-2zm0-1zm4-1zm-4-1zm11 8zm4 0zm-2 1zm-4 1zm2 1zm1 0zm3 0zm-6 1zm1 0zm1 0zm1 0zm1 0zm-3 1zm2 0zm1 0zm1 0zm-6 1zm2 0zm-2 1zm1 0zm2 0zm1 0zm2 0zm-2 1zm1 0zm2 0zm-3 1zm-2 1zm2 0zm1 0zm1 0zm-4 1zm1 0zm-2 1zm1 0zm5 0zm-7 1zm3 0zm3 0zm-3 1zm2 0zm2 0zm-7 1zm1 0zm4 0zm-5 1zm1 0zm1 0zm1 0zm2 0zm1 0zm1 0zm-4 1zm3 0zm-6 1zm1 0zm4 0zm2 0zm-6 1zm2 0zm2 0zm-4 1zm1 0zm2 0zm2 0zm-4 1zm4 0zm-4 1zm4 1zm-5 1zm2 0zm2 0zm-4 1zm2 0zm1 0zm1 0zm1 1zm1 0zm0 1zm-3 1zm-4 1zm7 0zm-6 1zm2 0zm4 0zm-7 1zm1 0zm1 0zm5 0zm-7 1zm2 0zm2 0zm-2 1zm3 0zm1 0zm-6 1zm3 0zm1 0zm2 0zm-5 1zm2 0zm3 0zm1 0zm-6 1zm2 0zm3 0zm1 0zm-4 1zm3 0zm-5 1zm1 0zm2 0zm-4 1zm2 0zm5 0zm-7 1zm1 0zm1 0zm1 0zm1 0zm1 0zm-3 1zm3 0zm2 0zm-1 1zm1 0zm-5 1zm4 0zm1 0zm-5 1zm3 0zm1 0zm-6 1zm5 0zm1 0zm1 0zm-6 1zm4 0zm-4 1zm1 0zm2 0zm1 0zm1 1zm-6 1zm6 0zm1 0zm-7 1zm1 0zm0 2zm1 0zm2 0zm2 0zm-4 1zm2 0zm-4 1zm3 0zm3 0zm1 0zm-6 1zm1 0zm4 0zm-2 1zm3 0zm-7 1zm1 0zm3 0zm3 0zm-3 1zm1 0zm-5 1zm1 0zm2 0zm2 0zm-1 1zm2 0zm1 0zm-6 1zm4 0zm1 0zm1 0zm-2 1zm-5 1zm1 0zm1 0zm1 0zm2 0zm2 0zm-6 1zm3 0zm1 0zm2 0zm-6 1zm3 0zm1 0zm1 0zm1 0zm-6 1zm2 0zm1 0zm1 0zm1 0zm1 0zm-7 1zm4 0zm1 0zm2 0zm-3 1zm-4 1zm3 0zm1 0zm2 0zm-6 1zm1 0zm2 0zm2 0zm2 0zm-6 1zm4 0zm-3 1zm5 0zm-7 2zm1 0zm5 0zm1 0zm-7 1zm1 0zm4 0zm1 0zm0 1zm-6 1zm2 0zm1 0zm2 0zm-3 1zm1 0zm3 0zm1 0zm-7 1zm4 0zm2 2zm-5 1zm2 0zm-2 1zm1 0zm5 0zm-2 1zm1 0zm-1 1zm1 1zm-1 1zm1 0zm1 1zm0 2zm6 8zm1 0zm-2-1zm2 0zm-2-2zm2 0zm-3-1zm0-1zm4 0zm-6-1zm0-1zm4-1zm1 0zm1 0zm-3-1zm1 0zm1 0zm1 0zm-7-1zm3 0zm-2-1zm1 0zm2 0zm1 0zm-3-1zm-1-1zm1 0zm3 0zm-3-1zm1 0zm-3-1zm7 0zm-5-1zm1 0zm1 0zm-3-1zm2 0zm2 0zm2 0zm-5-1zm1 0zm2 0zm-4-2zm1 0zm1 0zm1 0zm2 0zm-4-1zm5 0zm-4-1zm2 0zm-5-1zm5 0zm1 0zm-3-1zm1 0zm3 0zm-5-1zm2 0zm2 0zm-6-1zm2 0zm4 0zm1 0zm-6-1zm2 0zm3 0zm1 0zm-7-1zm5 0zm-5-1zm2 0zm1 0zm1 0zm2 0zm1 0zm-7-1zm1 0zm2 0zm1 0zm1 0zm1 0zm1 0zm-7-1zm1 0zm1 0zm1 0zm1 0zm1 0zm1-1zm-6-1zm1 0zm1 0zm1 0zm1 0zm3 0zm-5-1zm2 0zm1 0zm1 0zm-5-1zm1 0zm3 0zm2 0zm-7-1zm2 0zm1 0zm2 0zm-5-1zm2 0zm5 0zm-6-1zm2 0zm3 0zm1 0zm-7-1zm1 0zm4 0zm2 0zm-4-1zm1 0zm1 0zm1 0zm-6-1zm1 0zm4 0zm-5-1zm2 0zm2 0zm3 0zm-7-1zm2 0zm1 0zm1 0zm1 0zm1 0zm-6-1zm1 0zm1 0zm1 0zm4 0zm-5-1zm2 0zm-4-1zm3 0zm4 0zm-7-1zm1 0zm5 0zm-5-1zm2 0zm2-1zm2 0zm-6-1zm1 0zm1 0zm3 0zm1 0zm-1-1zm-5-1zm1 0zm1 0zm3 0zm-5-1zm1 0zm4 0zm-6-1zm1 0zm4 0zm1 0zm-5-2zm1 0zm-1-1zm2 0zm2 0zm-4-1zm5 0zm1-1zm-6-1zm1 0zm1 0zm1 0zm2 0zm-6-1zm1 0zm1 0zm1 0zm2 0zm-5-1zm2 0zm-1-1zm2 0zm2 0zm1 0zm-5-1zm2 0zm2-1zm1 0zm-6-1zm2 0zm1 0zm1 0zm3 0zm-4-1zm3 0zm1-1zm-3-1zm2 0zm-2-1zm3 0zm0-1zm-6-1zm2 0zm1 0zm1 0zm-3-1zm5 0zm-7-1zm1 0zm2 0zm1 0zm1 0zm1 0zm-6-1zm2 0zm3 0zm1 0zm1 0zm-5-1zm1 0zm3 0zm-5-1zm2 0zm2 0zm1 0zm-6-1zm3 0zm1 0zm3 0zm-3-1zm1 0zm2 0zm-4-1zm1 0zm1 0zm-5-1zm1 0zm4 0zm1 0zm-6-1zm4 0zm1 0zm1 0zm0-1zm-5-1zm3 0zm3 0zm-7-1zm1 0zm1 0zm5 0zm-5-1zm1 0zm2 0zm2 0zm-7-1zm1 0zm1 0zm3 0zm2 0zm-5-1zm1 0zm1 0zm3 0zm-6-1zm1 0zm2 0zm2 0zm-6-1zm1 0zm1 0zm2 0zm-4-1zm1 0zm2 0zm-3-2zm11 3zm0 4zm0 2zm-3 1zm1 0zm3 0zm-4 1zm1 0zm0 1zm1 0zm1 0zm-3 1zm2 0zm-2 1zm1 0zm2 0zm2 0zm-3 1zm1 0zm1 0zm-3 1zm4 0zm-5 1zm1 0zm4 0zm-4 1zm2 0zm1 0zm1 0zm1 0zm1 0zm-7 1zm3 0zm1 0zm-1 1zm2 0zm2 0zm-5 1zm2 0zm1 0zm2 0zm-7 1zm1 0zm2 0zm2 0zm1 0zm-6 1zm1 0zm3 0zm3 0zm-5 1zm1 0zm2 0zm2 0zm-7 1zm5 0zm-5 1zm1 0zm3 0zm2 0zm1 0zm-3 1zm2 0zm1 0zm-7 1zm6 0zm-5 2zm2 0zm2 0zm-5 1zm4 0zm1 0zm-5 1zm3 0zm2 0zm-5 1zm3 0zm2 0zm1 0zm1 0zm-5 1zm1 0zm2 0zm2 0zm-4 1zm1 0zm-4 1zm5 0zm1 0zm-5 1zm1 0zm3 0zm1 0zm-6 1zm4 0zm1 0zm-5 2zm3 0zm2 0zm1 1zm-6 1zm6 0zm-6 1zm2 0zm2 0zm1 0zm2 0zm-5 1zm3 0zm-4 1zm1 0zm1 0zm1 0zm2 0zm1 0zm-7 1zm3 0zm1 0zm1 0zm2 0zm-3 1zm1 0zm1 0zm-5 1zm1 1zm1 0zm1 0zm-4 1zm3 0zm1 0zm1 0zm1 0zm1 0zm-4 1zm1 0zm1 0zm2 0zm-7 1zm4 0zm1 0zm-2 1zm2 0zm1 0zm1 0zm-7 1zm2 0zm2 0zm1 0zm2 0zm-7 1zm0 1zm1 0zm1 0zm1 0zm2 0zm-4 1zm2 0zm1 0zm2 0zm-4 1zm1 0zm3 0zm-5 1zm5 0zm1 0zm-3 1zm1 0zm2 0zm-6 1zm2 0zm1 0zm-3 1zm2 0zm3 0zm-4 1zm1 0zm3 0zm-6 1zm4 0zm1 0zm-5 1zm3 0zm2 1zm-4 1zm3 0zm1 0zm2 0zm-7 1zm6 0zm1 0zm-7 1zm2 0zm3 0zm2 0zm-7 1zm2 0zm1 0zm1 0zm2 0zm-3 1zm2 0zm1 0zm-3 1zm3 0zm-6 1zm3 0zm2 0zm2 0zm-4 1zm2 0zm1 0zm-3 1zm2 0zm-5 1zm5 0zm-5 1zm3 0zm2 0zm1 0zm-6 1zm2 0zm3 0zm2 0zm-7 1zm1 0zm1 0zm2 0zm3 0zm-7 1zm2 0zm1 0zm1 0zm2 0zm-6 1zm2 0zm1 0zm4 0zm-7 1zm1 0zm1 1zm2 0zm3 0zm-6 1zm1 0zm1 0zm3 0zm-4 1zm3 0zm1 0zm-5 1zm1 0zm1 0zm2 0zm1 0zm-6 1zm3 0zm2 0zm-5 1zm5 0zm-5 1zm2 0zm1 0zm3 0zm1 0zm-7 1zm2 0zm2 0zm-4 1zm4 0zm3 0zm-7 1zm2 0zm1 0zm-3 1zm5 0zm0 1zm1 0zm-2 1zm2 0zm1 1zm-6 1zm2 0zm1 0zm1 1zm2 1zm-7 1zm7 0zm-6 1zm3 0zm2 0zm0 1zm0 4zm3 5zm-1-6zm0-2zm3 0zm1 0zm-3-1zm1 0zm-2-1zm1 0zm2 0zm1 0zm0-1zm-4-1zm2 0zm2 0zm-1-1zm1 0zm1-1zm1 0zm1 0zm-3-1zm2 0zm-6-1zm5 0zm1 0zm-5-1zm1 0zm3 0zm-2-1zm3 0zm1 0zm-7-1zm1 0zm3 0zm2 0zm1 0zm-7-1zm3 0zm-3-1zm1 0zm2 0zm1 0zm1 0zm2 0zm-2-1zm2 0zm-6-1zm2 0zm2 0zm1 0zm-3-1zm1 0zm2 0zm-4-1zm2 0zm2 0zm-3-1zm1 0zm1 0zm2 0zm-6-1zm1 0zm2 0zm1 0zm2 0zm-7-1zm1 0zm2 0zm2 0zm1 0zm-2-1zm2 0zm1 0zm-7-1zm2 0zm1 0zm2 0zm1 0zm1 0zm-7-1zm2 0zm3 0zm1 0zm1 0zm-6-1zm2 0zm2 0zm1 0zm-6-1zm4 0zm-4-1zm1 0zm5 0zm-2-1zm-3-1zm3 0zm-2-1zm5 0zm-4-1zm3 0zm1 0zm-6-1zm6 0zm-7-1zm2 0zm2 0zm2 0zm-5-1zm4-1zm1 0zm-1-1zm1 0zm-5-1zm2 0zm2 0zm2 0zm-5-1zm4 0zm-6-1zm1 0zm5 0zm1 0zm-6-3zm1 0zm2 0zm-4-1zm7 0zm-7-1zm1 0zm2 0zm2 0zm1 0zm-5-2zm2 0zm1 0zm2 0zm-5-1zm5 0zm1 0zm-3-1zm1 0zm1 0zm-4-1zm4 0zm1 0zm-5-1zm2 0zm1 0zm1-1zm-5-1zm1 0zm2 0zm-3-1zm5 0zm1 0zm-6-1zm0-1zm1 0zm1 0zm2 0zm2 0zm-4-1zm1 0zm-3-1zm1 0zm1 0zm3 0zm1 0zm-7-1zm1 0zm1 0zm2 0zm2 0zm-2-1zm1 0zm2-1zm-2-1zm2-1zm-7-1zm2 0zm1 0zm2 0zm-5-1zm5 0zm1 0zm-5-1zm5 0zm-6-1zm1 0zm1 0zm2 0zm3 0zm-7-1zm1 0zm6 0zm-7-1zm2 0zm1 0zm2 0zm1 0zm-4-1zm2 0zm1 0zm1 0zm-3-1zm1 0zm2 0zm-1-1zm-5-1zm1 0zm3 0zm-3-1zm3 0zm1 0zm-5-1zm2 0zm1 0zm4 0zm-7-1zm1 0zm2 0zm1-1zm1 0zm-3-1zm1 0zm2 0zm-5-1zm1 0zm3 0zm-4-1zm3 0zm-3-2zm2 0zm3-1zm-5-1zm1-1zm-1-1zm2 0zm-2-1zm0-3zm8 11zm0 10zm1 2zm4 0zm-5 1zm3 1zm-2 2zm1 0zm-1 1zm1 0zm-1 1zm1 0zm1 0zm3 0zm-4 1zm2 0zm-4 1zm4 0zm3 0zm-5 1zm4 0zm-6 1zm1 0zm1 0zm1 0zm4 0zm-4 1zm-2 1zm3 0zm-2 1zm2 0zm1 0zm1 0zm1 0zm-7 1zm1 0zm2 0zm3 0zm0 1zm1 0zm-3 1zm-4 1zm7 0zm-7 1zm1 0zm1 0zm1 1zm2 0zm-5 1zm1 0zm1 0zm1 0zm1 0zm3 0zm-3 1zm2 0zm-4 1zm2 0zm1 0zm1 0zm-4 1zm3 0zm-2 1zm-2 1zm1 0zm-2 1zm1 0zm4 0zm1 0zm1 0zm0 1zm-6 1zm1 0zm1 0zm3 0zm-5 1zm1 0zm4 0zm1 0zm-2 1zm1 0zm1 0zm-7 1zm2 0zm3 0zm1 0zm1 0zm-4 1zm-2 1zm1 0zm5 0zm-6 1zm1 0zm5 0zm-3 1zm1 0zm-5 1zm3 0zm4 0zm-6 1zm1 0zm2 0zm2 0zm1 0zm-6 1zm6 0zm-6 1zm5 0zm1 0zm-5 1zm2 0zm-4 1zm3 0zm2 0zm-2 1zm1 0zm1 0zm1 0zm-5 1zm4 0zm2 0zm-7 1zm2 0zm2 0zm1 0zm-2 1zm4 0zm-7 1zm2 0zm1 0zm1 0zm2 1zm-5 1zm2 0zm2 0zm-5 1zm7 0zm-6 1zm1 0zm2 0zm2 0zm-3 1zm-1 2zm-2 1zm2 2zm-2 1zm1 0zm10-9zm-1-5zm2-2zm-4-1zm5 0zm-4-1zm1 0zm-2-1zm5 0zm-5-1zm0-1zm2 0zm-2-2zm2 0zm-1-1zm-1-1zm1-2zm-1-4zm0-2zm1 0zm0-8zm0-4zm-1-2zm2-4z" stroke="#AFD0E8" stroke-width="3.2" stroke-opacity="0.85"/><path d="M317 3249zm-4-2zm14-9zm-5 3zm2 0zm-2 5zm-1 3zm5 1zm1 4zm0 1zm-4 6zm8 6zm-2-4zm1 0zm4-1zm1 0zm-6-5zm5 0zm1-2zm-1-1zm1-1zm-1-3zm-6-1zm2 0zm2 0zm-2-2zm5-2zm-3-2zm1 0zm-4-1zm-1-4zm2 0zm1-1zm6-2zm0 1zm4 1zm-5 1zm1 0zm2 1zm0 1zm4 0zm0 1zm0 3zm-7 3zm1 3zm2 3zm-1 1zm3 0zm-2 2zm-1 2zm1 0zm-1 4zm2 1zm-4 1zm4 0zm3 0zm-4 3zm7-6zm0-2zm-1-1zm2-1zm4 0zm-2-2zm0-2zm-5-1zm1-1zm6-3zm-6-2zm1-1zm5-2zm-4-1zm-2-1zm5-2zm-6-1zm1 0zm5-1zm-2-2zm4 9zm1 0zm3 0zm-2 2zm2 2zm1 5zm-4 1zm1 6zm1 0z" stroke="#AFD0E8" stroke-width="3.2" stroke-opacity="0.6"/><path d="M302 3294zm-2-1zm1-1zm1 0zm1 0zm-4-1zm4-1zm0-1zm-4-2zm4-1zm-7-2zm2 0zm-2-1zm2 0zm4 0zm-3-1zm1 0zm0-1zm-1-1zm3 0zm0-1zm1-2zm6-8zm1 2zm-1 1zm-2 1zm2 0zm2 1zm-7 1zm1 0zm6 0zm-4 1zm3 0zm1 0zm-7 1zm7 0zm-7 1zm6 0zm-5 1zm1 0zm-2 1zm2 0zm-2 1zm5 0zm-4 1zm1 0zm1 0zm2 0zm2 0zm-7 1zm2 0zm5 0zm-6 1zm-1 1zm5 0zm1 0zm-6 1zm1 0zm1 0zm5 0zm-5 1zm2 0zm2 1zm1 0zm-2 1zm1 0zm1 0zm-6 1zm-1 1zm2 0zm5 0zm-3 1zm1 0zm-4 1zm1 1zm0 1zm4 0zm-4 1zm1 0zm4 0zm-3 1zm-3 1zm5 1zm-1 1zm9 5zm-3-1zm1-1zm2 0zm-3-1zm1 0zm-2-1zm3 0zm-2-1zm-2-1zm2 0zm1 0zm2 0zm-6-1zm1-1zm2 0zm1 0zm0-2zm1 0zm-1-1zm-4-1zm6 0zm-4-1zm-1-1zm6 0zm-6-1zm2 0zm-1-1zm4 0zm-5-1zm3 0zm2 0zm-4-1zm4 0zm-5-1zm2 0zm3 0zm1 0zm-4-1zm1 0zm3 0zm-3-1zm1 0zm-5-1zm2 0zm3 0zm-5-1zm5 0zm2 0zm-6-1zm6 0zm-7-1zm1 0zm4 0zm1 0zm1 0zm-7-1zm1 0zm2 0zm2 0zm-1-1zm-4-1zm2 0zm1 0zm2 0zm1 0zm-3-1zm3 0zm1 0zm-6-1zm3 0zm1 0zm1 0zm-6-2zm1 0zm1-1zm-2-1zm1 0zm2 0zm2 0zm-3-1zm5 0zm-5-1zm2 0zm3 0zm-3-1zm1 0zm1 0zm-2-1zm1 0zm2 0zm-4-3zm3 0zm-4-1zm11 2zm1 0zm-4 1zm1 0zm2 1zm1 0zm1 0zm-1 1zm1 0zm-2 1zm-5 1zm7 0zm-7 1zm1 0zm2 0zm1 0zm2 0zm1 0zm-4 1zm2 0zm1 1zm-5 2zm3 0zm-4 1zm3 0zm1 0zm3 0zm-5 1zm2 0zm1 0zm2 0zm-2 1zm1 1zm-5 1zm1 0zm1 0zm3 0zm-3 1zm-3 1zm4 0zm2 0zm1 0zm-6 1zm-1 2zm1 0zm5 0zm-3 1zm0 1zm3 0zm-6 1zm2 0zm1 0zm2 0zm1 0zm0 1zm-3 1zm3 0zm1 0zm-6 1zm1 0zm3 0zm-3 1zm2 0zm2 0zm1 0zm-2 1zm1 0zm1 0zm-7 1zm1 0zm2 0zm-3 1zm1 0zm5 0zm-5 1zm4 0zm2 0zm-6 2zm6 0zm-6 1zm2 0zm2 0zm1 0zm-5 2zm5 0zm0 1zm-4 1zm1 0zm2 0zm2 0zm-6 1zm3 0zm3 0zm-7 1zm4 0zm2 1zm-1 1zm9-1zm-4-1zm4 0zm-1-2zm-5-1zm5 0zm-5-1zm1 0zm2 0zm2 0zm-4-2zm3-1zm3 0zm-5-1zm2 0zm-2-2zm2 0zm2 0zm-1-1zm2 0zm0-1zm-6-1zm1-1zm-2-1zm3 0zm2 0zm1 0zm1 0zm-2-1zm2-1zm-7-1zm1 0zm4 0zm-1-1zm-3-2zm1 0zm5 0zm0-1zm-7-1zm1 0zm2 0zm2-2zm0-1zm2 0zm-6-1zm5 0zm-5-1zm2 0zm1 0zm3 0zm-6-1zm3 0zm1 0zm2 0zm-6-1zm0-1zm6 0zm-6-1zm3 0zm-4-1zm4-1zm3 0zm-4-1zm1 0zm-2-2zm-2-1zm9 6zm0 1zm-1 2zm2 1zm1 1zm-2 1zm-1 1zm2 0zm0 1zm-2 1zm4 1zm1 0zm2 0zm-6 1zm-1 1zm3 0zm2 0zm-4 1zm1 0zm1 0zm-2 1zm1 1zm3 0zm-5 2zm3 0zm3 0zm1 0zm-7 1zm1 0zm1 0zm3 0zm-4 1zm4 0zm2 0zm0 2zm-2 1zm-4 1zm3 0zm-4 1zm4 0zm2 0zm-6 1zm2 0zm3 0zm1 0zm-5 1zm6 0zm-6 1zm3 0zm-3 1zm2 0zm3 0zm1 0zm-4 1zm2 0zm2 0zm-7 1zm3 0zm2 0zm2 0zm-6 1zm6 0zm-5 1zm2 1zm6-5zm-2-5zm4-1zm-4-1zm2 0zm-2-3zm0-1zm2 0zm-1-1zm1-2zm-2-3z" stroke="#6DAEDC" stroke-width="3.2" stroke-opacity="0.85"/><path d="M711 3119zm0 1zm-1 3zm0 1zm-1 2zm-2 1zm1 0zm3 2zm-4 2zm1 0zm1 0zm2 0zm-4 2zm1 0zm1 0zm1 0zm-1 1zm2 0zm-2 1zm-2 1zm3 1zm1 0zm-2 1zm-1 1zm2 0zm-3 1zm3 0zm-3 1zm2 0zm2 0zm-4 1zm2 0zm-2 1zm2 0zm1 1zm-1 2zm2 0zm-4 1zm0 1zm2 0zm-1 1zm0 2zm1 1zm1 0zm1 0zm-1 1zm-2 1zm1 5zm1 0zm1 0zm-3 1zm2 0zm1 0zm0 1zm5 13zm-3-3zm5-1zm-1-1zm2 0zm-2-1zm2 0zm-1-1zm1 0zm-2-1zm1 0zm-2-1zm3 0zm-6-1zm4 0zm1 0zm-5-2zm2 0zm3 0zm-2-1zm1 0zm1 0zm1 0zm-4-1zm1 0zm3 0zm-4-1zm-2-1zm1 0zm5 0zm-7-1zm3 0zm3 0zm1 0zm-6-1zm-1-1zm3 0zm3-1zm-6-1zm1 0zm2 0zm-3-1zm1 0zm3 0zm-4-1zm2 0zm1 0zm0-1zm-3-1zm6 0zm-6-1zm0-1zm1 0zm2 0zm-3-1zm1 0zm2 0zm3 0zm-6-1zm1 0zm1 0zm1 0zm1 0zm-3-1zm1 0zm2-1zm0-1zm2 0zm1 0zm-7-1zm2 0zm1 0zm1 0zm1 0zm-4-1zm2 0zm1 0zm2 0zm-1-1zm-2-1zm2 0zm2 0zm-7-1zm4 0zm1 0zm-1-1zm2 0zm-6-1zm1 0zm-1-1zm1 0zm2 0zm1 0zm-1-1zm2 0zm2 0zm-6-1zm-1-2zm2 0zm2 0zm-2-1zm1-1zm1 0zm2 0zm-3-1zm1 0zm-3-1zm2 0zm1 0zm1 0zm2-1zm-6-1zm6 0zm-7-1zm5 0zm1 0zm-6-1zm1 0zm2 0zm-2-1zm2 0zm1 0zm1 0zm-1-1zm2 0zm-4-1zm2 0zm1 0zm1 0zm1-1zm-7-1zm4 0zm1 0zm0-1zm1 0zm0-1zm1 0zm-3-1zm3 0zm-1-1zm1 0zm-3-1zm11-12zm-2 5zm-1 1zm-3 1zm1 0zm2 0zm0 1zm2 0zm-4 1zm4 0zm0 1zm-2 1zm2 0zm-4 1zm4 0zm-5 1zm3 0zm1 0zm1 0zm-5 1zm3 0zm2 0zm-4 1zm2 0zm-4 1zm3 0zm1 0zm1 0zm-3 1zm3 0zm2 0zm-6 1zm1 0zm1 0zm1 0zm2 0zm1 0zm-7 1zm4 0zm2 0zm1 0zm-5 1zm2 0zm2 0zm1 0zm-5 1zm1 0zm1 0zm1 0zm-3 1zm3 0zm1 0zm1 0zm-7 1zm3 0zm2 0zm2 0zm-6 1zm4 0zm2 0zm-7 1zm1 0zm5 0zm1 0zm-7 1zm3 1zm1 0zm2 0zm1 0zm-7 1zm3 0zm1 0zm3 0zm-4 1zm2 0zm1 0zm-5 1zm4 0zm2 0zm-2 2zm2 0zm-6 1zm2 0zm2 0zm2 0zm-6 1zm1 0zm2 0zm1 0zm-1 1zm1 0zm-5 1zm6 0zm-6 1zm2 0zm1 0zm1 0zm2 0zm0 1zm-6 1zm1 0zm1 0zm1 0zm4 0zm-4 1zm3 1zm-2 1zm3 0zm-6 1zm3 0zm2 0zm1 0zm-3 1zm1 0zm2 0zm-6 1zm1 0zm5 0zm-3 1zm1 0zm-2 1zm2 0zm1 0zm1 0zm-4 1zm-1 1zm2 0zm2 0zm-2 1zm1 0zm1 0zm-1 1zm2 0zm-7 1zm1 0zm1 0zm1 0zm-3 1zm4 0zm1 0zm-3 2zm2 0zm2 1zm-6 1zm2 0zm-2 1zm2 0zm5 0zm-7 1zm2 0zm3 0zm-4 1zm1 0zm5 0zm-3 1zm-4 1zm3 0zm2 0zm2 0zm-4 1zm1 0zm1 0zm1 0zm-6 3zm6 0zm-5 1zm1 1zm1 0zm3 0zm-5 1zm2 0zm2 0zm1 0zm1 0zm-3 1zm-4 1zm1 0zm3 0zm2 0zm1 1zm-6 1zm3 0zm3 0zm-1 1zm-3 1zm1 0zm2 0zm0 1zm1 1zm0 3zm8 5zm-4-3zm-2-3zm2-1zm2 0zm2 0zm-7-1zm5 0zm2 0zm-6-1zm3 0zm-4-1zm6 0zm1 0zm-7-1zm2 0zm3 0zm-3-1zm-1-1zm2 0zm2 0zm1 0zm1 0zm-4-1zm1 0zm1 0zm-3-1zm1 0zm2 0zm-5-1zm5 0zm-5-1zm5 0zm1 0zm1 0zm-7-1zm3 0zm2 0zm-5-1zm1 0zm5 0zm1 0zm-7-1zm1 0zm1 0zm1-1zm3 0zm-1-1zm2 0zm-3-1zm1 0zm-5-1zm1 0zm2 0zm1 0zm-4-1zm3 0zm2 0zm-3-1zm3 0zm2 0zm-3-1zm3 0zm-7-1zm6 0zm-6-1zm3 0zm2 0zm1 0zm1 0zm-5-1zm1 0zm2 0zm2 0zm-1-1zm-2-1zm1 0zm2 0zm-5-1zm5 0zm-7-1zm3-1zm2 0zm2 0zm-7-1zm1 0zm1 0zm4 0zm-3-1zm1 0zm3 0zm-6-1zm2 0zm1 0zm1 0zm1 0zm-6-1zm3 0zm2 0zm1 0zm1 0zm-6-1zm3 0zm-3-1zm5 0zm-6-1zm4 0zm-3-1zm2 0zm3 0zm-2-1zm1 0zm-2-1zm3 0zm1 0zm-7-1zm1 0zm3 0zm1 0zm-3-1zm5 0zm-7-1zm6 0zm-4-1zm1 0zm-1-1zm2 0zm1 0zm2 0zm-5-1zm1 0zm-3-1zm3 0zm-3-1zm5 0zm2 0zm-2-1zm-3-1zm5-1zm-6-1zm3 0zm1 0zm-5-1zm2 0zm2 0zm-3-1zm-1-1zm4 0zm-4-2zm1 0zm1 0zm1 0zm-3-1zm3 0zm3 0zm1 0zm-6-1zm2 0zm1 0zm2 0zm1-1zm-5-1zm2 0zm2 0zm-6-1zm4 0zm2 0zm1 0zm-7-1zm4 0zm2 0zm-5-1zm2 0zm-1-1zm1 0zm2 0zm2 0zm-7-1zm7 0zm-5-1zm4 0zm-6-1zm1-1zm4 0zm1 0zm-5-1zm1 0zm1 0zm2 0zm1 0zm-4-1zm1 0zm2 0zm-4-1zm4 0zm-4-1zm2-1zm1 0zm2 0zm1 0zm-7-1zm1 0zm1 0zm4 0zm1 0zm-6-2zm3 0zm-3-1zm6 0zm-7-1zm2 0zm5 0zm-1-2zm9-3zm-7 4zm1 0zm2 0zm-3 2zm5 0zm2 0zm-2 1zm-3 1zm2 0zm-4 1zm1 0zm1 0zm5 0zm-7 1zm2 0zm2 0zm1 0zm2 0zm-6 1zm2 0zm3 0zm-6 1zm2 0zm2 0zm1 0zm-3 1zm2 0zm2 0zm1 0zm-7 1zm1 0zm6 0zm-7 1zm5 0zm1 0zm-6 1zm5 0zm1 0zm-6 1zm1 0zm1 0zm2 0zm1 0zm-4 1zm2 0zm3 0zm-6 1zm1 0zm1 0zm2 0zm2 0zm-3 1zm2 0zm-2 1zm0 1zm4 0zm-4 1zm1 0zm3 0zm-3 1zm1 0zm1 0zm-6 1zm1 0zm1 0zm4 0zm-5 1zm3 0zm2 0zm1 0zm-6 1zm5 0zm-6 1zm1 0zm3 0zm1 0zm-2 1zm3 0zm-4 1zm-1 1zm1 0zm5 0zm-7 1zm3 0zm2 0zm-5 1zm3 0zm3 0zm-6 1zm4 0zm-4 2zm6 0zm-4 1zm2 0zm-2 1zm2 0zm1 0zm2 0zm-6 1zm3 0zm1 0zm1 0zm1 0zm-1 2zm-4 1zm4 0zm1 0zm-1 1zm-5 1zm1 0zm3 0zm1 0zm-5 1zm3 0zm1 0zm-5 1zm2 0zm3 1zm-5 1zm1 0zm1 0zm4 0zm-6 2zm1 0zm4 0zm1 0zm-6 1zm2 0zm1 0zm2 0zm1 0zm-6 2zm2 0zm1 0zm3 0zm1 0zm-7 1zm2 0zm3 0zm2 0zm-5 1zm2 0zm3 0zm-7 1zm2 0zm1 0zm1 0zm3 0zm-5 1zm1 0zm1 1zm2 0zm-6 1zm2 0zm1 0zm1 0zm1 0zm2 0zm-3 1zm-4 1zm7 0zm-6 1zm1 0zm1 0zm0 1zm3 1zm-4 1zm0 1zm2 0zm1 0zm1 0zm-6 1zm1 0zm1 0zm3 0zm1 0zm1 0zm-5 1zm2 0zm3 0zm-6 1zm4 0zm-2 1zm2 0zm1 0zm-6 1zm1 0zm1 0zm2 0zm3 0zm-4 1zm4 0zm-2 1zm-5 1zm2 0zm1 0zm2 0zm1 0zm1 0zm-1 1zm-6 1zm5 0zm1 0zm1 0zm-6 1zm4 0zm-5 1zm3 0zm3 0zm-5 1zm-1 1zm4 0zm2 0zm1 0zm0 1zm-5 1zm1 0zm1 0zm1 0zm-2 1zm1 0zm-3 1zm5 0zm-6 1zm1 0zm1 0zm5 1zm-6 1zm5 0zm-4 1zm4 0zm-2 2zm4-2zm1 0zm5 0zm-4-1zm5-1zm-5-1zm1 0zm4 0zm-6-1zm3 0zm2 0zm-6-1zm2 0zm1 0zm-3-1zm1 0zm1 0zm1 0zm-2-1zm2 0zm1 0zm1 0zm-4-1zm1 0zm3 0zm-3-1zm1 0zm2 0zm-3-1zm3 0zm2 0zm-6-1zm1 0zm1 0zm3 0zm-4-1zm2 0zm1 0zm1 0zm-4-1zm2-1zm2 0zm1 0zm-4-1zm2 0zm1 0zm1 0zm-6-1zm5 0zm1 0zm-2-1zm2 0zm-7-1zm1 0zm5 0zm1 0zm-7-1zm3 0zm3 0zm-6-2zm5 0zm1 0zm-4-1zm4 0zm1 0zm0-1zm-7-1zm5 0zm1 0zm-6-1zm7 0zm-7-1zm1 0zm2 0zm1 0zm-4-1zm1 0zm1 0zm1 0zm2 0zm2 0zm-3-1zm1 0zm2 0zm-6-1zm4 0zm2 0zm-7-1zm3 0zm2 0zm-2-1zm3 0zm1 0zm-3-1zm1 0zm-3-1zm2 0zm2 0zm1 0zm-3-1zm3 0zm-7-1zm4 0zm-2-1zm1 0zm3 0zm1 0zm-7-1zm1 0zm1 0zm4 0zm-6-1zm2 0zm1 0zm1 0zm3 0zm-7-2zm2 0zm1 0zm3 0zm-6-2zm4 0zm1 0zm1 0zm-5-1zm3 0zm1 0zm-5-1zm4 0zm1 0zm1 0zm1 0zm0-1zm-7-1zm1 0zm2 0zm1 0zm1 0zm1 0zm-4-1zm4 0zm-6-1zm2 0zm2 0zm2 0zm-5-2zm5 0zm1 0zm-7-1zm1 0zm1 0zm5 0zm-6-1zm1 0zm1 0zm-2-1zm1 0zm1 0zm2 0zm1 0zm1 0zm-6-1zm6-1zm-6-1zm1 0zm3 0zm-5-1zm4 0zm1 0zm1 0zm1 0zm-7-1zm5 0zm-5-1zm5 0zm1 0zm-6-1zm2 0zm1 0zm1 0zm1 0zm1 0zm-3-2zm-1-1zm2 0zm3 0zm-7-1zm1 0zm4 0zm1 0zm-3-1zm4 0zm-7-1zm4 0zm1 0zm1 0zm-5-1zm2 0zm1 0zm2 0zm1 0zm-6-1zm2 0zm3 0zm1 0zm-6-1zm5 0zm-6-1zm1 0zm5 0zm-5-1zm2 0zm-1-2zm1 0zm2 0zm2 0zm-7-2zm2 0zm4 0zm-6-1zm3 0zm3 0zm1 0zm-3-1zm3 0zm-7-1zm7 0zm-7-2zm6 0zm1 0zm-7-1zm1 0zm1 0zm3 0zm-5-1zm6 0zm1 0zm0-2zm-1-1zm1 0zm-6-1zm9 0zm-1 1zm4 1zm-5 1zm1 0zm5 0zm-3 1zm4 0zm-3 1zm2 0zm-6 1zm0 1zm3 0zm4 0zm-7 1zm6 0zm1 0zm0 1zm-7 1zm3 1zm1 0zm3 0zm-4 1zm4 0zm-6 2zm5 0zm-6 1zm1 0zm2 0zm4 0zm-7 1zm4 0zm2 0zm-4 1zm2 1zm-3 1zm2 0zm2 0zm-5 1zm1 0zm4 0zm1 0zm1 0zm-6 1zm3 0zm2 0zm-6 1zm4 0zm2 0zm-6 1zm2 0zm-1 1zm2 0zm2 0zm-2 1zm1 0zm3 0zm-6 1zm2 0zm4 1zm-5 1zm1 0zm-2 1zm2 0zm3 0zm1 0zm-5 1zm1 0zm2 0zm2 1zm-5 1zm2 0zm3 0zm-7 1zm2 0zm1 0zm2 0zm1 0zm1 1zm-7 1zm1 0zm0 1zm1 0zm1 0zm2 0zm1 0zm-5 1zm1 0zm5 0zm-7 1zm2 0zm1 0zm2 0zm1 0zm-4 1zm-1 1zm4 0zm2 1zm-7 1zm1 0zm-1 1zm1 0zm4 0zm1 0zm0 1zm-5 1zm3 0zm2 0zm-6 1zm1 0zm1 0zm2 0zm2 0zm1 0zm-7 2zm5 0zm-5 1zm3 0zm2 0zm2 0zm-2 1zm1 0zm-3 1zm1 0zm2 0zm1 1zm-2 1zm-5 1zm1 0zm2 0zm1 0zm2 0zm-5 1zm2 0zm2 0zm2 0zm-3 1zm2 0zm0 1zm-3 1zm4 0zm-6 1zm2 0zm3 0zm-5 1zm4 0zm1 0zm-6 1zm4 1zm2 0zm-6 1zm2 0zm3 0zm2 0zm-6 1zm1 0zm1 0zm3 0zm-4 1zm1 0zm-2 1zm2 0zm1 0zm-4 1zm2 0zm1 0zm3 0zm1 0zm-7 1zm1 0zm1 1zm1 0zm1 0zm1 0zm2 0zm-5 2zm2 0zm1 0zm-4 1zm6 0zm-3 1zm1 0zm-3 1zm2 0zm1 0zm-2 1zm-3 1zm1 0zm1 0zm2 0zm1 0zm1 0zm1 0zm-6 1zm3 0zm-3 1zm1 0zm1 0zm1 0zm1 1zm1 0zm-5 1zm4 0zm-5 1zm2 0zm3 0zm-5 1zm4 0zm2 0zm-5 1zm3 0zm-4 1zm2 0zm1 0zm1 0zm-4 1zm5 0zm1 0zm-6 1zm7 0zm5 1zm-3-3zm0-1zm1 0zm-2-1zm1 0zm3-1zm1 0zm2 0zm-6-1zm1 0zm-1-1zm6 0zm-7-1zm4 0zm1 0zm-4-1zm2 0zm3 0zm-6-1zm1 0zm6 0zm-7-1zm0-1zm1 0zm2 0zm1 0zm0-1zm-4-1zm3 0zm2 0zm-5-1zm1 0zm1 0zm2 0zm2 0zm-5-1zm1 0zm1-1zm2 0zm-3-1zm1 0zm1 0zm1 0zm-2-1zm2 0zm0-1zm-2-1zm1 0zm3 0zm-6-1zm3 0zm2 0zm1 0zm-7-1zm4 0zm2 0zm-5-1zm5 0zm-1-1zm2 0zm-1-1zm-6-1zm1 0zm1 0zm1 0zm1 0zm1 0zm-5-1zm6 0zm1 0zm-7-1zm2 0zm3 0zm2 0zm-2-1zm0-1zm1 0zm-6-1zm2 0zm3 0zm0-2zm-4-1zm2 0zm2 0zm2 0zm-7-1zm1 0zm1-1zm0-1zm2 0zm3 0zm-6-1zm0-1zm2 0zm3 0zm-3-1zm-1-1zm2 0zm-4-1zm2 0zm3 0zm1 0zm-2-1zm2 0zm-3-1zm3 0zm1 0zm-7-1zm2 0zm3 0zm2 0zm-5-1zm1 0zm1 0zm-4-1zm6 0zm1 0zm-7-1zm1 0zm1 0zm1 0zm1 0zm3 0zm-7-1zm5 0zm2 0zm-7-1zm3 0zm-3-1zm2 0zm1 0zm1 0zm2 0zm1 0zm-7-1zm1 0zm3 0zm3 0zm-6-1zm0-1zm4 0zm1 0zm-5-1zm3 0zm-1-1zm1 0zm1 0zm1 0zm-2-1zm1 0zm-3-1zm2 0zm-1-1zm1 0zm1 0zm1 0zm0-1zm-6-1zm3 0zm1 0zm1 0zm-3-1zm1 0zm1 0zm3 0zm-5-1zm-1-2zm2 0zm1 0zm1 0zm1 0zm1 0zm-7-1zm3 0zm-1-1zm1 0zm3 0zm-1-2zm-2-1zm-3-1zm3 0zm0-1zm1 0zm-1-1zm-1-1zm4 0zm-2-1zm-4-1zm1 0zm1 0zm2 0zm3 0zm-2-1zm-2-1zm-3-2zm1 0zm1-1zm2 0zm2 0zm-1-1zm7 2zm-4 1zm2 1zm-2 1zm1 0zm1 0zm1 0zm-3 1zm1 0zm2 0zm-2 2zm2 0zm-3 1zm1 0zm4 0zm-2 1zm-3 1zm1 0zm1 0zm3 0zm-5 1zm2 0zm1 0zm2 0zm1 0zm-5 1zm4 0zm-4 1zm2 0zm1 0zm-1 1zm-3 1zm2 0zm1 0zm1 0zm2 0zm-1 1zm-2 1zm1 0zm1 1zm2 0zm-6 1zm3 0zm-3 1zm1 0zm3 0zm-1 1zm1 0zm2 0zm-5 1zm2 0zm-4 1zm2 0zm4 0zm1 0zm-6 1zm5 0zm-2 1zm1 0zm-5 1zm2 0zm0 1zm1 0zm1 0zm2 0zm1 0zm-6 1zm1 0zm1 0zm1 0zm-3 1zm4 0zm-5 1zm1 0zm4 0zm1 0zm-2 1zm2 0zm-4 1zm-1 1zm1 0zm1 0zm-2 1zm3 0zm2 0zm1 0zm-7 1zm1 0zm2 0zm2 0zm0 1zm-3 1zm2 0zm1 0zm2 1zm-7 1zm1 0zm2 0zm2 0zm2 2zm-4 1zm4 0zm-4 1zm2 0zm1 0zm-6 1zm1 0zm2 0zm4 0zm-4 1zm-3 1zm2 0zm1 0zm0 1zm-2 1zm1 0zm2 0zm1 0zm-5 2zm7 0zm-7 1zm1 0zm6 0zm-7 1zm1 0zm2 0zm1 0zm1 0zm-5 1zm1 0zm1 0zm3 0zm1 0zm-1 1zm1 0zm1 0zm-6 1zm4 0zm1 0zm-5 1zm1 0zm4 0zm1 0zm-6 1zm1 0zm2 0zm1 0zm-5 1zm1 0zm4 0zm2 0zm-3 1zm1 0zm-3 1zm1 0zm1 2zm3 0zm-4 1zm-2 1zm-1 1zm3 0zm4 0zm-3 1zm2 0zm1 0zm-7 1zm4 0zm3 0zm-3 1zm1 0zm2 0zm-6 2zm3 0zm1 0zm1 0zm-3 1zm2 0zm1 0zm1 0zm-7 1zm2 0zm4 0zm-5 1zm4 0zm-5 1zm1 0zm-1 1zm3 0zm0 1zm-2 2zm10-7zm-3-2zm1 0zm4-2zm-5-1zm3 0zm-1-2zm3 0zm-4-1zm4 0zm-4-1zm4 0zm-5-1zm2 0zm3-1zm-5-1zm2 0zm1 0zm1 0zm-4-1zm2-1zm3 0zm1 0zm-6-1zm5 0zm2 0zm-3-1zm1 0zm-3-1zm1 0zm1 0zm3 0zm-4-1zm2 0zm1 0zm1 0zm-7-1zm1 0zm-1-1zm5 0zm1 0zm-4-1zm2 0zm1 0zm-3-1zm5 0zm-5-1zm2 0zm2 0zm1 0zm-6-1zm1 0zm3 0zm-5-1zm4 0zm3 0zm-7-1zm2 0zm2 0zm1 0zm0-1zm2 0zm-3-1zm2 0zm-6-1zm2 0zm1 0zm1 0zm2 0zm-6-1zm5 0zm1 0zm-5-1zm3 0zm0-1zm2 0zm-1-1zm1 0zm-2-1zm1 0zm1 0zm-4-1zm2 0zm-2-1zm1 0zm2 0zm-5-1zm3 0zm3-1zm-4-1zm3 0zm2 0zm0-1zm-7-1zm2 0zm1 0zm4 0zm-7-1zm6 0zm-1-1zm1 0zm-6-1zm4 0zm1 0zm1 0zm-1-1zm-2-1zm1 0zm1 0zm2 0zm-3-1zm-3-2zm4 0zm2 0zm-2-1zm2 0zm-7-1zm1 0zm3 0zm1 0zm2 0zm-3-1zm2 0zm-2-1zm-2-1zm2 0zm-4-1zm3 0zm1 0zm1 0zm2 0zm0-1zm-6-2zm0-1zm2 0zm1 0zm1 0zm2 0zm-7-2zm0-2zm8 8zm0 1zm4 0zm-2 1zm1 0zm-2 2zm1 1zm2 1zm-1 2zm1 0zm-2 2zm2 0zm0 1zm-3 1zm3 0zm-3 1zm1 0zm-2 1zm2 1zm3 0zm-3 1zm1 0zm-3 1zm5 1zm-5 1zm5 0zm0 1zm-5 1zm4 0zm-1 1zm2 0zm-5 1zm3 0zm0 1zm3 0zm-4 1zm1 0zm-1 1zm-1 2zm4 0zm-4 1zm6 0zm-2 1zm2 1zm-6 1zm2 0zm3 0zm-5 1zm-1 1zm5 0zm-5 1zm1 1zm2 0zm3 0zm-6 1zm2 0zm3 0zm-2 1zm-2 1zm-1 1zm0 2zm3 3zm5-6zm0-27z" stroke="#FDD370" stroke-width="3.2" stroke-opacity="0.85"/><path d="M615 3294zm6 4zm0-1zm2-1zm-3-2zm-3-3zm4 0zm2-2zm-3-1zm1-1zm2-1zm7-8zm-1 1zm0 2zm-1 1zm1 0zm2 0zm-7 1zm4 0zm1 0zm-2 1zm-2 1zm1 0zm1 0zm1 1zm-2 1zm-2 1zm1 0zm4 0zm2 0zm-1 1zm-6 1zm1 0zm3 0zm-2 1zm2 0zm2 0zm-5 2zm1 0zm3 0zm-4 1zm1 0zm2 0zm2 0zm1 0zm-7 1zm1 0zm3 1zm3 0zm-7 1zm2 0zm-1 1zm1 1zm1 0zm4 0zm-5 2zm3 0zm0 2zm8 0zm-4-1zm3 0zm1 0zm-5-1zm2 0zm5 0zm-6-1zm1 0zm3 0zm2 0zm-4-1zm1 0zm-4-1zm7 0zm-6-1zm5 0zm-4-1zm5 0zm-2-1zm-4-1zm3 0zm1 0zm1 0zm-6-1zm5 0zm-5-1zm2 0zm2 0zm1 0zm2 0zm-7-1zm6 0zm-5-1zm3 0zm3 0zm-5-1zm1 0zm2 0zm1 0zm0-1zm1 0zm-3-1zm1 0zm-3-1zm1 0zm-3-1zm2 0zm4 0zm-6-1zm3 0zm1 0zm3 0zm-6-1zm4 0zm2-1zm-3-1zm-3-2zm1 0zm1 0zm1 0zm2 0zm-5-1zm1 0zm3 0zm-3-1zm2 0zm1 0zm2 0zm-4-1zm2 0zm1 0zm-4-1zm0-1zm4 0zm2 0zm1 12zm1 0zm-1 1zm0 1zm0 1zm4 0zm-5 5zm1 0zm4 0zm-2 1zm1 0zm-4 2zm3 0zm1 4z" stroke="#258F48" stroke-width="3.2" stroke-opacity="0.85"/><path d="M639 3359zm0-1zm-3-4zm11-15zm-2 4zm-2 4zm1 0zm1 0zm1 0zm1 0zm-5 1zm1 0zm4 0zm-4 1zm-2 1zm5 0zm1 1zm-3 1zm-3 1zm2 0zm2 0zm1 0zm-4 2zm0 1zm2 0zm1 0zm1 0zm-3 1zm2 0zm0 1zm2 0zm-7 1zm4 0zm1 0zm-3 1zm2 0zm1 0zm-3 1zm1 0zm1 0zm1 0zm2 0zm-3 1zm1 0zm1 0zm1 0zm-6 1zm4 0zm-3 1zm2 0zm1 0zm2 0zm-5 2zm7 1zm3-1zm3 0zm-4-1zm-1-1zm-2-1zm3 0zm-2-1zm1 0zm4-1zm-2-1zm1 0zm-3-2zm5 0zm-6-1zm1 0zm-1-1zm1 0zm1 0zm3 0zm1 0zm-7-1zm2 0zm5 0zm-5-1zm1 0zm1 0zm1 0zm1 0zm-5-1zm1 0zm4 0zm-1-1zm-2-1zm3 0zm-5-1zm1 0zm1 0zm2 0zm2 0zm-2-1zm-4-1zm3 0zm-4-1zm7 0zm-6-1zm2 0zm1 0zm1 0zm-4-1zm2 0zm1-1zm3 0zm-3-1zm3-1zm-7-1zm5 0zm1 0zm-5-1zm2 0zm-1-1zm3 0zm-1-1zm3 0zm-2-1zm1 0zm1 0zm-3-2zm3 0zm-3-1zm1 0zm2-1zm-1-2zm1-2zm-2-1zm2-4zm5-10zm2 0zm0 3zm1 0zm0 2zm-1 3zm-3 2zm2 0zm-4 1zm3 0zm3 1zm-1 1zm-3 2zm4 0zm-7 1zm3 0zm2 0zm-3 1zm1 0zm2 0zm-5 1zm1 0zm3 0zm3 0zm-6 1zm1 0zm5 0zm-7 1zm1 1zm1 0zm2 0zm-4 1zm4 0zm1 0zm-2 1zm2 0zm-4 1zm1 0zm1 0zm2 0zm-5 2zm2 0zm5 0zm-5 1zm1 0zm2 0zm-2 1zm2 0zm2 0zm-7 1zm1 0zm3 0zm2 0zm-4 1zm2 0zm-3 1zm2 0zm1 0zm2 0zm1 0zm-7 1zm1 0zm1 0zm1 0zm1 0zm1 0zm2 0zm-7 1zm2 0zm2 0zm1 0zm-5 1zm4 0zm0 1zm1 0zm1 0zm-3 1zm1 0zm1 0zm2 0zm-7 1zm3 0zm1 0zm1 0zm-4 1zm2 0zm-3 1zm2 0zm-1 1zm2 0zm1 0zm2 0zm1 0zm-7 1zm2 0zm4 0zm-4 1zm-1 1zm2 1zm2 0zm2 0zm5-1zm-3-2zm-1-1zm1 0zm4 0zm1-1zm1 0zm-4-1zm-2-1zm1 0zm1 0zm-1-1zm4 0zm-5-1zm6 0zm-7-1zm2 0zm2 0zm1 0zm1 0zm-6-1zm5 0zm2 0zm-7-1zm1 0zm3 0zm-4-1zm5 0zm1 0zm-4-1zm1 0zm4 0zm-2-1zm-5-1zm1 0zm4 0zm2 0zm-7-2zm1 0zm3 0zm1 0zm2 0zm-7-1zm2 0zm-1-1zm6 0zm-6-1zm3 0zm-4-1zm1 0zm2 0zm1 0zm3 0zm-3-1zm1 0zm2 0zm-7-1zm3 0zm1 0zm3 0zm-6-1zm4 0zm1 0zm1 0zm-7-1zm1 0zm3 0zm1 0zm-3-2zm2 0zm2 0zm-6-1zm2 0zm-2-1zm3 0zm4 0zm-5-1zm4 0zm1 0zm-5-1zm2 0zm1 0zm-4-1zm2 0zm2 0zm1 0zm1 0zm-6-1zm1 0zm1 0zm2 0zm2 0zm-6-1zm6 0zm-6-1zm2 0zm3 0zm1 0zm-4-2zm1 0zm3 0zm-6-1zm1 0zm5 0zm-4-1zm2 0zm1 0zm1 0zm-6-1zm1 0zm4 0zm-5-1zm6 0zm-7-1zm4-1zm-4-1zm1 0zm2 0zm2 0zm-5-1zm2 0zm4 0zm-2-2zm-2-1zm2 0zm1 0zm2 0zm-2-1zm-1-1zm2 0zm-1-1zm-1-2zm1 0zm-1-1zm2 0zm1-4zm-1-1zm1 0zm6-10zm-2 2zm1 1zm3 1zm-5 2zm4 0zm-5 2zm1 0zm1 1zm2 0zm-3 1zm-2 1zm2 0zm-2 1zm2 0zm4 0zm1 0zm-7 1zm2 0zm-2 1zm6 0zm-5 1zm4 0zm1 0zm-6 1zm3 0zm1 0zm1 0zm1 0zm-4 1zm3 0zm1 0zm1 0zm-5 1zm3 0zm-4 1zm2 0zm1 0zm-2 1zm4 0zm-6 1zm1 0zm3 0zm2 0zm-5 1zm5 0zm-2 1zm3 0zm-5 1zm-2 1zm1 0zm1 0zm1 0zm2 0zm1 0zm-5 2zm1 0zm1 0zm1 0zm-1 1zm2 0zm-4 1zm2 0zm2 0zm1 0zm1 0zm-2 1zm-2 1zm3 0zm-5 1zm6 0zm-7 1zm2 0zm1 0zm2 0zm2 0zm-4 1zm2 0zm-4 1zm4 0zm1 0zm-6 1zm3 0zm1 0zm1 0zm-5 2zm2 0zm4 0zm-5 1zm1 0zm2 0zm1 0zm1 0zm1 0zm-6 1zm2 0zm1 0zm-1 1zm2 0zm-5 1zm3 0zm1 0zm3 0zm-7 1zm2 0zm3 0zm1 0zm-6 1zm3 0zm1 0zm2 0zm-6 1zm2 1zm2 0zm1 0zm0 1zm1 0zm-6 1zm2 0zm2 0zm1 0zm1 0zm-5 1zm3 0zm1 0zm1 0zm1 0zm-7 1zm2 0zm2 0zm2 0zm0 1zm1 0zm-7 2zm1 0zm1 0zm1 0zm1 0zm1 0zm1 0zm1 0zm-4 1zm3 0zm1 0zm-7 1zm3 0zm2 0zm1 0zm-6 1zm6 0zm1 0zm-6 1zm1 0zm1 0zm1 0zm1 1zm1 0zm-4 1zm1 0zm1 0zm-2 1zm3 0zm-4 1zm0 1zm0 5zm9-13zm4 0zm1 0zm-6-1zm-1-1zm4 0zm1 0zm0-1zm-4-1zm3 0zm-4-1zm3-1zm-3-1zm1 0zm5 0zm1 0zm-6-1zm4 0zm2 0zm-6-1zm0-1zm1 0zm4 0zm-5-1zm0-1zm4 0zm-5-1zm5 0zm1 0zm-5-1zm4 0zm-3-1zm2 0zm3 0zm-6-1zm1 0zm4 0zm-6-1zm5 0zm-5-1zm2 0zm4 0zm-6-1zm4 0zm-3-1zm1 0zm1 0zm3-1zm1 0zm-6-1zm3 0zm-3-1zm2 0zm2 0zm-3-1zm1 0zm2 0zm0-1zm-3-1zm1 0zm1 0zm1 0zm-4-1zm1 0zm3 0zm1 0zm-6-1zm5 0zm-5-1zm6 0zm-4-1zm2 0zm3 0zm-2-1zm-3-1zm1 0zm1 0zm-3-1zm3-1zm2 0zm-6-1zm1 0zm1 0zm2 0zm1 0zm-4-1zm2 0zm1 0zm2 0zm-6-1zm5 0zm2 0zm-5-1zm1 0zm1 0zm1-1zm-5-2zm1 0zm5 0zm-6-1zm1 0zm1 0zm2 0zm1 0zm1 0zm-5-1zm2 0zm2 0zm-2-1zm1 0zm1 0zm1 0zm-5-1zm3 0zm1 0zm1 0zm0-1zm0-1zm1 0zm-1-2zm1 0zm-6-2zm2 0zm2 0zm1 0zm-6-1zm2 0zm2 0zm0-1zm3 0zm-7-1zm2 0zm1 0zm1 0zm3 0zm-5-1zm3 0zm-4-1zm5 0zm0-1zm1 0zm0-1zm0-2zm3-2zm3 1zm2 0zm0 1zm-1 1zm1 0zm-3 1zm1 0zm-4 1zm1 0zm3 0zm0 1zm2 0zm-6 1zm1 0zm-1 1zm5 0zm-6 1zm2 0zm1 0zm2 0zm0 1zm-1 1zm1 0zm1 0zm1 0zm-7 1zm2 0zm3 0zm-1 1zm3 0zm-2 1zm1 0zm1 0zm-7 1zm1 0zm3 0zm-1 1zm1 0zm2 0zm-6 1zm1 0zm1 0zm3 0zm-5 1zm1 1zm2 0zm-2 1zm2 0zm3 0zm1 0zm-7 1zm4 0zm2 0zm-6 1zm7 0zm-3 1zm0 1zm2 0zm-2 1zm1 0zm1 0zm-5 1zm2 0zm-2 1zm4 0zm-5 1zm1 0zm3 0zm1 0zm2 0zm-6 2zm3 0zm1 0zm-5 1zm1 0zm4 0zm1 0zm-4 1zm1 0zm3 0zm1 0zm-7 1zm2 0zm1 0zm4 0zm-3 1zm-4 1zm5 0zm-3 1zm2 0zm-4 1zm1 0zm4 0zm2 0zm-6 1zm2 0zm1 0zm2 0zm-3 1zm-2 1zm3 0zm2 0zm-6 1zm1 0zm4 0zm2 1zm-7 1zm1 0zm3 0zm2 0zm1 0zm-6 1zm1 0zm-1 1zm1 0zm3 0zm1 0zm0 1zm-5 1zm1 0zm2 0zm-4 1zm2 0zm3 0zm1 0zm-6 1zm3 0zm0 1zm1 0zm1 0zm2 0zm-7 1zm1 0zm1 0zm-1 1zm2 0zm-1 1zm-2 1zm3 0zm1 0zm3 0zm-6 1zm4 0zm-5 1zm2 0zm3 0zm-3 1zm4 1zm1 0zm-7 1zm2 0zm6 1zm2-2zm-1-1zm4 0zm-2-1zm1 0zm-4-1zm1-1zm2 0zm1-1zm1 0zm1 0zm-3-1zm0-1zm4 0zm-3-1zm-2-1zm-2-1zm4 0zm-4-2zm3 0zm1 0zm1 0zm2 0zm-7-1zm1 0zm4 0zm1 0zm-5-1zm0-1zm4 0zm2 0zm-6-1zm1 0zm1 0zm-1-1zm1 0zm2 0zm-2-1zm1 0zm1 0zm-3-1zm2 0zm-4-1zm4 0zm1 0zm2 0zm-5-1zm3 0zm-5-1zm1 0zm1 0zm2 0zm-4-1zm1 0zm1 0zm-1-1zm3 0zm3 0zm-5-1zm2 0zm-3-1zm1 0zm-2-1zm3 0zm2 0zm2 0zm-5-1zm1 0zm1 0zm1 0zm-4-1zm2 0zm-2-1zm5 0zm1 0zm-6-1zm2 0zm3 0zm-6-1zm1 0zm3 0zm2 0zm-5-1zm6 0zm-4-1zm2 0zm1 0zm-6-1zm1 0zm5 0zm1 0zm-7-1zm2 0zm1 0zm1 0zm2-1zm1 0zm-6-1zm6-1zm-2-1zm2 0zm-7-1zm5 0zm1 0zm-5-1zm1 0zm1 0zm2 0zm1 0zm-6-1zm4 0zm2 0zm1 0zm-5-1zm3 0zm-3-1zm1 0zm2 0zm1 0zm-5-1zm2 0zm1 0zm3 0zm-7-1zm4-1zm3 0zm-6-1zm3 0zm-4-1zm4 0zm-4-1zm1 0zm1 0zm1 0zm1 0zm1 0zm-5-1zm4 0zm-2-1zm1 0zm-2-1zm0-1zm3 0zm3 0zm-5-1zm0-1zm2 0zm0-3zm2 0zm-3-2zm9-1zm-4 3zm5 0zm1 0zm-6 1zm1 0zm4 0zm-4 1zm1 0zm1 0zm1 0zm-4 1zm4 0zm2 0zm-6 1zm1 0zm3 0zm-3 1zm1 0zm1 0zm1 1zm3 0zm-3 1zm1 0zm1 0zm-5 1zm1 0zm4 0zm-5 1zm2 0zm1 0zm3 0zm-7 1zm3 0zm1 1zm-4 1zm1 0zm1 0zm2 0zm1 0zm-3 1zm-1 1zm2 0zm1 0zm3 0zm0 1zm-7 1zm1 0zm3 0zm3 0zm-7 1zm6 0zm-3 1zm2 0zm2 0zm-6 1zm1 0zm1 0zm2 0zm1 0zm-6 1zm3 0zm3 0zm-6 1zm1 0zm5 0zm1 0zm-6 1zm2 0zm1 0zm3 0zm-3 1zm1 0zm1 0zm1 0zm-6 1zm1 0zm0 1zm2 0zm2 0zm-1 1zm-1 1zm3 0zm-5 1zm2 0zm1 0zm2 0zm-5 1zm1 0zm1 0zm2 0zm-6 1zm1 0zm0 1zm3 0zm2 0zm1 0zm-1 1zm1 0zm-6 1zm0 1zm1 0zm-2 1zm6 0zm-5 1zm4 0zm1 0zm-4 1zm1 0zm4 0zm-6 1zm3 0zm1 0zm1 0zm-4 1zm3 0zm-4 1zm2 0zm3 1zm-5 1zm4 0zm1 0zm1 0zm-7 1zm2 0zm3 0zm-5 1zm1 0zm1 0zm3 0zm-4 1zm6 0zm-6 1zm1 0zm2 1zm2 0zm-5 1zm3 0zm-4 1zm4 0zm-4 1zm1 0zm4 0zm-4 1zm2 0zm2 0zm-2 1zm1 0zm2 0zm-4 1zm4 0zm-6 1zm1 0zm1 0zm1 0zm3 0zm-4 1zm2 0zm3 0zm-5 1zm1 0zm1 0zm2 0zm1 1zm-4 2zm3 0zm-5 1zm1 0zm1 1zm2 0zm3 0zm7 0zm-1-1zm-5-1zm3 0zm1 0zm-4-1zm5 0zm-5-1zm1 0zm4 0zm-6-1zm2 0zm1 0zm1 0zm2 0zm-6-1zm2 0zm2 0zm-4-1zm1 0zm3 0zm-2-1zm2 0zm2 0zm-6-1zm5 0zm2 0zm-7-1zm1 0zm4 0zm1 0zm-6-1zm3-1zm2 0zm1 0zm-4-1zm-1-1zm2 0zm-2-1zm4 0zm1 0zm1 0zm-1-1zm-6-1zm3 0zm2 0zm-3-1zm3 0zm-2-1zm3 0zm-6-2zm1 0zm3 0zm-4-1zm1 0zm4 0zm1 0zm-6-1zm1 0zm2 0zm-3-1zm6 0zm-2-1zm1 0zm1 0zm1 0zm-1-1zm-5-1zm4 0zm1 0zm1 0zm-5-1zm2 0zm1 0zm1 0zm-1-1zm1 0zm1 0zm-7-1zm2 0zm3 0zm2 0zm-7-1zm1 0zm2 0zm2 0zm-5-2zm2 0zm3 0zm-5-1zm1 0zm1 0zm3 0zm1 0zm1 0zm-7-1zm1 0zm2 0zm2 0zm2 0zm-5-1zm1 0zm1 0zm1 0zm-5-1zm6 0zm-6-1zm1 0zm6 0zm-6-1zm4 0zm2 0zm-6-1zm1 0zm2 0zm1 0zm-3-1zm1 0zm4 0zm-3-1zm-4-1zm5 0zm-4-1zm3 0zm-4-1zm2 0zm3 0zm-2-1zm2 0zm1 0zm1 0zm-1-1zm-2-1zm3 0zm-3-1zm-2-2zm4-1zm1 0zm-6-1zm3 0zm1 0zm0-1zm-5-1zm5 0zm1 0zm-6-1zm7 0zm-3-1zm1 0zm-5-1zm1 0zm1 0zm1 0zm1 0zm2 0zm-4-1zm1 0zm2 0zm2 0zm-6-1zm5 0zm-4-1zm4-1zm-6-1zm5 0zm1 0zm1 0zm-7-1zm3 0zm1 0zm-4-1zm1 0zm2 0zm1 0zm1-1zm2-2zm-1-1zm1 0zm1 0zm6 0zm-3 1zm2 0zm-4 1zm0 1zm6 0zm-6 1zm1 0zm2 0zm3 0zm-7 1zm1 0zm1 0zm2 0zm1 0zm-1 1zm-4 1zm2 0zm2 0zm-4 1zm5 0zm-5 1zm1 0zm2 0zm1 0zm-3 1zm5 0zm1 0zm-6 1zm4 0zm0 1zm2 0zm-5 1zm4 0zm-5 1zm1 0zm2 0zm3 0zm-5 1zm1 0zm2 0zm-4 1zm1 1zm4 0zm-3 1zm4 0zm-6 1zm4 0zm2 0zm-5 1zm1 0zm2 0zm-4 1zm2 0zm-1 2zm5 1zm-7 1zm1 0zm2 0zm2 0zm-5 1zm1 0zm3 0zm1 0zm-2 1zm3 0zm1 0zm-1 1zm-5 1zm1 0zm4 0zm-4 1zm4 0zm-4 1zm1 0zm1 0zm1 0zm1 0zm1 1zm-6 1zm4 0zm-5 1zm1 0zm1 0zm-1 1zm1 0zm1 0zm4 0zm-6 1zm3 0zm0 1zm1 0zm2 0zm-7 1zm4 0zm1 0zm1 0zm-6 1zm2 0zm4 0zm1 1zm-7 1zm3 0zm3 0zm1 0zm-4 1zm3 0zm1 0zm-4 1zm2 0zm2 0zm-6 1zm2 0zm3 0zm1 0zm-5 1zm1 0zm4 0zm-3 1zm2 0zm1 0zm-5 1zm1 0zm2 0zm2 0zm-6 2zm3 0zm-4 1zm3 1zm3 0zm-6 1zm1 0zm1 0zm2 0zm1 0zm2 0zm-7 1zm7 0zm-6 1zm1 0zm5 0zm-3 1zm-3 1zm2 0zm3 0zm-2 1zm3 0zm-6 1zm3 0zm1 0zm-4 1zm3 0zm3 0zm-2 1zm-4 1zm1 0zm5 0zm-6 1zm3 0zm2 0zm1 0zm-7 1zm6 0zm-6 1zm2 0zm-2 1zm2 0zm1 0zm-1 1zm2 0zm3 0zm-5 1zm4 0zm-1 1zm-5 1zm2 0zm4 0zm1 0zm-2 1zm4 1zm4-1zm-1-1zm1 0zm-5-1zm1 0zm4 0zm1 0zm-3-1zm1 0zm1 0zm-4-1zm1 0zm2 0zm1 0zm-5-1zm4 0zm2 0zm-6-1zm2 0zm1 0zm2 0zm1 0zm-6-1zm1 0zm2 0zm-3-1zm2 0zm1 0zm3 0zm1 0zm-7-1zm1 0zm5 0zm-6-1zm1-1zm1 0zm2 0zm1 0zm-2-1zm2 0zm1 0zm1 0zm-5-3zm1-1zm3 0zm-6-1zm1 0zm3 0zm1 0zm1 0zm-6-1zm7 0zm-6-1zm4 0zm1 0zm-5-1zm6 0zm-7-1zm1 0zm3 0zm1 0zm1 0zm-5-1zm2 0zm-3-1zm3 0zm-3-1zm2 0zm2 0zm-4-1zm6 0zm-5-1zm1 0zm1 0zm1 0zm2 0zm-5-1zm1 0zm4 0zm1 0zm-7-1zm1 0zm2 0zm1 0zm2 0zm1 0zm-5-1zm-1-1zm4 0zm2 0zm-6-1zm1 0zm1 0zm3 0zm1 0zm-3-1zm1 0zm1 0zm-5-1zm3 0zm-4-1zm3 0zm1 0zm2 0zm-6-1zm2 0zm1 0zm2 0zm-5-1zm1 0zm5 0zm1 0zm-7-1zm3 0zm1-1zm2 0zm1 0zm-5-1zm1 0zm-3-1zm5 0zm-3-1zm-2-1zm1 0zm1 0zm3 0zm1 0zm1 0zm-4-1zm1 0zm1-1zm-5-1zm5 0zm1 0zm-2-1zm1 0zm-5-1zm2 0zm5 0zm-7-1zm3 0zm2 0zm-5-1zm6 0zm-2-2zm-1-1zm-3-2zm2 0zm5 0zm-6-1zm5 0zm-4-1zm-2-1zm3 0zm1 0zm1 0zm2 0zm-5-1zm2 0zm2 0zm-6-1zm3 0zm0-1zm1 0zm3 0zm-4-1zm2 0zm1 0zm-5-1zm1 0zm1 0zm2 0zm-3-1zm1 0zm1 0zm3 0zm-2-1zm-2-1zm3-1zm-4-1zm1 0zm2 0zm-3-1zm4 0zm0-1zm-2-1zm2 0zm1 0zm-6-1zm2 0zm3 0zm-5-2zm2 0zm4 0zm-5-1zm1 0zm-1-1zm9 4zm0 2zm1 0zm-3 1zm1 0zm2 0zm1 1zm1 0zm-6 1zm4 0zm-3 1zm2 0zm1 0zm-3 1zm4 0zm-5 1zm3 0zm-1 1zm1 0zm4 0zm-7 1zm3 0zm4 0zm-7 1zm1 0zm3 0zm1 0zm1 0zm-2 1zm0 1zm-3 1zm2 1zm1 0zm2 0zm1 0zm-7 1zm7 0zm-7 1zm2 0zm1 0zm3 0zm1 0zm-5 1zm4 0zm1 0zm-7 1zm5 0zm1 0zm-3 1zm2 0zm1 0zm-6 1zm1 0zm2 0zm-2 2zm3 0zm1 0zm-4 2zm4 0zm1 0zm-5 1zm1 0zm0 1zm1 0zm-3 1zm1 0zm2 0zm1 0zm0 1zm-3 1zm4 1zm1 0zm1 1zm-7 1zm4 0zm2 0zm1 0zm-7 1zm1 0zm1 0zm3 0zm-2 1zm2 0zm-5 1zm7 0zm-3 1zm2 0zm-4 1zm5 0zm-6 1zm-1 1zm2 0zm1 0zm1 0zm2 0zm1 0zm-6 1zm4 0zm-4 1zm1 0zm4 0zm1 0zm-5 1zm4 0zm-4 1zm4 0zm-5 1zm1 0zm2 0zm2 0zm-5 1zm3 0zm1 0zm2 0zm-7 1zm4 0zm1 0zm-3 1zm4 0zm-4 1zm1 0zm3 0zm-4 1zm2 0zm3 0zm-7 1zm4 0zm-2 1zm1 0zm4 0zm0 1zm-4 1zm1 0zm1 0zm1 0zm1 0zm-7 1zm1 0zm1 0zm1 0zm4 0zm-4 1zm-2 1zm1 0zm1 0zm-2 1zm-1 1zm1 0zm1 0zm5 0zm-7 1zm6 0zm-6 1zm5 0zm1 0zm-6 1zm7 0zm-6 1zm2 0zm4 0zm-6 1zm2 0zm2 1zm-5 1zm3 0zm3 0zm-2 1zm-4 3zm11-9zm-2-1zm1-2zm3-1zm-3-1zm-1-1zm1 0zm1 0zm4 0zm-6-1zm2 0zm-1-1zm1 0zm2 0zm-5-2zm1 0zm2 0zm1 0zm-4-1zm2 0zm4 0zm-2-1zm1 0zm1 0zm-2-1zm2 0zm-4-1zm-1-1zm1 0zm2 0zm-2-1zm1 0zm2 0zm1 0zm1 0zm-7-1zm5 0zm-5-1zm2 0zm2 0zm1 0zm-2-1zm4 0zm-5-2zm3 0zm-1-1zm1 0zm0-1zm1 0zm-4-1zm1 0zm4 0zm-7-1zm6 0zm0-1zm-5-1zm1 0zm4 0zm-1-1zm-1-1zm1 0zm-5-1zm3 0zm1 0zm1 0zm-3-2zm5 0zm-5-1zm5 0zm-7-1zm1 0zm1 0zm1 0zm1 0zm2 0zm1 0zm-6-1zm2 0zm1-1zm1-1zm1 0zm1 0zm-7-1zm1 0zm4 0zm-3-1zm0-1zm2 0zm1 0zm-4-1zm2 0zm1 0zm0-1zm2 0zm-6-1zm2 0zm2 0zm1 0zm-4-1zm3 0zm3 0zm-5-1zm1 0zm1 0zm1 0zm2 0zm-5-1zm4 0zm-6-1zm4 0zm1 0zm2 0zm-6-1zm1 0zm1 0zm-3-1zm1 0zm1 0zm3 0zm-4-1zm1 0zm1-1zm-3-1zm2 0zm0-2zm1 0zm-3-1zm1-2zm4-2zm6 9zm2 0zm-2 1zm-3 2zm1 0zm2 2zm4 0zm-6 1zm1 0zm2 0zm-3 1zm1 0zm2 0zm-4 1zm2 1zm1 0zm1 0zm-3 1zm2 0zm-2 1zm2 0zm-3 1zm2 0zm2 0zm-2 1zm-2 1zm1 0zm2 0zm-3 2zm2 1zm1 0zm-2 1zm5 0zm-6 1zm4 0zm3 0zm-7 1zm1 0zm3 0zm-4 1zm1 0zm2 0zm1 0zm1 1zm-5 1zm1 0zm3 0zm1 0zm-4 1zm2 1zm2 0zm2 1zm-7 1zm3 0zm4 0zm-5 1zm1 0zm2 0zm-3 1zm1 0zm1 0zm3 0zm-5 1zm3 0zm1 0zm-6 1zm4 0zm-4 1zm2 0zm4 0zm-6 1zm2 0zm1 0zm1 0zm3 0zm-6 1zm4 0zm2 0zm-7 2zm2 1zm-2 1zm5 0zm1 0zm-4 1zm1 0zm-2 1zm1 0zm0 1zm1 0zm1 0zm-4 1zm1 0zm1 0zm2 0zm2 0zm-1 1zm-5 1zm1 2zm3 0zm4-6zm1-3zm-1-7z" stroke="#9DD893" stroke-width="3.2" stroke-opacity="0.85"/><path d="M685 3378zm2 0zm-1-2zm-1-1zm1 0zm0-1zm1 0zm-1-1zm9-3zm-4 2zm2 1zm1 0zm-5 1zm1 0zm4 0zm-4 1zm1 0zm3 0zm1 0zm-6 1zm1 0zm1 0zm3 0zm-4 2zm-2 2zm8-5zm0-1zm3 0zm-2-1zm1 0zm3 0zm2 0zm-7-1zm5 0zm-4-1zm2 0zm-1-1zm5 0zm0-2zm0-1zm1 0zm4 0zm1 0zm-5 1zm1 0zm2 0zm3 0zm1 0zm-7 1zm2 0zm1 0zm1 0zm2 0zm-4 1zm5 0zm-5 1zm-2 2zm10-2zm0-2zm-2-1zm1 0zm2 0zm1 0zm3 0zm-7-1zm3 0zm-3-1zm3 0zm2 0zm1 0zm-4-1zm4 0zm-5-1zm5-1zm3 1zm1 0zm-1 1zm2 0zm2 0zm-3 1zm1 0zm2 1zm1 0zm-6 1zm1 0zm3 0zm-3 1zm-1 2z" stroke="#5E3FA0" stroke-width="3.2" stroke-opacity="0.85"/><path d="M658 3378zm11 4zm-2-1zm2-1zm-5-2zm3 0zm-1-2zm5-1zm-7-1zm7 0zm5 2zm2 2zm-6 5zm11 5zm-1-1zm1 0zm1-1zm1 0zm-1-3zm2 0zm-6-3zm7 0zm-5-5zm3 0zm-1-2zm2-1zm-2-1zm0-5zm11-6zm-3 5zm-1 1zm0 3zm-2 1zm2 1zm-3 8zm2 4zm2 0zm1 1zm5-2zm0-5zm-2-7zm1-2zm1-4zm1-2zm10 8zm-1 4zm-1 5zm2 6zm-3 2zm9-3zm-3-1zm1 0zm5-8zm8 3zm0 4zm-4 4zm11 0z" stroke="#5E3FA0" stroke-width="3.2" stroke-opacity="0.85"/><path d="M639 3392zm-2-4zm1-2zm0-1zm1 0zm-3-1zm1-1zm1 0zm-1-1zm0-2zm2 0zm-2-1zm3 5zm2 0zm4 0zm-5 1zm2 0zm3 0zm-6 1zm5 0zm-4 1zm0 1zm3 0zm3 0zm-2 1zm1 0zm1 0zm-7 1zm5 0zm1 0zm-2 1zm-4 1zm2 1zm3 0zm2 0zm-2 1zm-3 1zm3 0zm2 1zm-4 1zm1 0zm2 0zm1 0zm0 1zm-1 1zm1 0zm0 1zm0 1zm8 16zm-1-5zm1-1zm-6-2zm4 0zm2 0zm-7-1zm7 0zm-6-1zm4 0zm-1-1zm1 0zm1 0zm1 0zm-4-1zm2 0zm2 0zm-6-1zm1 0zm2 0zm-4-1zm1 0zm1 0zm2 0zm1 0zm-4-1zm4 0zm1 0zm1 0zm-7-1zm2 0zm1 0zm1 0zm2 0zm1 0zm-4-1zm2 0zm-5-1zm1 0zm4 0zm2 0zm-7-1zm1 0zm3 0zm1 0zm-2-1zm2 0zm1 0zm-4-1zm4 0zm-5-1zm1 0zm4 0zm-5-1zm1 0zm2 0zm1 0zm1 0zm1 0zm-2-1zm-3-1zm1 0zm-2-1zm3 0zm1 0zm1 0zm-3-1zm-1-2zm3-1zm-4-1zm6-1zm3 7zm2 0zm1 0zm-4 1zm1 0zm-1 1zm-1 1zm1 0zm4 0zm2 0zm-7 1zm3 0zm2 0zm-4 1zm3 0zm1 0zm-5 1zm1 0zm1 0zm3 0zm1 0zm1 0zm-4 1zm-2 1zm3 0zm-4 1zm2 0zm1 0zm1 0zm1 0zm1 0zm1 0zm-7 1zm3 0zm-1 1zm3 0zm1 0zm-6 1zm1 0zm1 0zm4 0zm1 0zm-6 1zm1 0zm4 0zm1 0zm-3 1zm1 0zm2 0zm-7 1zm2 0zm1 0zm-1 1zm1 0zm2 0zm2 0zm-7 1zm1 0zm2 0zm1 0zm-3 1zm3 0zm1 0zm1 0zm1 0zm-6 1zm4 0zm-5 1zm1 0zm2 0zm1 0zm1 0zm1 0zm-4 1zm2 0zm1 1zm-2 1zm1 0zm1 0zm-3 1zm3 0zm0 2zm10 7zm-1-1zm0-2zm-1-1zm-1-1zm1 0zm1 0zm1 0zm-3-1zm1 0zm1 0zm-4-1zm3 0zm1 0zm1 0zm-7-1zm3 0zm1 0zm3 0zm-7-2zm3 0zm1 0zm1 0zm-5-1zm1 0zm3 0zm3 0zm-5-1zm1 0zm2-1zm-4-1zm2 0zm1 0zm-4-1zm3 0zm3 0zm1-1zm-7-1zm2 0zm3 0zm2 0zm-7-1zm3 0zm1 0zm1 0zm1 0zm-5-1zm1 0zm3 0zm1 0zm-6-1zm1 0zm1 0zm2 0zm-4-1zm2 0zm3 0zm-4-1zm1 0zm1 0zm4 0zm-7-1zm1 0zm2 0zm3 0zm1 0zm-7-1zm1 0zm1 0zm1 0zm2 0zm1 0zm-5-1zm3 0zm2 0zm1 0zm-5-1zm1 0zm1 0zm3 0zm-6-1zm1 0zm3 0zm-4-1zm5 0zm1 0zm-6-1zm1 0zm4 0zm-4-1zm3 0zm1 0zm1 0zm-2-2zm2 0zm1 1zm1 0zm-1 1zm3 0zm1 0zm0 1zm-1 1zm2 0zm-5 1zm3 0zm2 0zm-3 1zm1 0zm1 1zm3 0zm-5 1zm2 0zm-4 1zm2 0zm1 0zm1 0zm-4 1zm1 0zm2 0zm2 0zm2 0zm-7 1zm2 0zm2 0zm3 0zm-4 1zm3 0zm-6 1zm1 0zm1 0zm3 0zm2 0zm-5 1zm1 0zm2 0zm2 0zm-4 1zm1 0zm1 0zm-4 1zm3 0zm1 0zm2 0zm-7 1zm2 1zm1 0zm1 1zm1 0zm-5 1zm4 0zm1 0zm1 0zm0 1zm1 0zm-7 1zm1 0zm1 0zm3 0zm1 0zm1 0zm-5 1zm2 0zm1 0zm-4 1zm1 0zm1 0zm3 0zm1 0zm-6 1zm1 0zm1 0zm1 0zm-4 1zm2 0zm1 0zm0 1zm-3 1zm2 0zm1 0zm3 0zm-5 1zm2 0zm1 0zm2 0zm-5 1zm5 0zm1 0zm-5 1zm4 0zm-6 1zm4 0zm1 0zm1 1zm-1 1zm1 0zm-1 1zm9 7zm-4-2zm1-2zm2 0zm0-1zm1 0zm1 0zm-4-1zm1 0zm3 0zm-5-1zm2 0zm1 0zm-3-1zm3 0zm1 0zm1 0zm-5-1zm3 0zm2 0zm-7-1zm1 0zm3 0zm1 0zm-4-1zm1 0zm1 0zm1 0zm2 0zm1 0zm-3-1zm-2-1zm1 0zm1 0zm1 0zm1 0zm-6-1zm3 0zm2 0zm2 0zm-6-1zm1 0zm1 0zm2 0zm1 0zm1 0zm-6-1zm2 0zm4 0zm-7-1zm1 0zm1 0zm1 0zm4 0zm-7-1zm6 0zm-4-1zm2 0zm3 0zm-2-1zm2 0zm-7-1zm4 0zm2 0zm1 0zm-2-1zm2 0zm-7-1zm5 0zm-3-1zm3 0zm1 0zm-5-1zm1 0zm3 0zm1 0zm-4-1zm-1-1zm1 0zm1 0zm2 0zm-5-1zm1 0zm5 0zm-6-1zm2 0zm4 0zm-6-1zm1 0zm3 0zm1 0zm1 0zm1 0zm-5-1zm1 0zm2 0zm1 0zm1 0zm-7-1zm3 0zm2 0zm1 0zm-6-1zm3 0zm1 0zm2 0zm1 0zm-6-1zm1 0zm3 0zm2 0zm-1-1zm1 0zm-7-1zm6-1zm1 0zm-7-1zm2 0zm-1-1zm1-1zm-1-1zm11 3zm2 1zm-3 1zm-3 1zm3 0zm1 0zm1 0zm-5 1zm2 0zm2 0zm3 0zm-4 1zm4 0zm-5 1zm2 0zm1 0zm1 0zm-4 1zm3 0zm1 0zm1 0zm-7 1zm4 0zm2 0zm1 0zm-7 1zm2 0zm1 0zm1 0zm2 0zm-4 1zm1 0zm1 0zm2 0zm-6 1zm2 0zm1 0zm2 0zm1 0zm1 0zm-6 1zm2 0zm1 0zm2 0zm1 0zm-6 1zm3 0zm2 0zm-5 1zm0 1zm5 0zm1 0zm-7 1zm5 0zm2 0zm-7 1zm6 0zm-4 1zm2 0zm-4 1zm1 0zm2 0zm2 0zm2 0zm-6 1zm1 0zm4 0zm-4 1zm1 0zm3 0zm1 0zm-5 1zm1 0zm1 0zm1 0zm2 0zm-7 1zm1 0zm1 0zm2 0zm1 0zm-2 1zm1 0zm2 0zm-3 1zm2 0zm1 0zm-6 1zm2 0zm1 0zm1 0zm1 0zm1 0zm-6 1zm6 0zm-4 1zm1 0zm1 0zm1 0zm-5 1zm7 0zm-3 1zm2 0zm1 0zm-7 1zm2 0zm3 0zm1 0zm-4 1zm3 0zm2 0zm-7 1zm5 0zm1 0zm-5 1zm2 0zm1 0zm1 0zm1 0zm-4 1zm4 0zm1 0zm-2 1zm2 0zm-4 1zm3 0zm-1 1zm2 3zm0 1zm8 0zm-2-2zm2 0zm-6-1zm1 0zm5 0zm-7-1zm2 0zm3 0zm-5-1zm2 0zm5 0zm-6-1zm2 0zm4 0zm-5-1zm2 0zm1 0zm1 0zm-6-1zm2 0zm1 0zm1 0zm3 0zm-7-1zm2 0zm1 0zm3 0zm-4-1zm2 0zm2 0zm-5-1zm1 0zm1 0zm2 0zm-2-1zm1 0zm1 0zm2 0zm-7-1zm3 0zm2 0zm1 0zm1 0zm-6-1zm1 0zm1 0zm4 0zm-4-1zm4 0zm-7-1zm3 0zm1 0zm3 0zm-7-1zm2 0zm2 0zm-3-1zm4 0zm-5-1zm1 0zm3 0zm3 0zm-3-1zm1 0zm1 0zm-4-1zm1 0zm1 0zm1 0zm-5-1zm1 0zm4 0zm-5-1zm3 0zm3 0zm-5-1zm1 0zm1 0zm3 0zm1 0zm-6-1zm6 0zm-5-1zm2 0zm3 0zm-6-1zm1 0zm2 0zm-4-1zm2 0zm1 0zm3 0zm-4-1zm2 0zm3 0zm-6-1zm2 0zm2 0zm2 0zm-7-1zm2 0zm2 0zm2 0zm1 0zm-7-1zm2 0zm1 0zm-1-1zm2 0zm1 0zm2 0zm-5-1zm1 0zm0-1zm2 0zm-5-1zm1 0zm4 0zm2 0zm-7-1zm5 0zm1 0zm-3-1zm1 0zm1-1zm1 0zm-4-2zm2-1zm2 0zm-6-3zm10 2zm5 2zm-7 1zm3 0zm2 0zm-2 2zm1 0zm1 0zm2 0zm-7 1zm2 1zm3 0zm1 0zm-2 1zm-4 1zm1 0zm1 0zm3 0zm-5 1zm2 0zm1 0zm2 0zm1 0zm-5 1zm2 0zm-3 1zm1 0zm1 0zm3 0zm-5 1zm1 0zm2 0zm2 0zm2 0zm-5 1zm2 0zm1 0zm-2 1zm1 0zm1 0zm-5 1zm1 0zm1 0zm1 0zm1 0zm-2 1zm1 0zm4 0zm-4 1zm2 0zm1 0zm1 0zm-7 1zm3 0zm1 0zm3 0zm-6 1zm2 0zm3 0zm1 0zm-6 1zm2 0zm1 0zm2 0zm1 0zm-7 1zm2 0zm1 0zm3 0zm1 0zm-5 1zm1 0zm3 0zm-6 1zm2 0zm4 0zm1 0zm-6 1zm2 0zm-2 1zm2 0zm1 0zm-1 1zm3 1zm-6 1zm1 0zm2 0zm2 0zm-5 1zm1 0zm1 0zm1 0zm2 0zm-4 1zm1 0zm3 0zm-3 1zm2 0zm2 0zm1 0zm-6 1zm3 0zm1 0zm2 0zm-6 1zm1 0zm5 0zm-7 1zm1 0zm2 0zm4 0zm-6 1zm1 0zm2 0zm1 0zm1 0zm-2 1zm1 0zm1 0zm-2 1zm2 0zm-4 1zm1 0zm1 0zm1 0zm-4 1zm0 1zm1 0zm4 0zm-6 1zm1 0zm2 0zm3 0zm-6 1zm1 0zm1 0zm3 0zm1 0zm-6 1zm1 0zm3 0zm1 0zm2 0zm0 1zm4 5zm4-1zm-3-1zm-4-1zm3 0zm1-1zm2 0zm-6-1zm7 0zm-7-1zm1 0zm1 0zm1 0zm1 0zm1 0zm1 0zm-6-1zm7 0zm-5-1zm2 0zm1 0zm-5-1zm3 0zm1 0zm1 0zm2 0zm-6-1zm2 0zm3 0zm-5-1zm2 0zm-3-1zm2 0zm3 0zm2 0zm-7-1zm3 0zm1 0zm3 0zm-7-1zm4 0zm1 0zm-3-1zm1 0zm2 0zm1 0zm-4-1zm4 0zm-4-1zm1 0zm1 0zm2 0zm-1-1zm-5-1zm2 0zm2 0zm2 0zm-6-1zm2 0zm1 0zm1 0zm1 0zm1 0zm1 0zm-6-1zm3 0zm2 0zm1 0zm-6-1zm3 0zm-4-1zm1 0zm-1-1zm2 0zm2 0zm-1-1zm3 0zm-6-1zm1 0zm1 0zm2 0zm2 0zm-6-1zm3 0zm2 0zm1 0zm1 0zm-7-1zm2 0zm1 0zm3 0zm-6-1zm1 0zm3 0zm1 0zm1 0zm1 0zm-7-1zm1 0zm1 0zm1 0zm-3-1zm5 0zm1 0zm-6-1zm1 0zm2 0zm1 0zm1 0zm1 0zm1 0zm-6-1zm1 0zm5 0zm-7-1zm1 0zm1 0zm2 0zm1 0zm-4-1zm1 0zm3 0zm2 0zm-3-1zm2 0zm1 0zm-7-1zm4 0zm3 0zm-7-1zm1 0zm2 0zm2 0zm-4-1zm1 0zm1 0zm1 0zm1 0zm1 0zm1 0zm-4-1zm1 0zm1 0zm-2-1zm-3-1zm4 0zm1 0zm2 0zm-6-1zm2 0zm2 0zm1 0zm-6-1zm2 0zm-1-1zm1 0zm1 0zm0-2zm10 1zm2 0zm-6 1zm2 0zm1 0zm3 0zm-5 2zm1 0zm3 0zm1 0zm-7 1zm1 0zm1 0zm1 0zm3 0zm-6 1zm2 0zm1 0zm-2 1zm3 0zm2 0zm1 0zm-2 1zm2 0zm-5 2zm1 0zm1 0zm1 0zm2 0zm-7 1zm3 0zm3 0zm-5 1zm2 0zm1 0zm1 0zm1 0zm-6 1zm1 0zm2 0zm1 0zm-4 1zm1 0zm1 0zm1 0zm1 0zm1 0zm1 0zm1 0zm-3 1zm3 0zm-7 1zm3 0zm1 0zm1 0zm-5 1zm2 0zm2 0zm1 0zm-3 1zm-2 1zm1 0zm1 0zm2 0zm2 0zm-5 1zm1 0zm1 0zm1 0zm1 0zm2 0zm-6 1zm3 0zm2 0zm1 0zm-7 1zm5 0zm-2 1zm1 0zm-4 1zm5 0zm1 0zm-1 1zm2 0zm-4 1zm2 0zm1 0zm-3 1zm1 0zm1 0zm1 0zm-4 1zm1 0zm1 0zm-4 1zm1 0zm3 0zm1 0zm2 0zm-5 1zm1 0zm4 0zm-7 1zm2 0zm1 0zm1 0zm1 0zm-5 1zm1 0zm3 0zm1 0zm2 0zm-6 1zm2 0zm1 0zm1 0zm-2 1zm2 0zm2 0zm-5 1zm2 0zm-4 1zm5 0zm1 0zm-5 1zm3 0zm1 0zm-4 1zm6 0zm-7 1zm2 0zm1 0zm1 0zm-4 1zm1 0zm2 0zm1 0zm2 0zm1 0zm-7 1zm3 0zm2 0zm2 0zm-3 1zm-2 1zm5 0zm-6 1zm2 0zm-3 1zm5 3zm1 0zm7 3zm0-1zm-1-1zm3 0zm-4-1zm2 0zm1 0zm-5-1zm1 0zm3 0zm2 0zm-6-1zm6 0zm-6-1zm1 0zm1 0zm-3-1zm3 0zm-3-1zm1 0zm1 0zm1 0zm3 0zm-6-1zm1 0zm3 0zm2 0zm-6-1zm2 0zm1 0zm3 0zm1 0zm-7-1zm1 0zm2 0zm4 0zm-7-1zm3 0zm2 0zm-5-1zm1 0zm1 0zm4 0zm-6-1zm2 0zm1 0zm4 0zm-7-1zm1 0zm1 0zm4 0zm-5-1zm1 0zm1 0zm1 0zm3 0zm-5-1zm1 0zm1 0zm-2-1zm0-1zm1 0zm1-1zm1 0zm1 0zm1 0zm-7-1zm7 0zm-6-1zm2 0zm2 0zm-5-1zm1 0zm1 0zm2 0zm-4-1zm1 0zm6 0zm-6-1zm3 0zm3 0zm-6-1zm1 0zm1 0zm2 0zm-5-1zm4 0zm2 0zm1 0zm-1-1zm1 0zm-3-1zm3 0zm-7-1zm1 0zm2 0zm3 0zm-2-1zm3 0zm-4-1zm1 0zm1 0zm1 0zm-4-1zm3 0zm-5-1zm1 0zm2 0zm1 0zm1 0zm0-1zm0-1zm-5-1zm1 0zm2 0zm1 0zm3 0zm-7-1zm1 0zm2 0zm3 0zm1 0zm-2-1zm-4-1zm1 0zm1 0zm4-1zm-6-1zm2 0zm3 0zm-6-1zm1 0zm1 0zm1 0zm0-1zm2 0zm2 0zm-7-1zm1 0zm1 0zm3 0zm2 0zm0-2zm-7-1zm5-1zm1-2zm5 3zm2 1zm-5 1zm2 1zm3 0zm1 1zm1 0zm-5 1zm5 0zm-5 1zm1 0zm2 0zm1 0zm1 0zm-7 1zm5 0zm-4 1zm-1 1zm1 0zm1 0zm1 0zm-1 1zm4 0zm-6 1zm2 0zm1 0zm1 0zm-3 1zm1 0zm1 0zm4 0zm-5 1zm1 0zm-2 1zm2 0zm2 0zm1 0zm1 0zm-7 1zm2 0zm2 0zm3 0zm-7 1zm1 0zm3 0zm-4 1zm3 0zm4 1zm-6 1zm3 1zm1 0zm0 1zm1 0zm1 0zm-7 1zm1 0zm2 0zm1 0zm3 0zm-6 1zm1 0zm4 0zm-3 1zm1 0zm3 0zm-4 1zm2 0zm-5 1zm2 0zm3 0zm2 0zm-7 1zm1 0zm4 0zm-5 1zm2 0zm2 0zm2 0zm-5 1zm2 0zm-2 1zm1 0zm5 0zm-7 1zm1 0zm4 0zm2 0zm-7 1zm6 0zm1 0zm-7 1zm2 0zm1 0zm3 0zm1 0zm-7 1zm4 0zm2 0zm1 0zm-5 1zm3 0zm2 0zm-7 1zm1 0zm2 0zm1 0zm2 0zm-6 1zm2 0zm1 0zm-1 1zm1 0zm2 0zm1 0zm-5 1zm1 0zm2 0zm3 0zm-7 1zm1 0zm5 0zm-6 1zm0 1zm3 0zm2 0zm-5 1zm1 0zm2 0zm-3 1zm1 0zm3 0zm2 0zm0 1zm-6 1zm1 0zm4 0zm5-3zm-2-2zm1 0zm6-1zm-6-1zm2 0zm1 0zm-3-1zm1 0zm3 0zm-4-1zm2 0zm1 0zm1 0zm-5-1zm1 0zm0-1zm3 0zm1 0zm0-1zm1 0zm-3-1zm1-1zm1 0zm2 0zm-7-1zm2 0zm1 0zm1 0zm1 0zm-4-1zm1 0zm2 0zm2 0zm-6-1zm5 0zm0-1zm1 0zm1 0zm-4-1zm-3-1zm1 0zm2 0zm3 0zm1 0zm-7-1zm1 0zm1 0zm1 0zm2 0zm2 0zm-7-1zm1 0zm3 0zm3 0zm-7-1zm1 0zm1 0zm1 0zm2 0zm2 0zm-5-1zm1 0zm2 0zm-2-1zm4 0zm-4-1zm-3-1zm1 0zm2 0zm1 0zm1 0zm2-1zm-7-1zm1 0zm1 0zm1 0zm-2-1zm1 0zm5 0zm-6-1zm5 0zm1 0zm-5-1zm1 0zm2 0zm2 0zm-7-1zm7 0zm-7-1zm2 0zm1 0zm1 0zm1 0zm1 0zm-6-1zm1 0zm1 0zm4 0zm-6-1zm2 0zm1 0zm3 0zm1 0zm-7-1zm2 0zm1 0zm1 0zm3 0zm-5-1zm2 0zm2 0zm-1-1zm2 0zm-6-1zm1 0zm1 0zm1 0zm3 0zm-5-1zm3 0zm1 0zm1 0zm-5-1zm2 0zm-3-1zm1 0zm2 0zm2 0zm-5-1zm1-1zm7 0zm1 0zm-1 1zm2 0zm-1 1zm4 0zm-6 1zm3 0zm2 0zm2 0zm-7 1zm3 0zm1 0zm1 0zm-4 1zm1 0zm4 0zm1 0zm-7 1zm2 0zm5 0zm-6 1zm2 0zm4 0zm-5 1zm1 0zm1 0zm2 0zm-4 1zm1 0zm1 0zm3 0zm-7 1zm1 0zm1 0zm1 0zm1 0zm1 0zm2 0zm-7 1zm1 0zm4 0zm-5 1zm2 0zm3 0zm2 0zm-3 1zm1 0zm1 0zm-6 1zm2 0zm3 0zm-4 1zm3 0zm2 0zm-6 1zm1 0zm4 0zm2 0zm-3 1zm2 0zm-6 1zm2 0zm1 0zm1 0zm-4 1zm1 0zm1 0zm4 0zm-3 1zm4 0zm-6 1zm1 0zm3 0zm-4 1zm1 0zm2 0zm1 0zm1 0zm1 0zm-7 1zm1 0zm2 0zm1 0zm3 1zm-5 1zm2 0zm2 0zm1 0zm-5 1zm1 0zm1 0zm-3 1zm1 0zm1 0zm3 0zm-6 1zm2 0zm1 0zm1 0zm-1 1zm1 0zm3 0zm-6 1zm5 0zm-4 1zm1 0zm3 0zm-5 1zm-1 1zm1 0zm0 1zm1 0zm3 0zm1 0zm-6 2zm1 0zm1 0zm-1 1zm-1 2zm1 0zm10-4zm0-2zm3 0zm-5-1zm5 0zm-6-1zm1 0zm4 0zm-2-1zm1 0zm-1-1zm1 0zm2 0zm-6-1zm6 0zm-5-1zm1 0zm3 0zm-5-1zm3 0zm2 0zm1 0zm-6-1zm1 0zm2 0zm4 0zm-7-1zm3 0zm1 0zm3 0zm-7-1zm1 0zm1 0zm1 0zm4 0zm-5-1zm3 0zm-4-1zm1 0zm2 0zm1 0zm2 0zm-7-1zm1 0zm1 0zm1 0zm2 0zm-5-1zm2 0zm1 0zm1 0zm-2-1zm2 0zm-4-1zm1 0zm2 0zm2 0zm1 0zm1 0zm-5-1zm1 0zm1 0zm1 0zm1 0zm-6-1zm2 0zm1 0zm1 0zm1 0zm2 0zm-7-1zm3 0zm2 0zm1 0zm-6-1zm1 0zm2 0zm1 0zm1 0zm-5-1zm1 0zm4 0zm1 0zm1 0zm-6-1zm1-1zm2 0zm1 0zm2 0zm-7-1zm1 0zm6 0zm-6-1zm2 0zm2 0zm-2-1zm1-1zm1 0zm1 0zm-5-1zm1 0zm1 0zm2 0zm-4-1zm1 0zm4 0zm-5-1zm2 0zm1 0zm1 0zm-5-1zm15 0zm0 1zm-1 2zm-1 1zm-3 1zm2 0zm1 0zm2 0zm-7 1zm1 0zm2 0zm1 0zm3 0zm-7 1zm1 0zm2 0zm2 0zm2 0zm-6 1zm2 0zm2 0zm2 0zm-4 2zm2 0zm-2 1zm3 0zm-6 1zm1 0zm1 0zm1 0zm1 0zm-4 1zm2 0zm1 0zm-2 1zm4 0zm-4 1zm2 0zm1 0zm3 0zm-6 2zm2 0zm4 0zm-6 1zm2 0zm1 0zm3 0zm-7 1zm1 0zm6 0zm-7 1zm1 0zm1 0zm1 0zm1 0zm1 0zm1 0zm1 0zm-7 1zm1 0zm2 0zm-3 1zm3 0zm2 0zm2 0zm-7 1zm1 0zm2 0zm1 0zm-4 1zm1 0zm1 0zm1 0zm1 0zm-2 1zm0 2zm-2 2zm9-6zm-1-2zm1 0zm-1-1zm2-2zm1 0zm0-1zm2 0zm0-1zm-5-1zm1 0zm-1-1zm1-1zm1 0zm2 0zm-3-1zm1 0zm1 0zm3 0zm-3-1zm1 0zm1 0zm1 0zm-2-1zm2 0zm-6-1zm5 0zm2 0zm-4-1zm1 0zm3 0zm-6-1zm2 0zm1 0zm2 0zm-6-1zm5 0zm1 0zm-6-1zm3 0zm4 0zm-7-1zm1 0zm5 0zm-6-1zm2 0zm2 0zm3 0zm-5-1zm2 0zm4 3zm2 0zm-1 1zm0 1zm1 2zm-1 2z" stroke="#BDBADF" stroke-width="3.2" stroke-opacity="0.85"/><path d="M414 3418zm0-1zm-1-1zm-1-1zm1 0zm1 0zm-1-1zm2 0zm-2-1zm2 0zm-4-1zm-1-1zm1-1zm1-1zm2 0zm-5-1zm2 0zm1 0zm-2-1zm5 0zm0-1zm-6-1zm6-3zm7-11zm0 2zm-1 1zm2 0zm-3 1zm1 0zm0 1zm1 0zm-1 1zm1 0zm-2 1zm1 0zm1 0zm-4 1zm1 0zm2 0zm1 0zm-1 1zm-4 1zm1 0zm1 0zm-2 1zm3 0zm2 0zm-2 2zm1 0zm-5 1zm5 0zm-3 1zm1 0zm-2 1zm3 0zm3 0zm-7 1zm1 1zm0 1zm2 0zm1 0zm-2 1zm2 0zm2 1zm-4 1zm0 1zm4 0zm-6 1zm6 0zm1 0zm-7 1zm1 0zm5 0zm-3 2zm0 2zm3 0zm1 0zm-4 2zm1 0zm1 0zm-1 2zm1 0zm10 8zm-5-1zm1-1zm1 0zm2 0zm-2-1zm1 0zm-2-1zm1 0zm3 0zm-7-2zm1 0zm3 0zm2 0zm1 0zm-6-1zm5 0zm1 0zm-2-2zm1 0zm-6-1zm1 0zm4 0zm1-1zm1 0zm-1-1zm-1-1zm-5-1zm1 0zm6 0zm-7-1zm1 0zm2 0zm-1-1zm5 0zm-7-1zm1 0zm4 0zm-2-2zm1-1zm3 0zm-3-1zm-2-1zm2-1zm-4-1zm2 0zm-1-1zm4 0zm1 0zm1 0zm-4-1zm1 0zm1 0zm2 0zm-2-1zm1 0zm-6-1zm4 0zm2 0zm1 0zm-4-1zm1 0zm1 0zm-4-1zm2 0zm4 0zm-6-1zm1 0zm2 0zm-4-1zm2 0zm2 0zm1 0zm2 0zm-4-1zm3 0zm-5-1zm1-1zm1 0zm1 0zm1 0zm-3-1zm5 0zm-5-2zm1 0zm3 0zm-4-1zm3 0zm-4-1zm4 0zm2-1zm0-1zm-4-2zm1 0zm3 0zm-3-1zm1-3zm6 0zm-3 1zm1 1zm3 0zm-1 1zm2 0zm0 1zm-4 1zm2 0zm1 1zm2 1zm-4 1zm2 0zm2 0zm-6 1zm1 0zm1 0zm4 0zm-6 1zm4 0zm-4 1zm5 0zm1 0zm1 0zm-7 1zm3 0zm2 0zm1 0zm1 0zm-5 1zm0 1zm-2 1zm1 0zm3 0zm1 0zm2 0zm-6 1zm-1 1zm1 0zm6 0zm-4 1zm-1 1zm3 0zm-5 1zm1 0zm3 0zm-4 1zm3 0zm3 0zm1 0zm-7 1zm3 0zm1 0zm0 1zm2 0zm1 1zm-3 1zm2 0zm-5 1zm4 0zm-3 1zm4 0zm-4 1zm3 0zm1 0zm1 0zm-1 1zm1 0zm-6 1zm4 0zm1 0zm-4 1zm2 0zm1 0zm-2 1zm-1 1zm3 0zm-4 2zm4 0zm2 0zm-5 1zm-2 1zm2 0zm1 0zm-3 1zm1 0zm2 0zm1 0zm2 0zm1 0zm-7 1zm2 0zm3 0zm2 0zm-5 1zm3 0zm-4 1zm1 0zm2 0zm1 0zm-2 1zm1 0zm-4 1zm2 0zm1 0zm3 0zm-3 1zm-3 1zm1 0zm3 0zm-2 1zm0 1zm3 0zm-5 1zm2 0zm3 0zm1 0zm1 0zm-4 1zm-2 1zm5 0zm0 1zm-4 1zm1 0zm1 1zm1 1zm3-1zm5-1zm-2-1zm3 0zm-6-1zm2 0zm1 0zm1 0zm1 0zm-5-1zm1 0zm4-1zm-5-1zm3 0zm1 0zm1 0zm0-1zm2 0zm-6-1zm6 0zm-1-1zm-3-1zm3 0zm1 0zm-6-1zm2 0zm2 0zm-5-2zm4 0zm1 0zm1 0zm-6-2zm1-1zm3 0zm0-1zm2 0zm-3-1zm3 0zm-3-1zm1 0zm1 0zm2 0zm-6-1zm3 0zm2 0zm-4-1zm3 0zm-4-1zm1 0zm2 0zm3 0zm-3-1zm2 0zm-6-2zm5 0zm2 0zm-7-2zm2 0zm2 0zm1 0zm2-2zm-4-1zm1 0zm1 0zm2 0zm-6-1zm2 0zm-2-1zm5 0zm1 0zm-6-1zm3 0zm2 0zm-6-1zm3 0zm3 0zm1 0zm-6-1zm1 0zm1 0zm1 0zm-3-2zm3 0zm2 0zm-6-1zm1 0zm2 0zm2 0zm-1-1zm-2-1zm2 0zm-4-1zm4-1zm3 0zm-5-1zm4 0zm-3-1zm1 0zm2-1zm1 0zm-6-1zm3 0zm2 0zm-6-2zm2-1zm-2-1zm4-1zm0-1zm2 0zm1 0zm-7-1zm5 0zm1 0zm1 0zm-7-2zm4 0zm-1-2zm10 0zm-2 2zm-1 1zm1 0zm-2 1zm1 0zm1 0zm0 1zm3 0zm1 0zm-7 1zm7 0zm-7 1zm2 0zm4 0zm-6 2zm1 0zm1 1zm0 2zm3 0zm-4 1zm4 1zm2 0zm-7 1zm1 0zm2 0zm3 1zm-5 1zm4 0zm2 0zm-4 2zm-1 1zm2 0zm3 0zm-7 1zm2 0zm1 0zm-1 1zm1 0zm3 0zm1 0zm-6 1zm6 0zm-2 1zm-5 1zm5 0zm-3 1zm4 0zm1 0zm-6 1zm3 0zm1 0zm2 0zm-7 1zm2 0zm2 0zm-4 1zm1 0zm6 0zm-7 1zm2 0zm1 0zm0 1zm1 0zm-2 1zm1 1zm0 1zm1 0zm2 0zm-3 1zm2 0zm1 0zm1 0zm-1 1zm-6 1zm7 0zm-2 1zm2 0zm-6 1zm2 0zm-2 1zm3 0zm1 0zm-1 1zm-3 1zm1 0zm1 0zm-1 1zm2 1zm1 0zm2 0zm-5 1zm-1 1zm3 0zm2 0zm-6 1zm2 0zm-2 1zm4 0zm1 0zm-5 1zm1 0zm3 0zm2 0zm-2 2zm2 0zm-3 2zm-3 1zm0 2zm9-5zm-1-2zm1-1zm4-1zm2 0zm-6-1zm5 0zm-6-2zm3 0zm1 0zm1 0zm2 0zm-1-1zm-1-1zm-3-1zm1 0zm2 0zm-3-1zm-2-1zm3 0zm4 0zm-4-1zm3 0zm-6-1zm6 0zm-3-1zm1 0zm2 0zm-5-2zm2-1zm1 0zm3 0zm-1-1zm-6-1zm2 0zm1 0zm4 0zm-6-1zm2 0zm-3-1zm4 0zm-4-1zm2-1zm1 0zm1 0zm2 0zm1 0zm-4-1zm1 0zm2 0zm-3-1zm1 0zm1 0zm-4-1zm-1-1zm6 0zm1 0zm-5-1zm3-1zm2 0zm-4-1zm-3-1zm2 0zm1 0zm2 0zm-5-1zm3-1zm-2-1zm3 0zm1 0zm2 0zm-7-1zm1 0zm1 0zm4 0zm-6-1zm2 0zm2 0zm-4-1zm2 0zm1 0zm4 0zm-7-1zm3 0zm2 0zm2 0zm-6-1zm1 0zm4 0zm-1-1zm-5-2zm5-1zm-1-1zm-4-1zm7 0zm-5-2zm5 0zm-7-1zm6 0zm-1-2zm1-1zm5 0zm1 1zm-1 1zm-2 2zm2 0zm-3 2zm1 0zm1 0zm3 0zm-5 4zm2 0zm2 0zm3 1zm-4 1zm2 0zm1 1zm1 0zm-6 1zm2 0zm-3 1zm1 0zm1 0zm-1 1zm2 1zm1 0zm2 0zm-5 1zm4 0zm-4 1zm1 0zm1 0zm3 0zm-3 1zm3 1zm-3 1zm-3 1zm3 0zm3 0zm-6 2zm2 0zm-1 1zm3 0zm-4 1zm1 0zm2 0zm1 0zm3 0zm0 1zm-6 1zm6 0zm-6 1zm6 0zm-7 1zm2 0zm0 2zm-2 2zm1 0zm2 0zm4 0zm-5 1zm2 0zm1 0zm1 0zm1 0zm-5 1zm1 0zm1 0zm-1 1zm4 0zm-2 1zm-4 1zm1 0zm4 0zm-5 1zm2 0zm3 0zm-6 1zm1 0zm3 0zm-4 1zm0 3zm8-6zm1-1zm4-1zm1-2zm-4-1zm1 0zm1 0zm-3-1zm3 0zm2 0zm-6-1zm2 0zm1 0zm-2-1zm5 0zm-1-1zm1 0zm-2-1zm2 0zm-2-1zm-3-1zm1 0zm1 0zm3 0zm1-1zm-6-2zm1 0zm3 0zm1 0zm-6-1zm1 0zm1 0zm-1-1zm2 0zm-1-1zm3 0zm-3-1zm1 0zm-2-1zm2 0zm1 0zm-3-1zm-1-1zm4 0zm0-2zm-4-2zm0-1zm5 0zm-3-2zm-2-4zm8 15zm0 2zm3 4zm-2 1zm-1 3zm0 2zm2 1z" stroke="#CFECB5" stroke-width="3.2" stroke-opacity="0.85"/><path d="M366 3492zm0-1zm-1-2zm3-1zm0 2zm4 0zm-3 1zm5 0zm0 1zm-6 1zm4 0zm1 1zm1 0zm-1 1zm-1 1zm2 2zm5 3zm3 0zm1 0zm-6-1zm6 0zm-7-1zm1 0zm3 0zm1 0zm2 0zm-6-1zm0-1zm1 0zm4 0zm-5-2zm2 0zm1 0zm-3-2zm7 5zm1 1zm1 0zm1 0zm2 0zm2 0zm-4 1zm-3 1zm1 0zm3 0zm-2 1zm2 0zm3 0zm-5 1zm1 0zm1 0zm3 0zm-5 1z" stroke="#C81820" stroke-width="3.2" stroke-opacity="0.85"/><path d="M429 3506zm1 0zm-2-2zm-1-1zm6 2zm-1 1zm2 0zm3 0zm-5 1zm1 0zm4 1zm2 0zm-3 1zm3 0zm3 1zm-1-1zm1 0zm0-1zm-2-1z" stroke="#F46D4C" stroke-width="3.2" stroke-opacity="0.85"/><path d="M437 3528zm2 0zm-2 1zm1 0zm-2 1zm1 0zm2 0zm-3 1zm1 0zm2 0zm0 1zm-1 1zm2-2zm4-1zm0-1zm-2-1zm2 0zm2 0zm-4-1zm1 0zm3 0zm-2-1zm1 0zm2 0zm-4-1zm1 0zm1 0zm0-1zm-2-1zm4-1zm4-3zm1 0zm1 0zm-4 1zm1 0zm2 0zm1 0zm1 0zm-5 1zm5 0zm1 0zm-2 1zm2 0zm-5 1zm1 0zm1 0zm1 0zm-5 1zm1 0zm2 0zm1 0zm2 0zm-6 1zm2 0zm2 0zm-3 2zm7-2zm1-2zm2 0zm-3-1zm5 0zm-3-1zm-2-2zm2-1zm-2-1zm3 0zm3 0z" stroke="#B85A10" stroke-width="3.2" stroke-opacity="0.85"/><path d="M450 3517zm1 0zm4 1zm-4 1zm4 0zm-2 1zm1 0zm0 1zm-3 1zm4 0zm-3 1zm2 0zm0 1zm2 1zm4 0zm-2-1zm1-1zm2 0zm-4-1zm1 0zm1 0zm-3-2zm2 0zm1 0zm1 0zm-1-2zm-3-1zm0-1zm4 0zm3 0zm-6-1zm4 0zm2 0zm-3-1zm2 0zm1-1zm7-4zm-5 2zm5 0zm-3 1zm2 0zm1 0zm-1 2zm1 1zm-4 1zm2 0zm1 0zm1 0zm1 0zm-5 1zm1 0zm2 0zm1 0zm-6 1zm4 0zm2 0zm-5 1zm3 1zm1 0zm1 0zm0 1zm4-3zm4-1zm0-1zm1 0zm-7-1zm5 0zm-5-1zm7 0zm0-1zm-4-1zm1 0zm-3-1zm2 0zm2 0zm1 0zm-6-1zm1 0zm4 0zm-1-1zm6 2zm-2 1zm1 1zm0 1zm6 0zm-6 1zm5 0zm1 0zm-7 1zm7 0zm-7 1zm3 1zm1 0zm1 0zm-3 1zm1 0zm3 0zm-2 2zm3 0zm7 6zm1-1zm-4-3zm1 0zm-1-1zm3 0zm1 0zm-2-1zm-2-1zm-3-1zm4 0zm3 0zm-7-1zm2 0zm5 0zm-5-1zm1 0zm1 0zm3 0zm-7-3zm2 0zm-1-2zm9 6zm4 1zm1 0zm-1 1zm1 0zm-7 2zm1 0zm4 0zm-5 1zm7 0zm-5 1zm1 0zm2 0zm-4 1zm3 0zm2 0zm-5 1zm4 0zm1 0zm1 0zm-7 1zm4 1zm-1 2zm1 0zm11 5zm-3-1zm-2-1zm0-1zm2 0zm1 0zm-1-1zm1 0zm1 0zm-5-1zm1 0zm1 0zm1 0zm-3-1zm-1-1zm3 0zm2 0zm-4-1zm1 0zm1 0zm3 0zm1 0zm-1-1zm1 0zm-5-2zm2 0zm2 0zm-6-2zm1 0zm7 5zm1 0zm1 0zm-1 1zm3 0zm-2 1zm-1 1zm2 0zm3 0zm1 0zm-4 1zm2 0zm-5 1zm1 0zm4 0zm-4 1zm1 0zm4 1zm-5 1zm5 0zm-5 1zm3 0zm3 0zm-4 3zm4 0zm-3 1zm4-5zm0-2z" stroke="#F0A040" stroke-width="3.2" stroke-opacity="0.85"/><path d="M514 3521zm1 0zm1 0zm1 1zm-2 1zm-3 1zm3 0zm4 0zm-4 1zm4 0zm-5 1zm0 1zm1 0zm0 1zm2 0zm2 0zm-6 1zm1 0zm1 0zm2 0zm1 0zm1 0zm-5 1zm1 0zm2 0zm2 0zm-2 1zm2 0zm-4 1zm2 0zm1 0zm1 0zm-4 1zm1 0zm1 0zm0 2zm0 2zm2 0zm7 5zm-3-1zm3 0zm1 0zm-3-1zm-3-1zm3 0zm1 0zm1 0zm1 0zm-7-1zm3 0zm1 0zm2 0zm1 0zm-6-1zm1 0zm2 0zm3 0zm-7-1zm2 0zm1 0zm2 0zm1 0zm1 0zm-6-1zm1 0zm2 0zm1 0zm1 0zm-6-1zm2 0zm1 0zm2 0zm-5-1zm1 0zm2 0zm2 0zm1 0zm-4-1zm3 0zm2 0zm-3-1zm1 0zm2 0zm-7-1zm5 0zm-4-1zm5 0zm-6-1zm3 0zm1 0zm1 0zm2 0zm-7-1zm4 0zm-3-1zm2 0zm2 0zm2 0zm-7-1zm1 0zm2 0zm1 0zm2 0zm1 0zm-6-1zm1 0zm1 0zm1 0zm-4-1zm7 0zm-6-1zm2 0zm1 0zm2 0zm1 0zm-6-1zm0-1zm6 0zm7-1zm1 1zm-7 1zm7 0zm-3 1zm-3 1zm1 0zm1 0zm1 0zm2 0zm1 0zm-7 1zm3 0zm2 0zm2 0zm-5 1zm4 0zm-5 1zm2 0zm1 0zm1 0zm1 0zm1 0zm-7 1zm4 0zm-4 1zm2 0zm1 0zm1 0zm2 0zm-3 1zm2 0zm1 0zm1 0zm-7 1zm3 0zm1 0zm2 0zm1 0zm-7 1zm3 0zm4 0zm-7 1zm0 1zm2 0zm1 0zm3 0zm-5 1zm1 0zm2 0zm1 0zm-4 1zm2 0zm1 0zm2 0zm-5 1zm4 0zm-4 1zm1 0zm2 0zm1 0zm-5 1zm1 0zm1 0zm1 0zm3 0zm-4 1zm2 0zm2 0zm-3 1zm-2 1zm5 0zm-2 1zm3 2zm2-1zm0-1zm-1-1zm1 0zm5-1zm-2-1zm1 0zm-3-1zm2 0zm-3-1zm1 0zm2 0zm-2-1zm1 0zm1 0zm1 0zm2 0zm-7-1zm2 0zm1 0zm-1-1zm3 0zm2 0zm-6-1zm1 0zm1 0zm2 0zm1 0zm1 0zm-7-1zm2 0zm1 0zm1 0zm1 0zm2 0zm-7-1zm5 0zm-4-1zm1 0zm3 0zm2 0zm-7-1zm3 0zm1 0zm2 0zm-5-1zm5 0zm-5-1zm2 0zm1 0zm1 0zm-4-1zm3 0zm-3-1zm1 0zm1 0zm1 0zm2 0zm1 0zm-7-1zm6 0zm1 0zm-5-1zm1 0zm1 0zm-1-1zm4 0zm-2-1zm1 0zm-2-2zm-4-1zm8 1zm2 2zm2 0zm-4 1zm2 0zm-2 1zm1 0zm3 1zm-3 1zm1 0zm-1 1zm1 0zm3 0zm-5 1zm1 0zm1 0zm2 0zm-3 1zm5 0zm-5 1zm3 0zm2 0zm-4 1zm3 0zm-3 1zm5 0zm-7 1zm1 0zm3 0zm3 0zm-5 1zm-1 1zm-1 1zm1 0zm1 0zm1 0zm-1 1zm0 2z" stroke="#FDE3C8" stroke-width="3.2" stroke-opacity="0.85"/><path d="M367 3607zm-3-3zm3 0zm8-4zm-2 1zm2 0zm-4 2zm1 0zm-3 1zm1 0zm2 0zm1 0zm2 0zm-7 1zm3 0zm1 0zm1 0zm-2 1zm2 0zm1 0zm1 0zm-2 2zm-3 1zm3 0zm1 0zm1 0zm-1 1zm-2 2zm7 3zm1 0zm2 0zm-5-1zm4-1zm1 0zm1 0zm-4-1zm4 0zm-5-1zm3 0zm2 0zm-5-1zm2 0zm-2-1zm4 0zm-4-1zm2 0zm3 0zm-6-1zm2 0zm2 0zm2-1zm-7-1zm3 0zm1 0zm1 0zm1 0zm1 0zm-4-1zm1 0zm1 0zm1 0zm-4-1zm-2-1zm1 0zm5 0zm-4-1zm4 0zm-5-1zm1 0zm1 0zm-1-1zm3 0zm2 0zm-3-1zm-2-1zm1 0zm4 0zm-2-1zm7-3zm1 0zm-3 2zm2 0zm-3 1zm1 0zm3 0zm-4 1zm2 0zm-3 1zm1 0zm6 0zm-6 1zm5 0zm-6 1zm4 0zm2 0zm1 0zm-6 1zm6 0zm-7 1zm4 0zm1 0zm1 0zm-6 1zm4 0zm-2 1zm1 0zm3 0zm-6 1zm3 0zm1 0zm1 0zm1 0zm1 0zm-3 1zm-4 1zm7 0zm-5 1zm1 0zm4 0zm-6 1zm0 1zm1 0zm4 0zm-6 1zm3 0zm1 0zm-4 1zm1 1zm0 1zm1 0zm6-3zm1 0zm1 0zm-1-1zm2 0zm-2-1zm-1-3zm0-1zm0-4zm1-2z" stroke="#76CDB8" stroke-width="3.2" stroke-opacity="0.85"/></g>
<circle cx="432.1" cy="46.6" r="8.6" fill="#D4D3EA"/><text transform="translate(451.6 54.8) scale(1.048 1)" font-size="22.7">CD4_Il7r</text><circle cx="432.1" cy="69.1" r="8.6" fill="#A09CCB"/><text transform="translate(451.6 77.3) scale(1.048 1)" font-size="22.7">CD4_Ccr7</text><circle cx="432.1" cy="91.7" r="8.6" fill="#4A1F90"/><text transform="translate(451.6 99.9) scale(1.048 1)" font-size="22.7">CD4_Treg</text><circle cx="432.1" cy="114.2" r="8.6" fill="#D5EDCF"/><text transform="translate(451.6 122.4) scale(1.048 1)" font-size="22.7">CD8_Il7r</text><circle cx="432.1" cy="136.8" r="8.6" fill="#9FD79A"/><text transform="translate(451.6 144.9) scale(1.048 1)" font-size="22.7">CD8_Ccr7</text><circle cx="432.1" cy="159.3" r="8.6" fill="#35A255"/><text transform="translate(451.6 167.5) scale(1.048 1)" font-size="22.7">CD8_Ccl5</text><circle cx="432.1" cy="181.8" r="8.6" fill="#6EC072"/><text transform="translate(451.6 190) scale(1.048 1)" font-size="22.7">CD8_Isg15</text><circle cx="432.1" cy="204.4" r="8.6" fill="#8DC0E0"/><text transform="translate(451.6 212.6) scale(1.048 1)" font-size="22.7">CD8_proliferation</text><circle cx="432.1" cy="226.9" r="8.6" fill="#E0841A"/><text transform="translate(451.6 235.1) scale(1.048 1)" font-size="22.7">CD3_DN</text><circle cx="432.1" cy="249.5" r="8.6" fill="#FDD29C"/><text transform="translate(451.6 257.6) scale(1.048 1)" font-size="22.7">gd_T</text><circle cx="432.1" cy="272" r="8.6" fill="#FEEF9F"/><text transform="translate(451.6 280.2) scale(1.048 1)" font-size="22.7">NK_Ccl5</text><circle cx="432.1" cy="294.5" r="8.6" fill="#F5623A"/><text transform="translate(451.6 302.7) scale(1.048 1)" font-size="22.7">NK_Spp1</text><circle cx="432.1" cy="317.1" r="8.6" fill="#EB3223"/><text transform="translate(451.6 325.3) scale(1.048 1)" font-size="22.7">NK_Cd226</text><circle cx="432.1" cy="339.6" r="8.6" fill="#FDB24C"/><text transform="translate(451.6 347.8) scale(1.048 1)" font-size="22.7">NK_Isg15</text><circle cx="432.1" cy="362.2" r="8.6" fill="#F89840"/><text transform="translate(451.6 370.3) scale(1.048 1)" font-size="22.7">NK_proliferation</text><circle cx="432.1" cy="384.7" r="8.6" fill="#DADAE0"/><text transform="translate(451.6 392.9) scale(1.048 1)" font-size="22.7">Doublet</text><circle cx="432.1" cy="407.2" r="8.6" fill="#B5B5B8"/><text transform="translate(451.6 415.4) scale(1.048 1)" font-size="22.7">Unknown</text>
<circle cx="432.1" cy="490.7" r="8.6" fill="#41B0CB"/><text transform="translate(451.6 498.9) scale(1.048 1)" font-size="22.7">Macrophage</text><circle cx="432.1" cy="513.2" r="8.6" fill="#2560A8"/><text transform="translate(451.6 521.4) scale(1.048 1)" font-size="22.7">Macro_proliferation</text><circle cx="432.1" cy="535.8" r="8.6" fill="#D6EBA6"/><text transform="translate(451.6 544) scale(1.048 1)" font-size="22.7">Mono_Ly6c_high</text><circle cx="432.1" cy="558.3" r="8.6" fill="#7DCDB0"/><text transform="translate(451.6 566.5) scale(1.048 1)" font-size="22.7">Mono_Ly6c_low</text><circle cx="432.1" cy="580.9" r="8.6" fill="#F5A8AE"/><text transform="translate(451.6 589) scale(1.048 1)" font-size="22.7">cDC1</text><circle cx="432.1" cy="603.4" r="8.6" fill="#F4779F"/><text transform="translate(451.6 611.6) scale(1.048 1)" font-size="22.7">cDC2</text><circle cx="432.1" cy="625.9" r="8.6" fill="#C9198F"/><text transform="translate(451.6 634.1) scale(1.048 1)" font-size="22.7">tDC</text><circle cx="432.1" cy="648.5" r="8.6" fill="#C9104C"/><text transform="translate(451.6 656.7) scale(1.048 1)" font-size="22.7">pDC</text><circle cx="432.1" cy="671" r="8.6" fill="#7DB2D9"/><text transform="translate(451.6 679.2) scale(1.048 1)" font-size="22.7">Mast</text><circle cx="432.1" cy="693.6" r="8.6" fill="#15807C"/><text transform="translate(451.6 701.7) scale(1.048 1)" font-size="22.7">Neutrophil</text>
<circle cx="440.7" cy="1541" r="8.6" fill="#DCE9F6"/><text transform="translate(459.6 1549.2) scale(1.048 1)" font-size="22.7">B_naive</text><circle cx="440.7" cy="1563.5" r="8.6" fill="#AFD0E8"/><text transform="translate(459.6 1571.6) scale(1.048 1)" font-size="22.7">B_Ighd</text><circle cx="440.7" cy="1585.9" r="8.6" fill="#6DAEDC"/><text transform="translate(459.6 1594.1) scale(1.048 1)" font-size="22.7">B_memory</text><circle cx="440.7" cy="1608.3" r="8.6" fill="#BDBADF"/><text transform="translate(459.6 1616.5) scale(1.048 1)" font-size="22.7">CD4_T</text><circle cx="440.7" cy="1630.8" r="8.6" fill="#5E3FA0"/><text transform="translate(459.6 1639) scale(1.048 1)" font-size="22.7">CD4_Treg</text><circle cx="440.7" cy="1653.2" r="8.6" fill="#9DD893"/><text transform="translate(459.6 1661.4) scale(1.048 1)" font-size="22.7">CD8_T</text><circle cx="440.7" cy="1675.7" r="8.6" fill="#258F48"/><text transform="translate(459.6 1683.9) scale(1.048 1)" font-size="22.7">CD8_T_Ccl5</text><circle cx="440.7" cy="1698.2" r="8.6" fill="#FDD370"/><text transform="translate(459.6 1706.3) scale(1.048 1)" font-size="22.7">NK</text><circle cx="440.7" cy="1720.6" r="8.6" fill="#B85A10"/><text transform="translate(459.6 1728.8) scale(1.048 1)" font-size="22.7">Mono_Ly6c_high</text><circle cx="440.7" cy="1743" r="8.6" fill="#F0A040"/><text transform="translate(459.6 1751.2) scale(1.048 1)" font-size="22.7">Mono_int</text><circle cx="440.7" cy="1765.5" r="8.6" fill="#FDE3C8"/><text transform="translate(459.6 1773.7) scale(1.048 1)" font-size="22.7">Mono_Ly6c_low</text><circle cx="440.7" cy="1788" r="8.6" fill="#F46D4C"/><text transform="translate(459.6 1796.1) scale(1.048 1)" font-size="22.7">cDC</text><circle cx="440.7" cy="1810.4" r="8.6" fill="#C81820"/><text transform="translate(459.6 1818.6) scale(1.048 1)" font-size="22.7">pDC</text><circle cx="440.7" cy="1832.8" r="8.6" fill="#CFECB5"/><text transform="translate(459.6 1841) scale(1.048 1)" font-size="22.7">Neutrophil</text><circle cx="440.7" cy="1855.3" r="8.6" fill="#76CDB8"/><text transform="translate(459.6 1863.5) scale(1.048 1)" font-size="22.7">Basophil</text><circle cx="440.7" cy="1877.8" r="8.6" fill="#B8B8B8"/><text transform="translate(459.6 1885.9) scale(1.048 1)" font-size="22.7">Unknown</text>
<circle cx="796.8" cy="48.4" r="1.3" fill="#9D77EC"/><circle cx="840.8" cy="48.4" r="1.1" fill="#BDBDC6"/><circle cx="884.8" cy="48.4" r="1.1" fill="#BDBDC6"/><circle cx="928.8" cy="48.4" r="1" fill="#B69CE3"/><circle cx="972.8" cy="48.4" r="1.1" fill="#BDBDC6"/><circle cx="1016.8" cy="48.4" r="1.1" fill="#BDBDC6"/><circle cx="1060.8" cy="48.4" r="1.1" fill="#BDBDC6"/><circle cx="1104.8" cy="48.4" r="1.1" fill="#BDBDC6"/><circle cx="1148.8" cy="48.4" r="1.1" fill="#BDBDC6"/><circle cx="1192.8" cy="48.4" r="1.5" fill="#0000FF"/><circle cx="1236.8" cy="48.4" r="1.1" fill="#BDBDC6"/><circle cx="1280.8" cy="48.4" r="1.1" fill="#BDBDC6"/><circle cx="1324.8" cy="48.4" r="1.1" fill="#BDBDC6"/><circle cx="1368.8" cy="48.4" r="1.1" fill="#BDBDC6"/><circle cx="1412.8" cy="48.4" r="1.1" fill="#BDBDC6"/><circle cx="796.8" cy="79.4" r="2.7" fill="#BBA5E0"/><circle cx="840.8" cy="79.4" r="3.8" fill="#BBA5E0"/><circle cx="884.8" cy="79.4" r="4.6" fill="#A480EA"/><circle cx="928.8" cy="79.4" r="4.6" fill="#9D77EC"/><circle cx="972.8" cy="79.4" r="2.7" fill="#C1AEDE"/><circle cx="1016.8" cy="79.4" r="3.6" fill="#C1AEDE"/><circle cx="1060.8" cy="79.4" r="9.7" fill="#5932FA"/><circle cx="1104.8" cy="79.4" r="4.3" fill="#BBA5E0"/><circle cx="1148.8" cy="79.4" r="5.4" fill="#AA89E7"/><circle cx="1192.8" cy="79.4" r="4.5" fill="#AA89E7"/><circle cx="1236.8" cy="79.4" r="2.4" fill="#C6B7DB"/><circle cx="1280.8" cy="79.4" r="3.2" fill="#C1AEDE"/><circle cx="1324.8" cy="79.4" r="4.1" fill="#B69CE3"/><circle cx="1368.8" cy="79.4" r="9.5" fill="#3318FD"/><circle cx="1412.8" cy="79.4" r="4.8" fill="#BBA5E0"/><circle cx="796.8" cy="110.4" r="1" fill="#CAC0D9"/><circle cx="840.8" cy="110.4" r="1.1" fill="#BDBDC6"/><circle cx="884.8" cy="110.4" r="1.1" fill="#BDBDC6"/><circle cx="928.8" cy="110.4" r="1.1" fill="#BDBDC6"/><circle cx="972.8" cy="110.4" r="1.1" fill="#BDBDC6"/><circle cx="1016.8" cy="110.4" r="1.1" fill="#BDBDC6"/><circle cx="1060.8" cy="110.4" r="1.1" fill="#BDBDC6"/><circle cx="1104.8" cy="110.4" r="1.1" fill="#BDBDC6"/><circle cx="1148.8" cy="110.4" r="1.5" fill="#C1AEDE"/><circle cx="1192.8" cy="110.4" r="9.7" fill="#0000FF"/><circle cx="1236.8" cy="110.4" r="1.1" fill="#BDBDC6"/><circle cx="1280.8" cy="110.4" r="1.1" fill="#BDBDC6"/><circle cx="1324.8" cy="110.4" r="4.1" fill="#AA89E7"/><circle cx="1368.8" cy="110.4" r="1.7" fill="#C1AEDE"/><circle cx="1412.8" cy="110.4" r="1.7" fill="#C1AEDE"/><circle cx="796.8" cy="141.4" r="2.7" fill="#B69CE3"/><circle cx="840.8" cy="141.4" r="4.4" fill="#A480EA"/><circle cx="884.8" cy="141.4" r="1.5" fill="#CAC0D9"/><circle cx="928.8" cy="141.4" r="2.7" fill="#BBA5E0"/><circle cx="972.8" cy="141.4" r="5.5" fill="#A480EA"/><circle cx="1016.8" cy="141.4" r="4.8" fill="#A480EA"/><circle cx="1060.8" cy="141.4" r="4.6" fill="#AA89E7"/><circle cx="1104.8" cy="141.4" r="6.5" fill="#AA89E7"/><circle cx="1148.8" cy="141.4" r="5.6" fill="#9D77EC"/><circle cx="1192.8" cy="141.4" r="4.3" fill="#AA89E7"/><circle cx="1236.8" cy="141.4" r="2.4" fill="#CAC0D9"/><circle cx="1280.8" cy="141.4" r="2.4" fill="#CFCAD6"/><circle cx="1324.8" cy="141.4" r="6.9" fill="#0000FF"/><circle cx="1368.8" cy="141.4" r="4.1" fill="#AA89E7"/><circle cx="1412.8" cy="141.4" r="3.9" fill="#C1AEDE"/><circle cx="796.8" cy="172.4" r="1.5" fill="#C6B7DB"/><circle cx="840.8" cy="172.4" r="3.8" fill="#B69CE3"/><circle cx="884.8" cy="172.4" r="1.5" fill="#C6B7DB"/><circle cx="928.8" cy="172.4" r="1.1" fill="#BDBDC6"/><circle cx="972.8" cy="172.4" r="6.5" fill="#B093E5"/><circle cx="1016.8" cy="172.4" r="6.5" fill="#B69CE3"/><circle cx="1060.8" cy="172.4" r="6.1" fill="#B69CE3"/><circle cx="1104.8" cy="172.4" r="8.9" fill="#B69CE3"/><circle cx="1148.8" cy="172.4" r="1.5" fill="#CAC0D9"/><circle cx="1192.8" cy="172.4" r="1.1" fill="#BDBDC6"/><circle cx="1236.8" cy="172.4" r="1.9" fill="#C6B7DB"/><circle cx="1280.8" cy="172.4" r="8.9" fill="#0000FF"/><circle cx="1324.8" cy="172.4" r="6.1" fill="#AA89E7"/><circle cx="1368.8" cy="172.4" r="6.7" fill="#966EEE"/><circle cx="1412.8" cy="172.4" r="8" fill="#8E65F0"/><circle cx="796.8" cy="203.4" r="1.1" fill="#BDBDC6"/><circle cx="840.8" cy="203.4" r="1.1" fill="#BDBDC6"/><circle cx="884.8" cy="203.4" r="1.1" fill="#BDBDC6"/><circle cx="928.8" cy="203.4" r="1.1" fill="#BDBDC6"/><circle cx="972.8" cy="203.4" r="1.1" fill="#BDBDC6"/><circle cx="1016.8" cy="203.4" r="1.1" fill="#BDBDC6"/><circle cx="1060.8" cy="203.4" r="1.1" fill="#BDBDC6"/><circle cx="1104.8" cy="203.4" r="1.1" fill="#BDBDC6"/><circle cx="1148.8" cy="203.4" r="3.9" fill="#B69CE3"/><circle cx="1192.8" cy="203.4" r="1.1" fill="#BDBDC6"/><circle cx="1236.8" cy="203.4" r="8.9" fill="#8E65F0"/><circle cx="1280.8" cy="203.4" r="10.2" fill="#8E65F0"/><circle cx="1324.8" cy="203.4" r="10.2" fill="#7248F6"/><circle cx="1368.8" cy="203.4" r="10.2" fill="#7C51F4"/><circle cx="1412.8" cy="203.4" r="10" fill="#966EEE"/><circle cx="796.8" cy="234.4" r="1.1" fill="#BDBDC6"/><circle cx="840.8" cy="234.4" r="1.1" fill="#BDBDC6"/><circle cx="884.8" cy="234.4" r="1.1" fill="#BDBDC6"/><circle cx="928.8" cy="234.4" r="1.1" fill="#BDBDC6"/><circle cx="972.8" cy="234.4" r="1.1" fill="#BDBDC6"/><circle cx="1016.8" cy="234.4" r="1.1" fill="#BDBDC6"/><circle cx="1060.8" cy="234.4" r="1.1" fill="#BDBDC6"/><circle cx="1104.8" cy="234.4" r="1.1" fill="#BDBDC6"/><circle cx="1148.8" cy="234.4" r="2.4" fill="#9D77EC"/><circle cx="1192.8" cy="234.4" r="6.7" fill="#0000FF"/><circle cx="1236.8" cy="234.4" r="1.1" fill="#BDBDC6"/><circle cx="1280.8" cy="234.4" r="1.1" fill="#BDBDC6"/><circle cx="1324.8" cy="234.4" r="1.1" fill="#BDBDC6"/><circle cx="1368.8" cy="234.4" r="1.1" fill="#BDBDC6"/><circle cx="1412.8" cy="234.4" r="1.1" fill="#BDBDC6"/><circle cx="796.8" cy="265.4" r="1.5" fill="#C1AEDE"/><circle cx="840.8" cy="265.4" r="2.7" fill="#B69CE3"/><circle cx="884.8" cy="265.4" r="2.3" fill="#AA89E7"/><circle cx="928.8" cy="265.4" r="1.7" fill="#B69CE3"/><circle cx="972.8" cy="265.4" r="3.6" fill="#B69CE3"/><circle cx="1016.8" cy="265.4" r="2.7" fill="#B69CE3"/><circle cx="1060.8" cy="265.4" r="2.3" fill="#BBA5E0"/><circle cx="1104.8" cy="265.4" r="7.4" fill="#0000FF"/><circle cx="1148.8" cy="265.4" r="2.4" fill="#BBA5E0"/><circle cx="1192.8" cy="265.4" r="2.8" fill="#AA89E7"/><circle cx="1236.8" cy="265.4" r="1.5" fill="#C1AEDE"/><circle cx="1280.8" cy="265.4" r="2.4" fill="#BBA5E0"/><circle cx="1324.8" cy="265.4" r="1.7" fill="#BBA5E0"/><circle cx="1368.8" cy="265.4" r="2.4" fill="#C1AEDE"/><circle cx="1412.8" cy="265.4" r="7.6" fill="#4926FB"/><circle cx="796.8" cy="296.4" r="1.1" fill="#BDBDC6"/><circle cx="840.8" cy="296.4" r="1.5" fill="#C1AEDE"/><circle cx="884.8" cy="296.4" r="2.5" fill="#AA89E7"/><circle cx="928.8" cy="296.4" r="1.1" fill="#BDBDC6"/><circle cx="972.8" cy="296.4" r="2.5" fill="#B69CE3"/><circle cx="1016.8" cy="296.4" r="2.3" fill="#BBA5E0"/><circle cx="1060.8" cy="296.4" r="2.3" fill="#B69CE3"/><circle cx="1104.8" cy="296.4" r="7.4" fill="#0000FF"/><circle cx="1148.8" cy="296.4" r="1.7" fill="#C6B7DB"/><circle cx="1192.8" cy="296.4" r="2.4" fill="#AA89E7"/><circle cx="1236.8" cy="296.4" r="1.1" fill="#BDBDC6"/><circle cx="1280.8" cy="296.4" r="1.7" fill="#BBA5E0"/><circle cx="1324.8" cy="296.4" r="1.5" fill="#C1AEDE"/><circle cx="1368.8" cy="296.4" r="1.7" fill="#C6B7DB"/><circle cx="1412.8" cy="296.4" r="7.4" fill="#4926FB"/><circle cx="796.8" cy="327.4" r="2.3" fill="#CAC0D9"/><circle cx="840.8" cy="327.4" r="6.5" fill="#A480EA"/><circle cx="884.8" cy="327.4" r="7.4" fill="#673DF8"/><circle cx="928.8" cy="327.4" r="1.5" fill="#CFCAD6"/><circle cx="972.8" cy="327.4" r="7.8" fill="#A480EA"/><circle cx="1016.8" cy="327.4" r="9" fill="#7248F6"/><circle cx="1060.8" cy="327.4" r="8.8" fill="#7C51F4"/><circle cx="1104.8" cy="327.4" r="9.3" fill="#9D77EC"/><circle cx="1148.8" cy="327.4" r="3.7" fill="#C1AEDE"/><circle cx="1192.8" cy="327.4" r="3.2" fill="#C1AEDE"/><circle cx="1236.8" cy="327.4" r="3" fill="#C1AEDE"/><circle cx="1280.8" cy="327.4" r="7.6" fill="#B69CE3"/><circle cx="1324.8" cy="327.4" r="6.3" fill="#B093E5"/><circle cx="1368.8" cy="327.4" r="6.1" fill="#B69CE3"/><circle cx="1412.8" cy="327.4" r="6.9" fill="#C1AEDE"/><circle cx="796.8" cy="358.4" r="1.7" fill="#B69CE3"/><circle cx="840.8" cy="358.4" r="1.1" fill="#BDBDC6"/><circle cx="884.8" cy="358.4" r="1.1" fill="#BDBDC6"/><circle cx="928.8" cy="358.4" r="2.9" fill="#0000FF"/><circle cx="972.8" cy="358.4" r="1.7" fill="#C1AEDE"/><circle cx="1016.8" cy="358.4" r="2.9" fill="#A480EA"/><circle cx="1060.8" cy="358.4" r="4" fill="#7C51F4"/><circle cx="1104.8" cy="358.4" r="3.2" fill="#9D77EC"/><circle cx="1148.8" cy="358.4" r="1.1" fill="#BDBDC6"/><circle cx="1192.8" cy="358.4" r="1.1" fill="#BDBDC6"/><circle cx="1236.8" cy="358.4" r="1.7" fill="#B69CE3"/><circle cx="1280.8" cy="358.4" r="1.7" fill="#B69CE3"/><circle cx="1324.8" cy="358.4" r="1.1" fill="#BDBDC6"/><circle cx="1368.8" cy="358.4" r="1.1" fill="#BDBDC6"/><circle cx="1412.8" cy="358.4" r="1.7" fill="#BBA5E0"/><circle cx="796.8" cy="389.4" r="2.3" fill="#C1AEDE"/><circle cx="840.8" cy="389.4" r="1.7" fill="#C6B7DB"/><circle cx="884.8" cy="389.4" r="4" fill="#B69CE3"/><circle cx="928.8" cy="389.4" r="6.5" fill="#9D77EC"/><circle cx="972.8" cy="389.4" r="3.8" fill="#B69CE3"/><circle cx="1016.8" cy="389.4" r="8.8" fill="#AA89E7"/><circle cx="1060.8" cy="389.4" r="8.8" fill="#A480EA"/><circle cx="1104.8" cy="389.4" r="8.5" fill="#B69CE3"/><circle cx="1148.8" cy="389.4" r="8.7" fill="#AA89E7"/><circle cx="1192.8" cy="389.4" r="1.7" fill="#CAC0D9"/><circle cx="1236.8" cy="389.4" r="10" fill="#0000FF"/><circle cx="1280.8" cy="389.4" r="5.8" fill="#B093E5"/><circle cx="1324.8" cy="389.4" r="8.2" fill="#AA89E7"/><circle cx="1368.8" cy="389.4" r="8.4" fill="#A480EA"/><circle cx="1412.8" cy="389.4" r="7.4" fill="#B69CE3"/><circle cx="796.8" cy="420.4" r="1.7" fill="#C6B7DB"/><circle cx="840.8" cy="420.4" r="1.1" fill="#BDBDC6"/><circle cx="884.8" cy="420.4" r="1.1" fill="#BDBDC6"/><circle cx="928.8" cy="420.4" r="5.9" fill="#AA89E7"/><circle cx="972.8" cy="420.4" r="9.9" fill="#855BF2"/><circle cx="1016.8" cy="420.4" r="10.3" fill="#7248F6"/><circle cx="1060.8" cy="420.4" r="10.3" fill="#6B42F7"/><circle cx="1104.8" cy="420.4" r="10.2" fill="#7C51F4"/><circle cx="1148.8" cy="420.4" r="2.4" fill="#B69CE3"/><circle cx="1192.8" cy="420.4" r="1.1" fill="#BDBDC6"/><circle cx="1236.8" cy="420.4" r="1.1" fill="#BDBDC6"/><circle cx="1280.8" cy="420.4" r="1.1" fill="#BDBDC6"/><circle cx="1324.8" cy="420.4" r="1.1" fill="#BDBDC6"/><circle cx="1368.8" cy="420.4" r="1.1" fill="#BDBDC6"/><circle cx="1412.8" cy="420.4" r="1.1" fill="#BDBDC6"/><circle cx="796.8" cy="451.4" r="1.1" fill="#BDBDC6"/><circle cx="840.8" cy="451.4" r="1.1" fill="#BDBDC6"/><circle cx="884.8" cy="451.4" r="8.2" fill="#0000FF"/><circle cx="928.8" cy="451.4" r="1.1" fill="#BDBDC6"/><circle cx="972.8" cy="451.4" r="1.1" fill="#BDBDC6"/><circle cx="1016.8" cy="451.4" r="1.1" fill="#BDBDC6"/><circle cx="1060.8" cy="451.4" r="1.1" fill="#BDBDC6"/><circle cx="1104.8" cy="451.4" r="1.1" fill="#BDBDC6"/><circle cx="1148.8" cy="451.4" r="1.1" fill="#BDBDC6"/><circle cx="1192.8" cy="451.4" r="1.1" fill="#BDBDC6"/><circle cx="1236.8" cy="451.4" r="1.1" fill="#BDBDC6"/><circle cx="1280.8" cy="451.4" r="1.1" fill="#BDBDC6"/><circle cx="1324.8" cy="451.4" r="1.1" fill="#BDBDC6"/><circle cx="1368.8" cy="451.4" r="1.1" fill="#BDBDC6"/><circle cx="1412.8" cy="451.4" r="1.1" fill="#BDBDC6"/><circle cx="796.8" cy="482.4" r="6.7" fill="#966EEE"/><circle cx="840.8" cy="482.4" r="8.2" fill="#A480EA"/><circle cx="884.8" cy="482.4" r="8.6" fill="#0000FF"/><circle cx="928.8" cy="482.4" r="4.4" fill="#B093E5"/><circle cx="972.8" cy="482.4" r="7.6" fill="#AA89E7"/><circle cx="1016.8" cy="482.4" r="6.7" fill="#AA89E7"/><circle cx="1060.8" cy="482.4" r="6.5" fill="#AA89E7"/><circle cx="1104.8" cy="482.4" r="7.3" fill="#B396E4"/><circle cx="1148.8" cy="482.4" r="3.7" fill="#B69CE3"/><circle cx="1192.8" cy="482.4" r="9.3" fill="#7C51F4"/><circle cx="1236.8" cy="482.4" r="2.2" fill="#C1AEDE"/><circle cx="1280.8" cy="482.4" r="5.4" fill="#B69CE3"/><circle cx="1324.8" cy="482.4" r="4.1" fill="#B69CE3"/><circle cx="1368.8" cy="482.4" r="4.1" fill="#BBA5E0"/><circle cx="1412.8" cy="482.4" r="5.2" fill="#BBA5E0"/><circle cx="796.8" cy="513.4" r="4.4" fill="#9D77EC"/><circle cx="840.8" cy="513.4" r="6.9" fill="#0000FF"/><circle cx="884.8" cy="513.4" r="2.5" fill="#AA89E7"/><circle cx="928.8" cy="513.4" r="5.3" fill="#9D77EC"/><circle cx="972.8" cy="513.4" r="6.5" fill="#7C51F4"/><circle cx="1016.8" cy="513.4" r="1.1" fill="#BDBDC6"/><circle cx="1060.8" cy="513.4" r="1.1" fill="#BDBDC6"/><circle cx="1104.8" cy="513.4" r="1.7" fill="#C1AEDE"/><circle cx="1148.8" cy="513.4" r="2.6" fill="#B69CE3"/><circle cx="1192.8" cy="513.4" r="1.9" fill="#B69CE3"/><circle cx="1236.8" cy="513.4" r="1.1" fill="#BDBDC6"/><circle cx="1280.8" cy="513.4" r="1.1" fill="#BDBDC6"/><circle cx="1324.8" cy="513.4" r="1.1" fill="#BDBDC6"/><circle cx="1368.8" cy="513.4" r="1.1" fill="#BDBDC6"/><circle cx="1412.8" cy="513.4" r="1.1" fill="#BDBDC6"/><circle cx="796.8" cy="544.4" r="2.5" fill="#9D77EC"/><circle cx="840.8" cy="544.4" r="1.1" fill="#BDBDC6"/><circle cx="884.8" cy="544.4" r="2.5" fill="#AA89E7"/><circle cx="928.8" cy="544.4" r="4.6" fill="#0000FF"/><circle cx="972.8" cy="544.4" r="1.1" fill="#BDBDC6"/><circle cx="1016.8" cy="544.4" r="1.1" fill="#BDBDC6"/><circle cx="1060.8" cy="544.4" r="1.1" fill="#BDBDC6"/><circle cx="1104.8" cy="544.4" r="1.1" fill="#BDBDC6"/><circle cx="1148.8" cy="544.4" r="4.8" fill="#673DF8"/><circle cx="1192.8" cy="544.4" r="1.7" fill="#C6B7DB"/><circle cx="1236.8" cy="544.4" r="2.8" fill="#8E65F0"/><circle cx="1280.8" cy="544.4" r="5.2" fill="#A480EA"/><circle cx="1324.8" cy="544.4" r="2.2" fill="#B69CE3"/><circle cx="1368.8" cy="544.4" r="2.8" fill="#B69CE3"/><circle cx="1412.8" cy="544.4" r="5.2" fill="#A480EA"/><circle cx="796.8" cy="575.4" r="7.6" fill="#673DF8"/><circle cx="840.8" cy="575.4" r="6.3" fill="#AA89E7"/><circle cx="884.8" cy="575.4" r="5.3" fill="#A480EA"/><circle cx="928.8" cy="575.4" r="5.9" fill="#9D77EC"/><circle cx="972.8" cy="575.4" r="5.7" fill="#AA89E7"/><circle cx="1016.8" cy="575.4" r="1.5" fill="#CAC0D9"/><circle cx="1060.8" cy="575.4" r="1.5" fill="#CAC0D9"/><circle cx="1104.8" cy="575.4" r="2.4" fill="#C6B7DB"/><circle cx="1148.8" cy="575.4" r="4.5" fill="#AA89E7"/><circle cx="1192.8" cy="575.4" r="9.7" fill="#0000FF"/><circle cx="1236.8" cy="575.4" r="1.1" fill="#BDBDC6"/><circle cx="1280.8" cy="575.4" r="1.1" fill="#BDBDC6"/><circle cx="1324.8" cy="575.4" r="2.2" fill="#B69CE3"/><circle cx="1368.8" cy="575.4" r="1.1" fill="#BDBDC6"/><circle cx="1412.8" cy="575.4" r="1.1" fill="#BDBDC6"/><circle cx="796.8" cy="606.4" r="6.3" fill="#8E65F0"/><circle cx="840.8" cy="606.4" r="9.7" fill="#0000FF"/><circle cx="884.8" cy="606.4" r="6.3" fill="#9D77EC"/><circle cx="928.8" cy="606.4" r="2.3" fill="#B69CE3"/><circle cx="972.8" cy="606.4" r="1.5" fill="#C1AEDE"/><circle cx="1016.8" cy="606.4" r="1.1" fill="#BDBDC6"/><circle cx="1060.8" cy="606.4" r="1.1" fill="#BDBDC6"/><circle cx="1104.8" cy="606.4" r="1.1" fill="#BDBDC6"/><circle cx="1148.8" cy="606.4" r="1.1" fill="#BDBDC6"/><circle cx="1192.8" cy="606.4" r="1.1" fill="#BDBDC6"/><circle cx="1236.8" cy="606.4" r="1.1" fill="#BDBDC6"/><circle cx="1280.8" cy="606.4" r="1.1" fill="#BDBDC6"/><circle cx="1324.8" cy="606.4" r="1.1" fill="#BDBDC6"/><circle cx="1368.8" cy="606.4" r="1.1" fill="#BDBDC6"/><circle cx="1412.8" cy="606.4" r="1.1" fill="#BDBDC6"/><circle cx="796.8" cy="637.4" r="7.6" fill="#AA89E7"/><circle cx="840.8" cy="637.4" r="9.9" fill="#8E65F0"/><circle cx="884.8" cy="637.4" r="9" fill="#966EEE"/><circle cx="928.8" cy="637.4" r="8.8" fill="#A480EA"/><circle cx="972.8" cy="637.4" r="10.1" fill="#966EEE"/><circle cx="1016.8" cy="637.4" r="10.1" fill="#8E65F0"/><circle cx="1060.8" cy="637.4" r="9.9" fill="#8E65F0"/><circle cx="1104.8" cy="637.4" r="10.2" fill="#9D77EC"/><circle cx="1148.8" cy="637.4" r="10" fill="#966EEE"/><circle cx="1192.8" cy="637.4" r="8.4" fill="#AA89E7"/><circle cx="1236.8" cy="637.4" r="1.1" fill="#BDBDC6"/><circle cx="1280.8" cy="637.4" r="1.5" fill="#CFCAD6"/><circle cx="1324.8" cy="637.4" r="1.1" fill="#BDBDC6"/><circle cx="1368.8" cy="637.4" r="1.1" fill="#BDBDC6"/><circle cx="1412.8" cy="637.4" r="2.4" fill="#CFCAD6"/><line x1="907.2" y1="41.5" x2="907.2" y2="654.5" stroke="#1a1a1a" stroke-width="2.6" stroke-dasharray="2.6 9.95"/><line x1="1127.2" y1="41.5" x2="1127.2" y2="654.5" stroke="#1a1a1a" stroke-width="2.6" stroke-dasharray="2.6 9.95"/><line x1="1215.6" y1="41.5" x2="1215.6" y2="654.5" stroke="#1a1a1a" stroke-width="2.6" stroke-dasharray="2.6 9.95"/><rect x="772.2" y="31" width="666.8" height="623.5" fill="none" stroke="#2b2b2b" stroke-width="2.3"/><line x1="767.2" y1="48.4" x2="772.2" y2="48.4" stroke="#2b2b2b" stroke-width="4"/><line x1="767.2" y1="79.4" x2="772.2" y2="79.4" stroke="#2b2b2b" stroke-width="4"/><line x1="767.2" y1="110.4" x2="772.2" y2="110.4" stroke="#2b2b2b" stroke-width="4"/><line x1="767.2" y1="141.4" x2="772.2" y2="141.4" stroke="#2b2b2b" stroke-width="4"/><line x1="767.2" y1="172.4" x2="772.2" y2="172.4" stroke="#2b2b2b" stroke-width="4"/><line x1="767.2" y1="203.4" x2="772.2" y2="203.4" stroke="#2b2b2b" stroke-width="4"/><line x1="767.2" y1="234.4" x2="772.2" y2="234.4" stroke="#2b2b2b" stroke-width="4"/><line x1="767.2" y1="265.4" x2="772.2" y2="265.4" stroke="#2b2b2b" stroke-width="4"/><line x1="767.2" y1="296.4" x2="772.2" y2="296.4" stroke="#2b2b2b" stroke-width="4"/><line x1="767.2" y1="327.4" x2="772.2" y2="327.4" stroke="#2b2b2b" stroke-width="4"/><line x1="767.2" y1="358.4" x2="772.2" y2="358.4" stroke="#2b2b2b" stroke-width="4"/><line x1="767.2" y1="389.4" x2="772.2" y2="389.4" stroke="#2b2b2b" stroke-width="4"/><line x1="767.2" y1="420.4" x2="772.2" y2="420.4" stroke="#2b2b2b" stroke-width="4"/><line x1="767.2" y1="451.4" x2="772.2" y2="451.4" stroke="#2b2b2b" stroke-width="4"/><line x1="767.2" y1="482.4" x2="772.2" y2="482.4" stroke="#2b2b2b" stroke-width="4"/><line x1="767.2" y1="513.4" x2="772.2" y2="513.4" stroke="#2b2b2b" stroke-width="4"/><line x1="767.2" y1="544.4" x2="772.2" y2="544.4" stroke="#2b2b2b" stroke-width="4"/><line x1="767.2" y1="575.4" x2="772.2" y2="575.4" stroke="#2b2b2b" stroke-width="4"/><line x1="767.2" y1="606.4" x2="772.2" y2="606.4" stroke="#2b2b2b" stroke-width="4"/><line x1="767.2" y1="637.4" x2="772.2" y2="637.4" stroke="#2b2b2b" stroke-width="4"/><line x1="796.8" y1="654.5" x2="796.8" y2="659.5" stroke="#2b2b2b" stroke-width="4"/><line x1="840.8" y1="654.5" x2="840.8" y2="659.5" stroke="#2b2b2b" stroke-width="4"/><line x1="884.8" y1="654.5" x2="884.8" y2="659.5" stroke="#2b2b2b" stroke-width="4"/><line x1="928.8" y1="654.5" x2="928.8" y2="659.5" stroke="#2b2b2b" stroke-width="4"/><line x1="972.8" y1="654.5" x2="972.8" y2="659.5" stroke="#2b2b2b" stroke-width="4"/><line x1="1016.8" y1="654.5" x2="1016.8" y2="659.5" stroke="#2b2b2b" stroke-width="4"/><line x1="1060.8" y1="654.5" x2="1060.8" y2="659.5" stroke="#2b2b2b" stroke-width="4"/><line x1="1104.8" y1="654.5" x2="1104.8" y2="659.5" stroke="#2b2b2b" stroke-width="4"/><line x1="1148.8" y1="654.5" x2="1148.8" y2="659.5" stroke="#2b2b2b" stroke-width="4"/><line x1="1192.8" y1="654.5" x2="1192.8" y2="659.5" stroke="#2b2b2b" stroke-width="4"/><line x1="1236.8" y1="654.5" x2="1236.8" y2="659.5" stroke="#2b2b2b" stroke-width="4"/><line x1="1280.8" y1="654.5" x2="1280.8" y2="659.5" stroke="#2b2b2b" stroke-width="4"/><line x1="1324.8" y1="654.5" x2="1324.8" y2="659.5" stroke="#2b2b2b" stroke-width="4"/><line x1="1368.8" y1="654.5" x2="1368.8" y2="659.5" stroke="#2b2b2b" stroke-width="4"/><line x1="1412.8" y1="654.5" x2="1412.8" y2="659.5" stroke="#2b2b2b" stroke-width="4"/><text transform="translate(763 56.9) scale(1.065 1)" font-size="24.6" text-anchor="end" font-style="italic">Hspa1a</text><text transform="translate(763 87.9) scale(1.065 1)" font-size="24.6" text-anchor="end" font-style="italic">Isg15</text><text transform="translate(763 118.9) scale(1.065 1)" font-size="24.6" text-anchor="end" font-style="italic">Tmem176a</text><text transform="translate(763 149.9) scale(1.065 1)" font-size="24.6" text-anchor="end" font-style="italic">Cd226</text><text transform="translate(763 180.9) scale(1.065 1)" font-size="24.6" text-anchor="end" font-style="italic">Spp1</text><text transform="translate(763 211.9) scale(1.065 1)" font-size="24.6" text-anchor="end" font-style="italic">Ncr1</text><text transform="translate(763 242.9) scale(1.065 1)" font-size="24.6" text-anchor="end" font-style="italic">Tcrg−C1</text><text transform="translate(763 273.9) scale(1.065 1)" font-size="24.6" text-anchor="end" font-style="italic">Top2a</text><text transform="translate(763 304.9) scale(1.065 1)" font-size="24.6" text-anchor="end" font-style="italic">Mki67</text><text transform="translate(763 335.9) scale(1.065 1)" font-size="24.6" text-anchor="end" font-style="italic">Itgav</text><text transform="translate(763 366.9) scale(1.065 1)" font-size="24.6" text-anchor="end" font-style="italic">Gzmk</text><text transform="translate(763 397.9) scale(1.065 1)" font-size="24.6" text-anchor="end" font-style="italic">Ccl5</text><text transform="translate(763 428.9) scale(1.065 1)" font-size="24.6" text-anchor="end" font-style="italic">Cd8a</text><text transform="translate(763 459.9) scale(1.065 1)" font-size="24.6" text-anchor="end" font-style="italic">Foxp3</text><text transform="translate(763 490.9) scale(1.065 1)" font-size="24.6" text-anchor="end" font-style="italic">Icos</text><text transform="translate(763 521.9) scale(1.065 1)" font-size="24.6" text-anchor="end" font-style="italic">Ccr7</text><text transform="translate(763 552.9) scale(1.065 1)" font-size="24.6" text-anchor="end" font-style="italic">Lef1</text><text transform="translate(763 583.9) scale(1.065 1)" font-size="24.6" text-anchor="end" font-style="italic">Il7r</text><text transform="translate(763 614.9) scale(1.065 1)" font-size="24.6" text-anchor="end" font-style="italic">Cd4</text><text transform="translate(763 645.9) scale(1.065 1)" font-size="24.6" text-anchor="end" font-style="italic">Cd3d</text><text transform="translate(808.8 675) rotate(-45) scale(1.07 1)" font-size="24.4" text-anchor="end">CD4_Il7r</text><text transform="translate(852.8 675) rotate(-45) scale(1.07 1)" font-size="24.4" text-anchor="end">CD4_Ccr7</text><text transform="translate(896.8 675) rotate(-45) scale(1.07 1)" font-size="24.4" text-anchor="end">CD4_Treg</text><text transform="translate(940.8 675) rotate(-45) scale(1.07 1)" font-size="24.4" text-anchor="end">CD8_Il7r</text><text transform="translate(984.8 675) rotate(-45) scale(1.07 1)" font-size="24.4" text-anchor="end">CD8_Ccr7</text><text transform="translate(1028.8 675) rotate(-45) scale(1.07 1)" font-size="24.4" text-anchor="end">CD8_Ccl5</text><text transform="translate(1072.8 675) rotate(-45) scale(1.07 1)" font-size="24.4" text-anchor="end">CD8_Isg15</text><text transform="translate(1116.8 675) rotate(-45) scale(1.07 1)" font-size="24.4" text-anchor="end">CD8_proliferation</text><text transform="translate(1160.8 675) rotate(-45) scale(1.07 1)" font-size="24.4" text-anchor="end">CD3_DN</text><text transform="translate(1204.8 675) rotate(-45) scale(1.07 1)" font-size="24.4" text-anchor="end">gd_T</text><text transform="translate(1248.8 675) rotate(-45) scale(1.07 1)" font-size="24.4" text-anchor="end">NK_Ccl5</text><text transform="translate(1292.8 675) rotate(-45) scale(1.07 1)" font-size="24.4" text-anchor="end">NK_Spp1</text><text transform="translate(1336.8 675) rotate(-45) scale(1.07 1)" font-size="24.4" text-anchor="end">NK_Cd226</text><text transform="translate(1380.8 675) rotate(-45) scale(1.07 1)" font-size="24.4" text-anchor="end">NK_Isg15</text><text transform="translate(1424.8 675) rotate(-45) scale(1.07 1)" font-size="24.4" text-anchor="end">NK_proliferation</text><circle cx="1573.4" cy="45.4" r="2.4" fill="#B69CE3"/><circle cx="1606.6" cy="45.4" r="2.1" fill="#B69CE3"/><circle cx="1639.7" cy="45.4" r="4.5" fill="#B093E5"/><circle cx="1672.9" cy="45.4" r="3.5" fill="#B69CE3"/><circle cx="1706" cy="45.4" r="1.1" fill="#BDBDC6"/><circle cx="1739.2" cy="45.4" r="3.5" fill="#B69CE3"/><circle cx="1772.3" cy="45.4" r="1.1" fill="#BDBDC6"/><circle cx="1805.5" cy="45.4" r="1.1" fill="#BDBDC6"/><circle cx="1838.6" cy="45.4" r="1.1" fill="#BDBDC6"/><circle cx="1871.8" cy="45.4" r="8.3" fill="#0000FF"/><circle cx="1573.4" cy="69.7" r="1.3" fill="#C1AEDE"/><circle cx="1606.6" cy="69.7" r="1.1" fill="#BDBDC6"/><circle cx="1639.7" cy="69.7" r="1.6" fill="#B69CE3"/><circle cx="1672.9" cy="69.7" r="1.1" fill="#BDBDC6"/><circle cx="1706" cy="69.7" r="1.1" fill="#BDBDC6"/><circle cx="1739.2" cy="69.7" r="1.1" fill="#BDBDC6"/><circle cx="1772.3" cy="69.7" r="1.1" fill="#BDBDC6"/><circle cx="1805.5" cy="69.7" r="1.1" fill="#BDBDC6"/><circle cx="1838.6" cy="69.7" r="1.1" fill="#BDBDC6"/><circle cx="1871.8" cy="69.7" r="9.4" fill="#0000FF"/><circle cx="1573.4" cy="93.9" r="1.1" fill="#BDBDC6"/><circle cx="1606.6" cy="93.9" r="1.1" fill="#BDBDC6"/><circle cx="1639.7" cy="93.9" r="1.1" fill="#BDBDC6"/><circle cx="1672.9" cy="93.9" r="1.1" fill="#BDBDC6"/><circle cx="1706" cy="93.9" r="1.1" fill="#BDBDC6"/><circle cx="1739.2" cy="93.9" r="1.1" fill="#BDBDC6"/><circle cx="1772.3" cy="93.9" r="1.1" fill="#BDBDC6"/><circle cx="1805.5" cy="93.9" r="1.1" fill="#BDBDC6"/><circle cx="1838.6" cy="93.9" r="1.1" fill="#BDBDC6"/><circle cx="1871.8" cy="93.9" r="9.6" fill="#0000FF"/><circle cx="1573.4" cy="118.2" r="1.1" fill="#BDBDC6"/><circle cx="1606.6" cy="118.2" r="1.1" fill="#BDBDC6"/><circle cx="1639.7" cy="118.2" r="1.1" fill="#BDBDC6"/><circle cx="1672.9" cy="118.2" r="1.1" fill="#BDBDC6"/><circle cx="1706" cy="118.2" r="1.1" fill="#BDBDC6"/><circle cx="1739.2" cy="118.2" r="1.1" fill="#BDBDC6"/><circle cx="1772.3" cy="118.2" r="1.1" fill="#BDBDC6"/><circle cx="1805.5" cy="118.2" r="1.1" fill="#BDBDC6"/><circle cx="1838.6" cy="118.2" r="1.1" fill="#BDBDC6"/><circle cx="1871.8" cy="118.2" r="5.4" fill="#0000FF"/><circle cx="1573.4" cy="142.4" r="1.1" fill="#BDBDC6"/><circle cx="1606.6" cy="142.4" r="1.1" fill="#BDBDC6"/><circle cx="1639.7" cy="142.4" r="1.1" fill="#BDBDC6"/><circle cx="1672.9" cy="142.4" r="1.1" fill="#BDBDC6"/><circle cx="1706" cy="142.4" r="1.1" fill="#BDBDC6"/><circle cx="1739.2" cy="142.4" r="1.1" fill="#BDBDC6"/><circle cx="1772.3" cy="142.4" r="1.1" fill="#BDBDC6"/><circle cx="1805.5" cy="142.4" r="1.1" fill="#BDBDC6"/><circle cx="1838.6" cy="142.4" r="9.9" fill="#0000FF"/><circle cx="1871.8" cy="142.4" r="1.1" fill="#BDBDC6"/><circle cx="1573.4" cy="166.7" r="1.1" fill="#BDBDC6"/><circle cx="1606.6" cy="166.7" r="1.1" fill="#BDBDC6"/><circle cx="1639.7" cy="166.7" r="1.1" fill="#BDBDC6"/><circle cx="1672.9" cy="166.7" r="1.1" fill="#BDBDC6"/><circle cx="1706" cy="166.7" r="7.2" fill="#B69CE3"/><circle cx="1739.2" cy="166.7" r="4.3" fill="#B69CE3"/><circle cx="1772.3" cy="166.7" r="2.9" fill="#B69CE3"/><circle cx="1805.5" cy="166.7" r="1.1" fill="#BDBDC6"/><circle cx="1838.6" cy="166.7" r="8.3" fill="#0000FF"/><circle cx="1871.8" cy="166.7" r="1.1" fill="#BDBDC6"/><circle cx="1573.4" cy="191" r="1.1" fill="#BDBDC6"/><circle cx="1606.6" cy="191" r="1.1" fill="#BDBDC6"/><circle cx="1639.7" cy="191" r="1.1" fill="#BDBDC6"/><circle cx="1672.9" cy="191" r="1.1" fill="#BDBDC6"/><circle cx="1706" cy="191" r="1.1" fill="#BDBDC6"/><circle cx="1739.2" cy="191" r="1.1" fill="#BDBDC6"/><circle cx="1772.3" cy="191" r="1" fill="#C1AEDE"/><circle cx="1805.5" cy="191" r="9.6" fill="#0000FF"/><circle cx="1838.6" cy="191" r="1.1" fill="#BDBDC6"/><circle cx="1871.8" cy="191" r="1.1" fill="#BDBDC6"/><circle cx="1573.4" cy="215.2" r="1.1" fill="#BDBDC6"/><circle cx="1606.6" cy="215.2" r="1.1" fill="#BDBDC6"/><circle cx="1639.7" cy="215.2" r="1.1" fill="#BDBDC6"/><circle cx="1672.9" cy="215.2" r="1.1" fill="#BDBDC6"/><circle cx="1706" cy="215.2" r="1.1" fill="#BDBDC6"/><circle cx="1739.2" cy="215.2" r="1.1" fill="#BDBDC6"/><circle cx="1772.3" cy="215.2" r="1.3" fill="#C1AEDE"/><circle cx="1805.5" cy="215.2" r="9.9" fill="#0000FF"/><circle cx="1838.6" cy="215.2" r="1.1" fill="#BDBDC6"/><circle cx="1871.8" cy="215.2" r="1.1" fill="#BDBDC6"/><circle cx="1573.4" cy="239.5" r="1.1" fill="#BDBDC6"/><circle cx="1606.6" cy="239.5" r="1.1" fill="#BDBDC6"/><circle cx="1639.7" cy="239.5" r="1.1" fill="#BDBDC6"/><circle cx="1672.9" cy="239.5" r="1.1" fill="#BDBDC6"/><circle cx="1706" cy="239.5" r="2.4" fill="#BBA5E0"/><circle cx="1739.2" cy="239.5" r="1.1" fill="#BDBDC6"/><circle cx="1772.3" cy="239.5" r="8" fill="#0000FF"/><circle cx="1805.5" cy="239.5" r="5.4" fill="#9D77EC"/><circle cx="1838.6" cy="239.5" r="1.1" fill="#BDBDC6"/><circle cx="1871.8" cy="239.5" r="1.1" fill="#BDBDC6"/><circle cx="1573.4" cy="263.8" r="1.1" fill="#BDBDC6"/><circle cx="1606.6" cy="263.8" r="1.1" fill="#BDBDC6"/><circle cx="1639.7" cy="263.8" r="1.1" fill="#BDBDC6"/><circle cx="1672.9" cy="263.8" r="1.1" fill="#BDBDC6"/><circle cx="1706" cy="263.8" r="1.1" fill="#BDBDC6"/><circle cx="1739.2" cy="263.8" r="1.9" fill="#B69CE3"/><circle cx="1772.3" cy="263.8" r="8.8" fill="#0000FF"/><circle cx="1805.5" cy="263.8" r="1.1" fill="#BDBDC6"/><circle cx="1838.6" cy="263.8" r="1.1" fill="#BDBDC6"/><circle cx="1871.8" cy="263.8" r="1.1" fill="#BDBDC6"/><circle cx="1573.4" cy="288" r="1.1" fill="#BDBDC6"/><circle cx="1606.6" cy="288" r="1.1" fill="#BDBDC6"/><circle cx="1639.7" cy="288" r="1.1" fill="#BDBDC6"/><circle cx="1672.9" cy="288" r="1.1" fill="#BDBDC6"/><circle cx="1706" cy="288" r="1.1" fill="#BDBDC6"/><circle cx="1739.2" cy="288" r="1.1" fill="#BDBDC6"/><circle cx="1772.3" cy="288" r="8.6" fill="#0000FF"/><circle cx="1805.5" cy="288" r="1.3" fill="#C1AEDE"/><circle cx="1838.6" cy="288" r="1.1" fill="#BDBDC6"/><circle cx="1871.8" cy="288" r="1.1" fill="#BDBDC6"/><circle cx="1573.4" cy="312.3" r="1.9" fill="#C1AEDE"/><circle cx="1606.6" cy="312.3" r="2.1" fill="#C1AEDE"/><circle cx="1639.7" cy="312.3" r="1.1" fill="#BDBDC6"/><circle cx="1672.9" cy="312.3" r="1.1" fill="#BDBDC6"/><circle cx="1706" cy="312.3" r="2.4" fill="#B69CE3"/><circle cx="1739.2" cy="312.3" r="5.1" fill="#5932FA"/><circle cx="1772.3" cy="312.3" r="1.1" fill="#BDBDC6"/><circle cx="1805.5" cy="312.3" r="5.4" fill="#966EEE"/><circle cx="1838.6" cy="312.3" r="1.1" fill="#BDBDC6"/><circle cx="1871.8" cy="312.3" r="1.1" fill="#BDBDC6"/><circle cx="1573.4" cy="336.5" r="1.1" fill="#BDBDC6"/><circle cx="1606.6" cy="336.5" r="1.1" fill="#BDBDC6"/><circle cx="1639.7" cy="336.5" r="1.1" fill="#BDBDC6"/><circle cx="1672.9" cy="336.5" r="1.1" fill="#BDBDC6"/><circle cx="1706" cy="336.5" r="1.1" fill="#BDBDC6"/><circle cx="1739.2" cy="336.5" r="6.7" fill="#3318FD"/><circle cx="1772.3" cy="336.5" r="1.1" fill="#BDBDC6"/><circle cx="1805.5" cy="336.5" r="3.2" fill="#AA89E7"/><circle cx="1838.6" cy="336.5" r="1.1" fill="#BDBDC6"/><circle cx="1871.8" cy="336.5" r="1.1" fill="#BDBDC6"/><circle cx="1573.4" cy="360.8" r="1.1" fill="#BDBDC6"/><circle cx="1606.6" cy="360.8" r="1.3" fill="#CAC0D9"/><circle cx="1639.7" cy="360.8" r="1.1" fill="#BDBDC6"/><circle cx="1672.9" cy="360.8" r="1.1" fill="#BDBDC6"/><circle cx="1706" cy="360.8" r="9.6" fill="#0000FF"/><circle cx="1739.2" cy="360.8" r="1.1" fill="#BDBDC6"/><circle cx="1772.3" cy="360.8" r="1.9" fill="#B69CE3"/><circle cx="1805.5" cy="360.8" r="1.1" fill="#BDBDC6"/><circle cx="1838.6" cy="360.8" r="1.1" fill="#BDBDC6"/><circle cx="1871.8" cy="360.8" r="1.1" fill="#BDBDC6"/><circle cx="1573.4" cy="385.1" r="1.1" fill="#BDBDC6"/><circle cx="1606.6" cy="385.1" r="1.1" fill="#BDBDC6"/><circle cx="1639.7" cy="385.1" r="1.1" fill="#BDBDC6"/><circle cx="1672.9" cy="385.1" r="1.1" fill="#BDBDC6"/><circle cx="1706" cy="385.1" r="9.6" fill="#0000FF"/><circle cx="1739.2" cy="385.1" r="2.4" fill="#B69CE3"/><circle cx="1772.3" cy="385.1" r="2.9" fill="#AA89E7"/><circle cx="1805.5" cy="385.1" r="2.7" fill="#AA89E7"/><circle cx="1838.6" cy="385.1" r="1.1" fill="#BDBDC6"/><circle cx="1871.8" cy="385.1" r="1.1" fill="#BDBDC6"/><circle cx="1573.4" cy="409.3" r="2.7" fill="#AA89E7"/><circle cx="1606.6" cy="409.3" r="3.5" fill="#AA89E7"/><circle cx="1639.7" cy="409.3" r="1.6" fill="#C6B7DB"/><circle cx="1672.9" cy="409.3" r="5.6" fill="#0000FF"/><circle cx="1706" cy="409.3" r="7.5" fill="#AA89E7"/><circle cx="1739.2" cy="409.3" r="1.1" fill="#BDBDC6"/><circle cx="1772.3" cy="409.3" r="1.1" fill="#BDBDC6"/><circle cx="1805.5" cy="409.3" r="2.4" fill="#B093E5"/><circle cx="1838.6" cy="409.3" r="1.1" fill="#BDBDC6"/><circle cx="1871.8" cy="409.3" r="1.1" fill="#BDBDC6"/><circle cx="1573.4" cy="433.6" r="5.4" fill="#D3D3D3"/><circle cx="1606.6" cy="433.6" r="4.8" fill="#D3D3D3"/><circle cx="1639.7" cy="433.6" r="8.3" fill="#B69CE3"/><circle cx="1672.9" cy="433.6" r="9.9" fill="#3318FD"/><circle cx="1706" cy="433.6" r="8" fill="#BBA5E0"/><circle cx="1739.2" cy="433.6" r="8.6" fill="#BBA5E0"/><circle cx="1772.3" cy="433.6" r="4" fill="#D3D3D3"/><circle cx="1805.5" cy="433.6" r="4.3" fill="#D1CFD4"/><circle cx="1838.6" cy="433.6" r="7.5" fill="#AA89E7"/><circle cx="1871.8" cy="433.6" r="5.6" fill="#AA89E7"/><circle cx="1573.4" cy="457.9" r="1.1" fill="#BDBDC6"/><circle cx="1606.6" cy="457.9" r="1.1" fill="#BDBDC6"/><circle cx="1639.7" cy="457.9" r="1.6" fill="#CAC0D9"/><circle cx="1672.9" cy="457.9" r="7.5" fill="#0000FF"/><circle cx="1706" cy="457.9" r="1.1" fill="#BDBDC6"/><circle cx="1739.2" cy="457.9" r="1.1" fill="#BDBDC6"/><circle cx="1772.3" cy="457.9" r="1.1" fill="#BDBDC6"/><circle cx="1805.5" cy="457.9" r="1.1" fill="#BDBDC6"/><circle cx="1838.6" cy="457.9" r="1.1" fill="#BDBDC6"/><circle cx="1871.8" cy="457.9" r="1.1" fill="#BDBDC6"/><circle cx="1573.4" cy="482.1" r="1.1" fill="#BDBDC6"/><circle cx="1606.6" cy="482.1" r="1.1" fill="#BDBDC6"/><circle cx="1639.7" cy="482.1" r="1.3" fill="#B69CE3"/><circle cx="1672.9" cy="482.1" r="9.1" fill="#0000FF"/><circle cx="1706" cy="482.1" r="1.1" fill="#BDBDC6"/><circle cx="1739.2" cy="482.1" r="1.1" fill="#BDBDC6"/><circle cx="1772.3" cy="482.1" r="1.1" fill="#BDBDC6"/><circle cx="1805.5" cy="482.1" r="1.1" fill="#BDBDC6"/><circle cx="1838.6" cy="482.1" r="1.1" fill="#BDBDC6"/><circle cx="1871.8" cy="482.1" r="1.1" fill="#BDBDC6"/><circle cx="1573.4" cy="506.4" r="5.4" fill="#8E65F0"/><circle cx="1606.6" cy="506.4" r="6.4" fill="#855BF2"/><circle cx="1639.7" cy="506.4" r="1.6" fill="#CAC0D9"/><circle cx="1672.9" cy="506.4" r="3.5" fill="#8E65F0"/><circle cx="1706" cy="506.4" r="1.1" fill="#BDBDC6"/><circle cx="1739.2" cy="506.4" r="1.1" fill="#BDBDC6"/><circle cx="1772.3" cy="506.4" r="1.1" fill="#BDBDC6"/><circle cx="1805.5" cy="506.4" r="1.1" fill="#BDBDC6"/><circle cx="1838.6" cy="506.4" r="1.9" fill="#B69CE3"/><circle cx="1871.8" cy="506.4" r="1.1" fill="#BDBDC6"/><circle cx="1573.4" cy="530.6" r="6.4" fill="#AA89E7"/><circle cx="1606.6" cy="530.6" r="6.7" fill="#AA89E7"/><circle cx="1639.7" cy="530.6" r="8.8" fill="#3318FD"/><circle cx="1672.9" cy="530.6" r="3.7" fill="#B69CE3"/><circle cx="1706" cy="530.6" r="3.7" fill="#CAC0D9"/><circle cx="1739.2" cy="530.6" r="5.9" fill="#B093E5"/><circle cx="1772.3" cy="530.6" r="1.1" fill="#BDBDC6"/><circle cx="1805.5" cy="530.6" r="5.6" fill="#B69CE3"/><circle cx="1838.6" cy="530.6" r="1.1" fill="#BDBDC6"/><circle cx="1871.8" cy="530.6" r="1.1" fill="#BDBDC6"/><circle cx="1573.4" cy="554.9" r="2.4" fill="#CFCAD6"/><circle cx="1606.6" cy="554.9" r="2.1" fill="#CFCAD6"/><circle cx="1639.7" cy="554.9" r="8.8" fill="#8E65F0"/><circle cx="1672.9" cy="554.9" r="3.2" fill="#C1AEDE"/><circle cx="1706" cy="554.9" r="4.8" fill="#C1AEDE"/><circle cx="1739.2" cy="554.9" r="4.3" fill="#BBA5E0"/><circle cx="1772.3" cy="554.9" r="2.7" fill="#BBA5E0"/><circle cx="1805.5" cy="554.9" r="10.2" fill="#4926FB"/><circle cx="1838.6" cy="554.9" r="1.1" fill="#BDBDC6"/><circle cx="1871.8" cy="554.9" r="1.6" fill="#CAC0D9"/><circle cx="1573.4" cy="579.2" r="9.1" fill="#4926FB"/><circle cx="1606.6" cy="579.2" r="7.8" fill="#855BF2"/><circle cx="1639.7" cy="579.2" r="4" fill="#AA89E7"/><circle cx="1672.9" cy="579.2" r="1.1" fill="#BDBDC6"/><circle cx="1706" cy="579.2" r="1.1" fill="#BDBDC6"/><circle cx="1739.2" cy="579.2" r="1.1" fill="#BDBDC6"/><circle cx="1772.3" cy="579.2" r="1.1" fill="#BDBDC6"/><circle cx="1805.5" cy="579.2" r="1.1" fill="#BDBDC6"/><circle cx="1838.6" cy="579.2" r="1.1" fill="#BDBDC6"/><circle cx="1871.8" cy="579.2" r="1.1" fill="#BDBDC6"/><circle cx="1573.4" cy="603.4" r="9.6" fill="#5932FA"/><circle cx="1606.6" cy="603.4" r="9.6" fill="#7248F6"/><circle cx="1639.7" cy="603.4" r="2.4" fill="#C1AEDE"/><circle cx="1672.9" cy="603.4" r="1.1" fill="#BDBDC6"/><circle cx="1706" cy="603.4" r="1.1" fill="#BDBDC6"/><circle cx="1739.2" cy="603.4" r="2.4" fill="#CAC0D9"/><circle cx="1772.3" cy="603.4" r="1.9" fill="#CAC0D9"/><circle cx="1805.5" cy="603.4" r="1.1" fill="#BDBDC6"/><circle cx="1838.6" cy="603.4" r="1.1" fill="#BDBDC6"/><circle cx="1871.8" cy="603.4" r="1.6" fill="#CFCAD6"/><circle cx="1573.4" cy="627.7" r="9.6" fill="#5932FA"/><circle cx="1606.6" cy="627.7" r="9.6" fill="#6B42F7"/><circle cx="1639.7" cy="627.7" r="2.4" fill="#C1AEDE"/><circle cx="1672.9" cy="627.7" r="1.1" fill="#BDBDC6"/><circle cx="1706" cy="627.7" r="1.1" fill="#BDBDC6"/><circle cx="1739.2" cy="627.7" r="1.9" fill="#CAC0D9"/><circle cx="1772.3" cy="627.7" r="1.1" fill="#BDBDC6"/><circle cx="1805.5" cy="627.7" r="1.1" fill="#BDBDC6"/><circle cx="1838.6" cy="627.7" r="1.1" fill="#BDBDC6"/><circle cx="1871.8" cy="627.7" r="1.1" fill="#BDBDC6"/><line x1="1689.7" y1="39.6" x2="1689.7" y2="639.8" stroke="#1a1a1a" stroke-width="2.6" stroke-dasharray="2.6 9.95"/><line x1="1822" y1="39.6" x2="1822" y2="639.8" stroke="#1a1a1a" stroke-width="2.6" stroke-dasharray="2.6 9.95"/><rect x="1555" y="31.5" width="336.5" height="608.3" fill="none" stroke="#2b2b2b" stroke-width="2.3"/><line x1="1550" y1="45.4" x2="1555" y2="45.4" stroke="#2b2b2b" stroke-width="4"/><line x1="1550" y1="69.7" x2="1555" y2="69.7" stroke="#2b2b2b" stroke-width="4"/><line x1="1550" y1="93.9" x2="1555" y2="93.9" stroke="#2b2b2b" stroke-width="4"/><line x1="1550" y1="118.2" x2="1555" y2="118.2" stroke="#2b2b2b" stroke-width="4"/><line x1="1550" y1="142.4" x2="1555" y2="142.4" stroke="#2b2b2b" stroke-width="4"/><line x1="1550" y1="166.7" x2="1555" y2="166.7" stroke="#2b2b2b" stroke-width="4"/><line x1="1550" y1="191" x2="1555" y2="191" stroke="#2b2b2b" stroke-width="4"/><line x1="1550" y1="215.2" x2="1555" y2="215.2" stroke="#2b2b2b" stroke-width="4"/><line x1="1550" y1="239.5" x2="1555" y2="239.5" stroke="#2b2b2b" stroke-width="4"/><line x1="1550" y1="263.8" x2="1555" y2="263.8" stroke="#2b2b2b" stroke-width="4"/><line x1="1550" y1="288" x2="1555" y2="288" stroke="#2b2b2b" stroke-width="4"/><line x1="1550" y1="312.3" x2="1555" y2="312.3" stroke="#2b2b2b" stroke-width="4"/><line x1="1550" y1="336.5" x2="1555" y2="336.5" stroke="#2b2b2b" stroke-width="4"/><line x1="1550" y1="360.8" x2="1555" y2="360.8" stroke="#2b2b2b" stroke-width="4"/><line x1="1550" y1="385.1" x2="1555" y2="385.1" stroke="#2b2b2b" stroke-width="4"/><line x1="1550" y1="409.3" x2="1555" y2="409.3" stroke="#2b2b2b" stroke-width="4"/><line x1="1550" y1="433.6" x2="1555" y2="433.6" stroke="#2b2b2b" stroke-width="4"/><line x1="1550" y1="457.9" x2="1555" y2="457.9" stroke="#2b2b2b" stroke-width="4"/><line x1="1550" y1="482.1" x2="1555" y2="482.1" stroke="#2b2b2b" stroke-width="4"/><line x1="1550" y1="506.4" x2="1555" y2="506.4" stroke="#2b2b2b" stroke-width="4"/><line x1="1550" y1="530.6" x2="1555" y2="530.6" stroke="#2b2b2b" stroke-width="4"/><line x1="1550" y1="554.9" x2="1555" y2="554.9" stroke="#2b2b2b" stroke-width="4"/><line x1="1550" y1="579.2" x2="1555" y2="579.2" stroke="#2b2b2b" stroke-width="4"/><line x1="1550" y1="603.4" x2="1555" y2="603.4" stroke="#2b2b2b" stroke-width="4"/><line x1="1550" y1="627.7" x2="1555" y2="627.7" stroke="#2b2b2b" stroke-width="4"/><line x1="1573.4" y1="639.8" x2="1573.4" y2="644.8" stroke="#2b2b2b" stroke-width="4"/><line x1="1606.6" y1="639.8" x2="1606.6" y2="644.8" stroke="#2b2b2b" stroke-width="4"/><line x1="1639.7" y1="639.8" x2="1639.7" y2="644.8" stroke="#2b2b2b" stroke-width="4"/><line x1="1672.9" y1="639.8" x2="1672.9" y2="644.8" stroke="#2b2b2b" stroke-width="4"/><line x1="1706" y1="639.8" x2="1706" y2="644.8" stroke="#2b2b2b" stroke-width="4"/><line x1="1739.2" y1="639.8" x2="1739.2" y2="644.8" stroke="#2b2b2b" stroke-width="4"/><line x1="1772.3" y1="639.8" x2="1772.3" y2="644.8" stroke="#2b2b2b" stroke-width="4"/><line x1="1805.5" y1="639.8" x2="1805.5" y2="644.8" stroke="#2b2b2b" stroke-width="4"/><line x1="1838.6" y1="639.8" x2="1838.6" y2="644.8" stroke="#2b2b2b" stroke-width="4"/><line x1="1871.8" y1="639.8" x2="1871.8" y2="644.8" stroke="#2b2b2b" stroke-width="4"/><text transform="translate(1546 53.9) scale(1.065 1)" font-size="24.6" text-anchor="end" font-style="italic">Trem1</text><text transform="translate(1546 78.1) scale(1.065 1)" font-size="24.6" text-anchor="end" font-style="italic">S100a8</text><text transform="translate(1546 102.4) scale(1.065 1)" font-size="24.6" text-anchor="end" font-style="italic">S100a9</text><text transform="translate(1546 126.7) scale(1.065 1)" font-size="24.6" text-anchor="end" font-style="italic">Mmp9</text><text transform="translate(1546 150.9) scale(1.065 1)" font-size="24.6" text-anchor="end" font-style="italic">Cpa3</text><text transform="translate(1546 175.2) scale(1.065 1)" font-size="24.6" text-anchor="end" font-style="italic">Kit</text><text transform="translate(1546 199.5) scale(1.065 1)" font-size="24.6" text-anchor="end" font-style="italic">Ccr9</text><text transform="translate(1546 223.7) scale(1.065 1)" font-size="24.6" text-anchor="end" font-style="italic">Siglech</text><text transform="translate(1546 248) scale(1.065 1)" font-size="24.6" text-anchor="end" font-style="italic">Cd200</text><text transform="translate(1546 272.2) scale(1.065 1)" font-size="24.6" text-anchor="end" font-style="italic">Ccr7</text><text transform="translate(1546 296.5) scale(1.065 1)" font-size="24.6" text-anchor="end" font-style="italic">Fscn1</text><text transform="translate(1546 320.8) scale(1.065 1)" font-size="24.6" text-anchor="end" font-style="italic">Clec10a</text><text transform="translate(1546 345) scale(1.065 1)" font-size="24.6" text-anchor="end" font-style="italic">Cd209a</text><text transform="translate(1546 369.3) scale(1.065 1)" font-size="24.6" text-anchor="end" font-style="italic">Xcr1</text><text transform="translate(1546 393.6) scale(1.065 1)" font-size="24.6" text-anchor="end" font-style="italic">Clec9a</text><text transform="translate(1546 417.8) scale(1.065 1)" font-size="24.6" text-anchor="end" font-style="italic">Cd36</text><text transform="translate(1546 442.1) scale(1.065 1)" font-size="24.6" text-anchor="end" font-style="italic">Nr4a1</text><text transform="translate(1546 466.3) scale(1.065 1)" font-size="24.6" text-anchor="end" font-style="italic">Adgre4</text><text transform="translate(1546 490.6) scale(1.065 1)" font-size="24.6" text-anchor="end" font-style="italic">Ace</text><text transform="translate(1546 514.9) scale(1.065 1)" font-size="24.6" text-anchor="end" font-style="italic">Cx3cr1</text><text transform="translate(1546 539.1) scale(1.065 1)" font-size="24.6" text-anchor="end" font-style="italic">Ccr2</text><text transform="translate(1546 563.4) scale(1.065 1)" font-size="24.6" text-anchor="end" font-style="italic">Ly6c2</text><text transform="translate(1546 587.7) scale(1.065 1)" font-size="24.6" text-anchor="end" font-style="italic">Trem2</text><text transform="translate(1546 611.9) scale(1.065 1)" font-size="24.6" text-anchor="end" font-style="italic">C1qa</text><text transform="translate(1546 636.2) scale(1.065 1)" font-size="24.6" text-anchor="end" font-style="italic">C1qc</text><text transform="translate(1585.4 660.3) rotate(-45) scale(1.07 1)" font-size="24.4" text-anchor="end">Macrophage</text><text transform="translate(1618.6 660.3) rotate(-45) scale(1.07 1)" font-size="24.4" text-anchor="end">Macro_proliferation</text><text transform="translate(1651.7 660.3) rotate(-45) scale(1.07 1)" font-size="24.4" text-anchor="end">Mono_Ly6c_high</text><text transform="translate(1684.9 660.3) rotate(-45) scale(1.07 1)" font-size="24.4" text-anchor="end">Mono_Ly6c_low</text><text transform="translate(1718 660.3) rotate(-45) scale(1.07 1)" font-size="24.4" text-anchor="end">cDC1</text><text transform="translate(1751.2 660.3) rotate(-45) scale(1.07 1)" font-size="24.4" text-anchor="end">cDC2</text><text transform="translate(1784.3 660.3) rotate(-45) scale(1.07 1)" font-size="24.4" text-anchor="end">tDC</text><text transform="translate(1817.5 660.3) rotate(-45) scale(1.07 1)" font-size="24.4" text-anchor="end">pDC</text><text transform="translate(1850.6 660.3) rotate(-45) scale(1.07 1)" font-size="24.4" text-anchor="end">Mast</text><text transform="translate(1883.8 660.3) rotate(-45) scale(1.07 1)" font-size="24.4" text-anchor="end">Neutrophil</text><circle cx="815.8" cy="1527.3" r="1.1" fill="#BDBDC6"/><circle cx="852.3" cy="1527.3" r="1.1" fill="#BDBDC6"/><circle cx="888.8" cy="1527.3" r="1.1" fill="#BDBDC6"/><circle cx="925.3" cy="1527.3" r="1.1" fill="#BDBDC6"/><circle cx="961.8" cy="1527.3" r="1.1" fill="#BDBDC6"/><circle cx="998.3" cy="1527.3" r="1.1" fill="#BDBDC6"/><circle cx="1034.8" cy="1527.3" r="1.1" fill="#BDBDC6"/><circle cx="1071.3" cy="1527.3" r="1.1" fill="#BDBDC6"/><circle cx="1107.8" cy="1527.3" r="1.1" fill="#BDBDC6"/><circle cx="1144.3" cy="1527.3" r="1.1" fill="#BDBDC6"/><circle cx="1180.8" cy="1527.3" r="1.1" fill="#BDBDC6"/><circle cx="1217.3" cy="1527.3" r="1.1" fill="#BDBDC6"/><circle cx="1253.8" cy="1527.3" r="1.1" fill="#BDBDC6"/><circle cx="1290.3" cy="1527.3" r="1.1" fill="#BDBDC6"/><circle cx="1326.8" cy="1527.3" r="10.2" fill="#0000FF"/><circle cx="815.8" cy="1554.4" r="1.1" fill="#BDBDC6"/><circle cx="852.3" cy="1554.4" r="1.1" fill="#BDBDC6"/><circle cx="888.8" cy="1554.4" r="1.1" fill="#BDBDC6"/><circle cx="925.3" cy="1554.4" r="1.1" fill="#BDBDC6"/><circle cx="961.8" cy="1554.4" r="1.1" fill="#BDBDC6"/><circle cx="998.3" cy="1554.4" r="1.1" fill="#BDBDC6"/><circle cx="1034.8" cy="1554.4" r="1.1" fill="#BDBDC6"/><circle cx="1071.3" cy="1554.4" r="1.1" fill="#BDBDC6"/><circle cx="1107.8" cy="1554.4" r="1.1" fill="#BDBDC6"/><circle cx="1144.3" cy="1554.4" r="1.1" fill="#BDBDC6"/><circle cx="1180.8" cy="1554.4" r="1.1" fill="#BDBDC6"/><circle cx="1217.3" cy="1554.4" r="2.2" fill="#AA89E7"/><circle cx="1253.8" cy="1554.4" r="1.1" fill="#BDBDC6"/><circle cx="1290.3" cy="1554.4" r="9.1" fill="#0000FF"/><circle cx="1326.8" cy="1554.4" r="1.1" fill="#BDBDC6"/><circle cx="815.8" cy="1581.5" r="1.1" fill="#BDBDC6"/><circle cx="852.3" cy="1581.5" r="1.1" fill="#BDBDC6"/><circle cx="888.8" cy="1581.5" r="1.1" fill="#BDBDC6"/><circle cx="925.3" cy="1581.5" r="1.1" fill="#BDBDC6"/><circle cx="961.8" cy="1581.5" r="1.1" fill="#BDBDC6"/><circle cx="998.3" cy="1581.5" r="1.1" fill="#BDBDC6"/><circle cx="1034.8" cy="1581.5" r="1.1" fill="#BDBDC6"/><circle cx="1071.3" cy="1581.5" r="1.1" fill="#BDBDC6"/><circle cx="1107.8" cy="1581.5" r="1.1" fill="#BDBDC6"/><circle cx="1144.3" cy="1581.5" r="1.1" fill="#BDBDC6"/><circle cx="1180.8" cy="1581.5" r="1.1" fill="#BDBDC6"/><circle cx="1217.3" cy="1581.5" r="1.1" fill="#BDBDC6"/><circle cx="1253.8" cy="1581.5" r="10.2" fill="#0000FF"/><circle cx="1290.3" cy="1581.5" r="1.1" fill="#BDBDC6"/><circle cx="1326.8" cy="1581.5" r="1.1" fill="#BDBDC6"/><circle cx="815.8" cy="1608.6" r="1.1" fill="#BDBDC6"/><circle cx="852.3" cy="1608.6" r="1.1" fill="#BDBDC6"/><circle cx="888.8" cy="1608.6" r="1.1" fill="#BDBDC6"/><circle cx="925.3" cy="1608.6" r="1.1" fill="#BDBDC6"/><circle cx="961.8" cy="1608.6" r="1.1" fill="#BDBDC6"/><circle cx="998.3" cy="1608.6" r="1.1" fill="#BDBDC6"/><circle cx="1034.8" cy="1608.6" r="1.1" fill="#BDBDC6"/><circle cx="1071.3" cy="1608.6" r="1.1" fill="#BDBDC6"/><circle cx="1107.8" cy="1608.6" r="1.1" fill="#BDBDC6"/><circle cx="1144.3" cy="1608.6" r="1.1" fill="#BDBDC6"/><circle cx="1180.8" cy="1608.6" r="1.1" fill="#BDBDC6"/><circle cx="1217.3" cy="1608.6" r="8" fill="#0000FF"/><circle cx="1253.8" cy="1608.6" r="5.8" fill="#9D77EC"/><circle cx="1290.3" cy="1608.6" r="1.1" fill="#BDBDC6"/><circle cx="1326.8" cy="1608.6" r="1.1" fill="#BDBDC6"/><circle cx="815.8" cy="1635.7" r="1.1" fill="#BDBDC6"/><circle cx="852.3" cy="1635.7" r="1.1" fill="#BDBDC6"/><circle cx="888.8" cy="1635.7" r="1.1" fill="#BDBDC6"/><circle cx="925.3" cy="1635.7" r="1.1" fill="#BDBDC6"/><circle cx="961.8" cy="1635.7" r="1.1" fill="#BDBDC6"/><circle cx="998.3" cy="1635.7" r="1.1" fill="#BDBDC6"/><circle cx="1034.8" cy="1635.7" r="1.1" fill="#BDBDC6"/><circle cx="1071.3" cy="1635.7" r="1.1" fill="#BDBDC6"/><circle cx="1107.8" cy="1635.7" r="1.1" fill="#BDBDC6"/><circle cx="1144.3" cy="1635.7" r="2.2" fill="#AA89E7"/><circle cx="1180.8" cy="1635.7" r="5.5" fill="#0000FF"/><circle cx="1217.3" cy="1635.7" r="2.8" fill="#AA89E7"/><circle cx="1253.8" cy="1635.7" r="3" fill="#A480EA"/><circle cx="1290.3" cy="1635.7" r="1.1" fill="#BDBDC6"/><circle cx="1326.8" cy="1635.7" r="1.1" fill="#BDBDC6"/><circle cx="815.8" cy="1662.8" r="1.1" fill="#BDBDC6"/><circle cx="852.3" cy="1662.8" r="1.1" fill="#BDBDC6"/><circle cx="888.8" cy="1662.8" r="1.1" fill="#BDBDC6"/><circle cx="925.3" cy="1662.8" r="1.1" fill="#BDBDC6"/><circle cx="961.8" cy="1662.8" r="1.1" fill="#BDBDC6"/><circle cx="998.3" cy="1662.8" r="1.1" fill="#BDBDC6"/><circle cx="1034.8" cy="1662.8" r="1.1" fill="#BDBDC6"/><circle cx="1071.3" cy="1662.8" r="1.1" fill="#BDBDC6"/><circle cx="1107.8" cy="1662.8" r="5.3" fill="#AA89E7"/><circle cx="1144.3" cy="1662.8" r="7.2" fill="#966EEE"/><circle cx="1180.8" cy="1662.8" r="9.1" fill="#0000FF"/><circle cx="1217.3" cy="1662.8" r="1.1" fill="#BDBDC6"/><circle cx="1253.8" cy="1662.8" r="1.1" fill="#BDBDC6"/><circle cx="1290.3" cy="1662.8" r="1.1" fill="#BDBDC6"/><circle cx="1326.8" cy="1662.8" r="1.1" fill="#BDBDC6"/><circle cx="815.8" cy="1690" r="1.1" fill="#BDBDC6"/><circle cx="852.3" cy="1690" r="1.1" fill="#BDBDC6"/><circle cx="888.8" cy="1690" r="2.8" fill="#D3D3D3"/><circle cx="925.3" cy="1690" r="4.7" fill="#B093E5"/><circle cx="961.8" cy="1690" r="6.6" fill="#9D77EC"/><circle cx="998.3" cy="1690" r="5.3" fill="#B69CE3"/><circle cx="1034.8" cy="1690" r="7.5" fill="#966EEE"/><circle cx="1071.3" cy="1690" r="8.3" fill="#855BF2"/><circle cx="1107.8" cy="1690" r="3.6" fill="#CAC0D9"/><circle cx="1144.3" cy="1690" r="5.8" fill="#B69CE3"/><circle cx="1180.8" cy="1690" r="8.3" fill="#7C51F4"/><circle cx="1217.3" cy="1690" r="5.3" fill="#BBA5E0"/><circle cx="1253.8" cy="1690" r="6.9" fill="#B69CE3"/><circle cx="1290.3" cy="1690" r="1.1" fill="#BDBDC6"/><circle cx="1326.8" cy="1690" r="8.3" fill="#8E65F0"/><circle cx="815.8" cy="1717.1" r="1.1" fill="#BDBDC6"/><circle cx="852.3" cy="1717.1" r="1.1" fill="#BDBDC6"/><circle cx="888.8" cy="1717.1" r="1.1" fill="#BDBDC6"/><circle cx="925.3" cy="1717.1" r="1.1" fill="#BDBDC6"/><circle cx="961.8" cy="1717.1" r="1.1" fill="#BDBDC6"/><circle cx="998.3" cy="1717.1" r="1.1" fill="#BDBDC6"/><circle cx="1034.8" cy="1717.1" r="3" fill="#9D77EC"/><circle cx="1071.3" cy="1717.1" r="1.7" fill="#C1AEDE"/><circle cx="1107.8" cy="1717.1" r="6.6" fill="#A480EA"/><circle cx="1144.3" cy="1717.1" r="8" fill="#7C51F4"/><circle cx="1180.8" cy="1717.1" r="7.5" fill="#0000FF"/><circle cx="1217.3" cy="1717.1" r="4.4" fill="#AA89E7"/><circle cx="1253.8" cy="1717.1" r="1.1" fill="#BDBDC6"/><circle cx="1290.3" cy="1717.1" r="1.1" fill="#BDBDC6"/><circle cx="1326.8" cy="1717.1" r="1.1" fill="#BDBDC6"/><circle cx="815.8" cy="1744.2" r="1.1" fill="#BDBDC6"/><circle cx="852.3" cy="1744.2" r="1.1" fill="#BDBDC6"/><circle cx="888.8" cy="1744.2" r="1.1" fill="#BDBDC6"/><circle cx="925.3" cy="1744.2" r="1.1" fill="#BDBDC6"/><circle cx="961.8" cy="1744.2" r="4.7" fill="#B093E5"/><circle cx="998.3" cy="1744.2" r="1.1" fill="#BDBDC6"/><circle cx="1034.8" cy="1744.2" r="4.4" fill="#B69CE3"/><circle cx="1071.3" cy="1744.2" r="4.1" fill="#B69CE3"/><circle cx="1107.8" cy="1744.2" r="10" fill="#4926FB"/><circle cx="1144.3" cy="1744.2" r="9.4" fill="#855BF2"/><circle cx="1180.8" cy="1744.2" r="4.1" fill="#BBA5E0"/><circle cx="1217.3" cy="1744.2" r="9.7" fill="#966EEE"/><circle cx="1253.8" cy="1744.2" r="8.6" fill="#AA89E7"/><circle cx="1290.3" cy="1744.2" r="1.1" fill="#BDBDC6"/><circle cx="1326.8" cy="1744.2" r="6.9" fill="#B69CE3"/><circle cx="815.8" cy="1771.3" r="1.1" fill="#BDBDC6"/><circle cx="852.3" cy="1771.3" r="1.1" fill="#BDBDC6"/><circle cx="888.8" cy="1771.3" r="1.1" fill="#BDBDC6"/><circle cx="925.3" cy="1771.3" r="1.1" fill="#BDBDC6"/><circle cx="961.8" cy="1771.3" r="1.1" fill="#BDBDC6"/><circle cx="998.3" cy="1771.3" r="6.4" fill="#B69CE3"/><circle cx="1034.8" cy="1771.3" r="6.4" fill="#B093E5"/><circle cx="1071.3" cy="1771.3" r="5.5" fill="#B093E5"/><circle cx="1107.8" cy="1771.3" r="10" fill="#673DF8"/><circle cx="1144.3" cy="1771.3" r="8.9" fill="#AA89E7"/><circle cx="1180.8" cy="1771.3" r="2.8" fill="#C1AEDE"/><circle cx="1217.3" cy="1771.3" r="4.1" fill="#BBA5E0"/><circle cx="1253.8" cy="1771.3" r="10.2" fill="#0000FF"/><circle cx="1290.3" cy="1771.3" r="1.9" fill="#C1AEDE"/><circle cx="1326.8" cy="1771.3" r="1.1" fill="#BDBDC6"/><circle cx="815.8" cy="1798.4" r="1.1" fill="#BDBDC6"/><circle cx="852.3" cy="1798.4" r="1.1" fill="#BDBDC6"/><circle cx="888.8" cy="1798.4" r="1.1" fill="#BDBDC6"/><circle cx="925.3" cy="1798.4" r="1.1" fill="#BDBDC6"/><circle cx="961.8" cy="1798.4" r="1.1" fill="#BDBDC6"/><circle cx="998.3" cy="1798.4" r="2.2" fill="#BBA5E0"/><circle cx="1034.8" cy="1798.4" r="3" fill="#AA89E7"/><circle cx="1071.3" cy="1798.4" r="2.2" fill="#BBA5E0"/><circle cx="1107.8" cy="1798.4" r="8.3" fill="#673DF8"/><circle cx="1144.3" cy="1798.4" r="6.1" fill="#9D77EC"/><circle cx="1180.8" cy="1798.4" r="1.7" fill="#C1AEDE"/><circle cx="1217.3" cy="1798.4" r="1.9" fill="#BBA5E0"/><circle cx="1253.8" cy="1798.4" r="9.1" fill="#0000FF"/><circle cx="1290.3" cy="1798.4" r="1.1" fill="#BDBDC6"/><circle cx="1326.8" cy="1798.4" r="1.1" fill="#BDBDC6"/><circle cx="815.8" cy="1825.5" r="1.1" fill="#BDBDC6"/><circle cx="852.3" cy="1825.5" r="1.1" fill="#BDBDC6"/><circle cx="888.8" cy="1825.5" r="1.1" fill="#BDBDC6"/><circle cx="925.3" cy="1825.5" r="1.1" fill="#BDBDC6"/><circle cx="961.8" cy="1825.5" r="1.1" fill="#BDBDC6"/><circle cx="998.3" cy="1825.5" r="1.1" fill="#BDBDC6"/><circle cx="1034.8" cy="1825.5" r="2.6" fill="#AA89E7"/><circle cx="1071.3" cy="1825.5" r="10.2" fill="#0000FF"/><circle cx="1107.8" cy="1825.5" r="1.1" fill="#BDBDC6"/><circle cx="1144.3" cy="1825.5" r="1.1" fill="#BDBDC6"/><circle cx="1180.8" cy="1825.5" r="1.1" fill="#BDBDC6"/><circle cx="1217.3" cy="1825.5" r="1.1" fill="#BDBDC6"/><circle cx="1253.8" cy="1825.5" r="1.1" fill="#BDBDC6"/><circle cx="1290.3" cy="1825.5" r="1.1" fill="#BDBDC6"/><circle cx="1326.8" cy="1825.5" r="1.1" fill="#BDBDC6"/><circle cx="815.8" cy="1852.6" r="1.1" fill="#BDBDC6"/><circle cx="852.3" cy="1852.6" r="1.1" fill="#BDBDC6"/><circle cx="888.8" cy="1852.6" r="1.1" fill="#BDBDC6"/><circle cx="925.3" cy="1852.6" r="1.1" fill="#BDBDC6"/><circle cx="961.8" cy="1852.6" r="1.7" fill="#B69CE3"/><circle cx="998.3" cy="1852.6" r="1.7" fill="#BBA5E0"/><circle cx="1034.8" cy="1852.6" r="9.7" fill="#0000FF"/><circle cx="1071.3" cy="1852.6" r="10.2" fill="#5932FA"/><circle cx="1107.8" cy="1852.6" r="1.1" fill="#BDBDC6"/><circle cx="1144.3" cy="1852.6" r="1.1" fill="#BDBDC6"/><circle cx="1180.8" cy="1852.6" r="1.1" fill="#BDBDC6"/><circle cx="1217.3" cy="1852.6" r="1.4" fill="#B69CE3"/><circle cx="1253.8" cy="1852.6" r="1.1" fill="#BDBDC6"/><circle cx="1290.3" cy="1852.6" r="1.1" fill="#BDBDC6"/><circle cx="1326.8" cy="1852.6" r="1.1" fill="#BDBDC6"/><circle cx="815.8" cy="1879.7" r="1.1" fill="#BDBDC6"/><circle cx="852.3" cy="1879.7" r="1.1" fill="#BDBDC6"/><circle cx="888.8" cy="1879.7" r="1.1" fill="#BDBDC6"/><circle cx="925.3" cy="1879.7" r="1.1" fill="#BDBDC6"/><circle cx="961.8" cy="1879.7" r="1.1" fill="#BDBDC6"/><circle cx="998.3" cy="1879.7" r="9.1" fill="#0000FF"/><circle cx="1034.8" cy="1879.7" r="4.9" fill="#855BF2"/><circle cx="1071.3" cy="1879.7" r="1.1" fill="#BDBDC6"/><circle cx="1107.8" cy="1879.7" r="1.1" fill="#BDBDC6"/><circle cx="1144.3" cy="1879.7" r="1.1" fill="#BDBDC6"/><circle cx="1180.8" cy="1879.7" r="1.1" fill="#BDBDC6"/><circle cx="1217.3" cy="1879.7" r="1.1" fill="#BDBDC6"/><circle cx="1253.8" cy="1879.7" r="1.7" fill="#B69CE3"/><circle cx="1290.3" cy="1879.7" r="1.1" fill="#BDBDC6"/><circle cx="1326.8" cy="1879.7" r="1.1" fill="#BDBDC6"/><circle cx="815.8" cy="1906.8" r="1.1" fill="#BDBDC6"/><circle cx="852.3" cy="1906.8" r="1.1" fill="#BDBDC6"/><circle cx="888.8" cy="1906.8" r="1.1" fill="#BDBDC6"/><circle cx="925.3" cy="1906.8" r="1.1" fill="#BDBDC6"/><circle cx="961.8" cy="1906.8" r="5.2" fill="#0000FF"/><circle cx="998.3" cy="1906.8" r="1.1" fill="#BDBDC6"/><circle cx="1034.8" cy="1906.8" r="1.1" fill="#BDBDC6"/><circle cx="1071.3" cy="1906.8" r="1.1" fill="#BDBDC6"/><circle cx="1107.8" cy="1906.8" r="1.1" fill="#BDBDC6"/><circle cx="1144.3" cy="1906.8" r="1.1" fill="#BDBDC6"/><circle cx="1180.8" cy="1906.8" r="1.1" fill="#BDBDC6"/><circle cx="1217.3" cy="1906.8" r="1.1" fill="#BDBDC6"/><circle cx="1253.8" cy="1906.8" r="1.1" fill="#BDBDC6"/><circle cx="1290.3" cy="1906.8" r="1.1" fill="#BDBDC6"/><circle cx="1326.8" cy="1906.8" r="1.1" fill="#BDBDC6"/><circle cx="815.8" cy="1933.9" r="1.1" fill="#BDBDC6"/><circle cx="852.3" cy="1933.9" r="1.1" fill="#BDBDC6"/><circle cx="888.8" cy="1933.9" r="1.1" fill="#BDBDC6"/><circle cx="925.3" cy="1933.9" r="9.1" fill="#0000FF"/><circle cx="961.8" cy="1933.9" r="6.6" fill="#966EEE"/><circle cx="998.3" cy="1933.9" r="9.1" fill="#7248F6"/><circle cx="1034.8" cy="1933.9" r="4.5" fill="#AA89E7"/><circle cx="1071.3" cy="1933.9" r="1.7" fill="#C1AEDE"/><circle cx="1107.8" cy="1933.9" r="1.1" fill="#BDBDC6"/><circle cx="1144.3" cy="1933.9" r="1.1" fill="#BDBDC6"/><circle cx="1180.8" cy="1933.9" r="1.1" fill="#BDBDC6"/><circle cx="1217.3" cy="1933.9" r="1.1" fill="#BDBDC6"/><circle cx="1253.8" cy="1933.9" r="1.1" fill="#BDBDC6"/><circle cx="1290.3" cy="1933.9" r="1.1" fill="#BDBDC6"/><circle cx="1326.8" cy="1933.9" r="1.1" fill="#BDBDC6"/><circle cx="815.8" cy="1961.1" r="1.1" fill="#BDBDC6"/><circle cx="852.3" cy="1961.1" r="1.1" fill="#BDBDC6"/><circle cx="888.8" cy="1961.1" r="1.1" fill="#BDBDC6"/><circle cx="925.3" cy="1961.1" r="9.1" fill="#0000FF"/><circle cx="961.8" cy="1961.1" r="5.9" fill="#AA89E7"/><circle cx="998.3" cy="1961.1" r="9.1" fill="#7248F6"/><circle cx="1034.8" cy="1961.1" r="3.5" fill="#B093E5"/><circle cx="1071.3" cy="1961.1" r="3.5" fill="#B69CE3"/><circle cx="1107.8" cy="1961.1" r="1.1" fill="#BDBDC6"/><circle cx="1144.3" cy="1961.1" r="1.1" fill="#BDBDC6"/><circle cx="1180.8" cy="1961.1" r="1.1" fill="#BDBDC6"/><circle cx="1217.3" cy="1961.1" r="1.1" fill="#BDBDC6"/><circle cx="1253.8" cy="1961.1" r="1.1" fill="#BDBDC6"/><circle cx="1290.3" cy="1961.1" r="1.1" fill="#BDBDC6"/><circle cx="1326.8" cy="1961.1" r="1.1" fill="#BDBDC6"/><circle cx="815.8" cy="1988.2" r="1.1" fill="#BDBDC6"/><circle cx="852.3" cy="1988.2" r="1.1" fill="#BDBDC6"/><circle cx="888.8" cy="1988.2" r="1.1" fill="#BDBDC6"/><circle cx="925.3" cy="1988.2" r="7.3" fill="#4926FB"/><circle cx="961.8" cy="1988.2" r="7.3" fill="#4926FB"/><circle cx="998.3" cy="1988.2" r="1.1" fill="#BDBDC6"/><circle cx="1034.8" cy="1988.2" r="1.1" fill="#BDBDC6"/><circle cx="1071.3" cy="1988.2" r="1.1" fill="#BDBDC6"/><circle cx="1107.8" cy="1988.2" r="1.1" fill="#BDBDC6"/><circle cx="1144.3" cy="1988.2" r="1.1" fill="#BDBDC6"/><circle cx="1180.8" cy="1988.2" r="1.1" fill="#BDBDC6"/><circle cx="1217.3" cy="1988.2" r="1.1" fill="#BDBDC6"/><circle cx="1253.8" cy="1988.2" r="7.7" fill="#8E65F0"/><circle cx="1290.3" cy="1988.2" r="1.1" fill="#BDBDC6"/><circle cx="1326.8" cy="1988.2" r="1.1" fill="#BDBDC6"/><circle cx="815.8" cy="2015.3" r="1.1" fill="#BDBDC6"/><circle cx="852.3" cy="2015.3" r="1.1" fill="#BDBDC6"/><circle cx="888.8" cy="2015.3" r="1.1" fill="#BDBDC6"/><circle cx="925.3" cy="2015.3" r="9.4" fill="#7248F6"/><circle cx="961.8" cy="2015.3" r="9.4" fill="#7248F6"/><circle cx="998.3" cy="2015.3" r="10.1" fill="#7248F6"/><circle cx="1034.8" cy="2015.3" r="7.3" fill="#9D77EC"/><circle cx="1071.3" cy="2015.3" r="1.1" fill="#BDBDC6"/><circle cx="1107.8" cy="2015.3" r="1.1" fill="#BDBDC6"/><circle cx="1144.3" cy="2015.3" r="1.1" fill="#BDBDC6"/><circle cx="1180.8" cy="2015.3" r="1.1" fill="#BDBDC6"/><circle cx="1217.3" cy="2015.3" r="1.1" fill="#BDBDC6"/><circle cx="1253.8" cy="2015.3" r="1.1" fill="#BDBDC6"/><circle cx="1290.3" cy="2015.3" r="2.1" fill="#B69CE3"/><circle cx="1326.8" cy="2015.3" r="1.1" fill="#BDBDC6"/><circle cx="815.8" cy="2042.4" r="1.1" fill="#BDBDC6"/><circle cx="852.3" cy="2042.4" r="1.1" fill="#BDBDC6"/><circle cx="888.8" cy="2042.4" r="6.3" fill="#0000FF"/><circle cx="925.3" cy="2042.4" r="1.1" fill="#BDBDC6"/><circle cx="961.8" cy="2042.4" r="1.4" fill="#9D77EC"/><circle cx="998.3" cy="2042.4" r="1.1" fill="#BDBDC6"/><circle cx="1034.8" cy="2042.4" r="1.1" fill="#BDBDC6"/><circle cx="1071.3" cy="2042.4" r="1.1" fill="#BDBDC6"/><circle cx="1107.8" cy="2042.4" r="1.1" fill="#BDBDC6"/><circle cx="1144.3" cy="2042.4" r="1.1" fill="#BDBDC6"/><circle cx="1180.8" cy="2042.4" r="1.1" fill="#BDBDC6"/><circle cx="1217.3" cy="2042.4" r="3.5" fill="#9D77EC"/><circle cx="1253.8" cy="2042.4" r="1.1" fill="#BDBDC6"/><circle cx="1290.3" cy="2042.4" r="1.1" fill="#BDBDC6"/><circle cx="1326.8" cy="2042.4" r="1.1" fill="#BDBDC6"/><circle cx="815.8" cy="2069.5" r="3.1" fill="#AA89E7"/><circle cx="852.3" cy="2069.5" r="8.4" fill="#0000FF"/><circle cx="888.8" cy="2069.5" r="4.2" fill="#A480EA"/><circle cx="925.3" cy="2069.5" r="1.1" fill="#BDBDC6"/><circle cx="961.8" cy="2069.5" r="1.1" fill="#BDBDC6"/><circle cx="998.3" cy="2069.5" r="1.1" fill="#BDBDC6"/><circle cx="1034.8" cy="2069.5" r="1.1" fill="#BDBDC6"/><circle cx="1071.3" cy="2069.5" r="1.1" fill="#BDBDC6"/><circle cx="1107.8" cy="2069.5" r="1.1" fill="#BDBDC6"/><circle cx="1144.3" cy="2069.5" r="1.1" fill="#BDBDC6"/><circle cx="1180.8" cy="2069.5" r="1.1" fill="#BDBDC6"/><circle cx="1217.3" cy="2069.5" r="1.1" fill="#BDBDC6"/><circle cx="1253.8" cy="2069.5" r="1.1" fill="#BDBDC6"/><circle cx="1290.3" cy="2069.5" r="1.1" fill="#BDBDC6"/><circle cx="1326.8" cy="2069.5" r="1.1" fill="#BDBDC6"/><circle cx="815.8" cy="2096.6" r="9.8" fill="#0000FF"/><circle cx="852.3" cy="2096.6" r="4.9" fill="#AA89E7"/><circle cx="888.8" cy="2096.6" r="2.1" fill="#B69CE3"/><circle cx="925.3" cy="2096.6" r="1.1" fill="#BDBDC6"/><circle cx="961.8" cy="2096.6" r="1.1" fill="#BDBDC6"/><circle cx="998.3" cy="2096.6" r="1.1" fill="#BDBDC6"/><circle cx="1034.8" cy="2096.6" r="1.1" fill="#BDBDC6"/><circle cx="1071.3" cy="2096.6" r="1.1" fill="#BDBDC6"/><circle cx="1107.8" cy="2096.6" r="1.1" fill="#BDBDC6"/><circle cx="1144.3" cy="2096.6" r="1.1" fill="#BDBDC6"/><circle cx="1180.8" cy="2096.6" r="1.1" fill="#BDBDC6"/><circle cx="1217.3" cy="2096.6" r="1.1" fill="#BDBDC6"/><circle cx="1253.8" cy="2096.6" r="1.1" fill="#BDBDC6"/><circle cx="1290.3" cy="2096.6" r="1.1" fill="#BDBDC6"/><circle cx="1326.8" cy="2096.6" r="1.1" fill="#BDBDC6"/><circle cx="815.8" cy="2123.7" r="10.1" fill="#0000FF"/><circle cx="852.3" cy="2123.7" r="10.1" fill="#7C51F4"/><circle cx="888.8" cy="2123.7" r="10.1" fill="#8E65F0"/><circle cx="925.3" cy="2123.7" r="1.1" fill="#BDBDC6"/><circle cx="961.8" cy="2123.7" r="1.1" fill="#BDBDC6"/><circle cx="998.3" cy="2123.7" r="1.1" fill="#BDBDC6"/><circle cx="1034.8" cy="2123.7" r="1.1" fill="#BDBDC6"/><circle cx="1071.3" cy="2123.7" r="1.1" fill="#BDBDC6"/><circle cx="1107.8" cy="2123.7" r="1.1" fill="#BDBDC6"/><circle cx="1144.3" cy="2123.7" r="1.1" fill="#BDBDC6"/><circle cx="1180.8" cy="2123.7" r="1.1" fill="#BDBDC6"/><circle cx="1217.3" cy="2123.7" r="1.1" fill="#BDBDC6"/><circle cx="1253.8" cy="2123.7" r="1.1" fill="#BDBDC6"/><circle cx="1290.3" cy="2123.7" r="1.1" fill="#BDBDC6"/><circle cx="1326.8" cy="2123.7" r="1.1" fill="#BDBDC6"/><line x1="907.3" y1="1513.3" x2="907.3" y2="2138.1" stroke="#1a1a1a" stroke-width="2.6" stroke-dasharray="2.6 9.95"/><line x1="1089.7" y1="1513.3" x2="1089.7" y2="2138.1" stroke="#1a1a1a" stroke-width="2.6" stroke-dasharray="2.6 9.95"/><line x1="1199.1" y1="1513.3" x2="1199.1" y2="2138.1" stroke="#1a1a1a" stroke-width="2.6" stroke-dasharray="2.6 9.95"/><rect x="795.4" y="1512.3" width="552.2" height="625.8" fill="none" stroke="#2b2b2b" stroke-width="2.3"/><line x1="790.4" y1="1527.3" x2="795.4" y2="1527.3" stroke="#2b2b2b" stroke-width="4"/><line x1="790.4" y1="1554.4" x2="795.4" y2="1554.4" stroke="#2b2b2b" stroke-width="4"/><line x1="790.4" y1="1581.5" x2="795.4" y2="1581.5" stroke="#2b2b2b" stroke-width="4"/><line x1="790.4" y1="1608.6" x2="795.4" y2="1608.6" stroke="#2b2b2b" stroke-width="4"/><line x1="790.4" y1="1635.7" x2="795.4" y2="1635.7" stroke="#2b2b2b" stroke-width="4"/><line x1="790.4" y1="1662.8" x2="795.4" y2="1662.8" stroke="#2b2b2b" stroke-width="4"/><line x1="790.4" y1="1690" x2="795.4" y2="1690" stroke="#2b2b2b" stroke-width="4"/><line x1="790.4" y1="1717.1" x2="795.4" y2="1717.1" stroke="#2b2b2b" stroke-width="4"/><line x1="790.4" y1="1744.2" x2="795.4" y2="1744.2" stroke="#2b2b2b" stroke-width="4"/><line x1="790.4" y1="1771.3" x2="795.4" y2="1771.3" stroke="#2b2b2b" stroke-width="4"/><line x1="790.4" y1="1798.4" x2="795.4" y2="1798.4" stroke="#2b2b2b" stroke-width="4"/><line x1="790.4" y1="1825.5" x2="795.4" y2="1825.5" stroke="#2b2b2b" stroke-width="4"/><line x1="790.4" y1="1852.6" x2="795.4" y2="1852.6" stroke="#2b2b2b" stroke-width="4"/><line x1="790.4" y1="1879.7" x2="795.4" y2="1879.7" stroke="#2b2b2b" stroke-width="4"/><line x1="790.4" y1="1906.8" x2="795.4" y2="1906.8" stroke="#2b2b2b" stroke-width="4"/><line x1="790.4" y1="1933.9" x2="795.4" y2="1933.9" stroke="#2b2b2b" stroke-width="4"/><line x1="790.4" y1="1961.1" x2="795.4" y2="1961.1" stroke="#2b2b2b" stroke-width="4"/><line x1="790.4" y1="1988.2" x2="795.4" y2="1988.2" stroke="#2b2b2b" stroke-width="4"/><line x1="790.4" y1="2015.3" x2="795.4" y2="2015.3" stroke="#2b2b2b" stroke-width="4"/><line x1="790.4" y1="2042.4" x2="795.4" y2="2042.4" stroke="#2b2b2b" stroke-width="4"/><line x1="790.4" y1="2069.5" x2="795.4" y2="2069.5" stroke="#2b2b2b" stroke-width="4"/><line x1="790.4" y1="2096.6" x2="795.4" y2="2096.6" stroke="#2b2b2b" stroke-width="4"/><line x1="790.4" y1="2123.7" x2="795.4" y2="2123.7" stroke="#2b2b2b" stroke-width="4"/><line x1="815.8" y1="2138.1" x2="815.8" y2="2143.1" stroke="#2b2b2b" stroke-width="4"/><line x1="852.3" y1="2138.1" x2="852.3" y2="2143.1" stroke="#2b2b2b" stroke-width="4"/><line x1="888.8" y1="2138.1" x2="888.8" y2="2143.1" stroke="#2b2b2b" stroke-width="4"/><line x1="925.3" y1="2138.1" x2="925.3" y2="2143.1" stroke="#2b2b2b" stroke-width="4"/><line x1="961.8" y1="2138.1" x2="961.8" y2="2143.1" stroke="#2b2b2b" stroke-width="4"/><line x1="998.3" y1="2138.1" x2="998.3" y2="2143.1" stroke="#2b2b2b" stroke-width="4"/><line x1="1034.8" y1="2138.1" x2="1034.8" y2="2143.1" stroke="#2b2b2b" stroke-width="4"/><line x1="1071.3" y1="2138.1" x2="1071.3" y2="2143.1" stroke="#2b2b2b" stroke-width="4"/><line x1="1107.8" y1="2138.1" x2="1107.8" y2="2143.1" stroke="#2b2b2b" stroke-width="4"/><line x1="1144.3" y1="2138.1" x2="1144.3" y2="2143.1" stroke="#2b2b2b" stroke-width="4"/><line x1="1180.8" y1="2138.1" x2="1180.8" y2="2143.1" stroke="#2b2b2b" stroke-width="4"/><line x1="1217.3" y1="2138.1" x2="1217.3" y2="2143.1" stroke="#2b2b2b" stroke-width="4"/><line x1="1253.8" y1="2138.1" x2="1253.8" y2="2143.1" stroke="#2b2b2b" stroke-width="4"/><line x1="1290.3" y1="2138.1" x2="1290.3" y2="2143.1" stroke="#2b2b2b" stroke-width="4"/><line x1="1326.8" y1="2138.1" x2="1326.8" y2="2143.1" stroke="#2b2b2b" stroke-width="4"/><text transform="translate(788.3 1535.8) scale(1.065 1)" font-size="24.6" text-anchor="end" font-style="italic">Cd200r3</text><text transform="translate(788.3 1562.9) scale(1.065 1)" font-size="24.6" text-anchor="end" font-style="italic">Mmp9</text><text transform="translate(788.3 1590) scale(1.065 1)" font-size="24.6" text-anchor="end" font-style="italic">Siglech</text><text transform="translate(788.3 1617.1) scale(1.065 1)" font-size="24.6" text-anchor="end" font-style="italic">Cd209a</text><text transform="translate(788.3 1644.2) scale(1.065 1)" font-size="24.6" text-anchor="end" font-style="italic">Cd36</text><text transform="translate(788.3 1671.3) scale(1.065 1)" font-size="24.6" text-anchor="end" font-style="italic">Nr4a1</text><text transform="translate(788.3 1698.4) scale(1.065 1)" font-size="24.6" text-anchor="end" font-style="italic">Spn</text><text transform="translate(788.3 1725.6) scale(1.065 1)" font-size="24.6" text-anchor="end" font-style="italic">Cx3cr1</text><text transform="translate(788.3 1752.7) scale(1.065 1)" font-size="24.6" text-anchor="end" font-style="italic">Ccr2</text><text transform="translate(788.3 1779.8) scale(1.065 1)" font-size="24.6" text-anchor="end" font-style="italic">Ly6c2</text><text transform="translate(788.3 1806.9) scale(1.065 1)" font-size="24.6" text-anchor="end" font-style="italic">Ly6c1</text><text transform="translate(788.3 1834) scale(1.065 1)" font-size="24.6" text-anchor="end" font-style="italic">Ncr1</text><text transform="translate(788.3 1861.1) scale(1.065 1)" font-size="24.6" text-anchor="end" font-style="italic">Ccl5</text><text transform="translate(788.3 1888.2) scale(1.065 1)" font-size="24.6" text-anchor="end" font-style="italic">Cd8a</text><text transform="translate(788.3 1915.3) scale(1.065 1)" font-size="24.6" text-anchor="end" font-style="italic">Foxp3</text><text transform="translate(788.3 1942.4) scale(1.065 1)" font-size="24.6" text-anchor="end" font-style="italic">Tcf7</text><text transform="translate(788.3 1969.5) scale(1.065 1)" font-size="24.6" text-anchor="end" font-style="italic">Lef1</text><text transform="translate(788.3 1996.7) scale(1.065 1)" font-size="24.6" text-anchor="end" font-style="italic">Cd4</text><text transform="translate(788.3 2023.8) scale(1.065 1)" font-size="24.6" text-anchor="end" font-style="italic">Cd3d</text><text transform="translate(788.3 2050.9) scale(1.065 1)" font-size="24.6" text-anchor="end" font-style="italic">Zbtb32</text><text transform="translate(788.3 2078) scale(1.065 1)" font-size="24.6" text-anchor="end" font-style="italic">Ighd</text><text transform="translate(788.3 2105.1) scale(1.065 1)" font-size="24.6" text-anchor="end" font-style="italic">Vpreb3</text><text transform="translate(788.3 2132.2) scale(1.065 1)" font-size="24.6" text-anchor="end" font-style="italic">Cd79a</text><text transform="translate(827.8 2158.6) rotate(-45) scale(1.07 1)" font-size="24.4" text-anchor="end">B_naive</text><text transform="translate(864.3 2158.6) rotate(-45) scale(1.07 1)" font-size="24.4" text-anchor="end">B_Ighd</text><text transform="translate(900.8 2158.6) rotate(-45) scale(1.07 1)" font-size="24.4" text-anchor="end">B_memory</text><text transform="translate(937.3 2158.6) rotate(-45) scale(1.07 1)" font-size="24.4" text-anchor="end">CD4_T</text><text transform="translate(973.8 2158.6) rotate(-45) scale(1.07 1)" font-size="24.4" text-anchor="end">CD4_Treg</text><text transform="translate(1010.3 2158.6) rotate(-45) scale(1.07 1)" font-size="24.4" text-anchor="end">CD8_T</text><text transform="translate(1046.8 2158.6) rotate(-45) scale(1.07 1)" font-size="24.4" text-anchor="end">CD8_T_Ccl5</text><text transform="translate(1083.3 2158.6) rotate(-45) scale(1.07 1)" font-size="24.4" text-anchor="end">NK</text><text transform="translate(1119.8 2158.6) rotate(-45) scale(1.07 1)" font-size="24.4" text-anchor="end">Mono_Ly6c_high</text><text transform="translate(1156.3 2158.6) rotate(-45) scale(1.07 1)" font-size="24.4" text-anchor="end">Mono_int</text><text transform="translate(1192.8 2158.6) rotate(-45) scale(1.07 1)" font-size="24.4" text-anchor="end">Mono_Ly6c_low</text><text transform="translate(1229.3 2158.6) rotate(-45) scale(1.07 1)" font-size="24.4" text-anchor="end">cDC</text><text transform="translate(1265.8 2158.6) rotate(-45) scale(1.07 1)" font-size="24.4" text-anchor="end">pDC</text><text transform="translate(1302.3 2158.6) rotate(-45) scale(1.07 1)" font-size="24.4" text-anchor="end">Neutrophil</text><text transform="translate(1338.8 2158.6) rotate(-45) scale(1.07 1)" font-size="24.4" text-anchor="end">Basophil</text>
<g stroke="#969696" stroke-width="1.2"><rect x="235.7" y="887.6" width="31.6" height="31.5" fill="#3D8ABE"/><rect x="267.3" y="887.6" width="31.6" height="31.5" fill="#E98C6E"/><rect x="299" y="887.6" width="31.6" height="31.5" fill="#DFECF3"/><rect x="330.6" y="887.6" width="31.6" height="31.5" fill="#FBC7AD"/><rect x="235.7" y="919.1" width="31.6" height="31.5" fill="#367EB9"/><rect x="267.3" y="919.1" width="31.6" height="31.5" fill="#E4EEF4"/><rect x="299" y="919.1" width="31.6" height="31.5" fill="#F9B99B"/><rect x="330.6" y="919.1" width="31.6" height="31.5" fill="#F19D7B"/><rect x="235.7" y="950.6" width="31.6" height="31.5" fill="#3D8ABE"/><rect x="267.3" y="950.6" width="31.6" height="31.5" fill="#D6E7F1"/><rect x="299" y="950.6" width="31.6" height="31.5" fill="#F19D7B"/><rect x="330.6" y="950.6" width="31.6" height="31.5" fill="#F6AC8A"/><rect x="235.7" y="982.2" width="31.6" height="31.5" fill="#3D8ABE"/><rect x="267.3" y="982.2" width="31.6" height="31.5" fill="#E4EEF4"/><rect x="299" y="982.2" width="31.6" height="31.5" fill="#FBC7AD"/><rect x="330.6" y="982.2" width="31.6" height="31.5" fill="#DE725A"/><rect x="235.7" y="1013.7" width="31.6" height="31.5" fill="#5EA2CB"/><rect x="267.3" y="1013.7" width="31.6" height="31.5" fill="#DBE9F2"/><rect x="299" y="1013.7" width="31.6" height="31.5" fill="#FCE2D3"/><rect x="330.6" y="1013.7" width="31.6" height="31.5" fill="#CD5144"/><rect x="235.7" y="1045.2" width="31.6" height="31.5" fill="#3279B6"/><rect x="267.3" y="1045.2" width="31.6" height="31.5" fill="#FDDECD"/><rect x="299" y="1045.2" width="31.6" height="31.5" fill="#FDDECD"/><rect x="330.6" y="1045.2" width="31.6" height="31.5" fill="#F19D7B"/><rect x="235.7" y="1076.7" width="31.6" height="31.5" fill="#539CC8"/><rect x="267.3" y="1076.7" width="31.6" height="31.5" fill="#DBE9F2"/><rect x="299" y="1076.7" width="31.6" height="31.5" fill="#DA6953"/><rect x="330.6" y="1076.7" width="31.6" height="31.5" fill="#FBC7AD"/><rect x="235.7" y="1108.2" width="31.6" height="31.5" fill="#367EB9"/><rect x="267.3" y="1108.2" width="31.6" height="31.5" fill="#E98C6E"/><rect x="299" y="1108.2" width="31.6" height="31.5" fill="#F9F0EB"/><rect x="330.6" y="1108.2" width="31.6" height="31.5" fill="#FDDECD"/><rect x="235.7" y="1139.8" width="31.6" height="31.5" fill="#5EA2CB"/><rect x="267.3" y="1139.8" width="31.6" height="31.5" fill="#DBE9F2"/><rect x="299" y="1139.8" width="31.6" height="31.5" fill="#FCE2D3"/><rect x="330.6" y="1139.8" width="31.6" height="31.5" fill="#CD5144"/><rect x="235.7" y="1171.3" width="31.6" height="31.5" fill="#367EB9"/><rect x="267.3" y="1171.3" width="31.6" height="31.5" fill="#E9F0F4"/><rect x="299" y="1171.3" width="31.6" height="31.5" fill="#F4A582"/><rect x="330.6" y="1171.3" width="31.6" height="31.5" fill="#F6AC8A"/><rect x="235.7" y="1202.8" width="31.6" height="31.5" fill="#BB2F33"/><rect x="267.3" y="1202.8" width="31.6" height="31.5" fill="#C2DDEC"/><rect x="299" y="1202.8" width="31.6" height="31.5" fill="#DFECF3"/><rect x="330.6" y="1202.8" width="31.6" height="31.5" fill="#B2D5E7"/><rect x="235.7" y="1234.3" width="31.6" height="31.5" fill="#A2CDE3"/><rect x="267.3" y="1234.3" width="31.6" height="31.5" fill="#84BBD9"/><rect x="299" y="1234.3" width="31.6" height="31.5" fill="#FBC7AD"/><rect x="330.6" y="1234.3" width="31.6" height="31.5" fill="#D25949"/></g><rect x="235.7" y="887.6" width="126.6" height="378.2" fill="none" stroke="#000" stroke-width="1.6"/><text transform="translate(229 912.2) scale(1.055 1)" font-size="26" text-anchor="end" font-style="italic">H2−K1</text><text transform="translate(229 943.7) scale(1.055 1)" font-size="26" text-anchor="end" font-style="italic">H2−D1</text><text transform="translate(229 975.2) scale(1.055 1)" font-size="26" text-anchor="end" font-style="italic">H2−Q6</text><text transform="translate(229 1006.7) scale(1.055 1)" font-size="26" text-anchor="end" font-style="italic">Tap1</text><text transform="translate(229 1038.2) scale(1.055 1)" font-size="26" text-anchor="end" font-style="italic">Tap2</text><text transform="translate(229 1069.8) scale(1.055 1)" font-size="26" text-anchor="end" font-style="italic">B2m</text><text transform="translate(229 1101.3) scale(1.055 1)" font-size="26" text-anchor="end" font-style="italic">Cd74</text><text transform="translate(229 1132.8) scale(1.055 1)" font-size="26" text-anchor="end" font-style="italic">Irf1</text><text transform="translate(229 1164.3) scale(1.055 1)" font-size="26" text-anchor="end" font-style="italic">Stat1</text><text transform="translate(229 1195.8) scale(1.055 1)" font-size="26" text-anchor="end" font-style="italic">Fcgr4</text><text transform="translate(229 1227.4) scale(1.055 1)" font-size="26" text-anchor="end" font-style="italic">Spp1</text><text transform="translate(229 1258.9) scale(1.055 1)" font-size="26" text-anchor="end" font-style="italic">Cxcl9</text><text transform="translate(235.5 1294.8) scale(1.04 1)" font-size="26.8" text-anchor="end">Control</text><text transform="translate(235.5 1324.9) scale(1.04 1)" font-size="26.8" text-anchor="end">aTIGIT-LALAPG</text><text transform="translate(235.5 1355.2) scale(1.04 1)" font-size="26.8" text-anchor="end">aTIGIT IgG2b</text><text transform="translate(235.5 1385.9) scale(1.04 1)" font-size="26.8" text-anchor="end">aTIGIT IgG2a</text><text x="254.9" y="1297.4" font-size="38" text-anchor="middle" stroke-width=".9">+</text><text x="287.4" y="1297.4" font-size="38" text-anchor="middle" stroke-width=".9">+</text><text x="319.9" y="1297.4" font-size="38" text-anchor="middle" stroke-width=".9">+</text><text x="352.3" y="1297.4" font-size="38" text-anchor="middle" stroke-width=".9">+</text><text x="287.4" y="1327.5" font-size="38" text-anchor="middle" stroke-width=".9">+</text><text x="319.9" y="1357.8" font-size="38" text-anchor="middle" stroke-width=".9">+</text><text x="352.3" y="1388.5" font-size="38" text-anchor="middle" stroke-width=".9">+</text><defs><linearGradient id="lg1" x1="0" y1="0" x2="0" y2="1"><stop offset="0%" stop-color="#67001F"/><stop offset="4.2%" stop-color="#760322"/><stop offset="8.3%" stop-color="#970F27"/><stop offset="12.5%" stop-color="#B6222E"/><stop offset="16.7%" stop-color="#C6443D"/><stop offset="20.8%" stop-color="#D55F4C"/><stop offset="25%" stop-color="#E47E63"/><stop offset="29.2%" stop-color="#F09C7B"/><stop offset="33.3%" stop-color="#F8B697"/><stop offset="37.5%" stop-color="#FCCEB6"/><stop offset="41.7%" stop-color="#FCE1D0"/><stop offset="45.8%" stop-color="#FAEDE6"/><stop offset="50%" stop-color="#F4F5F6"/><stop offset="54.2%" stop-color="#E3EDF3"/><stop offset="58.3%" stop-color="#D2E6F0"/><stop offset="62.5%" stop-color="#B8D8E9"/><stop offset="66.7%" stop-color="#9BCAE1"/><stop offset="70.8%" stop-color="#7DB6D6"/><stop offset="75%" stop-color="#5BA0CA"/><stop offset="79.2%" stop-color="#3E8BBF"/><stop offset="83.3%" stop-color="#3076B5"/><stop offset="87.5%" stop-color="#1F62A7"/><stop offset="91.7%" stop-color="#134985"/><stop offset="95.8%" stop-color="#063264"/><stop offset="100%" stop-color="#053061"/></linearGradient></defs><rect x="373.9" y="1005.7" width="26" height="125.4" fill="url(#lg1)"/><path d="M373.9 1008.4h6M393.9 1008.4h6" stroke="#fff" stroke-width="1.4"/><text transform="translate(406.2 1015.8) scale(1.22 1)" font-size="17.8">2</text><path d="M373.9 1037.9h6M393.9 1037.9h6" stroke="#fff" stroke-width="1.4"/><text transform="translate(406.2 1045.3) scale(1.22 1)" font-size="17.8">1</text><path d="M373.9 1067.4h6M393.9 1067.4h6" stroke="#fff" stroke-width="1.4"/><text transform="translate(406.2 1074.8) scale(1.22 1)" font-size="17.8">0</text><path d="M373.9 1096.9h6M393.9 1096.9h6" stroke="#fff" stroke-width="1.4"/><text transform="translate(406.2 1104.3) scale(1.22 1)" font-size="17.8">−1</text><path d="M373.9 1126.4h6M393.9 1126.4h6" stroke="#fff" stroke-width="1.4"/><text transform="translate(406.2 1133.8) scale(1.22 1)" font-size="17.8">−2</text><text transform="translate(374.6 994.6) scale(1.115 1)" font-size="19.5" font-weight="bold">Scaled Exp</text><text transform="translate(113.6 1083.7) rotate(-90)" font-size="39.5" text-anchor="middle">Tumor TAM</text><g stroke="#969696" stroke-width="1.2"><rect x="809.7" y="808.6" width="31.6" height="31.6" fill="#B2D5E7"/><rect x="841.3" y="808.6" width="31.6" height="31.6" fill="#72AED2"/><rect x="872.9" y="808.6" width="31.6" height="31.6" fill="#F7B293"/><rect x="904.4" y="808.6" width="31.6" height="31.6" fill="#E68367"/><rect x="809.7" y="840.1" width="31.6" height="31.6" fill="#D1E5F0"/><rect x="841.3" y="840.1" width="31.6" height="31.6" fill="#DA6953"/><rect x="872.9" y="840.1" width="31.6" height="31.6" fill="#539CC8"/><rect x="904.4" y="840.1" width="31.6" height="31.6" fill="#FCE2D3"/><rect x="809.7" y="871.7" width="31.6" height="31.6" fill="#AAD1E5"/><rect x="841.3" y="871.7" width="31.6" height="31.6" fill="#E4EEF4"/><rect x="872.9" y="871.7" width="31.6" height="31.6" fill="#C2DDEC"/><rect x="904.4" y="871.7" width="31.6" height="31.6" fill="#BB2F33"/><rect x="809.7" y="903.2" width="31.6" height="31.6" fill="#B2D5E7"/><rect x="841.3" y="903.2" width="31.6" height="31.6" fill="#A2CDE3"/><rect x="872.9" y="903.2" width="31.6" height="31.6" fill="#F9F0EB"/><rect x="904.4" y="903.2" width="31.6" height="31.6" fill="#C03837"/><rect x="809.7" y="934.8" width="31.6" height="31.6" fill="#FBC7AD"/><rect x="841.3" y="934.8" width="31.6" height="31.6" fill="#E9F0F4"/><rect x="872.9" y="934.8" width="31.6" height="31.6" fill="#3D8ABE"/><rect x="904.4" y="934.8" width="31.6" height="31.6" fill="#E68367"/><rect x="809.7" y="966.4" width="31.6" height="31.6" fill="#AAD1E5"/><rect x="841.3" y="966.4" width="31.6" height="31.6" fill="#B2D5E7"/><rect x="872.9" y="966.4" width="31.6" height="31.6" fill="#EEF2F5"/><rect x="904.4" y="966.4" width="31.6" height="31.6" fill="#BB2F33"/><rect x="809.7" y="997.9" width="31.6" height="31.6" fill="#A2CDE3"/><rect x="841.3" y="997.9" width="31.6" height="31.6" fill="#E4EEF4"/><rect x="872.9" y="997.9" width="31.6" height="31.6" fill="#BAD9E9"/><rect x="904.4" y="997.9" width="31.6" height="31.6" fill="#BB2F33"/><rect x="809.7" y="1029.5" width="31.6" height="31.6" fill="#84BBD9"/><rect x="841.3" y="1029.5" width="31.6" height="31.6" fill="#C9E1EE"/><rect x="872.9" y="1029.5" width="31.6" height="31.6" fill="#E4EEF4"/><rect x="904.4" y="1029.5" width="31.6" height="31.6" fill="#BB2F33"/><rect x="809.7" y="1061" width="31.6" height="31.6" fill="#D1E5F0"/><rect x="841.3" y="1061" width="31.6" height="31.6" fill="#B2D5E7"/><rect x="872.9" y="1061" width="31.6" height="31.6" fill="#D1E5F0"/><rect x="904.4" y="1061" width="31.6" height="31.6" fill="#BB2F33"/><rect x="809.7" y="1092.5" width="31.6" height="31.6" fill="#F9F0EB"/><rect x="841.3" y="1092.5" width="31.6" height="31.6" fill="#FAC0A4"/><rect x="872.9" y="1092.5" width="31.6" height="31.6" fill="#ED9474"/><rect x="904.4" y="1092.5" width="31.6" height="31.6" fill="#367EB9"/><rect x="809.7" y="1124.1" width="31.6" height="31.6" fill="#ED9474"/><rect x="841.3" y="1124.1" width="31.6" height="31.6" fill="#F4A582"/><rect x="872.9" y="1124.1" width="31.6" height="31.6" fill="#B2D5E7"/><rect x="904.4" y="1124.1" width="31.6" height="31.6" fill="#7BB4D5"/><rect x="809.7" y="1155.7" width="31.6" height="31.6" fill="#D1E5F0"/><rect x="841.3" y="1155.7" width="31.6" height="31.6" fill="#D6604D"/><rect x="872.9" y="1155.7" width="31.6" height="31.6" fill="#FCE2D3"/><rect x="904.4" y="1155.7" width="31.6" height="31.6" fill="#5EA2CB"/><rect x="809.7" y="1187.2" width="31.6" height="31.6" fill="#F7F7F7"/><rect x="841.3" y="1187.2" width="31.6" height="31.6" fill="#D6604D"/><rect x="872.9" y="1187.2" width="31.6" height="31.6" fill="#FBE9DF"/><rect x="904.4" y="1187.2" width="31.6" height="31.6" fill="#3D8ABE"/><rect x="809.7" y="1218.8" width="31.6" height="31.6" fill="#DFECF3"/><rect x="841.3" y="1218.8" width="31.6" height="31.6" fill="#C03837"/><rect x="872.9" y="1218.8" width="31.6" height="31.6" fill="#D6E7F1"/><rect x="904.4" y="1218.8" width="31.6" height="31.6" fill="#84BBD9"/><rect x="809.7" y="1250.3" width="31.6" height="31.6" fill="#BB2F33"/><rect x="841.3" y="1250.3" width="31.6" height="31.6" fill="#7BB4D5"/><rect x="872.9" y="1250.3" width="31.6" height="31.6" fill="#D1E5F0"/><rect x="904.4" y="1250.3" width="31.6" height="31.6" fill="#E4EEF4"/><rect x="809.7" y="1281.8" width="31.6" height="31.6" fill="#FBE9DF"/><rect x="841.3" y="1281.8" width="31.6" height="31.6" fill="#F19D7B"/><rect x="872.9" y="1281.8" width="31.6" height="31.6" fill="#FDDECD"/><rect x="904.4" y="1281.8" width="31.6" height="31.6" fill="#367EB9"/><rect x="809.7" y="1313.4" width="31.6" height="31.6" fill="#C2DDEC"/><rect x="841.3" y="1313.4" width="31.6" height="31.6" fill="#F7B293"/><rect x="872.9" y="1313.4" width="31.6" height="31.6" fill="#E68367"/><rect x="904.4" y="1313.4" width="31.6" height="31.6" fill="#539CC8"/></g><rect x="809.7" y="808.6" width="126.3" height="536.4" fill="none" stroke="#000" stroke-width="1.6"/><text transform="translate(802.3 833.2) scale(1.055 1)" font-size="26" text-anchor="end" font-style="italic">Klf2</text><text transform="translate(802.3 864.7) scale(1.055 1)" font-size="26" text-anchor="end" font-style="italic">Ccr7</text><text transform="translate(802.3 896.3) scale(1.055 1)" font-size="26" text-anchor="end" font-style="italic">Sell</text><text transform="translate(802.3 927.8) scale(1.055 1)" font-size="26" text-anchor="end" font-style="italic">Itgb7</text><text transform="translate(802.3 959.4) scale(1.055 1)" font-size="26" text-anchor="end" font-style="italic">Il7r</text><text transform="translate(802.3 990.9) scale(1.055 1)" font-size="26" text-anchor="end" font-style="italic">Slamf6</text><text transform="translate(802.3 1022.5) scale(1.055 1)" font-size="26" text-anchor="end" font-style="italic">Tcf7</text><text transform="translate(802.3 1054) scale(1.055 1)" font-size="26" text-anchor="end" font-style="italic">Lef1</text><text transform="translate(802.3 1085.6) scale(1.055 1)" font-size="26" text-anchor="end" font-style="italic">S1pr1</text><text transform="translate(802.3 1117.1) scale(1.055 1)" font-size="26" text-anchor="end" font-style="italic">Tox</text><text transform="translate(802.3 1148.7) scale(1.055 1)" font-size="26" text-anchor="end" font-style="italic">Havcr2</text><text transform="translate(802.3 1180.2) scale(1.055 1)" font-size="26" text-anchor="end" font-style="italic">Nr4a2</text><text transform="translate(802.3 1211.8) scale(1.055 1)" font-size="26" text-anchor="end" font-style="italic">Lag3</text><text transform="translate(802.3 1243.3) scale(1.055 1)" font-size="26" text-anchor="end" font-style="italic">Pdcd1</text><text transform="translate(802.3 1274.9) scale(1.055 1)" font-size="26" text-anchor="end" font-style="italic">Id2</text><text transform="translate(802.3 1306.4) scale(1.055 1)" font-size="26" text-anchor="end" font-style="italic">Tigit</text><text transform="translate(802.3 1338) scale(1.055 1)" font-size="26" text-anchor="end" font-style="italic">Cxcr6</text><line x1="634" y1="1093.5" x2="936" y2="1093.5" stroke="#000" stroke-width="2.4" stroke-dasharray="5.8 2.6"/><text transform="translate(803.8 1372.9) scale(1.04 1)" font-size="26.8" text-anchor="end">Control</text><text transform="translate(803.8 1403.2) scale(1.04 1)" font-size="26.8" text-anchor="end">aTIGIT-LALAPG</text><text transform="translate(803.8 1433.5) scale(1.04 1)" font-size="26.8" text-anchor="end">aTIGIT IgG2b</text><text transform="translate(803.8 1463.8) scale(1.04 1)" font-size="26.8" text-anchor="end">aTIGIT IgG2a</text><text x="823.6" y="1375.5" font-size="38" text-anchor="middle" stroke-width=".9">+</text><text x="855.9" y="1375.5" font-size="38" text-anchor="middle" stroke-width=".9">+</text><text x="888.6" y="1375.5" font-size="38" text-anchor="middle" stroke-width=".9">+</text><text x="920.4" y="1375.5" font-size="38" text-anchor="middle" stroke-width=".9">+</text><text x="855.9" y="1405.8" font-size="38" text-anchor="middle" stroke-width=".9">+</text><text x="888.6" y="1436.1" font-size="38" text-anchor="middle" stroke-width=".9">+</text><text x="920.4" y="1466.4" font-size="38" text-anchor="middle" stroke-width=".9">+</text><defs><linearGradient id="lg2" x1="0" y1="0" x2="0" y2="1"><stop offset="0%" stop-color="#67001F"/><stop offset="4.2%" stop-color="#760322"/><stop offset="8.3%" stop-color="#970F27"/><stop offset="12.5%" stop-color="#B6222E"/><stop offset="16.7%" stop-color="#C6433D"/><stop offset="20.8%" stop-color="#D55F4C"/><stop offset="25%" stop-color="#E37E63"/><stop offset="29.2%" stop-color="#F09C7A"/><stop offset="33.3%" stop-color="#F8B596"/><stop offset="37.5%" stop-color="#FCCDB5"/><stop offset="41.7%" stop-color="#FCE0D0"/><stop offset="45.8%" stop-color="#FAEDE5"/><stop offset="50%" stop-color="#F4F6F7"/><stop offset="54.2%" stop-color="#E4EEF3"/><stop offset="58.3%" stop-color="#D3E6F0"/><stop offset="62.5%" stop-color="#B9D8E9"/><stop offset="66.7%" stop-color="#9DCAE1"/><stop offset="70.8%" stop-color="#7EB7D7"/><stop offset="75%" stop-color="#5DA1CB"/><stop offset="79.2%" stop-color="#3F8CBF"/><stop offset="83.3%" stop-color="#3178B5"/><stop offset="87.5%" stop-color="#2064A9"/><stop offset="91.7%" stop-color="#144B87"/><stop offset="95.8%" stop-color="#073466"/><stop offset="100%" stop-color="#053061"/></linearGradient></defs><rect x="947.2" y="1006.3" width="26" height="125" fill="url(#lg2)"/><path d="M947.2 1009h6M967.2 1009h6" stroke="#fff" stroke-width="1.4"/><text transform="translate(979.5 1016.4) scale(1.22 1)" font-size="17.8">2</text><path d="M947.2 1038.5h6M967.2 1038.5h6" stroke="#fff" stroke-width="1.4"/><text transform="translate(979.5 1045.9) scale(1.22 1)" font-size="17.8">1</text><path d="M947.2 1068h6M967.2 1068h6" stroke="#fff" stroke-width="1.4"/><text transform="translate(979.5 1075.4) scale(1.22 1)" font-size="17.8">0</text><path d="M947.2 1097.5h6M967.2 1097.5h6" stroke="#fff" stroke-width="1.4"/><text transform="translate(979.5 1104.9) scale(1.22 1)" font-size="17.8">−1</text><path d="M947.2 1127h6M967.2 1127h6" stroke="#fff" stroke-width="1.4"/><text transform="translate(979.5 1134.4) scale(1.22 1)" font-size="17.8">−2</text><text transform="translate(948 995.2) scale(1.115 1)" font-size="19.5" font-weight="bold">Scaled Exp</text><text transform="translate(616.8 1083.2) rotate(-90)" font-size="38.4" text-anchor="middle">Tumor CD8 T</text><text transform="translate(683.5 955) rotate(-90)" font-size="35" text-anchor="middle">Memory-like</text><text transform="translate(683.5 1226) rotate(-90)" font-size="34" text-anchor="middle">Exhausted</text><g stroke="#969696" stroke-width="1.2"><rect x="1319.6" y="918" width="31.6" height="31.6" fill="#D25949"/><rect x="1351.2" y="918" width="31.6" height="31.6" fill="#FAECE5"/><rect x="1382.8" y="918" width="31.6" height="31.6" fill="#E4EEF4"/><rect x="1414.3" y="918" width="31.6" height="31.6" fill="#4895C4"/><rect x="1319.6" y="949.6" width="31.6" height="31.6" fill="#FBE9DF"/><rect x="1351.2" y="949.6" width="31.6" height="31.6" fill="#72AED2"/><rect x="1382.8" y="949.6" width="31.6" height="31.6" fill="#C4413C"/><rect x="1414.3" y="949.6" width="31.6" height="31.6" fill="#C9E1EE"/><rect x="1319.6" y="981.3" width="31.6" height="31.6" fill="#F4A582"/><rect x="1351.2" y="981.3" width="31.6" height="31.6" fill="#F19D7B"/><rect x="1382.8" y="981.3" width="31.6" height="31.6" fill="#D6E7F1"/><rect x="1414.3" y="981.3" width="31.6" height="31.6" fill="#4190C1"/><rect x="1319.6" y="1013" width="31.6" height="31.6" fill="#FCE2D3"/><rect x="1351.2" y="1013" width="31.6" height="31.6" fill="#D6604D"/><rect x="1382.8" y="1013" width="31.6" height="31.6" fill="#DFECF3"/><rect x="1414.3" y="1013" width="31.6" height="31.6" fill="#4895C4"/><rect x="1319.6" y="1044.6" width="31.6" height="31.6" fill="#CD5144"/><rect x="1351.2" y="1044.6" width="31.6" height="31.6" fill="#FCE2D3"/><rect x="1382.8" y="1044.6" width="31.6" height="31.6" fill="#D1E5F0"/><rect x="1414.3" y="1044.6" width="31.6" height="31.6" fill="#68A8CE"/><rect x="1319.6" y="1076.2" width="31.6" height="31.6" fill="#F4A582"/><rect x="1351.2" y="1076.2" width="31.6" height="31.6" fill="#F7B293"/><rect x="1382.8" y="1076.2" width="31.6" height="31.6" fill="#F8F3F1"/><rect x="1414.3" y="1076.2" width="31.6" height="31.6" fill="#367EB9"/><rect x="1319.6" y="1107.9" width="31.6" height="31.6" fill="#F7B293"/><rect x="1351.2" y="1107.9" width="31.6" height="31.6" fill="#E68367"/><rect x="1382.8" y="1107.9" width="31.6" height="31.6" fill="#BAD9E9"/><rect x="1414.3" y="1107.9" width="31.6" height="31.6" fill="#72AED2"/><rect x="1319.6" y="1139.5" width="31.6" height="31.6" fill="#F9B99B"/><rect x="1351.2" y="1139.5" width="31.6" height="31.6" fill="#F7B293"/><rect x="1382.8" y="1139.5" width="31.6" height="31.6" fill="#FBE9DF"/><rect x="1414.3" y="1139.5" width="31.6" height="31.6" fill="#367EB9"/><rect x="1319.6" y="1171.2" width="31.6" height="31.6" fill="#E68367"/><rect x="1351.2" y="1171.2" width="31.6" height="31.6" fill="#F6AC8A"/><rect x="1382.8" y="1171.2" width="31.6" height="31.6" fill="#B2D5E7"/><rect x="1414.3" y="1171.2" width="31.6" height="31.6" fill="#7BB4D5"/><rect x="1319.6" y="1202.8" width="31.6" height="31.6" fill="#FDDECD"/><rect x="1351.2" y="1202.8" width="31.6" height="31.6" fill="#DE725A"/><rect x="1382.8" y="1202.8" width="31.6" height="31.6" fill="#DFECF3"/><rect x="1414.3" y="1202.8" width="31.6" height="31.6" fill="#4190C1"/></g><rect x="1319.6" y="918" width="126.3" height="316.5" fill="none" stroke="#000" stroke-width="1.6"/><text transform="translate(1312.2 942.6) scale(1.055 1)" font-size="26" text-anchor="end" font-style="italic">Il10</text><text transform="translate(1312.2 974.3) scale(1.055 1)" font-size="26" text-anchor="end" font-style="italic">Foxp3</text><text transform="translate(1312.2 1005.9) scale(1.055 1)" font-size="26" text-anchor="end" font-style="italic">Tnfrsf1b</text><text transform="translate(1312.2 1037.6) scale(1.055 1)" font-size="26" text-anchor="end" font-style="italic">Ccr8</text><text transform="translate(1312.2 1069.2) scale(1.055 1)" font-size="26" text-anchor="end" font-style="italic">Ccl5</text><text transform="translate(1312.2 1100.9) scale(1.055 1)" font-size="26" text-anchor="end" font-style="italic">Ccl4</text><text transform="translate(1312.2 1132.5) scale(1.055 1)" font-size="26" text-anchor="end" font-style="italic">Ctla4</text><text transform="translate(1312.2 1164.2) scale(1.055 1)" font-size="26" text-anchor="end" font-style="italic">Pdcd1</text><text transform="translate(1312.2 1195.8) scale(1.055 1)" font-size="26" text-anchor="end" font-style="italic">Lag3</text><text transform="translate(1312.2 1227.5) scale(1.055 1)" font-size="26" text-anchor="end" font-style="italic">Tigit</text><text transform="translate(1316.3 1262.9) scale(1.04 1)" font-size="26.8" text-anchor="end">Control</text><text transform="translate(1316.3 1293.2) scale(1.04 1)" font-size="26.8" text-anchor="end">aTIGIT-LALAPG</text><text transform="translate(1316.3 1323.9) scale(1.04 1)" font-size="26.8" text-anchor="end">aTIGIT IgG2b</text><text transform="translate(1316.3 1354.2) scale(1.04 1)" font-size="26.8" text-anchor="end">aTIGIT IgG2a</text><text x="1334.9" y="1265.5" font-size="38" text-anchor="middle" stroke-width=".9">+</text><text x="1367.4" y="1265.5" font-size="38" text-anchor="middle" stroke-width=".9">+</text><text x="1399.9" y="1265.5" font-size="38" text-anchor="middle" stroke-width=".9">+</text><text x="1431.7" y="1265.5" font-size="38" text-anchor="middle" stroke-width=".9">+</text><text x="1367.4" y="1295.8" font-size="38" text-anchor="middle" stroke-width=".9">+</text><text x="1399.9" y="1326.5" font-size="38" text-anchor="middle" stroke-width=".9">+</text><text x="1431.7" y="1356.8" font-size="38" text-anchor="middle" stroke-width=".9">+</text><defs><linearGradient id="lg3" x1="0" y1="0" x2="0" y2="1"><stop offset="0%" stop-color="#67001F"/><stop offset="4.2%" stop-color="#760322"/><stop offset="8.3%" stop-color="#970F27"/><stop offset="12.5%" stop-color="#B6222E"/><stop offset="16.7%" stop-color="#C6443D"/><stop offset="20.8%" stop-color="#D55F4C"/><stop offset="25%" stop-color="#E37E63"/><stop offset="29.2%" stop-color="#F09C7B"/><stop offset="33.3%" stop-color="#F8B697"/><stop offset="37.5%" stop-color="#FCCDB5"/><stop offset="41.7%" stop-color="#FCE0D0"/><stop offset="45.8%" stop-color="#FAEDE5"/><stop offset="50%" stop-color="#F4F6F6"/><stop offset="54.2%" stop-color="#E3EEF3"/><stop offset="58.3%" stop-color="#D3E6F0"/><stop offset="62.5%" stop-color="#B8D8E9"/><stop offset="66.7%" stop-color="#9CCAE1"/><stop offset="70.8%" stop-color="#7EB6D6"/><stop offset="75%" stop-color="#5CA0CA"/><stop offset="79.2%" stop-color="#3E8BBF"/><stop offset="83.3%" stop-color="#3077B5"/><stop offset="87.5%" stop-color="#1F63A8"/><stop offset="91.7%" stop-color="#134A86"/><stop offset="95.8%" stop-color="#063365"/><stop offset="100%" stop-color="#053061"/></linearGradient></defs><rect x="1457.3" y="1005.6" width="26" height="125.2" fill="url(#lg3)"/><path d="M1457.3 1008.3h6M1477.3 1008.3h6" stroke="#fff" stroke-width="1.4"/><text transform="translate(1489.6 1015.7) scale(1.22 1)" font-size="17.8">2</text><path d="M1457.3 1037.8h6M1477.3 1037.8h6" stroke="#fff" stroke-width="1.4"/><text transform="translate(1489.6 1045.2) scale(1.22 1)" font-size="17.8">1</text><path d="M1457.3 1067.3h6M1477.3 1067.3h6" stroke="#fff" stroke-width="1.4"/><text transform="translate(1489.6 1074.7) scale(1.22 1)" font-size="17.8">0</text><path d="M1457.3 1096.8h6M1477.3 1096.8h6" stroke="#fff" stroke-width="1.4"/><text transform="translate(1489.6 1104.2) scale(1.22 1)" font-size="17.8">−1</text><path d="M1457.3 1126.3h6M1477.3 1126.3h6" stroke="#fff" stroke-width="1.4"/><text transform="translate(1489.6 1133.7) scale(1.22 1)" font-size="17.8">−2</text><text transform="translate(1458.2 994.5) scale(1.115 1)" font-size="19.5" font-weight="bold">Scaled Exp</text><text transform="translate(1183.8 1084.3) rotate(-90)" font-size="38.7" text-anchor="middle">Tumor Treg</text><g stroke="#8c8c8c" stroke-width="1.8"><rect x="1575.8" y="1510.9" width="43" height="41.7" fill="#F98F52"/><rect x="1618.8" y="1510.9" width="43" height="41.7" fill="#FFFBB9"/><rect x="1661.7" y="1510.9" width="43" height="41.7" fill="#82B8D7"/><rect x="1575.8" y="1552.6" width="43" height="41.7" fill="#F8874E"/><rect x="1618.8" y="1552.6" width="43" height="41.7" fill="#FFFDBB"/><rect x="1661.7" y="1552.6" width="43" height="41.7" fill="#89BDDA"/><rect x="1575.8" y="1594.4" width="43" height="41.7" fill="#FCA65D"/><rect x="1618.8" y="1594.4" width="43" height="41.7" fill="#FFEEA5"/><rect x="1661.7" y="1594.4" width="43" height="41.7" fill="#7BB2D4"/><rect x="1575.8" y="1636.1" width="43" height="41.7" fill="#7BB2D4"/><rect x="1618.8" y="1636.1" width="43" height="41.7" fill="#FFF7B3"/><rect x="1661.7" y="1636.1" width="43" height="41.7" fill="#FB9B58"/><rect x="1575.8" y="1677.8" width="43" height="41.7" fill="#A4D3E6"/><rect x="1618.8" y="1677.8" width="43" height="41.7" fill="#EFF8DF"/><rect x="1661.7" y="1677.8" width="43" height="41.7" fill="#F77E4A"/><rect x="1575.8" y="1719.6" width="43" height="41.7" fill="#9ECEE3"/><rect x="1618.8" y="1719.6" width="43" height="41.7" fill="#F1F9DC"/><rect x="1661.7" y="1719.6" width="43" height="41.7" fill="#F7824C"/><rect x="1575.8" y="1761.3" width="43" height="41.7" fill="#B9DFED"/><rect x="1618.8" y="1761.3" width="43" height="41.7" fill="#D3ECF4"/><rect x="1661.7" y="1761.3" width="43" height="41.7" fill="#F57647"/></g><rect x="1575.8" y="1510.9" width="128.9" height="292.1" fill="none" stroke="#000" stroke-width="2.2"/><g stroke="#8c8c8c" stroke-width="1.8"><rect x="1575.8" y="1812.6" width="43" height="41.8" fill="#FFF7B3"/><rect x="1618.8" y="1812.6" width="43" height="41.8" fill="#FA9755"/><rect x="1661.7" y="1812.6" width="43" height="41.8" fill="#82B8D7"/><rect x="1575.8" y="1854.4" width="43" height="41.8" fill="#B9DFED"/><rect x="1618.8" y="1854.4" width="43" height="41.8" fill="#F57647"/><rect x="1661.7" y="1854.4" width="43" height="41.8" fill="#DAF0F6"/><rect x="1575.8" y="1896.3" width="43" height="41.8" fill="#FB9F59"/><rect x="1618.8" y="1896.3" width="43" height="41.8" fill="#FFF3AD"/><rect x="1661.7" y="1896.3" width="43" height="41.8" fill="#7BB2D4"/><rect x="1575.8" y="1938.1" width="43" height="41.8" fill="#9ECEE3"/><rect x="1618.8" y="1938.1" width="43" height="41.8" fill="#EDF7E3"/><rect x="1661.7" y="1938.1" width="43" height="41.8" fill="#F77E4A"/></g><rect x="1575.8" y="1812.6" width="128.9" height="167.3" fill="none" stroke="#000" stroke-width="2.2"/><text transform="translate(1568.3 1542.4) scale(1.093 1)" font-size="32.2" text-anchor="end" font-style="italic">Ly6c1</text><text transform="translate(1568.3 1584.1) scale(1.093 1)" font-size="32.2" text-anchor="end" font-style="italic">Ly6c2</text><text transform="translate(1568.3 1625.8) scale(1.093 1)" font-size="32.2" text-anchor="end" font-style="italic">Ccr2</text><text transform="translate(1568.3 1667.6) scale(1.093 1)" font-size="32.2" text-anchor="end" font-style="italic">Cx3cr1</text><text transform="translate(1568.3 1709.3) scale(1.093 1)" font-size="32.2" text-anchor="end" font-style="italic">Spn</text><text transform="translate(1568.3 1751) scale(1.093 1)" font-size="32.2" text-anchor="end" font-style="italic">Nr4a1</text><text transform="translate(1568.3 1792.7) scale(1.093 1)" font-size="32.2" text-anchor="end" font-style="italic">Cd36</text><text transform="translate(1568.3 1844.1) scale(1.093 1)" font-size="32.2" text-anchor="end" font-style="italic">Fcgr1</text><text transform="translate(1568.3 1885.9) scale(1.093 1)" font-size="32.2" text-anchor="end" font-style="italic">Fcgr2b</text><text transform="translate(1568.3 1927.8) scale(1.093 1)" font-size="32.2" text-anchor="end" font-style="italic">Fcgr3</text><text transform="translate(1568.3 1969.6) scale(1.093 1)" font-size="32.2" text-anchor="end" font-style="italic">Fcgr4</text><text transform="translate(1609.3 1998.5) rotate(-45) scale(1.093 1)" font-size="32.2" text-anchor="end">Mono_Ly6c_high</text><text transform="translate(1659.8 1998.5) rotate(-45) scale(1.093 1)" font-size="32.2" text-anchor="end">Mono_int</text><text transform="translate(1709.2 1998.5) rotate(-45) scale(1.093 1)" font-size="32.2" text-anchor="end">Mono_Ly6c_low</text><defs><linearGradient id="lg4" x1="0" y1="0" x2="0" y2="1"><stop offset="0%" stop-color="#A50026"/><stop offset="4.2%" stop-color="#AE0C26"/><stop offset="8.3%" stop-color="#C42227"/><stop offset="12.5%" stop-color="#D93529"/><stop offset="16.7%" stop-color="#E65235"/><stop offset="20.8%" stop-color="#F36B42"/><stop offset="25%" stop-color="#F8884F"/><stop offset="29.2%" stop-color="#FCA45C"/><stop offset="33.3%" stop-color="#FEBC6E"/><stop offset="37.5%" stop-color="#FFD283"/><stop offset="41.7%" stop-color="#FEE598"/><stop offset="45.8%" stop-color="#FFF3AC"/><stop offset="50%" stop-color="#FEFEC2"/><stop offset="54.2%" stop-color="#F1F9DB"/><stop offset="58.3%" stop-color="#E2F4F4"/><stop offset="62.5%" stop-color="#CCE9F2"/><stop offset="66.7%" stop-color="#B5DEEC"/><stop offset="70.8%" stop-color="#9DCDE3"/><stop offset="75%" stop-color="#85BAD8"/><stop offset="79.2%" stop-color="#6EA5CD"/><stop offset="83.3%" stop-color="#598CC0"/><stop offset="87.5%" stop-color="#4573B3"/><stop offset="91.7%" stop-color="#3E57A5"/><stop offset="95.8%" stop-color="#333B98"/><stop offset="100%" stop-color="#313695"/></linearGradient></defs><rect x="1719.7" y="1674.5" width="35.2" height="169.5" fill="url(#lg4)"/><path d="M1719.7 1678.6h8.1M1746.8 1678.6h8.1" stroke="#fff" stroke-width="1.4"/><text transform="translate(1762.6 1689.3) scale(1.07 1)" font-size="27">2</text><path d="M1719.7 1718.5h8.1M1746.8 1718.5h8.1" stroke="#fff" stroke-width="1.4"/><text transform="translate(1762.6 1729.2) scale(1.07 1)" font-size="27">1</text><path d="M1719.7 1758.4h8.1M1746.8 1758.4h8.1" stroke="#fff" stroke-width="1.4"/><text transform="translate(1762.6 1769.1) scale(1.07 1)" font-size="27">0</text><path d="M1719.7 1798.4h8.1M1746.8 1798.4h8.1" stroke="#fff" stroke-width="1.4"/><text transform="translate(1762.6 1809) scale(1.07 1)" font-size="27">−1</text><path d="M1719.7 1838.3h8.1M1746.8 1838.3h8.1" stroke="#fff" stroke-width="1.4"/><text transform="translate(1762.6 1849) scale(1.07 1)" font-size="27">−2</text><text transform="translate(1722.3 1661.3) scale(1.113 1)" font-size="26.5" font-weight="bold">Scaled Exp</text><g stroke="#969696" stroke-width="1.2"><rect x="293.4" y="2381.3" width="31.5" height="31.5" fill="#D1E5F0"/><rect x="324.9" y="2381.3" width="31.5" height="31.5" fill="#BAD9E9"/><rect x="356.5" y="2381.3" width="31.5" height="31.5" fill="#4190C1"/><rect x="388" y="2381.3" width="31.5" height="31.5" fill="#8DC1DC"/><rect x="419.6" y="2381.3" width="31.5" height="31.5" fill="#4895C4"/><rect x="451.1" y="2381.3" width="31.5" height="31.5" fill="#B2D5E7"/><rect x="482.6" y="2381.3" width="31.5" height="31.5" fill="#4895C4"/><rect x="514.2" y="2381.3" width="31.5" height="31.5" fill="#68A8CE"/><rect x="545.7" y="2381.3" width="31.5" height="31.5" fill="#B2D5E7"/><rect x="577.3" y="2381.3" width="31.5" height="31.5" fill="#84BBD9"/><rect x="608.8" y="2381.3" width="31.5" height="31.5" fill="#C9E1EE"/><rect x="640.3" y="2381.3" width="31.5" height="31.5" fill="#7BB4D5"/><rect x="671.9" y="2381.3" width="31.5" height="31.5" fill="#C2DDEC"/><rect x="703.4" y="2381.3" width="31.5" height="31.5" fill="#8DC1DC"/><rect x="735" y="2381.3" width="31.5" height="31.5" fill="#3D8ABE"/><rect x="766.5" y="2381.3" width="31.5" height="31.5" fill="#A2CDE3"/><rect x="798" y="2381.3" width="31.5" height="31.5" fill="#3D8ABE"/><rect x="829.6" y="2381.3" width="31.5" height="31.5" fill="#367EB9"/><rect x="861.1" y="2381.3" width="31.5" height="31.5" fill="#3279B6"/><rect x="892.7" y="2381.3" width="31.5" height="31.5" fill="#7BB4D5"/><rect x="924.2" y="2381.3" width="31.5" height="31.5" fill="#539CC8"/><rect x="955.7" y="2381.3" width="31.5" height="31.5" fill="#84BBD9"/><rect x="987.3" y="2381.3" width="31.5" height="31.5" fill="#5EA2CB"/><rect x="1018.8" y="2381.3" width="31.5" height="31.5" fill="#DBE9F2"/><rect x="1050.4" y="2381.3" width="31.5" height="31.5" fill="#AAD1E5"/><rect x="1081.9" y="2381.3" width="31.5" height="31.5" fill="#84BBD9"/><rect x="293.4" y="2412.8" width="31.5" height="31.5" fill="#A2CDE3"/><rect x="324.9" y="2412.8" width="31.5" height="31.5" fill="#E4EEF4"/><rect x="356.5" y="2412.8" width="31.5" height="31.5" fill="#DFECF3"/><rect x="388" y="2412.8" width="31.5" height="31.5" fill="#E9F0F4"/><rect x="419.6" y="2412.8" width="31.5" height="31.5" fill="#D1E5F0"/><rect x="451.1" y="2412.8" width="31.5" height="31.5" fill="#DFECF3"/><rect x="482.6" y="2412.8" width="31.5" height="31.5" fill="#D1E5F0"/><rect x="514.2" y="2412.8" width="31.5" height="31.5" fill="#D6E7F1"/><rect x="545.7" y="2412.8" width="31.5" height="31.5" fill="#D6E7F1"/><rect x="577.3" y="2412.8" width="31.5" height="31.5" fill="#D1E5F0"/><rect x="608.8" y="2412.8" width="31.5" height="31.5" fill="#D6E7F1"/><rect x="640.3" y="2412.8" width="31.5" height="31.5" fill="#F7F7F7"/><rect x="671.9" y="2412.8" width="31.5" height="31.5" fill="#EEF2F5"/><rect x="703.4" y="2412.8" width="31.5" height="31.5" fill="#DBE9F2"/><rect x="735" y="2412.8" width="31.5" height="31.5" fill="#F7B293"/><rect x="766.5" y="2412.8" width="31.5" height="31.5" fill="#AAD1E5"/><rect x="798" y="2412.8" width="31.5" height="31.5" fill="#FBE5D9"/><rect x="829.6" y="2412.8" width="31.5" height="31.5" fill="#F2F5F6"/><rect x="861.1" y="2412.8" width="31.5" height="31.5" fill="#FDDCC8"/><rect x="892.7" y="2412.8" width="31.5" height="31.5" fill="#E9F0F4"/><rect x="924.2" y="2412.8" width="31.5" height="31.5" fill="#FAC0A4"/><rect x="955.7" y="2412.8" width="31.5" height="31.5" fill="#DFECF3"/><rect x="987.3" y="2412.8" width="31.5" height="31.5" fill="#C9E1EE"/><rect x="1018.8" y="2412.8" width="31.5" height="31.5" fill="#BAD9E9"/><rect x="1050.4" y="2412.8" width="31.5" height="31.5" fill="#B2D5E7"/><rect x="1081.9" y="2412.8" width="31.5" height="31.5" fill="#F2F5F6"/><rect x="293.4" y="2444.3" width="31.5" height="31.5" fill="#DFECF3"/><rect x="324.9" y="2444.3" width="31.5" height="31.5" fill="#B2D5E7"/><rect x="356.5" y="2444.3" width="31.5" height="31.5" fill="#FCE2D3"/><rect x="388" y="2444.3" width="31.5" height="31.5" fill="#C9E1EE"/><rect x="419.6" y="2444.3" width="31.5" height="31.5" fill="#FDDCC8"/><rect x="451.1" y="2444.3" width="31.5" height="31.5" fill="#BAD9E9"/><rect x="482.6" y="2444.3" width="31.5" height="31.5" fill="#FDDCC8"/><rect x="514.2" y="2444.3" width="31.5" height="31.5" fill="#F8F3F1"/><rect x="545.7" y="2444.3" width="31.5" height="31.5" fill="#D1E5F0"/><rect x="577.3" y="2444.3" width="31.5" height="31.5" fill="#E9F0F4"/><rect x="608.8" y="2444.3" width="31.5" height="31.5" fill="#B2D5E7"/><rect x="640.3" y="2444.3" width="31.5" height="31.5" fill="#C2DDEC"/><rect x="671.9" y="2444.3" width="31.5" height="31.5" fill="#7BB4D5"/><rect x="703.4" y="2444.3" width="31.5" height="31.5" fill="#D1E5F0"/><rect x="735" y="2444.3" width="31.5" height="31.5" fill="#DBE9F2"/><rect x="766.5" y="2444.3" width="31.5" height="31.5" fill="#F7F7F7"/><rect x="798" y="2444.3" width="31.5" height="31.5" fill="#E9F0F4"/><rect x="829.6" y="2444.3" width="31.5" height="31.5" fill="#F9B99B"/><rect x="861.1" y="2444.3" width="31.5" height="31.5" fill="#F8F3F1"/><rect x="892.7" y="2444.3" width="31.5" height="31.5" fill="#DFECF3"/><rect x="924.2" y="2444.3" width="31.5" height="31.5" fill="#C9E1EE"/><rect x="955.7" y="2444.3" width="31.5" height="31.5" fill="#D6E7F1"/><rect x="987.3" y="2444.3" width="31.5" height="31.5" fill="#FBE9DF"/><rect x="1018.8" y="2444.3" width="31.5" height="31.5" fill="#B2D5E7"/><rect x="1050.4" y="2444.3" width="31.5" height="31.5" fill="#EEF2F5"/><rect x="1081.9" y="2444.3" width="31.5" height="31.5" fill="#C2DDEC"/><rect x="293.4" y="2475.8" width="31.5" height="31.5" fill="#BB2F33"/><rect x="324.9" y="2475.8" width="31.5" height="31.5" fill="#BB2F33"/><rect x="356.5" y="2475.8" width="31.5" height="31.5" fill="#D25949"/><rect x="388" y="2475.8" width="31.5" height="31.5" fill="#C03837"/><rect x="419.6" y="2475.8" width="31.5" height="31.5" fill="#D6604D"/><rect x="451.1" y="2475.8" width="31.5" height="31.5" fill="#BB2F33"/><rect x="482.6" y="2475.8" width="31.5" height="31.5" fill="#D6604D"/><rect x="514.2" y="2475.8" width="31.5" height="31.5" fill="#C4413C"/><rect x="545.7" y="2475.8" width="31.5" height="31.5" fill="#C03837"/><rect x="577.3" y="2475.8" width="31.5" height="31.5" fill="#C4413C"/><rect x="608.8" y="2475.8" width="31.5" height="31.5" fill="#C03837"/><rect x="640.3" y="2475.8" width="31.5" height="31.5" fill="#C03837"/><rect x="671.9" y="2475.8" width="31.5" height="31.5" fill="#C4413C"/><rect x="703.4" y="2475.8" width="31.5" height="31.5" fill="#C03837"/><rect x="735" y="2475.8" width="31.5" height="31.5" fill="#E98C6E"/><rect x="766.5" y="2475.8" width="31.5" height="31.5" fill="#C4413C"/><rect x="798" y="2475.8" width="31.5" height="31.5" fill="#D6604D"/><rect x="829.6" y="2475.8" width="31.5" height="31.5" fill="#F19D7B"/><rect x="861.1" y="2475.8" width="31.5" height="31.5" fill="#ED9474"/><rect x="892.7" y="2475.8" width="31.5" height="31.5" fill="#C4413C"/><rect x="924.2" y="2475.8" width="31.5" height="31.5" fill="#DA6953"/><rect x="955.7" y="2475.8" width="31.5" height="31.5" fill="#C03837"/><rect x="987.3" y="2475.8" width="31.5" height="31.5" fill="#C94940"/><rect x="1018.8" y="2475.8" width="31.5" height="31.5" fill="#BB2F33"/><rect x="1050.4" y="2475.8" width="31.5" height="31.5" fill="#C03837"/><rect x="1081.9" y="2475.8" width="31.5" height="31.5" fill="#C4413C"/></g><rect x="293.4" y="2381.3" width="820" height="126" fill="none" stroke="#000" stroke-width="1.6"/><text transform="translate(287.5 2397.4) scale(1.04 1)" font-size="26.8" text-anchor="end">Control</text><text transform="translate(287.5 2434.6) scale(1.04 1)" font-size="26.8" text-anchor="end">aTIGIT-LALAPG</text><text transform="translate(287.5 2471.4) scale(1.04 1)" font-size="26.8" text-anchor="end">aTIGIT IgG2b</text><text transform="translate(287.5 2507.8) scale(1.04 1)" font-size="26.8" text-anchor="end">aTIGIT IgG2a</text><text transform="translate(317.2 2376.3) rotate(-45) scale(1.065 1)" font-size="24.6">H2−T22</text><text transform="translate(348.7 2376.3) rotate(-45) scale(1.065 1)" font-size="24.6">H2−T23</text><text transform="translate(380.2 2376.3) rotate(-45) scale(1.065 1)" font-size="24.6">H2−K1</text><text transform="translate(411.8 2376.3) rotate(-45) scale(1.065 1)" font-size="24.6">H2−Ab1</text><text transform="translate(443.3 2376.3) rotate(-45) scale(1.065 1)" font-size="24.6">H2−Q6</text><text transform="translate(474.9 2376.3) rotate(-45) scale(1.065 1)" font-size="24.6">H2−Aa</text><text transform="translate(506.4 2376.3) rotate(-45) scale(1.065 1)" font-size="24.6">H2−Q4</text><text transform="translate(537.9 2376.3) rotate(-45) scale(1.065 1)" font-size="24.6">Tap2</text><text transform="translate(569.5 2376.3) rotate(-45) scale(1.065 1)" font-size="24.6">Ifi30</text><text transform="translate(601 2376.3) rotate(-45) scale(1.065 1)" font-size="24.6">Cd74</text><text transform="translate(632.6 2376.3) rotate(-45) scale(1.065 1)" font-size="24.6">H2−Eb1</text><text transform="translate(664.1 2376.3) rotate(-45) scale(1.065 1)" font-size="24.6">Psmb8</text><text transform="translate(695.6 2376.3) rotate(-45) scale(1.065 1)" font-size="24.6">Tap1</text><text transform="translate(727.2 2376.3) rotate(-45) scale(1.065 1)" font-size="24.6">Psmb9</text><text transform="translate(758.7 2376.3) rotate(-45) scale(1.065 1)" font-size="24.6">Ifnar2</text><text transform="translate(790.3 2376.3) rotate(-45) scale(1.065 1)" font-size="24.6">Ciita</text><text transform="translate(821.8 2376.3) rotate(-45) scale(1.065 1)" font-size="24.6">Itgb7</text><text transform="translate(853.3 2376.3) rotate(-45) scale(1.065 1)" font-size="24.6">Ifi35</text><text transform="translate(884.9 2376.3) rotate(-45) scale(1.065 1)" font-size="24.6">Irf1</text><text transform="translate(916.4 2376.3) rotate(-45) scale(1.065 1)" font-size="24.6">Bst2</text><text transform="translate(948 2376.3) rotate(-45) scale(1.065 1)" font-size="24.6">Klrk1</text><text transform="translate(979.5 2376.3) rotate(-45) scale(1.065 1)" font-size="24.6">Trafd1</text><text transform="translate(1011 2376.3) rotate(-45) scale(1.065 1)" font-size="24.6">Gbp9</text><text transform="translate(1042.6 2376.3) rotate(-45) scale(1.065 1)" font-size="24.6">Gbp3</text><text transform="translate(1074.1 2376.3) rotate(-45) scale(1.065 1)" font-size="24.6">Stat1</text><text transform="translate(1105.7 2376.3) rotate(-45) scale(1.065 1)" font-size="24.6">Havcr2</text><defs><linearGradient id="lg5" x1="0" y1="0" x2="0" y2="1"><stop offset="0%" stop-color="#67001F"/><stop offset="4.2%" stop-color="#770422"/><stop offset="8.3%" stop-color="#980F27"/><stop offset="12.5%" stop-color="#B6232E"/><stop offset="16.7%" stop-color="#C6443D"/><stop offset="20.8%" stop-color="#D65F4D"/><stop offset="25%" stop-color="#E47E63"/><stop offset="29.2%" stop-color="#F19C7B"/><stop offset="33.3%" stop-color="#F8B697"/><stop offset="37.5%" stop-color="#FCCEB6"/><stop offset="41.7%" stop-color="#FCE0D0"/><stop offset="45.8%" stop-color="#FAEDE6"/><stop offset="50%" stop-color="#F4F6F6"/><stop offset="54.2%" stop-color="#E3EEF3"/><stop offset="58.3%" stop-color="#D2E6F0"/><stop offset="62.5%" stop-color="#B8D8E9"/><stop offset="66.7%" stop-color="#9CCAE1"/><stop offset="70.8%" stop-color="#7DB6D6"/><stop offset="75%" stop-color="#5BA0CA"/><stop offset="79.2%" stop-color="#3E8BBF"/><stop offset="83.3%" stop-color="#3077B5"/><stop offset="87.5%" stop-color="#1F63A8"/><stop offset="91.7%" stop-color="#134A86"/><stop offset="95.8%" stop-color="#063365"/><stop offset="100%" stop-color="#053061"/></linearGradient></defs><rect x="1161.2" y="2382.8" width="25.9" height="125.4" fill="url(#lg5)"/><path d="M1161.2 2385.4h6M1181.1 2385.4h6" stroke="#fff" stroke-width="1.4"/><text transform="translate(1193.4 2392.8) scale(1.22 1)" font-size="17.8">2</text><path d="M1161.2 2415h6M1181.1 2415h6" stroke="#fff" stroke-width="1.4"/><text transform="translate(1193.4 2422.3) scale(1.22 1)" font-size="17.8">1</text><path d="M1161.2 2444.6h6M1181.1 2444.6h6" stroke="#fff" stroke-width="1.4"/><text transform="translate(1193.4 2451.9) scale(1.22 1)" font-size="17.8">0</text><path d="M1161.2 2474.1h6M1181.1 2474.1h6" stroke="#fff" stroke-width="1.4"/><text transform="translate(1193.4 2481.5) scale(1.22 1)" font-size="17.8">−1</text><path d="M1161.2 2503.7h6M1181.1 2503.7h6" stroke="#fff" stroke-width="1.4"/><text transform="translate(1193.4 2511.1) scale(1.22 1)" font-size="17.8">−2</text><text transform="translate(1162 2372.2) scale(1.115 1)" font-size="19.5" font-weight="bold">Scaled Exp</text><text x="506.6" y="2231.3" font-size="37.8" text-anchor="middle">Mono_Ly6c_low</text><text x="512.6" y="2276" font-size="38.2" text-anchor="middle">(non-classical monocytes)</text>
</svg>
</body></html>
